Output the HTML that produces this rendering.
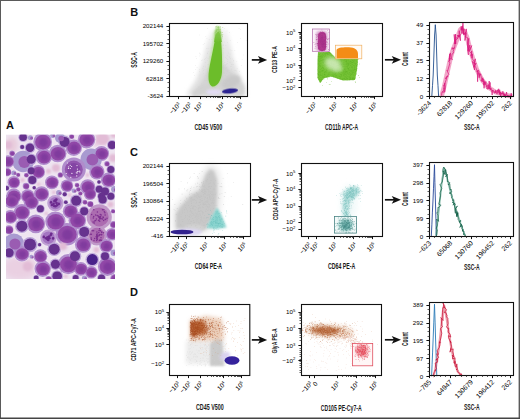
<!DOCTYPE html>
<html><head><meta charset="utf-8"><style>
html,body{margin:0;padding:0;background:#fff;}
svg{display:block;}
text{font-family:"Liberation Sans", sans-serif;}
</style></head><body>
<svg width="520" height="419" viewBox="0 0 520 419">
<rect x="0" y="0" width="520" height="419" fill="#fff"/>
<rect x="0" y="0" width="520" height="1" fill="#5a5a5a"/>
<rect x="0" y="0" width="1" height="419" fill="#5a5a5a"/>
<rect x="518.6" y="0" width="1.4" height="419" fill="#5a5a5a"/>
<rect x="0" y="417.5" width="520" height="1.5" fill="#444"/>
<defs>
<filter id="b03" x="0" y="0" width="100%" height="100%"><feGaussianBlur stdDeviation="0.35"/></filter>
<filter id="b05" x="-50%" y="-50%" width="200%" height="200%"><feGaussianBlur stdDeviation="0.5"/></filter>
<filter id="b1" x="-50%" y="-50%" width="200%" height="200%"><feGaussianBlur stdDeviation="1"/></filter>
<filter id="b15" x="-50%" y="-50%" width="200%" height="200%"><feGaussianBlur stdDeviation="1.5"/></filter>
<filter id="b2" x="-50%" y="-50%" width="200%" height="200%"><feGaussianBlur stdDeviation="2"/></filter>
<filter id="b3" x="-50%" y="-50%" width="200%" height="200%"><feGaussianBlur stdDeviation="3"/></filter>
<filter id="b4" x="-50%" y="-50%" width="200%" height="200%"><feGaussianBlur stdDeviation="4"/></filter>
<linearGradient id="gw" x1="0" y1="0" x2="0" y2="1"><stop offset="0" stop-color="#f4f4f4"/><stop offset="0.35" stop-color="#e4e4e4"/><stop offset="1" stop-color="#dedede"/></linearGradient>
<linearGradient id="gg" x1="0" y1="0" x2="0" y2="1"><stop offset="0" stop-color="#6cbd2a" stop-opacity="0.1"/><stop offset="0.45" stop-color="#8cc858" stop-opacity="0.6"/><stop offset="1" stop-color="#6cbd2a"/></linearGradient>
<clipPath id="cm"><rect x="6" y="134.5" width="109" height="144.5"/></clipPath>
</defs>
<g clip-path="url(#cm)"><g filter="url(#b03)">
<rect x="6" y="134.5" width="109" height="144.5" fill="#eee4f0"/>
<ellipse cx="20" cy="268" rx="18" ry="12" fill="#ead0e2" opacity="1" filter="url(#b3)"/>
<ellipse cx="100" cy="140" rx="10" ry="6" fill="#e4c4dc" opacity="1" filter="url(#b2)"/>
<ellipse cx="60" cy="244" rx="8" ry="6" fill="#e4d4ec" opacity="1" filter="url(#b2)"/>
<ellipse cx="45" cy="187" rx="6" ry="5" fill="#ead8ec" opacity="1" filter="url(#b2)"/>
<ellipse cx="26" cy="138" rx="6" ry="4" fill="#e8d4e4" opacity="1" filter="url(#b2)"/>
<ellipse cx="12" cy="145" rx="6" ry="8" fill="#e8ccdc" opacity="1" filter="url(#b2)"/>
<circle cx="23.1" cy="137.3" r="5.4" fill="#f0e8f4" opacity="0.85" filter="url(#b05)"/>
<circle cx="42.7" cy="141.9" r="10.6" fill="#f0e8f4" opacity="0.85" filter="url(#b05)"/>
<circle cx="64.6" cy="141.9" r="7.1" fill="#f0e8f4" opacity="0.85" filter="url(#b05)"/>
<circle cx="86.5" cy="139.6" r="9.9" fill="#f0e8f4" opacity="0.85" filter="url(#b05)"/>
<circle cx="30" cy="147.7" r="6.0" fill="#f0e8f4" opacity="0.85" filter="url(#b05)"/>
<circle cx="57.7" cy="153.5" r="9.9" fill="#f0e8f4" opacity="0.85" filter="url(#b05)"/>
<circle cx="73.8" cy="147.7" r="9.2" fill="#f0e8f4" opacity="0.85" filter="url(#b05)"/>
<circle cx="101.5" cy="153.5" r="8.5" fill="#f0e8f4" opacity="0.85" filter="url(#b05)"/>
<circle cx="23.1" cy="161.5" r="12.1" fill="#f0e8f4" opacity="0.85" filter="url(#b05)"/>
<circle cx="43.8" cy="156.9" r="9.2" fill="#f0e8f4" opacity="0.85" filter="url(#b05)"/>
<circle cx="31.2" cy="159.2" r="6.4" fill="#f0e8f4" opacity="0.85" filter="url(#b05)"/>
<circle cx="91.2" cy="159.2" r="12.1" fill="#f0e8f4" opacity="0.85" filter="url(#b05)"/>
<circle cx="8" cy="161.5" r="7.1" fill="#f0e8f4" opacity="0.85" filter="url(#b05)"/>
<circle cx="73.8" cy="169.6" r="13.5" fill="#f0e8f4" opacity="0.85" filter="url(#b05)"/>
<circle cx="38.1" cy="171.9" r="7.8" fill="#f0e8f4" opacity="0.85" filter="url(#b05)"/>
<circle cx="31.2" cy="170.8" r="5.0" fill="#f0e8f4" opacity="0.85" filter="url(#b05)"/>
<circle cx="96.9" cy="171.9" r="8.5" fill="#f0e8f4" opacity="0.85" filter="url(#b05)"/>
<circle cx="110.8" cy="169.6" r="5.0" fill="#f0e8f4" opacity="0.85" filter="url(#b05)"/>
<circle cx="108.5" cy="180" r="8.5" fill="#f0e8f4" opacity="0.85" filter="url(#b05)"/>
<circle cx="51.9" cy="182.3" r="7.8" fill="#f0e8f4" opacity="0.85" filter="url(#b05)"/>
<circle cx="32.3" cy="180" r="5.7" fill="#f0e8f4" opacity="0.85" filter="url(#b05)"/>
<circle cx="13.8" cy="182.3" r="7.1" fill="#f0e8f4" opacity="0.85" filter="url(#b05)"/>
<circle cx="66.9" cy="185.8" r="7.1" fill="#f0e8f4" opacity="0.85" filter="url(#b05)"/>
<circle cx="87.7" cy="186.9" r="8.5" fill="#f0e8f4" opacity="0.85" filter="url(#b05)"/>
<circle cx="27.7" cy="196.2" r="7.8" fill="#f0e8f4" opacity="0.85" filter="url(#b05)"/>
<circle cx="13.8" cy="196.2" r="8.5" fill="#f0e8f4" opacity="0.85" filter="url(#b05)"/>
<circle cx="41.5" cy="193.8" r="8.5" fill="#f0e8f4" opacity="0.85" filter="url(#b05)"/>
<circle cx="99.2" cy="189.2" r="5.0" fill="#f0e8f4" opacity="0.85" filter="url(#b05)"/>
<circle cx="105" cy="191.5" r="5.7" fill="#f0e8f4" opacity="0.85" filter="url(#b05)"/>
<circle cx="110.8" cy="196.2" r="5.0" fill="#f0e8f4" opacity="0.85" filter="url(#b05)"/>
<circle cx="101.5" cy="196.2" r="5.0" fill="#f0e8f4" opacity="0.85" filter="url(#b05)"/>
<circle cx="90" cy="193.8" r="7.1" fill="#f0e8f4" opacity="0.85" filter="url(#b05)"/>
<circle cx="112" cy="145" r="5.7" fill="#f0e8f4" opacity="0.85" filter="url(#b05)"/>
<circle cx="60" cy="138" r="5.7" fill="#f0e8f4" opacity="0.85" filter="url(#b05)"/>
<circle cx="11.5" cy="200.8" r="8.5" fill="#f0e8f4" opacity="0.85" filter="url(#b05)"/>
<circle cx="31.2" cy="201.9" r="8.5" fill="#f0e8f4" opacity="0.85" filter="url(#b05)"/>
<circle cx="55.4" cy="203.1" r="9.2" fill="#f0e8f4" opacity="0.85" filter="url(#b05)"/>
<circle cx="76.2" cy="200.8" r="7.1" fill="#f0e8f4" opacity="0.85" filter="url(#b05)"/>
<circle cx="102.7" cy="199.6" r="5.7" fill="#f0e8f4" opacity="0.85" filter="url(#b05)"/>
<circle cx="21.9" cy="212.3" r="9.2" fill="#f0e8f4" opacity="0.85" filter="url(#b05)"/>
<circle cx="40.4" cy="208.8" r="5.0" fill="#f0e8f4" opacity="0.85" filter="url(#b05)"/>
<circle cx="70.4" cy="211.2" r="8.5" fill="#f0e8f4" opacity="0.85" filter="url(#b05)"/>
<circle cx="84.2" cy="211.2" r="5.7" fill="#f0e8f4" opacity="0.85" filter="url(#b05)"/>
<circle cx="99.2" cy="216.9" r="14.2" fill="#f0e8f4" opacity="0.85" filter="url(#b05)"/>
<circle cx="10.4" cy="216.9" r="7.8" fill="#f0e8f4" opacity="0.85" filter="url(#b05)"/>
<circle cx="35.8" cy="223.8" r="10.6" fill="#f0e8f4" opacity="0.85" filter="url(#b05)"/>
<circle cx="55.4" cy="221.5" r="11.4" fill="#f0e8f4" opacity="0.85" filter="url(#b05)"/>
<circle cx="21.9" cy="226.2" r="7.8" fill="#f0e8f4" opacity="0.85" filter="url(#b05)"/>
<circle cx="77.3" cy="220.4" r="9.9" fill="#f0e8f4" opacity="0.85" filter="url(#b05)"/>
<circle cx="48.5" cy="237.7" r="9.2" fill="#f0e8f4" opacity="0.85" filter="url(#b05)"/>
<circle cx="66.9" cy="234.2" r="12.8" fill="#f0e8f4" opacity="0.85" filter="url(#b05)"/>
<circle cx="84.2" cy="231.9" r="7.1" fill="#f0e8f4" opacity="0.85" filter="url(#b05)"/>
<circle cx="96.9" cy="235.4" r="11.4" fill="#f0e8f4" opacity="0.85" filter="url(#b05)"/>
<circle cx="111.9" cy="234.2" r="7.1" fill="#f0e8f4" opacity="0.85" filter="url(#b05)"/>
<circle cx="13.8" cy="243.5" r="11.4" fill="#f0e8f4" opacity="0.85" filter="url(#b05)"/>
<circle cx="30" cy="244.6" r="8.5" fill="#f0e8f4" opacity="0.85" filter="url(#b05)"/>
<circle cx="54.2" cy="249.2" r="7.8" fill="#f0e8f4" opacity="0.85" filter="url(#b05)"/>
<circle cx="83.1" cy="244.6" r="9.2" fill="#f0e8f4" opacity="0.85" filter="url(#b05)"/>
<circle cx="106.2" cy="245.8" r="7.8" fill="#f0e8f4" opacity="0.85" filter="url(#b05)"/>
<circle cx="9.2" cy="252.7" r="6.4" fill="#f0e8f4" opacity="0.85" filter="url(#b05)"/>
<circle cx="21.9" cy="253.8" r="8.5" fill="#f0e8f4" opacity="0.85" filter="url(#b05)"/>
<circle cx="40.4" cy="256.2" r="7.8" fill="#f0e8f4" opacity="0.85" filter="url(#b05)"/>
<circle cx="55.4" cy="264.2" r="6.4" fill="#f0e8f4" opacity="0.85" filter="url(#b05)"/>
<circle cx="68.1" cy="264.2" r="11.4" fill="#f0e8f4" opacity="0.85" filter="url(#b05)"/>
<circle cx="75" cy="256.2" r="7.1" fill="#f0e8f4" opacity="0.85" filter="url(#b05)"/>
<circle cx="92.3" cy="259.6" r="7.8" fill="#f0e8f4" opacity="0.85" filter="url(#b05)"/>
<circle cx="105" cy="256.2" r="5.7" fill="#f0e8f4" opacity="0.85" filter="url(#b05)"/>
<circle cx="42.7" cy="268.8" r="9.2" fill="#f0e8f4" opacity="0.85" filter="url(#b05)"/>
<circle cx="80.8" cy="268.8" r="7.8" fill="#f0e8f4" opacity="0.85" filter="url(#b05)"/>
<circle cx="91.2" cy="272.3" r="7.1" fill="#f0e8f4" opacity="0.85" filter="url(#b05)"/>
<circle cx="107.3" cy="266.5" r="10.6" fill="#f0e8f4" opacity="0.85" filter="url(#b05)"/>
<circle cx="101.5" cy="278" r="5.0" fill="#f0e8f4" opacity="0.85" filter="url(#b05)"/>
<circle cx="114.7" cy="278.4" r="5.1" fill="#f0e8f4" opacity="0.85" filter="url(#b05)"/>
<circle cx="57.2" cy="276.2" r="6.8" fill="#f0e8f4" opacity="0.85" filter="url(#b05)"/>
<circle cx="78.2" cy="189.3" r="2.6" fill="#f0e8f4" opacity="0.85" filter="url(#b05)"/>
<circle cx="75.7" cy="278.0" r="4.1" fill="#f0e8f4" opacity="0.85" filter="url(#b05)"/>
<circle cx="64.7" cy="194.3" r="2.8" fill="#f0e8f4" opacity="0.85" filter="url(#b05)"/>
<circle cx="71.5" cy="136.4" r="2.8" fill="#f0e8f4" opacity="0.85" filter="url(#b05)"/>
<circle cx="48.5" cy="279.0" r="3.5" fill="#f0e8f4" opacity="0.85" filter="url(#b05)"/>
<circle cx="84.8" cy="202.2" r="2.7" fill="#f0e8f4" opacity="0.85" filter="url(#b05)"/>
<circle cx="7.0" cy="172.0" r="4.8" fill="#f0e8f4" opacity="0.85" filter="url(#b05)"/>
<circle cx="26.2" cy="175.1" r="2.6" fill="#f0e8f4" opacity="0.85" filter="url(#b05)"/>
<circle cx="58.8" cy="192.7" r="3.1" fill="#f0e8f4" opacity="0.85" filter="url(#b05)"/>
<circle cx="8.9" cy="229.8" r="5.1" fill="#f0e8f4" opacity="0.85" filter="url(#b05)"/>
<circle cx="60.2" cy="174.9" r="3.0" fill="#f0e8f4" opacity="0.85" filter="url(#b05)"/>
<circle cx="106.9" cy="163.7" r="3.0" fill="#f0e8f4" opacity="0.85" filter="url(#b05)"/>
<circle cx="113.8" cy="252.7" r="3.7" fill="#f0e8f4" opacity="0.85" filter="url(#b05)"/>
<circle cx="90.2" cy="204.0" r="3.5" fill="#f0e8f4" opacity="0.85" filter="url(#b05)"/>
<circle cx="36.2" cy="277.9" r="3.4" fill="#f0e8f4" opacity="0.85" filter="url(#b05)"/>
<circle cx="26.0" cy="186.1" r="3.7" fill="#f0e8f4" opacity="0.85" filter="url(#b05)"/>
<circle cx="114.4" cy="189.2" r="3.7" fill="#f0e8f4" opacity="0.85" filter="url(#b05)"/>
<circle cx="13.8" cy="172.9" r="2.8" fill="#f0e8f4" opacity="0.85" filter="url(#b05)"/>
<circle cx="34.2" cy="187.7" r="2.3" fill="#f0e8f4" opacity="0.85" filter="url(#b05)"/>
<circle cx="113.4" cy="224.5" r="4.0" fill="#f0e8f4" opacity="0.85" filter="url(#b05)"/>
<circle cx="80.2" cy="193.4" r="2.4" fill="#f0e8f4" opacity="0.85" filter="url(#b05)"/>
<circle cx="30.4" cy="137.7" r="2.8" fill="#f0e8f4" opacity="0.85" filter="url(#b05)"/>
<circle cx="112.9" cy="211.2" r="2.4" fill="#f0e8f4" opacity="0.85" filter="url(#b05)"/>
<circle cx="12.0" cy="153.3" r="3.1" fill="#f0e8f4" opacity="0.85" filter="url(#b05)"/>
<circle cx="39.6" cy="244.7" r="2.3" fill="#f0e8f4" opacity="0.85" filter="url(#b05)"/>
<circle cx="6.8" cy="188.1" r="3.1" fill="#f0e8f4" opacity="0.85" filter="url(#b05)"/>
<circle cx="65.8" cy="202.2" r="2.6" fill="#f0e8f4" opacity="0.85" filter="url(#b05)"/>
<circle cx="22.2" cy="147.0" r="2.8" fill="#f0e8f4" opacity="0.85" filter="url(#b05)"/>
<circle cx="52.7" cy="135.4" r="2.8" fill="#f0e8f4" opacity="0.85" filter="url(#b05)"/>
<circle cx="18.0" cy="174.7" r="2.3" fill="#f0e8f4" opacity="0.85" filter="url(#b05)"/>
<circle cx="73.9" cy="190.8" r="2.6" fill="#f0e8f4" opacity="0.85" filter="url(#b05)"/>
<circle cx="99.0" cy="182.0" r="2.4" fill="#f0e8f4" opacity="0.85" filter="url(#b05)"/>
<circle cx="31.4" cy="256.8" r="2.3" fill="#f0e8f4" opacity="0.85" filter="url(#b05)"/>
<circle cx="76.9" cy="185.0" r="2.6" fill="#f0e8f4" opacity="0.85" filter="url(#b05)"/>
<circle cx="84.4" cy="278.1" r="2.8" fill="#f0e8f4" opacity="0.85" filter="url(#b05)"/>
<circle cx="23.1" cy="137.3" r="4.8" fill="#bca6d8" filter="url(#b05)"/>
<circle cx="42.7" cy="141.9" r="9.4" fill="#b08ccc" filter="url(#b05)"/>
<circle cx="64.6" cy="141.9" r="6.3" fill="#bca6d8" filter="url(#b05)"/>
<circle cx="86.5" cy="139.6" r="8.8" fill="#b08ccc" filter="url(#b05)"/>
<circle cx="102.7" cy="138.5" r="6" fill="#e2bcd6" filter="url(#b1)"/>
<circle cx="30" cy="147.7" r="5.3" fill="#bca6d8" filter="url(#b05)"/>
<circle cx="57.7" cy="153.5" r="8.8" fill="#b08ccc" filter="url(#b05)"/>
<circle cx="73.8" cy="147.7" r="8.2" fill="#b08ccc" filter="url(#b05)"/>
<circle cx="101.5" cy="153.5" r="7.6" fill="#b08ccc" filter="url(#b05)"/>
<circle cx="23.1" cy="161.5" r="10.7" fill="#a89ad0" filter="url(#b05)"/>
<circle cx="43.8" cy="156.9" r="8.2" fill="#b08ccc" filter="url(#b05)"/>
<circle cx="31.2" cy="159.2" r="5.7" fill="#bca6d8" filter="url(#b05)"/>
<circle cx="91.2" cy="159.2" r="10.7" fill="#a89ad0" filter="url(#b05)"/>
<circle cx="8" cy="161.5" r="6.3" fill="#b08ccc" filter="url(#b05)"/>
<circle cx="73.8" cy="169.6" r="12.0" fill="#b08ccc" filter="url(#b05)"/>
<circle cx="38.1" cy="171.9" r="6.9" fill="#b08ccc" filter="url(#b05)"/>
<circle cx="31.2" cy="170.8" r="4.4" fill="#bca6d8" filter="url(#b05)"/>
<circle cx="96.9" cy="171.9" r="7.6" fill="#b08ccc" filter="url(#b05)"/>
<circle cx="110.8" cy="169.6" r="4.4" fill="#bca6d8" filter="url(#b05)"/>
<circle cx="108.5" cy="180" r="7.6" fill="#b08ccc" filter="url(#b05)"/>
<circle cx="51.9" cy="182.3" r="6.9" fill="#b08ccc" filter="url(#b05)"/>
<circle cx="32.3" cy="180" r="5.0" fill="#bca6d8" filter="url(#b05)"/>
<circle cx="13.8" cy="182.3" r="6.3" fill="#b08ccc" filter="url(#b05)"/>
<circle cx="66.9" cy="185.8" r="6.3" fill="#b08ccc" filter="url(#b05)"/>
<circle cx="87.7" cy="186.9" r="7.6" fill="#b08ccc" filter="url(#b05)"/>
<circle cx="27.7" cy="196.2" r="6.9" fill="#b08ccc" filter="url(#b05)"/>
<circle cx="13.8" cy="196.2" r="7.6" fill="#b08ccc" filter="url(#b05)"/>
<circle cx="41.5" cy="193.8" r="7.6" fill="#b08ccc" filter="url(#b05)"/>
<circle cx="99.2" cy="189.2" r="4.4" fill="#bca6d8" filter="url(#b05)"/>
<circle cx="105" cy="191.5" r="5.0" fill="#bca6d8" filter="url(#b05)"/>
<circle cx="110.8" cy="196.2" r="4.4" fill="#bca6d8" filter="url(#b05)"/>
<circle cx="101.5" cy="196.2" r="4.4" fill="#bca6d8" filter="url(#b05)"/>
<circle cx="90" cy="193.8" r="6.3" fill="#b08ccc" filter="url(#b05)"/>
<circle cx="112" cy="145" r="5.0" fill="#bca6d8" filter="url(#b05)"/>
<circle cx="8" cy="145" r="4" fill="#e2bcd6" filter="url(#b1)"/>
<circle cx="56" cy="168" r="4" fill="#e2bcd6" filter="url(#b1)"/>
<circle cx="113" cy="158" r="4" fill="#e2bcd6" filter="url(#b1)"/>
<circle cx="60" cy="138" r="5.0" fill="#a89ad0" filter="url(#b05)"/>
<circle cx="11.5" cy="200.8" r="7.6" fill="#b08ccc" filter="url(#b05)"/>
<circle cx="31.2" cy="201.9" r="7.6" fill="#b08ccc" filter="url(#b05)"/>
<circle cx="55.4" cy="203.1" r="8.2" fill="#c0a0d4" filter="url(#b05)"/>
<circle cx="76.2" cy="200.8" r="6.3" fill="#bca6d8" filter="url(#b05)"/>
<circle cx="102.7" cy="199.6" r="5.0" fill="#bca6d8" filter="url(#b05)"/>
<circle cx="21.9" cy="212.3" r="8.2" fill="#b08ccc" filter="url(#b05)"/>
<circle cx="40.4" cy="208.8" r="4.4" fill="#bca6d8" filter="url(#b05)"/>
<circle cx="70.4" cy="211.2" r="7.6" fill="#b08ccc" filter="url(#b05)"/>
<circle cx="84.2" cy="211.2" r="5.0" fill="#bca6d8" filter="url(#b05)"/>
<circle cx="99.2" cy="216.9" r="12.6" fill="#c098c8" filter="url(#b05)"/>
<circle cx="10.4" cy="216.9" r="6.9" fill="#b08ccc" filter="url(#b05)"/>
<circle cx="35.8" cy="223.8" r="9.4" fill="#b08ccc" filter="url(#b05)"/>
<circle cx="55.4" cy="221.5" r="10.1" fill="#b08ccc" filter="url(#b05)"/>
<circle cx="21.9" cy="226.2" r="6.9" fill="#bca6d8" filter="url(#b05)"/>
<circle cx="77.3" cy="220.4" r="8.8" fill="#b08ccc" filter="url(#b05)"/>
<circle cx="48.5" cy="237.7" r="8.2" fill="#c0a0d4" filter="url(#b05)"/>
<circle cx="66.9" cy="234.2" r="11.3" fill="#b08ccc" filter="url(#b05)"/>
<circle cx="84.2" cy="231.9" r="6.3" fill="#bca6d8" filter="url(#b05)"/>
<circle cx="96.9" cy="235.4" r="10.1" fill="#c098c8" filter="url(#b05)"/>
<circle cx="111.9" cy="234.2" r="6.3" fill="#b08ccc" filter="url(#b05)"/>
<circle cx="13.8" cy="243.5" r="10.1" fill="#a89ad0" filter="url(#b05)"/>
<circle cx="30" cy="244.6" r="7.6" fill="#bca6d8" filter="url(#b05)"/>
<circle cx="54.2" cy="249.2" r="6.9" fill="#bca6d8" filter="url(#b05)"/>
<circle cx="83.1" cy="244.6" r="8.2" fill="#b08ccc" filter="url(#b05)"/>
<circle cx="106.2" cy="245.8" r="6.9" fill="#b08ccc" filter="url(#b05)"/>
<circle cx="9.2" cy="252.7" r="5.7" fill="#bca6d8" filter="url(#b05)"/>
<circle cx="21.9" cy="253.8" r="7.6" fill="#b08ccc" filter="url(#b05)"/>
<circle cx="40.4" cy="256.2" r="6.9" fill="#b08ccc" filter="url(#b05)"/>
<circle cx="55.4" cy="264.2" r="5.7" fill="#bca6d8" filter="url(#b05)"/>
<circle cx="68.1" cy="264.2" r="10.1" fill="#b08ccc" filter="url(#b05)"/>
<circle cx="75" cy="256.2" r="6.3" fill="#bca6d8" filter="url(#b05)"/>
<circle cx="92.3" cy="259.6" r="6.9" fill="#c4b0dc" filter="url(#b05)"/>
<circle cx="105" cy="256.2" r="5.0" fill="#bca6d8" filter="url(#b05)"/>
<circle cx="42.7" cy="268.8" r="8.2" fill="#b08ccc" filter="url(#b05)"/>
<circle cx="80.8" cy="268.8" r="6.9" fill="#b08ccc" filter="url(#b05)"/>
<circle cx="91.2" cy="272.3" r="6.3" fill="#b08ccc" filter="url(#b05)"/>
<circle cx="107.3" cy="266.5" r="9.4" fill="#b08ccc" filter="url(#b05)"/>
<circle cx="101.5" cy="278" r="4.4" fill="#bca6d8" filter="url(#b05)"/>
<circle cx="27.7" cy="266.5" r="5" fill="#e2bcd6" filter="url(#b1)"/>
<circle cx="63" cy="246" r="4" fill="#e2bcd6" filter="url(#b1)"/>
<circle cx="114.7" cy="278.4" r="4.5" fill="#b08ccc" filter="url(#b05)"/>
<circle cx="57.2" cy="276.2" r="6.0" fill="#bca6d8" filter="url(#b05)"/>
<circle cx="113.9" cy="134.6" r="3.4" fill="#e2bcd6" filter="url(#b1)"/>
<circle cx="110.5" cy="204.4" r="3.0" fill="#e2bcd6" filter="url(#b1)"/>
<circle cx="78.2" cy="189.3" r="2.3" fill="#b08ccc" filter="url(#b05)"/>
<circle cx="75.7" cy="278.0" r="3.7" fill="#bca6d8" filter="url(#b05)"/>
<circle cx="64.7" cy="194.3" r="2.5" fill="#bca6d8" filter="url(#b05)"/>
<circle cx="71.5" cy="136.4" r="2.5" fill="#b08ccc" filter="url(#b05)"/>
<circle cx="48.5" cy="279.0" r="3.1" fill="#b08ccc" filter="url(#b05)"/>
<circle cx="84.8" cy="202.2" r="2.4" fill="#b08ccc" filter="url(#b05)"/>
<circle cx="69.5" cy="195.1" r="1.8" fill="#e2bcd6" filter="url(#b1)"/>
<circle cx="7.0" cy="172.0" r="4.3" fill="#b08ccc" filter="url(#b05)"/>
<circle cx="26.2" cy="175.1" r="2.3" fill="#b08ccc" filter="url(#b05)"/>
<circle cx="58.8" cy="192.7" r="2.8" fill="#a89ad0" filter="url(#b05)"/>
<circle cx="8.9" cy="229.8" r="4.5" fill="#b08ccc" filter="url(#b05)"/>
<circle cx="46.2" cy="213.4" r="1.7" fill="#e2bcd6" filter="url(#b1)"/>
<circle cx="60.2" cy="174.9" r="2.6" fill="#b08ccc" filter="url(#b05)"/>
<circle cx="106.9" cy="163.7" r="2.6" fill="#b08ccc" filter="url(#b05)"/>
<circle cx="113.8" cy="252.7" r="3.3" fill="#a89ad0" filter="url(#b05)"/>
<circle cx="90.2" cy="204.0" r="3.1" fill="#b08ccc" filter="url(#b05)"/>
<circle cx="36.2" cy="277.9" r="3.0" fill="#bca6d8" filter="url(#b05)"/>
<circle cx="26.0" cy="186.1" r="3.3" fill="#b08ccc" filter="url(#b05)"/>
<circle cx="96.4" cy="249.8" r="2.9" fill="#e2bcd6" filter="url(#b1)"/>
<circle cx="114.4" cy="189.2" r="3.3" fill="#a89ad0" filter="url(#b05)"/>
<circle cx="13.8" cy="172.9" r="2.5" fill="#a89ad0" filter="url(#b05)"/>
<circle cx="34.2" cy="187.7" r="2.0" fill="#bca6d8" filter="url(#b05)"/>
<circle cx="22.5" cy="180.2" r="2.1" fill="#e2bcd6" filter="url(#b1)"/>
<circle cx="48.5" cy="171.2" r="2.5" fill="#e2bcd6" filter="url(#b1)"/>
<circle cx="113.4" cy="224.5" r="3.5" fill="#b08ccc" filter="url(#b05)"/>
<circle cx="80.2" cy="193.4" r="2.1" fill="#b08ccc" filter="url(#b05)"/>
<circle cx="30.4" cy="137.7" r="2.5" fill="#a89ad0" filter="url(#b05)"/>
<circle cx="112.9" cy="211.2" r="2.1" fill="#b08ccc" filter="url(#b05)"/>
<circle cx="38.5" cy="184.1" r="1.9" fill="#e2bcd6" filter="url(#b1)"/>
<circle cx="12.0" cy="153.3" r="2.8" fill="#b08ccc" filter="url(#b05)"/>
<circle cx="87.4" cy="175.0" r="1.9" fill="#e2bcd6" filter="url(#b1)"/>
<circle cx="39.6" cy="244.7" r="2.0" fill="#bca6d8" filter="url(#b05)"/>
<circle cx="53.8" cy="192.4" r="1.8" fill="#e2bcd6" filter="url(#b1)"/>
<circle cx="6.8" cy="188.1" r="2.8" fill="#bca6d8" filter="url(#b05)"/>
<circle cx="65.8" cy="202.2" r="2.3" fill="#bca6d8" filter="url(#b05)"/>
<circle cx="22.2" cy="147.0" r="2.5" fill="#bca6d8" filter="url(#b05)"/>
<circle cx="52.7" cy="135.4" r="2.5" fill="#a89ad0" filter="url(#b05)"/>
<circle cx="18.0" cy="174.7" r="2.0" fill="#b08ccc" filter="url(#b05)"/>
<circle cx="73.9" cy="190.8" r="2.3" fill="#a89ad0" filter="url(#b05)"/>
<circle cx="99.0" cy="182.0" r="2.1" fill="#bca6d8" filter="url(#b05)"/>
<circle cx="31.4" cy="256.8" r="2.0" fill="#a89ad0" filter="url(#b05)"/>
<circle cx="65.8" cy="276.3" r="1.8" fill="#e2bcd6" filter="url(#b1)"/>
<circle cx="76.9" cy="185.0" r="2.3" fill="#b08ccc" filter="url(#b05)"/>
<circle cx="84.4" cy="278.1" r="2.5" fill="#a89ad0" filter="url(#b05)"/>
<circle cx="23.1" cy="137.3" r="3.8" fill="#66308e" filter="url(#b05)"/>
<ellipse cx="43.0" cy="142.1" rx="7.9" ry="7.3" fill="#924aa8" filter="url(#b05)"/>
<circle cx="43.300000000000004" cy="142.4" r="4.5" fill="#803a9e" filter="url(#b1)"/>
<circle cx="64.6" cy="141.9" r="5" fill="#66308e" filter="url(#b05)"/>
<ellipse cx="86.8" cy="139.79999999999998" rx="7.4" ry="6.8" fill="#924aa8" filter="url(#b05)"/>
<circle cx="87.1" cy="140.1" r="4.2" fill="#803a9e" filter="url(#b1)"/>
<circle cx="30" cy="147.7" r="4.2" fill="#66308e" filter="url(#b05)"/>
<ellipse cx="58.0" cy="153.7" rx="7.4" ry="6.8" fill="#924aa8" filter="url(#b05)"/>
<circle cx="58.300000000000004" cy="154.0" r="4.2" fill="#803a9e" filter="url(#b1)"/>
<ellipse cx="74.1" cy="147.89999999999998" rx="6.8" ry="6.3" fill="#924aa8" filter="url(#b05)"/>
<circle cx="74.39999999999999" cy="148.2" r="3.9" fill="#803a9e" filter="url(#b1)"/>
<ellipse cx="101.8" cy="153.7" rx="6.3" ry="5.8" fill="#924aa8" filter="url(#b05)"/>
<circle cx="102.1" cy="154.0" r="3.6" fill="#803a9e" filter="url(#b1)"/>
<circle cx="24.3" cy="162.0" r="5.9" fill="#9a5cb2" filter="url(#b05)"/>
<ellipse cx="44.099999999999994" cy="157.1" rx="6.8" ry="6.3" fill="#924aa8" filter="url(#b05)"/>
<circle cx="44.4" cy="157.4" r="3.9" fill="#803a9e" filter="url(#b1)"/>
<circle cx="31.2" cy="159.2" r="4.5" fill="#66308e" filter="url(#b05)"/>
<circle cx="92.4" cy="159.7" r="5.9" fill="#9a5cb2" filter="url(#b05)"/>
<ellipse cx="8.3" cy="161.7" rx="5.2" ry="4.8" fill="#924aa8" filter="url(#b05)"/>
<circle cx="8.6" cy="162.0" r="3.0" fill="#803a9e" filter="url(#b1)"/>
<circle cx="73.8" cy="169.6" r="9.0" fill="#9254ae" filter="url(#b05)"/>
<circle cx="73.8" cy="169.6" r="6.6" fill="#8444a4" filter="url(#b05)"/>
<circle cx="71.9" cy="173.4" r="0.6" fill="#f6eef8"/>
<circle cx="71.6" cy="166.5" r="0.6" fill="#f6eef8"/>
<circle cx="68.4" cy="168.4" r="0.6" fill="#f6eef8"/>
<circle cx="79.8" cy="171.9" r="0.6" fill="#f6eef8"/>
<circle cx="79.6" cy="171.0" r="0.6" fill="#f6eef8"/>
<circle cx="77.3" cy="171.3" r="0.6" fill="#f6eef8"/>
<circle cx="66.3" cy="173.5" r="0.6" fill="#f6eef8"/>
<circle cx="77.2" cy="172.9" r="0.6" fill="#f6eef8"/>
<circle cx="67.4" cy="163.0" r="0.6" fill="#f6eef8"/>
<circle cx="68.7" cy="166.9" r="0.6" fill="#f6eef8"/>
<circle cx="77.4" cy="169.1" r="0.6" fill="#f6eef8"/>
<circle cx="77.0" cy="165.6" r="0.6" fill="#f6eef8"/>
<circle cx="76.3" cy="172.8" r="0.6" fill="#f6eef8"/>
<circle cx="70.8" cy="177.4" r="0.6" fill="#f6eef8"/>
<circle cx="76.7" cy="175.9" r="0.6" fill="#f6eef8"/>
<circle cx="70.2" cy="165.3" r="0.6" fill="#f6eef8"/>
<circle cx="70.3" cy="168.5" r="0.6" fill="#f6eef8"/>
<circle cx="78.1" cy="171.3" r="0.6" fill="#f6eef8"/>
<ellipse cx="38.4" cy="172.1" rx="5.8" ry="5.3" fill="#924aa8" filter="url(#b05)"/>
<circle cx="38.7" cy="172.4" r="3.3" fill="#803a9e" filter="url(#b1)"/>
<circle cx="31.2" cy="170.8" r="3.5" fill="#66308e" filter="url(#b05)"/>
<ellipse cx="97.2" cy="172.1" rx="6.3" ry="5.8" fill="#924aa8" filter="url(#b05)"/>
<circle cx="97.5" cy="172.4" r="3.6" fill="#803a9e" filter="url(#b1)"/>
<circle cx="110.8" cy="169.6" r="3.5" fill="#66308e" filter="url(#b05)"/>
<ellipse cx="108.8" cy="180.2" rx="6.3" ry="5.8" fill="#924aa8" filter="url(#b05)"/>
<circle cx="109.1" cy="180.5" r="3.6" fill="#803a9e" filter="url(#b1)"/>
<ellipse cx="52.199999999999996" cy="182.5" rx="5.8" ry="5.3" fill="#924aa8" filter="url(#b05)"/>
<circle cx="52.5" cy="182.8" r="3.3" fill="#803a9e" filter="url(#b1)"/>
<circle cx="32.3" cy="180" r="4" fill="#66308e" filter="url(#b05)"/>
<ellipse cx="14.100000000000001" cy="182.5" rx="5.2" ry="4.8" fill="#924aa8" filter="url(#b05)"/>
<circle cx="14.4" cy="182.8" r="3.0" fill="#803a9e" filter="url(#b1)"/>
<ellipse cx="67.2" cy="186.0" rx="5.2" ry="4.8" fill="#924aa8" filter="url(#b05)"/>
<circle cx="67.5" cy="186.3" r="3.0" fill="#803a9e" filter="url(#b1)"/>
<ellipse cx="88.0" cy="187.1" rx="6.3" ry="5.8" fill="#924aa8" filter="url(#b05)"/>
<circle cx="88.3" cy="187.4" r="3.6" fill="#803a9e" filter="url(#b1)"/>
<ellipse cx="28.0" cy="196.39999999999998" rx="5.8" ry="5.3" fill="#924aa8" filter="url(#b05)"/>
<circle cx="28.3" cy="196.7" r="3.3" fill="#803a9e" filter="url(#b1)"/>
<ellipse cx="14.100000000000001" cy="196.39999999999998" rx="6.3" ry="5.8" fill="#924aa8" filter="url(#b05)"/>
<circle cx="14.4" cy="196.7" r="3.6" fill="#803a9e" filter="url(#b1)"/>
<ellipse cx="41.8" cy="194.0" rx="6.3" ry="5.8" fill="#924aa8" filter="url(#b05)"/>
<circle cx="42.1" cy="194.3" r="3.6" fill="#803a9e" filter="url(#b1)"/>
<circle cx="99.2" cy="189.2" r="3.5" fill="#66308e" filter="url(#b05)"/>
<circle cx="105" cy="191.5" r="4" fill="#66308e" filter="url(#b05)"/>
<circle cx="110.8" cy="196.2" r="3.5" fill="#66308e" filter="url(#b05)"/>
<circle cx="101.5" cy="196.2" r="3.5" fill="#66308e" filter="url(#b05)"/>
<ellipse cx="90.3" cy="194.0" rx="5.2" ry="4.8" fill="#924aa8" filter="url(#b05)"/>
<circle cx="90.6" cy="194.3" r="3.0" fill="#803a9e" filter="url(#b1)"/>
<circle cx="112" cy="145" r="4" fill="#66308e" filter="url(#b05)"/>
<circle cx="61.2" cy="138.5" r="2.8" fill="#9a5cb2" filter="url(#b05)"/>
<ellipse cx="11.8" cy="201.0" rx="6.3" ry="5.8" fill="#924aa8" filter="url(#b05)"/>
<circle cx="12.1" cy="201.3" r="3.6" fill="#803a9e" filter="url(#b1)"/>
<ellipse cx="31.5" cy="202.1" rx="6.3" ry="5.8" fill="#924aa8" filter="url(#b05)"/>
<circle cx="31.8" cy="202.4" r="3.6" fill="#803a9e" filter="url(#b1)"/>
<circle cx="55.4" cy="203.1" r="6.2" fill="#a474c2" filter="url(#b05)"/>
<circle cx="54.4" cy="200.9" r="1.3" fill="#6c2a8e"/>
<circle cx="54.2" cy="206.0" r="1.3" fill="#6c2a8e"/>
<circle cx="53.6" cy="203.7" r="1.3" fill="#6c2a8e"/>
<circle cx="56.4" cy="199.6" r="1.3" fill="#6c2a8e"/>
<circle cx="55.5" cy="206.2" r="1.3" fill="#6c2a8e"/>
<circle cx="51.1" cy="202.4" r="1.3" fill="#6c2a8e"/>
<circle cx="55.2" cy="201.2" r="1.3" fill="#6c2a8e"/>
<circle cx="56.5" cy="203.0" r="1.3" fill="#6c2a8e"/>
<circle cx="52.0" cy="205.0" r="1.3" fill="#6c2a8e"/>
<circle cx="57.0" cy="205.3" r="1.3" fill="#6c2a8e"/>
<circle cx="58.8" cy="203.9" r="1.3" fill="#6c2a8e"/>
<circle cx="55.7" cy="200.0" r="1.3" fill="#6c2a8e"/>
<circle cx="76.2" cy="200.8" r="5" fill="#66308e" filter="url(#b05)"/>
<circle cx="102.7" cy="199.6" r="4" fill="#66308e" filter="url(#b05)"/>
<ellipse cx="22.2" cy="212.5" rx="6.8" ry="6.3" fill="#924aa8" filter="url(#b05)"/>
<circle cx="22.5" cy="212.8" r="3.9" fill="#803a9e" filter="url(#b1)"/>
<circle cx="40.4" cy="208.8" r="3.5" fill="#66308e" filter="url(#b05)"/>
<ellipse cx="70.7" cy="211.39999999999998" rx="6.3" ry="5.8" fill="#924aa8" filter="url(#b05)"/>
<circle cx="71.0" cy="211.7" r="3.6" fill="#803a9e" filter="url(#b1)"/>
<circle cx="84.2" cy="211.2" r="4" fill="#66308e" filter="url(#b05)"/>
<circle cx="99.2" cy="216.9" r="9.5" fill="#ac6cb0" filter="url(#b05)"/>
<circle cx="101.2" cy="214.9" r="0.75" fill="#7e3090"/>
<circle cx="97.4" cy="211.9" r="0.75" fill="#7e3090"/>
<circle cx="95.6" cy="214.9" r="0.75" fill="#7e3090"/>
<circle cx="103.8" cy="209.7" r="0.75" fill="#7e3090"/>
<circle cx="93.3" cy="217.9" r="0.75" fill="#7e3090"/>
<circle cx="105.1" cy="219.2" r="0.75" fill="#7e3090"/>
<circle cx="93.8" cy="209.8" r="0.75" fill="#7e3090"/>
<circle cx="100.3" cy="214.6" r="0.75" fill="#7e3090"/>
<circle cx="94.7" cy="220.9" r="0.75" fill="#7e3090"/>
<circle cx="103.3" cy="217.5" r="0.75" fill="#7e3090"/>
<circle cx="99.7" cy="217.8" r="0.75" fill="#7e3090"/>
<circle cx="105.6" cy="219.4" r="0.75" fill="#7e3090"/>
<circle cx="100.7" cy="218.5" r="0.75" fill="#7e3090"/>
<circle cx="93.1" cy="221.9" r="0.75" fill="#7e3090"/>
<circle cx="102.7" cy="218.9" r="0.75" fill="#7e3090"/>
<circle cx="91.6" cy="214.5" r="0.75" fill="#7e3090"/>
<circle cx="102.5" cy="209.8" r="0.75" fill="#7e3090"/>
<circle cx="98.5" cy="220.6" r="0.75" fill="#7e3090"/>
<circle cx="94.2" cy="223.1" r="0.75" fill="#7e3090"/>
<circle cx="100.5" cy="216.5" r="0.75" fill="#7e3090"/>
<circle cx="100.1" cy="218.8" r="0.75" fill="#7e3090"/>
<circle cx="99.7" cy="221.2" r="0.75" fill="#7e3090"/>
<circle cx="97.2" cy="215.6" r="0.75" fill="#7e3090"/>
<circle cx="103.0" cy="217.0" r="0.75" fill="#7e3090"/>
<circle cx="95.7" cy="220.6" r="0.75" fill="#7e3090"/>
<circle cx="105.1" cy="215.1" r="0.75" fill="#7e3090"/>
<circle cx="93.7" cy="216.4" r="0.75" fill="#7e3090"/>
<circle cx="99.0" cy="216.5" r="0.75" fill="#7e3090"/>
<circle cx="104.9" cy="212.8" r="0.75" fill="#7e3090"/>
<circle cx="104.3" cy="211.8" r="0.75" fill="#7e3090"/>
<circle cx="96.4" cy="219.1" r="0.75" fill="#7e3090"/>
<circle cx="103.7" cy="220.4" r="0.75" fill="#7e3090"/>
<circle cx="99.8" cy="217.1" r="0.75" fill="#7e3090"/>
<circle cx="99.6" cy="218.3" r="0.75" fill="#7e3090"/>
<circle cx="98.9" cy="217.3" r="0.75" fill="#7e3090"/>
<circle cx="100.6" cy="216.9" r="0.75" fill="#7e3090"/>
<circle cx="101.8" cy="218.8" r="0.75" fill="#7e3090"/>
<circle cx="107.0" cy="218.2" r="0.75" fill="#7e3090"/>
<circle cx="98.2" cy="216.0" r="0.75" fill="#7e3090"/>
<circle cx="99.2" cy="220.0" r="0.75" fill="#7e3090"/>
<ellipse cx="10.700000000000001" cy="217.1" rx="5.8" ry="5.3" fill="#924aa8" filter="url(#b05)"/>
<circle cx="11.0" cy="217.4" r="3.3" fill="#803a9e" filter="url(#b1)"/>
<ellipse cx="36.099999999999994" cy="224.0" rx="7.9" ry="7.3" fill="#924aa8" filter="url(#b05)"/>
<circle cx="36.4" cy="224.3" r="4.5" fill="#803a9e" filter="url(#b1)"/>
<ellipse cx="55.699999999999996" cy="221.7" rx="8.4" ry="7.8" fill="#924aa8" filter="url(#b05)"/>
<circle cx="56.0" cy="222.0" r="4.8" fill="#803a9e" filter="url(#b1)"/>
<circle cx="21.9" cy="226.2" r="5.5" fill="#66308e" filter="url(#b05)"/>
<ellipse cx="77.6" cy="220.6" rx="7.4" ry="6.8" fill="#924aa8" filter="url(#b05)"/>
<circle cx="77.89999999999999" cy="220.9" r="4.2" fill="#803a9e" filter="url(#b1)"/>
<circle cx="48.5" cy="237.7" r="6.2" fill="#a474c2" filter="url(#b05)"/>
<circle cx="47.7" cy="238.6" r="1.3" fill="#6c2a8e"/>
<circle cx="51.3" cy="233.8" r="1.3" fill="#6c2a8e"/>
<circle cx="45.9" cy="238.3" r="1.3" fill="#6c2a8e"/>
<circle cx="49.4" cy="238.3" r="1.3" fill="#6c2a8e"/>
<circle cx="47.5" cy="239.2" r="1.3" fill="#6c2a8e"/>
<circle cx="49.1" cy="236.5" r="1.3" fill="#6c2a8e"/>
<circle cx="53.1" cy="238.4" r="1.3" fill="#6c2a8e"/>
<circle cx="47.3" cy="237.5" r="1.3" fill="#6c2a8e"/>
<circle cx="47.8" cy="237.5" r="1.3" fill="#6c2a8e"/>
<circle cx="43.8" cy="236.9" r="1.3" fill="#6c2a8e"/>
<circle cx="50.8" cy="235.0" r="1.3" fill="#6c2a8e"/>
<circle cx="48.3" cy="239.9" r="1.3" fill="#6c2a8e"/>
<ellipse cx="67.2" cy="234.39999999999998" rx="9.5" ry="8.7" fill="#924aa8" filter="url(#b05)"/>
<circle cx="67.5" cy="234.7" r="5.4" fill="#803a9e" filter="url(#b1)"/>
<circle cx="84.2" cy="231.9" r="5" fill="#66308e" filter="url(#b05)"/>
<circle cx="96.9" cy="235.4" r="7.6" fill="#ac6cb0" filter="url(#b05)"/>
<circle cx="99.7" cy="240.2" r="0.75" fill="#7e3090"/>
<circle cx="91.4" cy="234.3" r="0.75" fill="#7e3090"/>
<circle cx="96.1" cy="236.8" r="0.75" fill="#7e3090"/>
<circle cx="99.6" cy="228.8" r="0.75" fill="#7e3090"/>
<circle cx="100.4" cy="230.8" r="0.75" fill="#7e3090"/>
<circle cx="99.1" cy="230.6" r="0.75" fill="#7e3090"/>
<circle cx="97.4" cy="239.1" r="0.75" fill="#7e3090"/>
<circle cx="96.8" cy="235.6" r="0.75" fill="#7e3090"/>
<circle cx="98.9" cy="235.8" r="0.75" fill="#7e3090"/>
<circle cx="96.6" cy="240.4" r="0.75" fill="#7e3090"/>
<circle cx="100.0" cy="234.5" r="0.75" fill="#7e3090"/>
<circle cx="103.5" cy="232.7" r="0.75" fill="#7e3090"/>
<circle cx="99.4" cy="234.7" r="0.75" fill="#7e3090"/>
<circle cx="97.2" cy="237.0" r="0.75" fill="#7e3090"/>
<circle cx="97.4" cy="236.8" r="0.75" fill="#7e3090"/>
<circle cx="92.3" cy="230.8" r="0.75" fill="#7e3090"/>
<circle cx="98.8" cy="232.5" r="0.75" fill="#7e3090"/>
<circle cx="93.6" cy="230.7" r="0.75" fill="#7e3090"/>
<circle cx="101.0" cy="237.8" r="0.75" fill="#7e3090"/>
<circle cx="101.7" cy="232.4" r="0.75" fill="#7e3090"/>
<circle cx="96.9" cy="232.0" r="0.75" fill="#7e3090"/>
<circle cx="99.4" cy="240.5" r="0.75" fill="#7e3090"/>
<circle cx="94.0" cy="240.4" r="0.75" fill="#7e3090"/>
<circle cx="99.7" cy="234.9" r="0.75" fill="#7e3090"/>
<circle cx="91.4" cy="239.4" r="0.75" fill="#7e3090"/>
<circle cx="96.7" cy="234.2" r="0.75" fill="#7e3090"/>
<circle cx="97.7" cy="236.2" r="0.75" fill="#7e3090"/>
<circle cx="101.7" cy="232.1" r="0.75" fill="#7e3090"/>
<circle cx="100.5" cy="240.1" r="0.75" fill="#7e3090"/>
<circle cx="101.6" cy="234.8" r="0.75" fill="#7e3090"/>
<circle cx="94.6" cy="238.6" r="0.75" fill="#7e3090"/>
<circle cx="97.0" cy="235.5" r="0.75" fill="#7e3090"/>
<circle cx="101.5" cy="234.5" r="0.75" fill="#7e3090"/>
<circle cx="90.3" cy="234.3" r="0.75" fill="#7e3090"/>
<circle cx="91.2" cy="237.9" r="0.75" fill="#7e3090"/>
<circle cx="97.6" cy="234.1" r="0.75" fill="#7e3090"/>
<circle cx="96.9" cy="237.5" r="0.75" fill="#7e3090"/>
<circle cx="97.2" cy="239.6" r="0.75" fill="#7e3090"/>
<circle cx="96.7" cy="238.4" r="0.75" fill="#7e3090"/>
<circle cx="101.4" cy="240.2" r="0.75" fill="#7e3090"/>
<ellipse cx="112.2" cy="234.39999999999998" rx="5.2" ry="4.8" fill="#924aa8" filter="url(#b05)"/>
<circle cx="112.5" cy="234.7" r="3.0" fill="#803a9e" filter="url(#b1)"/>
<circle cx="15.0" cy="244.0" r="5.6" fill="#9a5cb2" filter="url(#b05)"/>
<circle cx="30" cy="244.6" r="6" fill="#66308e" filter="url(#b05)"/>
<circle cx="54.2" cy="249.2" r="5.5" fill="#66308e" filter="url(#b05)"/>
<ellipse cx="83.39999999999999" cy="244.79999999999998" rx="6.8" ry="6.3" fill="#924aa8" filter="url(#b05)"/>
<circle cx="83.69999999999999" cy="245.1" r="3.9" fill="#803a9e" filter="url(#b1)"/>
<ellipse cx="106.5" cy="246.0" rx="5.8" ry="5.3" fill="#924aa8" filter="url(#b05)"/>
<circle cx="106.8" cy="246.3" r="3.3" fill="#803a9e" filter="url(#b1)"/>
<circle cx="9.2" cy="252.7" r="4.5" fill="#66308e" filter="url(#b05)"/>
<ellipse cx="22.2" cy="254.0" rx="6.3" ry="5.8" fill="#924aa8" filter="url(#b05)"/>
<circle cx="22.5" cy="254.3" r="3.6" fill="#803a9e" filter="url(#b1)"/>
<ellipse cx="40.699999999999996" cy="256.4" rx="5.8" ry="5.3" fill="#924aa8" filter="url(#b05)"/>
<circle cx="41.0" cy="256.7" r="3.3" fill="#803a9e" filter="url(#b1)"/>
<circle cx="55.4" cy="264.2" r="4.5" fill="#66308e" filter="url(#b05)"/>
<ellipse cx="68.39999999999999" cy="264.4" rx="8.4" ry="7.8" fill="#924aa8" filter="url(#b05)"/>
<circle cx="68.69999999999999" cy="264.7" r="4.8" fill="#803a9e" filter="url(#b1)"/>
<circle cx="75" cy="256.2" r="5" fill="#66308e" filter="url(#b05)"/>
<circle cx="92.3" cy="259.6" r="5.5" fill="#48208a" filter="url(#b05)"/>
<circle cx="105" cy="256.2" r="4" fill="#66308e" filter="url(#b05)"/>
<ellipse cx="43.0" cy="269.0" rx="6.8" ry="6.3" fill="#924aa8" filter="url(#b05)"/>
<circle cx="43.300000000000004" cy="269.3" r="3.9" fill="#803a9e" filter="url(#b1)"/>
<ellipse cx="81.1" cy="269.0" rx="5.8" ry="5.3" fill="#924aa8" filter="url(#b05)"/>
<circle cx="81.39999999999999" cy="269.3" r="3.3" fill="#803a9e" filter="url(#b1)"/>
<ellipse cx="91.5" cy="272.5" rx="5.2" ry="4.8" fill="#924aa8" filter="url(#b05)"/>
<circle cx="91.8" cy="272.8" r="3.0" fill="#803a9e" filter="url(#b1)"/>
<ellipse cx="107.6" cy="266.7" rx="7.9" ry="7.3" fill="#924aa8" filter="url(#b05)"/>
<circle cx="107.89999999999999" cy="267.0" r="4.5" fill="#803a9e" filter="url(#b1)"/>
<circle cx="101.5" cy="278" r="3.5" fill="#66308e" filter="url(#b05)"/>
<ellipse cx="115.0" cy="278.59999999999997" rx="3.8" ry="3.5" fill="#924aa8" filter="url(#b05)"/>
<circle cx="115.3" cy="278.9" r="2.2" fill="#803a9e" filter="url(#b1)"/>
<circle cx="57.2" cy="276.2" r="4.8" fill="#66308e" filter="url(#b05)"/>
<ellipse cx="78.5" cy="189.5" rx="1.9" ry="1.7" fill="#924aa8" filter="url(#b05)"/>
<circle cx="78.8" cy="189.8" r="1.1" fill="#803a9e" filter="url(#b1)"/>
<circle cx="75.7" cy="278.0" r="2.9" fill="#66308e" filter="url(#b05)"/>
<circle cx="64.7" cy="194.3" r="2.0" fill="#66308e" filter="url(#b05)"/>
<ellipse cx="71.8" cy="136.6" rx="2.1" ry="1.9" fill="#924aa8" filter="url(#b05)"/>
<circle cx="72.1" cy="136.9" r="1.2" fill="#803a9e" filter="url(#b1)"/>
<ellipse cx="48.8" cy="279.2" rx="2.6" ry="2.4" fill="#924aa8" filter="url(#b05)"/>
<circle cx="49.1" cy="279.5" r="1.5" fill="#803a9e" filter="url(#b1)"/>
<ellipse cx="85.1" cy="202.39999999999998" rx="2.0" ry="1.8" fill="#924aa8" filter="url(#b05)"/>
<circle cx="85.39999999999999" cy="202.7" r="1.1" fill="#803a9e" filter="url(#b1)"/>
<ellipse cx="7.3" cy="172.2" rx="3.6" ry="3.3" fill="#924aa8" filter="url(#b05)"/>
<circle cx="7.6" cy="172.5" r="2.0" fill="#803a9e" filter="url(#b1)"/>
<ellipse cx="26.5" cy="175.29999999999998" rx="1.9" ry="1.7" fill="#924aa8" filter="url(#b05)"/>
<circle cx="26.8" cy="175.6" r="1.1" fill="#803a9e" filter="url(#b1)"/>
<circle cx="60.0" cy="193.2" r="1.5" fill="#9a5cb2" filter="url(#b05)"/>
<ellipse cx="9.200000000000001" cy="230.0" rx="3.8" ry="3.5" fill="#924aa8" filter="url(#b05)"/>
<circle cx="9.5" cy="230.3" r="2.2" fill="#803a9e" filter="url(#b1)"/>
<ellipse cx="60.5" cy="175.1" rx="2.2" ry="2.0" fill="#924aa8" filter="url(#b05)"/>
<circle cx="60.800000000000004" cy="175.4" r="1.3" fill="#803a9e" filter="url(#b1)"/>
<ellipse cx="107.2" cy="163.89999999999998" rx="2.2" ry="2.0" fill="#924aa8" filter="url(#b05)"/>
<circle cx="107.5" cy="164.2" r="1.3" fill="#803a9e" filter="url(#b1)"/>
<circle cx="115.0" cy="253.2" r="1.8" fill="#9a5cb2" filter="url(#b05)"/>
<ellipse cx="90.5" cy="204.2" rx="2.6" ry="2.4" fill="#924aa8" filter="url(#b05)"/>
<circle cx="90.8" cy="204.5" r="1.5" fill="#803a9e" filter="url(#b1)"/>
<circle cx="36.2" cy="277.9" r="2.4" fill="#66308e" filter="url(#b05)"/>
<ellipse cx="26.3" cy="186.29999999999998" rx="2.7" ry="2.5" fill="#924aa8" filter="url(#b05)"/>
<circle cx="26.6" cy="186.6" r="1.6" fill="#803a9e" filter="url(#b1)"/>
<circle cx="115.60000000000001" cy="189.7" r="1.8" fill="#9a5cb2" filter="url(#b05)"/>
<circle cx="15.0" cy="173.4" r="1.4" fill="#9a5cb2" filter="url(#b05)"/>
<circle cx="34.2" cy="187.7" r="1.6" fill="#66308e" filter="url(#b05)"/>
<ellipse cx="113.7" cy="224.7" rx="2.9" ry="2.7" fill="#924aa8" filter="url(#b05)"/>
<circle cx="114.0" cy="225.0" r="1.7" fill="#803a9e" filter="url(#b1)"/>
<ellipse cx="80.5" cy="193.6" rx="1.8" ry="1.6" fill="#924aa8" filter="url(#b05)"/>
<circle cx="80.8" cy="193.9" r="1.0" fill="#803a9e" filter="url(#b1)"/>
<circle cx="31.599999999999998" cy="138.2" r="1.4" fill="#9a5cb2" filter="url(#b05)"/>
<ellipse cx="113.2" cy="211.39999999999998" rx="1.8" ry="1.6" fill="#924aa8" filter="url(#b05)"/>
<circle cx="113.5" cy="211.7" r="1.0" fill="#803a9e" filter="url(#b1)"/>
<ellipse cx="12.3" cy="153.5" rx="2.3" ry="2.1" fill="#924aa8" filter="url(#b05)"/>
<circle cx="12.6" cy="153.8" r="1.3" fill="#803a9e" filter="url(#b1)"/>
<circle cx="39.6" cy="244.7" r="1.6" fill="#66308e" filter="url(#b05)"/>
<circle cx="6.8" cy="188.1" r="2.2" fill="#66308e" filter="url(#b05)"/>
<circle cx="65.8" cy="202.2" r="1.8" fill="#66308e" filter="url(#b05)"/>
<circle cx="22.2" cy="147.0" r="2.0" fill="#66308e" filter="url(#b05)"/>
<circle cx="53.900000000000006" cy="135.9" r="1.4" fill="#9a5cb2" filter="url(#b05)"/>
<ellipse cx="18.3" cy="174.89999999999998" rx="1.7" ry="1.6" fill="#924aa8" filter="url(#b05)"/>
<circle cx="18.6" cy="175.2" r="1.0" fill="#803a9e" filter="url(#b1)"/>
<circle cx="75.10000000000001" cy="191.3" r="1.3" fill="#9a5cb2" filter="url(#b05)"/>
<circle cx="99.0" cy="182.0" r="1.7" fill="#66308e" filter="url(#b05)"/>
<circle cx="32.6" cy="257.3" r="1.1" fill="#9a5cb2" filter="url(#b05)"/>
<ellipse cx="77.2" cy="185.2" rx="1.9" ry="1.7" fill="#924aa8" filter="url(#b05)"/>
<circle cx="77.5" cy="185.5" r="1.1" fill="#803a9e" filter="url(#b1)"/>
<circle cx="85.60000000000001" cy="278.6" r="1.4" fill="#9a5cb2" filter="url(#b05)"/>
</g></g>
<text x="6.00" y="128.80" font-size="11" text-anchor="start" fill="#111" font-weight="bold" >A</text>
<text x="130.20" y="16.20" font-size="11" text-anchor="start" fill="#111" font-weight="bold" >B</text>
<text x="130.00" y="156.20" font-size="11" text-anchor="start" fill="#111" font-weight="bold" >C</text>
<text x="130.00" y="296.20" font-size="11" text-anchor="start" fill="#111" font-weight="bold" >D</text>
<path d="M186 95.5 L196 80 L203 60 L207 42 L211 32 L218 28 L227 30 L230 42 L233 58 L239 74 L245 86 L246 95.5 Z" fill="url(#gw)" filter="url(#b2)"/>
<path d="M192.0 95.5 L202.0 82.0 L208.0 68.0 L214.0 62.0 L226.0 66.0 L236.0 76.0 L244.0 86.0 L244.0 95.5Z" fill="#d4d4d4" opacity="1" filter="url(#b15)"/>
<ellipse cx="231" cy="82" rx="10" ry="6" fill="#c9c9c9" opacity="1" transform="rotate(-25 231 82)" filter="url(#b15)"/>
<ellipse cx="201" cy="90" rx="10" ry="3" fill="#d2d2d2" opacity="1" transform="rotate(-30 201 90)" filter="url(#b1)"/>
<ellipse cx="214" cy="92" rx="8" ry="2.5" fill="#e2dcf4" opacity="1" filter="url(#b1)"/>
<path d="M211.3 84.1h0.5v0.5h-0.5zM199.2 52.7h0.5v0.5h-0.5zM198.4 87.1h0.5v0.5h-0.5zM205.7 69.8h0.5v0.5h-0.5zM216.1 69.5h0.5v0.5h-0.5zM212.1 73.7h0.5v0.5h-0.5zM235.9 70.7h0.5v0.5h-0.5zM223.3 86.0h0.5v0.5h-0.5zM216.0 49.8h0.5v0.5h-0.5zM212.4 87.2h0.5v0.5h-0.5zM201.5 60.4h0.5v0.5h-0.5zM228.1 82.7h0.5v0.5h-0.5zM218.1 82.9h0.5v0.5h-0.5zM219.7 51.1h0.5v0.5h-0.5zM202.4 59.8h0.5v0.5h-0.5zM227.2 61.0h0.5v0.5h-0.5zM209.0 57.7h0.5v0.5h-0.5zM202.7 68.1h0.5v0.5h-0.5zM206.2 75.8h0.5v0.5h-0.5zM194.4 75.2h0.5v0.5h-0.5zM211.6 38.9h0.5v0.5h-0.5zM225.2 65.6h0.5v0.5h-0.5zM195.7 56.0h0.5v0.5h-0.5zM220.9 62.7h0.5v0.5h-0.5zM225.8 82.0h0.5v0.5h-0.5zM224.7 75.2h0.5v0.5h-0.5zM231.3 80.6h0.5v0.5h-0.5zM222.5 36.7h0.5v0.5h-0.5zM227.0 91.0h0.5v0.5h-0.5zM215.0 62.5h0.5v0.5h-0.5zM237.4 41.9h0.5v0.5h-0.5zM208.7 81.0h0.5v0.5h-0.5zM236.9 68.1h0.5v0.5h-0.5zM223.6 84.4h0.5v0.5h-0.5zM208.9 68.6h0.5v0.5h-0.5zM220.9 83.2h0.5v0.5h-0.5zM217.7 66.9h0.5v0.5h-0.5zM207.8 64.3h0.5v0.5h-0.5zM226.9 71.6h0.5v0.5h-0.5zM209.5 56.5h0.5v0.5h-0.5zM244.7 88.2h0.5v0.5h-0.5zM224.4 28.5h0.5v0.5h-0.5zM224.2 77.7h0.5v0.5h-0.5zM234.8 76.8h0.5v0.5h-0.5zM217.3 78.4h0.5v0.5h-0.5zM198.6 86.5h0.5v0.5h-0.5zM221.2 58.8h0.5v0.5h-0.5zM204.0 59.3h0.5v0.5h-0.5zM220.9 72.9h0.5v0.5h-0.5zM214.0 54.4h0.5v0.5h-0.5zM239.2 86.6h0.5v0.5h-0.5zM206.1 48.5h0.5v0.5h-0.5zM235.0 85.8h0.5v0.5h-0.5zM236.2 83.0h0.5v0.5h-0.5zM209.3 74.2h0.5v0.5h-0.5zM196.4 58.0h0.5v0.5h-0.5zM217.4 78.4h0.5v0.5h-0.5zM210.7 68.0h0.5v0.5h-0.5zM222.6 76.0h0.5v0.5h-0.5zM224.4 73.3h0.5v0.5h-0.5zM214.8 82.6h0.5v0.5h-0.5zM218.5 56.8h0.5v0.5h-0.5zM211.7 70.0h0.5v0.5h-0.5zM216.9 72.5h0.5v0.5h-0.5zM218.0 72.8h0.5v0.5h-0.5zM216.7 49.9h0.5v0.5h-0.5zM222.2 86.9h0.5v0.5h-0.5zM222.3 67.0h0.5v0.5h-0.5zM222.5 54.5h0.5v0.5h-0.5zM199.0 71.0h0.5v0.5h-0.5zM208.7 81.8h0.5v0.5h-0.5zM207.2 27.9h0.5v0.5h-0.5zM214.2 48.1h0.5v0.5h-0.5zM210.4 78.3h0.5v0.5h-0.5zM223.0 72.8h0.5v0.5h-0.5zM232.8 81.3h0.5v0.5h-0.5zM217.8 79.5h0.5v0.5h-0.5zM234.5 85.5h0.5v0.5h-0.5zM228.2 52.7h0.5v0.5h-0.5zM216.5 81.7h0.5v0.5h-0.5zM215.0 87.1h0.5v0.5h-0.5zM224.0 84.5h0.5v0.5h-0.5zM230.4 66.6h0.5v0.5h-0.5zM214.6 84.0h0.5v0.5h-0.5zM227.8 70.1h0.5v0.5h-0.5zM206.3 73.0h0.5v0.5h-0.5zM221.6 88.1h0.5v0.5h-0.5zM225.8 70.4h0.5v0.5h-0.5zM226.5 78.6h0.5v0.5h-0.5zM220.1 70.9h0.5v0.5h-0.5zM215.6 81.0h0.5v0.5h-0.5zM207.5 59.9h0.5v0.5h-0.5zM218.0 46.6h0.5v0.5h-0.5zM213.6 37.9h0.5v0.5h-0.5zM211.2 79.1h0.5v0.5h-0.5zM223.7 69.1h0.5v0.5h-0.5zM215.7 47.3h0.5v0.5h-0.5zM236.3 78.3h0.5v0.5h-0.5zM228.9 55.9h0.5v0.5h-0.5zM216.1 40.9h0.5v0.5h-0.5zM225.8 85.0h0.5v0.5h-0.5zM199.0 69.2h0.5v0.5h-0.5zM224.3 41.8h0.5v0.5h-0.5zM199.7 53.0h0.5v0.5h-0.5zM211.7 47.6h0.5v0.5h-0.5zM218.3 74.0h0.5v0.5h-0.5zM224.3 81.2h0.5v0.5h-0.5zM233.0 88.6h0.5v0.5h-0.5zM204.9 61.9h0.5v0.5h-0.5zM207.4 52.8h0.5v0.5h-0.5zM217.2 70.1h0.5v0.5h-0.5zM222.9 44.6h0.5v0.5h-0.5zM205.6 69.6h0.5v0.5h-0.5zM216.0 65.0h0.5v0.5h-0.5zM217.4 57.8h0.5v0.5h-0.5zM225.0 75.7h0.5v0.5h-0.5zM217.1 59.2h0.5v0.5h-0.5zM216.3 26.5h0.5v0.5h-0.5zM208.2 70.6h0.5v0.5h-0.5zM203.0 73.2h0.5v0.5h-0.5zM219.5 48.0h0.5v0.5h-0.5zM215.5 65.0h0.5v0.5h-0.5zM222.6 79.8h0.5v0.5h-0.5zM217.6 56.4h0.5v0.5h-0.5zM216.6 69.0h0.5v0.5h-0.5zM225.3 74.7h0.5v0.5h-0.5zM210.8 48.3h0.5v0.5h-0.5zM214.3 58.2h0.5v0.5h-0.5zM206.9 68.1h0.5v0.5h-0.5zM213.1 71.7h0.5v0.5h-0.5zM223.2 63.4h0.5v0.5h-0.5zM241.2 64.9h0.5v0.5h-0.5zM229.0 71.9h0.5v0.5h-0.5zM229.2 32.0h0.5v0.5h-0.5zM210.5 74.0h0.5v0.5h-0.5zM221.2 90.5h0.5v0.5h-0.5zM225.7 85.2h0.5v0.5h-0.5zM223.1 67.5h0.5v0.5h-0.5zM223.1 52.7h0.5v0.5h-0.5zM229.8 53.7h0.5v0.5h-0.5zM215.8 70.3h0.5v0.5h-0.5zM229.6 70.4h0.5v0.5h-0.5zM209.9 74.1h0.5v0.5h-0.5zM223.8 81.4h0.5v0.5h-0.5zM234.7 70.3h0.5v0.5h-0.5zM220.7 63.1h0.5v0.5h-0.5zM232.1 58.7h0.5v0.5h-0.5zM224.7 62.3h0.5v0.5h-0.5zM211.1 81.5h0.5v0.5h-0.5zM231.3 69.8h0.5v0.5h-0.5zM211.2 83.0h0.5v0.5h-0.5zM217.5 75.0h0.5v0.5h-0.5zM233.2 88.1h0.5v0.5h-0.5zM218.0 82.6h0.5v0.5h-0.5zM211.5 69.3h0.5v0.5h-0.5zM231.7 50.6h0.5v0.5h-0.5zM202.9 44.1h0.5v0.5h-0.5zM229.8 62.6h0.5v0.5h-0.5zM217.4 65.0h0.5v0.5h-0.5zM216.8 52.6h0.5v0.5h-0.5zM218.2 47.0h0.5v0.5h-0.5zM217.3 74.9h0.5v0.5h-0.5zM222.7 66.3h0.5v0.5h-0.5zM209.0 72.6h0.5v0.5h-0.5zM225.7 68.2h0.5v0.5h-0.5zM213.3 58.8h0.5v0.5h-0.5zM208.6 64.4h0.5v0.5h-0.5zM220.9 78.2h0.5v0.5h-0.5zM211.0 70.2h0.5v0.5h-0.5zM245.9 40.1h0.5v0.5h-0.5zM212.8 72.7h0.5v0.5h-0.5zM219.5 76.5h0.5v0.5h-0.5zM215.6 75.9h0.5v0.5h-0.5zM218.5 82.3h0.5v0.5h-0.5zM199.1 55.8h0.5v0.5h-0.5zM218.0 53.5h0.5v0.5h-0.5zM207.6 80.0h0.5v0.5h-0.5zM211.5 80.2h0.5v0.5h-0.5zM225.5 74.9h0.5v0.5h-0.5zM223.1 68.3h0.5v0.5h-0.5zM203.9 69.5h0.5v0.5h-0.5zM222.5 61.5h0.5v0.5h-0.5zM217.0 82.0h0.5v0.5h-0.5zM209.2 80.2h0.5v0.5h-0.5zM236.6 61.1h0.5v0.5h-0.5zM219.5 67.6h0.5v0.5h-0.5zM233.4 75.1h0.5v0.5h-0.5zM227.0 59.0h0.5v0.5h-0.5zM217.8 69.8h0.5v0.5h-0.5zM200.2 93.1h0.5v0.5h-0.5zM227.0 42.0h0.5v0.5h-0.5zM225.4 67.9h0.5v0.5h-0.5zM222.5 75.9h0.5v0.5h-0.5zM203.0 66.6h0.5v0.5h-0.5zM232.9 60.8h0.5v0.5h-0.5zM207.8 48.2h0.5v0.5h-0.5zM205.8 75.4h0.5v0.5h-0.5zM234.9 76.9h0.5v0.5h-0.5zM212.8 59.2h0.5v0.5h-0.5zM223.3 78.8h0.5v0.5h-0.5zM207.9 51.3h0.5v0.5h-0.5zM220.9 74.0h0.5v0.5h-0.5zM204.9 66.8h0.5v0.5h-0.5zM212.6 77.4h0.5v0.5h-0.5zM216.8 68.6h0.5v0.5h-0.5zM214.5 86.9h0.5v0.5h-0.5zM231.9 64.1h0.5v0.5h-0.5zM226.5 57.9h0.5v0.5h-0.5zM218.7 82.0h0.5v0.5h-0.5zM233.1 63.9h0.5v0.5h-0.5zM217.3 73.1h0.5v0.5h-0.5zM203.0 70.3h0.5v0.5h-0.5zM211.2 75.9h0.5v0.5h-0.5zM206.7 38.4h0.5v0.5h-0.5zM218.4 74.2h0.5v0.5h-0.5zM212.5 84.2h0.5v0.5h-0.5zM215.3 60.3h0.5v0.5h-0.5zM222.8 44.9h0.5v0.5h-0.5zM211.2 69.7h0.5v0.5h-0.5zM226.5 67.4h0.5v0.5h-0.5zM221.1 59.5h0.5v0.5h-0.5zM211.6 70.3h0.5v0.5h-0.5zM219.7 86.4h0.5v0.5h-0.5zM205.6 36.4h0.5v0.5h-0.5zM224.1 82.7h0.5v0.5h-0.5zM220.0 74.1h0.5v0.5h-0.5zM227.3 75.9h0.5v0.5h-0.5zM234.6 50.2h0.5v0.5h-0.5zM226.1 64.0h0.5v0.5h-0.5zM217.9 65.9h0.5v0.5h-0.5zM213.0 56.6h0.5v0.5h-0.5zM211.7 80.2h0.5v0.5h-0.5zM218.4 71.1h0.5v0.5h-0.5zM216.3 84.6h0.5v0.5h-0.5zM222.9 67.7h0.5v0.5h-0.5zM224.6 67.6h0.5v0.5h-0.5zM206.5 93.3h0.5v0.5h-0.5zM222.7 54.7h0.5v0.5h-0.5zM228.8 75.5h0.5v0.5h-0.5zM221.3 84.3h0.5v0.5h-0.5zM220.0 67.6h0.5v0.5h-0.5zM202.5 85.5h0.5v0.5h-0.5zM218.3 65.4h0.5v0.5h-0.5zM221.5 71.2h0.5v0.5h-0.5zM224.8 64.1h0.5v0.5h-0.5zM217.6 35.8h0.5v0.5h-0.5zM213.8 80.8h0.5v0.5h-0.5zM231.4 64.2h0.5v0.5h-0.5zM214.7 81.7h0.5v0.5h-0.5zM234.8 70.6h0.5v0.5h-0.5zM230.3 58.6h0.5v0.5h-0.5zM220.1 68.8h0.5v0.5h-0.5zM219.1 88.1h0.5v0.5h-0.5zM241.9 59.4h0.5v0.5h-0.5zM212.2 78.0h0.5v0.5h-0.5zM207.4 78.0h0.5v0.5h-0.5zM223.7 65.6h0.5v0.5h-0.5zM223.3 45.2h0.5v0.5h-0.5zM225.6 45.3h0.5v0.5h-0.5zM211.0 61.1h0.5v0.5h-0.5zM214.0 83.7h0.5v0.5h-0.5zM218.8 63.6h0.5v0.5h-0.5zM218.1 75.9h0.5v0.5h-0.5zM230.4 74.3h0.5v0.5h-0.5zM240.1 38.2h0.5v0.5h-0.5zM217.6 76.7h0.5v0.5h-0.5zM227.7 80.7h0.5v0.5h-0.5zM215.3 53.1h0.5v0.5h-0.5zM219.0 86.5h0.5v0.5h-0.5zM207.1 53.6h0.5v0.5h-0.5zM217.8 39.0h0.5v0.5h-0.5zM215.4 63.0h0.5v0.5h-0.5zM222.5 58.8h0.5v0.5h-0.5zM209.2 63.7h0.5v0.5h-0.5zM217.5 59.4h0.5v0.5h-0.5zM218.1 82.0h0.5v0.5h-0.5zM210.2 63.3h0.5v0.5h-0.5zM210.8 69.5h0.5v0.5h-0.5zM223.2 48.3h0.5v0.5h-0.5zM222.6 69.6h0.5v0.5h-0.5zM199.7 74.7h0.5v0.5h-0.5zM229.9 40.1h0.5v0.5h-0.5zM226.1 73.3h0.5v0.5h-0.5zM222.7 77.1h0.5v0.5h-0.5zM231.0 66.4h0.5v0.5h-0.5zM226.7 63.4h0.5v0.5h-0.5zM225.3 57.0h0.5v0.5h-0.5zM222.5 67.5h0.5v0.5h-0.5zM206.6 57.4h0.5v0.5h-0.5zM219.9 85.0h0.5v0.5h-0.5zM222.3 78.4h0.5v0.5h-0.5zM217.6 91.6h0.5v0.5h-0.5zM214.1 61.2h0.5v0.5h-0.5zM226.9 71.0h0.5v0.5h-0.5zM215.2 60.8h0.5v0.5h-0.5zM215.4 80.0h0.5v0.5h-0.5zM221.5 50.6h0.5v0.5h-0.5zM222.3 72.9h0.5v0.5h-0.5zM208.0 82.4h0.5v0.5h-0.5zM215.2 64.6h0.5v0.5h-0.5zM226.0 91.1h0.5v0.5h-0.5zM211.1 77.0h0.5v0.5h-0.5zM213.1 89.1h0.5v0.5h-0.5zM211.5 83.0h0.5v0.5h-0.5zM240.2 29.3h0.5v0.5h-0.5zM213.7 78.0h0.5v0.5h-0.5zM217.1 59.3h0.5v0.5h-0.5zM239.5 71.3h0.5v0.5h-0.5zM201.6 83.7h0.5v0.5h-0.5zM200.8 88.4h0.5v0.5h-0.5zM212.2 72.3h0.5v0.5h-0.5zM230.6 71.9h0.5v0.5h-0.5zM204.1 42.9h0.5v0.5h-0.5zM229.8 81.8h0.5v0.5h-0.5zM209.8 83.8h0.5v0.5h-0.5zM223.0 80.4h0.5v0.5h-0.5zM195.4 65.2h0.5v0.5h-0.5zM227.0 81.7h0.5v0.5h-0.5zM226.8 30.7h0.5v0.5h-0.5zM219.7 77.9h0.5v0.5h-0.5zM243.5 54.7h0.5v0.5h-0.5zM214.7 70.6h0.5v0.5h-0.5zM226.9 62.9h0.5v0.5h-0.5zM229.5 57.4h0.5v0.5h-0.5zM220.7 61.6h0.5v0.5h-0.5zM219.6 58.9h0.5v0.5h-0.5zM202.0 87.5h0.5v0.5h-0.5zM221.0 61.1h0.5v0.5h-0.5zM220.0 85.8h0.5v0.5h-0.5zM208.2 68.2h0.5v0.5h-0.5zM223.4 78.4h0.5v0.5h-0.5zM214.6 36.3h0.5v0.5h-0.5zM230.4 75.3h0.5v0.5h-0.5zM218.1 65.5h0.5v0.5h-0.5zM220.6 63.2h0.5v0.5h-0.5zM207.8 58.2h0.5v0.5h-0.5zM212.0 60.2h0.5v0.5h-0.5zM206.4 80.2h0.5v0.5h-0.5zM204.9 80.6h0.5v0.5h-0.5zM207.9 75.6h0.5v0.5h-0.5zM231.7 73.3h0.5v0.5h-0.5zM210.7 70.8h0.5v0.5h-0.5zM219.5 42.3h0.5v0.5h-0.5zM211.9 72.6h0.5v0.5h-0.5zM213.3 71.3h0.5v0.5h-0.5zM225.3 82.3h0.5v0.5h-0.5zM227.1 79.4h0.5v0.5h-0.5zM215.1 69.7h0.5v0.5h-0.5zM215.3 65.0h0.5v0.5h-0.5zM216.2 42.4h0.5v0.5h-0.5zM214.7 69.6h0.5v0.5h-0.5zM208.3 69.6h0.5v0.5h-0.5zM223.2 67.4h0.5v0.5h-0.5zM238.8 28.3h0.5v0.5h-0.5zM215.9 40.8h0.5v0.5h-0.5zM193.0 72.0h0.5v0.5h-0.5zM223.2 65.2h0.5v0.5h-0.5zM223.5 34.1h0.5v0.5h-0.5zM226.5 76.0h0.5v0.5h-0.5zM218.2 60.6h0.5v0.5h-0.5zM224.4 62.2h0.5v0.5h-0.5zM220.2 61.8h0.5v0.5h-0.5zM195.5 69.5h0.5v0.5h-0.5zM220.0 82.1h0.5v0.5h-0.5zM209.2 69.5h0.5v0.5h-0.5zM224.2 72.3h0.5v0.5h-0.5zM208.9 39.3h0.5v0.5h-0.5zM226.6 94.5h0.5v0.5h-0.5zM227.2 83.0h0.5v0.5h-0.5zM211.8 58.6h0.5v0.5h-0.5zM226.9 55.4h0.5v0.5h-0.5zM199.9 54.0h0.5v0.5h-0.5zM211.1 58.3h0.5v0.5h-0.5zM220.3 58.0h0.5v0.5h-0.5zM231.1 68.7h0.5v0.5h-0.5zM207.1 90.9h0.5v0.5h-0.5zM212.2 73.5h0.5v0.5h-0.5zM217.9 65.0h0.5v0.5h-0.5zM221.2 58.9h0.5v0.5h-0.5zM199.6 34.7h0.5v0.5h-0.5zM205.3 57.9h0.5v0.5h-0.5zM217.8 70.9h0.5v0.5h-0.5zM223.6 71.9h0.5v0.5h-0.5zM210.1 58.7h0.5v0.5h-0.5zM196.8 67.3h0.5v0.5h-0.5zM222.8 78.5h0.5v0.5h-0.5zM216.8 67.2h0.5v0.5h-0.5zM227.4 70.2h0.5v0.5h-0.5zM225.4 79.3h0.5v0.5h-0.5zM220.1 90.9h0.5v0.5h-0.5zM212.3 64.3h0.5v0.5h-0.5zM209.9 57.2h0.5v0.5h-0.5zM218.2 79.1h0.5v0.5h-0.5zM229.8 82.9h0.5v0.5h-0.5zM230.1 49.8h0.5v0.5h-0.5zM211.6 77.2h0.5v0.5h-0.5zM232.4 71.7h0.5v0.5h-0.5zM209.4 64.3h0.5v0.5h-0.5zM211.4 56.3h0.5v0.5h-0.5zM233.0 60.0h0.5v0.5h-0.5z" fill="#cfcfcf" opacity="0.9"/>
<path d="M218 27 C214 28 213 34 213 40 C211 52 208 68 208 77 C208 84 211 87 213 87 C218 87 222 80 222.5 72 C223 58 222 40 221 32 C220.5 28 219.5 27 218 27 Z" fill="#a8dc7c" opacity="0.6" filter="url(#b1)"/>
<path d="M218 32 C215.5 33 215 37 214.5 42 C212.5 54 208.5 68 208.5 77 C208.5 84 211 86.5 213 86.5 C217.5 86.5 221.5 80 222 72 C222.5 58 221.5 42 220.5 36 C220 33 219.3 32 218 32 Z" fill="#6cbd2a"/>
<path d="M215.6 26 L220.6 26 L221.8 42 L214.2 42 Z" fill="url(#gg)" filter="url(#b05)"/>
<path d="M218.0 40.6h0.6v0.6h-0.6zM220.6 33.3h0.6v0.6h-0.6zM216.7 33.6h0.6v0.6h-0.6zM221.6 34.5h0.6v0.6h-0.6zM220.8 32.4h0.6v0.6h-0.6zM219.1 31.2h0.6v0.6h-0.6zM218.9 37.2h0.6v0.6h-0.6zM214.9 31.7h0.6v0.6h-0.6zM218.5 29.7h0.6v0.6h-0.6zM217.3 35.1h0.6v0.6h-0.6zM222.4 34.5h0.6v0.6h-0.6zM218.7 25.8h0.6v0.6h-0.6zM222.2 32.3h0.6v0.6h-0.6zM217.9 27.5h0.6v0.6h-0.6zM217.9 27.6h0.6v0.6h-0.6zM218.2 33.9h0.6v0.6h-0.6zM218.1 33.1h0.6v0.6h-0.6zM216.1 37.7h0.6v0.6h-0.6zM217.6 28.9h0.6v0.6h-0.6zM215.8 30.6h0.6v0.6h-0.6zM218.6 27.3h0.6v0.6h-0.6zM217.7 37.7h0.6v0.6h-0.6zM219.5 31.4h0.6v0.6h-0.6zM218.3 31.5h0.6v0.6h-0.6zM217.9 34.9h0.6v0.6h-0.6zM218.0 28.4h0.6v0.6h-0.6zM219.4 29.6h0.6v0.6h-0.6zM218.3 40.7h0.6v0.6h-0.6zM215.7 27.5h0.6v0.6h-0.6zM213.9 33.5h0.6v0.6h-0.6zM214.7 34.5h0.6v0.6h-0.6zM216.3 30.5h0.6v0.6h-0.6zM218.7 37.4h0.6v0.6h-0.6zM222.3 36.1h0.6v0.6h-0.6zM218.3 32.7h0.6v0.6h-0.6zM222.0 37.7h0.6v0.6h-0.6zM217.3 33.8h0.6v0.6h-0.6zM218.6 32.2h0.6v0.6h-0.6zM216.9 26.7h0.6v0.6h-0.6zM216.8 25.8h0.6v0.6h-0.6zM220.7 34.1h0.6v0.6h-0.6zM215.3 37.6h0.6v0.6h-0.6zM222.1 35.2h0.6v0.6h-0.6zM222.5 27.1h0.6v0.6h-0.6zM219.2 33.7h0.6v0.6h-0.6zM218.4 32.7h0.6v0.6h-0.6zM220.3 26.0h0.6v0.6h-0.6zM215.3 26.4h0.6v0.6h-0.6zM216.8 29.6h0.6v0.6h-0.6zM218.8 33.1h0.6v0.6h-0.6zM218.1 29.3h0.6v0.6h-0.6zM217.0 35.8h0.6v0.6h-0.6zM219.7 32.4h0.6v0.6h-0.6zM217.3 38.2h0.6v0.6h-0.6zM216.7 34.6h0.6v0.6h-0.6zM220.5 30.9h0.6v0.6h-0.6zM219.8 27.5h0.6v0.6h-0.6zM220.2 32.8h0.6v0.6h-0.6zM214.5 34.7h0.6v0.6h-0.6zM216.0 37.1h0.6v0.6h-0.6zM216.5 31.3h0.6v0.6h-0.6zM218.6 30.7h0.6v0.6h-0.6zM218.6 29.8h0.6v0.6h-0.6zM219.5 32.0h0.6v0.6h-0.6zM220.6 32.1h0.6v0.6h-0.6zM214.1 32.4h0.6v0.6h-0.6zM219.0 36.3h0.6v0.6h-0.6zM215.6 38.2h0.6v0.6h-0.6zM217.6 41.6h0.6v0.6h-0.6zM217.7 34.7h0.6v0.6h-0.6zM217.2 27.5h0.6v0.6h-0.6zM220.4 35.6h0.6v0.6h-0.6zM221.4 35.4h0.6v0.6h-0.6zM216.7 25.4h0.6v0.6h-0.6zM216.6 29.3h0.6v0.6h-0.6zM216.2 34.3h0.6v0.6h-0.6zM218.7 30.9h0.6v0.6h-0.6zM218.4 31.4h0.6v0.6h-0.6zM218.5 35.0h0.6v0.6h-0.6zM220.1 29.3h0.6v0.6h-0.6zM214.7 37.7h0.6v0.6h-0.6zM218.3 36.4h0.6v0.6h-0.6zM214.4 30.7h0.6v0.6h-0.6zM218.1 26.2h0.6v0.6h-0.6zM216.9 34.9h0.6v0.6h-0.6zM220.4 38.4h0.6v0.6h-0.6zM216.1 26.4h0.6v0.6h-0.6zM219.1 35.8h0.6v0.6h-0.6zM218.4 26.8h0.6v0.6h-0.6zM219.7 35.2h0.6v0.6h-0.6z" fill="#7cc440" opacity="0.7"/>
<ellipse cx="230" cy="91" rx="8" ry="2.4" fill="#2c2290" opacity="1" transform="rotate(-6 230 91)" filter="url(#b05)"/>
<path d="M318.0 52.0 L330.0 52.0 L336.0 58.3 L358.0 58.3 L357.0 70.0 L355.0 80.0 L343.0 80.5 L331.0 76.5 L324.0 78.3 L320.0 83.0 L317.5 78.0 L317.5 60.0Z" fill="#74c236" opacity="1" filter="url(#b05)"/>
<path d="M354.9 58.3h0.6v0.6h-0.6zM324.4 60.6h0.6v0.6h-0.6zM346.9 79.5h0.6v0.6h-0.6zM322.8 55.5h0.6v0.6h-0.6zM326.9 61.4h0.6v0.6h-0.6zM348.3 65.2h0.6v0.6h-0.6zM324.6 72.3h0.6v0.6h-0.6zM320.7 57.2h0.6v0.6h-0.6zM350.8 74.3h0.6v0.6h-0.6zM338.0 72.1h0.6v0.6h-0.6zM333.8 75.9h0.6v0.6h-0.6zM356.0 65.1h0.6v0.6h-0.6zM341.3 76.2h0.6v0.6h-0.6zM334.5 58.0h0.6v0.6h-0.6zM346.8 79.8h0.6v0.6h-0.6zM345.9 72.5h0.6v0.6h-0.6zM336.0 61.0h0.6v0.6h-0.6zM350.4 75.0h0.6v0.6h-0.6zM343.7 58.8h0.6v0.6h-0.6zM334.6 65.9h0.6v0.6h-0.6zM343.3 64.3h0.6v0.6h-0.6zM344.8 77.2h0.6v0.6h-0.6zM333.1 67.1h0.6v0.6h-0.6zM323.1 77.4h0.6v0.6h-0.6zM341.3 68.9h0.6v0.6h-0.6zM347.6 67.9h0.6v0.6h-0.6zM344.1 79.0h0.6v0.6h-0.6zM339.0 64.4h0.6v0.6h-0.6zM333.3 76.7h0.6v0.6h-0.6zM318.5 59.6h0.6v0.6h-0.6zM334.5 74.4h0.6v0.6h-0.6zM331.5 59.3h0.6v0.6h-0.6zM325.9 76.0h0.6v0.6h-0.6zM351.3 63.7h0.6v0.6h-0.6zM325.3 54.5h0.6v0.6h-0.6zM350.2 78.3h0.6v0.6h-0.6zM343.9 66.4h0.6v0.6h-0.6zM331.5 72.4h0.6v0.6h-0.6zM352.0 78.6h0.6v0.6h-0.6zM336.6 60.3h0.6v0.6h-0.6zM332.6 58.9h0.6v0.6h-0.6zM334.7 56.5h0.6v0.6h-0.6zM347.8 59.8h0.6v0.6h-0.6zM326.8 60.6h0.6v0.6h-0.6zM337.1 65.0h0.6v0.6h-0.6zM344.0 73.1h0.6v0.6h-0.6zM318.5 79.0h0.6v0.6h-0.6zM352.6 72.2h0.6v0.6h-0.6zM344.9 58.8h0.6v0.6h-0.6zM320.5 55.0h0.6v0.6h-0.6zM326.3 77.2h0.6v0.6h-0.6zM331.2 55.3h0.6v0.6h-0.6zM355.2 71.3h0.6v0.6h-0.6zM350.4 73.4h0.6v0.6h-0.6zM355.3 77.6h0.6v0.6h-0.6zM339.4 76.0h0.6v0.6h-0.6zM327.6 58.2h0.6v0.6h-0.6zM322.1 67.3h0.6v0.6h-0.6zM318.6 66.3h0.6v0.6h-0.6zM322.4 67.2h0.6v0.6h-0.6zM337.9 68.9h0.6v0.6h-0.6zM336.6 69.7h0.6v0.6h-0.6zM345.3 79.4h0.6v0.6h-0.6zM332.5 64.7h0.6v0.6h-0.6zM343.5 61.9h0.6v0.6h-0.6zM353.9 62.8h0.6v0.6h-0.6zM336.9 68.4h0.6v0.6h-0.6zM334.6 69.4h0.6v0.6h-0.6zM352.4 60.3h0.6v0.6h-0.6zM352.4 64.1h0.6v0.6h-0.6zM338.2 59.5h0.6v0.6h-0.6zM350.8 61.6h0.6v0.6h-0.6zM330.0 60.5h0.6v0.6h-0.6zM341.8 72.2h0.6v0.6h-0.6zM355.0 69.1h0.6v0.6h-0.6zM318.2 60.5h0.6v0.6h-0.6zM342.8 73.0h0.6v0.6h-0.6zM343.1 71.9h0.6v0.6h-0.6zM346.6 70.9h0.6v0.6h-0.6zM336.1 76.7h0.6v0.6h-0.6zM320.5 56.3h0.6v0.6h-0.6zM317.6 77.1h0.6v0.6h-0.6zM356.2 73.0h0.6v0.6h-0.6zM340.7 59.0h0.6v0.6h-0.6zM329.3 64.8h0.6v0.6h-0.6zM330.0 65.1h0.6v0.6h-0.6zM351.7 70.1h0.6v0.6h-0.6zM356.4 65.6h0.6v0.6h-0.6zM325.3 55.3h0.6v0.6h-0.6zM354.3 54.5h0.6v0.6h-0.6zM347.7 58.5h0.6v0.6h-0.6zM350.1 75.0h0.6v0.6h-0.6zM353.6 75.5h0.6v0.6h-0.6zM319.7 72.0h0.6v0.6h-0.6zM347.2 66.1h0.6v0.6h-0.6zM357.0 58.9h0.6v0.6h-0.6zM358.4 75.1h0.6v0.6h-0.6zM319.5 60.9h0.6v0.6h-0.6zM341.3 65.4h0.6v0.6h-0.6zM332.0 72.6h0.6v0.6h-0.6zM343.7 64.6h0.6v0.6h-0.6zM350.5 69.8h0.6v0.6h-0.6zM328.9 52.1h0.6v0.6h-0.6zM330.6 71.2h0.6v0.6h-0.6zM329.6 65.0h0.6v0.6h-0.6zM355.1 63.2h0.6v0.6h-0.6zM346.1 71.1h0.6v0.6h-0.6zM341.8 78.6h0.6v0.6h-0.6zM319.7 69.4h0.6v0.6h-0.6zM345.8 66.3h0.6v0.6h-0.6zM325.1 58.9h0.6v0.6h-0.6zM349.0 77.7h0.6v0.6h-0.6zM337.0 70.6h0.6v0.6h-0.6zM324.3 56.7h0.6v0.6h-0.6zM324.0 74.5h0.6v0.6h-0.6zM332.0 69.8h0.6v0.6h-0.6zM333.7 68.1h0.6v0.6h-0.6zM331.2 68.2h0.6v0.6h-0.6zM354.1 67.0h0.6v0.6h-0.6zM341.0 59.2h0.6v0.6h-0.6zM350.3 64.9h0.6v0.6h-0.6zM358.4 58.9h0.6v0.6h-0.6zM324.8 56.3h0.6v0.6h-0.6zM354.3 66.0h0.6v0.6h-0.6zM342.3 63.9h0.6v0.6h-0.6zM340.8 72.4h0.6v0.6h-0.6zM359.6 57.8h0.6v0.6h-0.6zM327.3 62.3h0.6v0.6h-0.6zM318.1 77.5h0.6v0.6h-0.6zM347.2 72.6h0.6v0.6h-0.6zM329.1 70.7h0.6v0.6h-0.6zM327.3 54.3h0.6v0.6h-0.6zM322.3 73.7h0.6v0.6h-0.6zM322.1 65.7h0.6v0.6h-0.6zM320.3 82.5h0.6v0.6h-0.6zM353.1 72.0h0.6v0.6h-0.6zM335.9 61.9h0.6v0.6h-0.6zM352.2 66.7h0.6v0.6h-0.6zM318.5 75.0h0.6v0.6h-0.6zM327.7 64.4h0.6v0.6h-0.6zM322.9 59.5h0.6v0.6h-0.6zM352.9 61.7h0.6v0.6h-0.6zM323.4 67.2h0.6v0.6h-0.6zM328.6 59.0h0.6v0.6h-0.6zM324.9 62.7h0.6v0.6h-0.6zM320.3 60.1h0.6v0.6h-0.6zM328.9 84.3h0.6v0.6h-0.6zM351.5 61.9h0.6v0.6h-0.6zM322.1 56.3h0.6v0.6h-0.6zM349.9 74.9h0.6v0.6h-0.6zM324.7 52.8h0.6v0.6h-0.6zM319.8 71.3h0.6v0.6h-0.6zM337.8 59.6h0.6v0.6h-0.6zM325.1 71.4h0.6v0.6h-0.6zM347.1 78.4h0.6v0.6h-0.6zM348.2 64.3h0.6v0.6h-0.6zM323.2 63.0h0.6v0.6h-0.6zM335.6 68.0h0.6v0.6h-0.6zM321.3 75.0h0.6v0.6h-0.6zM347.3 63.3h0.6v0.6h-0.6zM339.3 68.8h0.6v0.6h-0.6zM324.0 53.6h0.6v0.6h-0.6zM327.0 78.6h0.6v0.6h-0.6zM320.2 74.5h0.6v0.6h-0.6zM341.4 68.3h0.6v0.6h-0.6zM337.7 67.5h0.6v0.6h-0.6zM328.3 54.3h0.6v0.6h-0.6zM357.3 63.6h0.6v0.6h-0.6zM330.9 58.4h0.6v0.6h-0.6zM330.7 65.2h0.6v0.6h-0.6zM351.9 79.7h0.6v0.6h-0.6zM318.4 68.1h0.6v0.6h-0.6zM334.6 72.1h0.6v0.6h-0.6zM332.0 68.6h0.6v0.6h-0.6zM319.0 65.2h0.6v0.6h-0.6zM343.9 78.3h0.6v0.6h-0.6zM354.9 81.0h0.6v0.6h-0.6zM344.2 59.3h0.6v0.6h-0.6zM345.9 59.6h0.6v0.6h-0.6zM327.0 68.2h0.6v0.6h-0.6zM329.4 72.7h0.6v0.6h-0.6zM321.3 70.8h0.6v0.6h-0.6zM336.5 68.7h0.6v0.6h-0.6zM322.5 54.3h0.6v0.6h-0.6zM321.8 60.3h0.6v0.6h-0.6zM333.9 60.1h0.6v0.6h-0.6zM326.7 53.1h0.6v0.6h-0.6zM340.0 79.4h0.6v0.6h-0.6zM342.8 70.0h0.6v0.6h-0.6zM336.3 69.2h0.6v0.6h-0.6zM343.0 66.4h0.6v0.6h-0.6zM329.7 58.5h0.6v0.6h-0.6zM325.7 67.9h0.6v0.6h-0.6zM332.9 70.5h0.6v0.6h-0.6zM326.5 69.5h0.6v0.6h-0.6zM337.6 60.0h0.6v0.6h-0.6zM323.0 52.3h0.6v0.6h-0.6zM354.3 65.4h0.6v0.6h-0.6zM318.7 63.6h0.6v0.6h-0.6zM335.4 75.7h0.6v0.6h-0.6zM320.8 57.9h0.6v0.6h-0.6zM330.8 62.3h0.6v0.6h-0.6zM345.7 71.6h0.6v0.6h-0.6zM353.4 78.7h0.6v0.6h-0.6zM338.8 75.9h0.6v0.6h-0.6zM348.7 76.6h0.6v0.6h-0.6zM336.9 77.5h0.6v0.6h-0.6zM341.8 67.4h0.6v0.6h-0.6zM332.7 65.8h0.6v0.6h-0.6zM336.1 75.3h0.6v0.6h-0.6zM328.9 63.7h0.6v0.6h-0.6zM340.4 63.5h0.6v0.6h-0.6zM338.0 65.5h0.6v0.6h-0.6zM324.1 60.6h0.6v0.6h-0.6zM322.4 70.1h0.6v0.6h-0.6zM340.9 67.4h0.6v0.6h-0.6zM346.2 63.6h0.6v0.6h-0.6zM331.7 70.8h0.6v0.6h-0.6zM333.6 69.6h0.6v0.6h-0.6zM337.4 65.4h0.6v0.6h-0.6zM339.3 78.6h0.6v0.6h-0.6zM323.5 61.1h0.6v0.6h-0.6zM320.9 81.3h0.6v0.6h-0.6zM346.4 78.7h0.6v0.6h-0.6zM322.9 60.1h0.6v0.6h-0.6zM338.5 67.7h0.6v0.6h-0.6zM324.3 56.4h0.6v0.6h-0.6zM343.7 71.1h0.6v0.6h-0.6zM317.9 64.4h0.6v0.6h-0.6zM350.7 60.7h0.6v0.6h-0.6zM353.1 70.5h0.6v0.6h-0.6zM340.3 59.3h0.6v0.6h-0.6zM344.5 68.6h0.6v0.6h-0.6zM321.3 55.5h0.6v0.6h-0.6zM323.5 68.3h0.6v0.6h-0.6zM352.2 71.5h0.6v0.6h-0.6zM351.5 52.2h0.6v0.6h-0.6zM349.9 61.3h0.6v0.6h-0.6zM347.5 62.4h0.6v0.6h-0.6zM323.5 59.3h0.6v0.6h-0.6zM320.4 81.6h0.6v0.6h-0.6zM341.6 62.2h0.6v0.6h-0.6zM335.8 63.5h0.6v0.6h-0.6zM353.6 61.0h0.6v0.6h-0.6zM357.8 58.5h0.6v0.6h-0.6zM333.2 75.1h0.6v0.6h-0.6zM325.7 60.8h0.6v0.6h-0.6zM354.5 67.0h0.6v0.6h-0.6zM350.9 58.5h0.6v0.6h-0.6zM323.6 62.5h0.6v0.6h-0.6zM333.0 64.1h0.6v0.6h-0.6zM318.9 54.3h0.6v0.6h-0.6zM352.3 62.3h0.6v0.6h-0.6zM326.8 56.7h0.6v0.6h-0.6zM328.5 58.3h0.6v0.6h-0.6zM317.5 73.2h0.6v0.6h-0.6zM331.0 55.5h0.6v0.6h-0.6zM352.8 78.2h0.6v0.6h-0.6zM323.0 62.4h0.6v0.6h-0.6zM347.8 63.2h0.6v0.6h-0.6zM321.8 74.7h0.6v0.6h-0.6zM332.2 58.6h0.6v0.6h-0.6zM321.4 68.0h0.6v0.6h-0.6zM339.9 59.5h0.6v0.6h-0.6zM350.0 63.5h0.6v0.6h-0.6zM344.9 69.9h0.6v0.6h-0.6zM329.7 63.6h0.6v0.6h-0.6zM319.8 56.2h0.6v0.6h-0.6zM353.4 61.2h0.6v0.6h-0.6zM331.9 67.5h0.6v0.6h-0.6zM329.1 52.3h0.6v0.6h-0.6zM329.7 57.9h0.6v0.6h-0.6zM321.5 75.1h0.6v0.6h-0.6zM328.4 64.1h0.6v0.6h-0.6zM331.5 64.4h0.6v0.6h-0.6zM345.0 74.5h0.6v0.6h-0.6zM324.7 60.6h0.6v0.6h-0.6zM341.1 75.1h0.6v0.6h-0.6zM327.2 65.2h0.6v0.6h-0.6zM346.1 62.2h0.6v0.6h-0.6zM320.9 77.7h0.6v0.6h-0.6zM319.8 74.3h0.6v0.6h-0.6zM333.3 76.2h0.6v0.6h-0.6zM352.5 59.8h0.6v0.6h-0.6zM352.5 72.0h0.6v0.6h-0.6zM334.8 67.9h0.6v0.6h-0.6zM317.9 74.6h0.6v0.6h-0.6zM351.5 59.1h0.6v0.6h-0.6zM339.9 58.7h0.6v0.6h-0.6zM318.6 62.5h0.6v0.6h-0.6zM334.1 57.0h0.6v0.6h-0.6zM329.7 54.8h0.6v0.6h-0.6zM347.1 73.5h0.6v0.6h-0.6zM326.5 58.5h0.6v0.6h-0.6zM338.7 65.6h0.6v0.6h-0.6zM357.2 62.3h0.6v0.6h-0.6zM340.8 61.7h0.6v0.6h-0.6zM351.9 69.2h0.6v0.6h-0.6zM342.3 66.1h0.6v0.6h-0.6zM349.7 79.1h0.6v0.6h-0.6zM321.0 60.1h0.6v0.6h-0.6zM331.9 57.2h0.6v0.6h-0.6zM318.7 59.8h0.6v0.6h-0.6zM324.7 74.6h0.6v0.6h-0.6zM336.6 62.7h0.6v0.6h-0.6zM323.4 52.5h0.6v0.6h-0.6zM319.7 75.1h0.6v0.6h-0.6zM337.5 65.2h0.6v0.6h-0.6zM324.4 69.0h0.6v0.6h-0.6zM327.1 58.6h0.6v0.6h-0.6zM352.9 60.4h0.6v0.6h-0.6zM324.2 72.3h0.6v0.6h-0.6zM350.5 79.1h0.6v0.6h-0.6zM348.7 61.4h0.6v0.6h-0.6zM332.2 69.3h0.6v0.6h-0.6zM317.8 69.8h0.6v0.6h-0.6zM343.6 78.7h0.6v0.6h-0.6zM337.8 67.5h0.6v0.6h-0.6zM322.9 60.5h0.6v0.6h-0.6zM323.2 65.5h0.6v0.6h-0.6zM358.7 53.1h0.6v0.6h-0.6zM350.6 64.9h0.6v0.6h-0.6zM328.5 73.2h0.6v0.6h-0.6zM338.6 64.7h0.6v0.6h-0.6zM330.9 65.4h0.6v0.6h-0.6zM345.3 78.9h0.6v0.6h-0.6zM335.5 69.7h0.6v0.6h-0.6zM331.3 56.8h0.6v0.6h-0.6zM319.7 61.3h0.6v0.6h-0.6zM343.3 78.4h0.6v0.6h-0.6zM318.6 73.7h0.6v0.6h-0.6zM342.8 60.4h0.6v0.6h-0.6zM344.5 60.5h0.6v0.6h-0.6zM331.1 81.0h0.6v0.6h-0.6zM324.3 73.8h0.6v0.6h-0.6zM332.4 70.3h0.6v0.6h-0.6zM334.3 68.5h0.6v0.6h-0.6zM340.9 63.9h0.6v0.6h-0.6zM321.0 56.3h0.6v0.6h-0.6zM355.2 69.2h0.6v0.6h-0.6zM320.9 80.2h0.6v0.6h-0.6zM327.2 53.3h0.6v0.6h-0.6zM339.4 58.8h0.6v0.6h-0.6zM337.5 69.4h0.6v0.6h-0.6zM326.0 70.0h0.6v0.6h-0.6zM321.0 68.0h0.6v0.6h-0.6zM319.2 65.4h0.6v0.6h-0.6zM354.0 69.3h0.6v0.6h-0.6zM347.4 76.5h0.6v0.6h-0.6zM320.5 79.1h0.6v0.6h-0.6zM333.2 56.0h0.6v0.6h-0.6zM322.0 77.2h0.6v0.6h-0.6zM318.5 58.3h0.6v0.6h-0.6zM325.4 60.5h0.6v0.6h-0.6zM347.1 64.9h0.6v0.6h-0.6zM355.1 71.7h0.6v0.6h-0.6zM354.4 69.7h0.6v0.6h-0.6zM348.8 61.9h0.6v0.6h-0.6zM349.6 73.8h0.6v0.6h-0.6zM317.9 71.1h0.6v0.6h-0.6zM320.4 69.2h0.6v0.6h-0.6zM345.7 58.9h0.6v0.6h-0.6zM324.5 65.6h0.6v0.6h-0.6zM352.9 70.3h0.6v0.6h-0.6zM328.8 74.1h0.6v0.6h-0.6zM332.8 55.0h0.6v0.6h-0.6zM354.5 68.8h0.6v0.6h-0.6zM346.3 78.3h0.6v0.6h-0.6zM322.6 67.6h0.6v0.6h-0.6zM354.4 78.0h0.6v0.6h-0.6zM345.9 63.7h0.6v0.6h-0.6zM319.3 61.5h0.6v0.6h-0.6zM317.9 55.9h0.6v0.6h-0.6zM331.9 66.4h0.6v0.6h-0.6zM341.4 63.6h0.6v0.6h-0.6zM345.5 59.5h0.6v0.6h-0.6zM328.0 67.5h0.6v0.6h-0.6zM327.5 69.9h0.6v0.6h-0.6zM317.5 69.6h0.6v0.6h-0.6zM343.9 72.2h0.6v0.6h-0.6zM332.0 59.9h0.6v0.6h-0.6zM346.0 60.6h0.6v0.6h-0.6zM349.6 75.9h0.6v0.6h-0.6zM338.4 72.2h0.6v0.6h-0.6zM331.4 69.3h0.6v0.6h-0.6zM332.2 58.5h0.6v0.6h-0.6zM326.3 62.2h0.6v0.6h-0.6zM335.9 65.6h0.6v0.6h-0.6zM341.0 60.6h0.6v0.6h-0.6zM323.4 52.3h0.6v0.6h-0.6zM329.3 60.8h0.6v0.6h-0.6zM348.0 69.3h0.6v0.6h-0.6zM357.2 61.9h0.6v0.6h-0.6zM356.5 70.4h0.6v0.6h-0.6zM319.5 56.3h0.6v0.6h-0.6zM350.1 65.0h0.6v0.6h-0.6zM355.6 59.7h0.6v0.6h-0.6zM327.8 74.7h0.6v0.6h-0.6zM325.6 64.0h0.6v0.6h-0.6zM324.8 71.1h0.6v0.6h-0.6zM354.0 72.7h0.6v0.6h-0.6zM324.7 75.7h0.6v0.6h-0.6zM322.0 56.6h0.6v0.6h-0.6zM349.0 72.7h0.6v0.6h-0.6zM333.8 73.8h0.6v0.6h-0.6zM318.0 71.9h0.6v0.6h-0.6zM330.7 67.3h0.6v0.6h-0.6zM342.3 59.0h0.6v0.6h-0.6zM343.0 75.3h0.6v0.6h-0.6zM330.5 53.3h0.6v0.6h-0.6zM322.9 55.0h0.6v0.6h-0.6zM334.6 68.9h0.6v0.6h-0.6zM341.9 69.4h0.6v0.6h-0.6zM344.9 71.1h0.6v0.6h-0.6zM330.6 75.9h0.6v0.6h-0.6zM327.3 74.9h0.6v0.6h-0.6zM349.6 77.2h0.6v0.6h-0.6zM335.9 59.7h0.6v0.6h-0.6zM350.1 62.7h0.6v0.6h-0.6zM318.6 67.6h0.6v0.6h-0.6zM332.1 55.2h0.6v0.6h-0.6zM323.8 75.8h0.6v0.6h-0.6zM356.5 55.7h0.6v0.6h-0.6zM350.2 58.5h0.6v0.6h-0.6zM340.8 64.3h0.6v0.6h-0.6zM325.9 58.8h0.6v0.6h-0.6zM327.5 65.2h0.6v0.6h-0.6zM326.2 57.1h0.6v0.6h-0.6zM349.4 72.5h0.6v0.6h-0.6zM354.2 59.4h0.6v0.6h-0.6zM349.1 78.8h0.6v0.6h-0.6zM328.4 61.6h0.6v0.6h-0.6zM346.0 70.9h0.6v0.6h-0.6zM335.9 70.3h0.6v0.6h-0.6zM322.6 75.8h0.6v0.6h-0.6zM320.3 55.9h0.6v0.6h-0.6zM350.9 74.1h0.6v0.6h-0.6zM317.7 67.7h0.6v0.6h-0.6zM326.2 65.1h0.6v0.6h-0.6zM323.9 74.0h0.6v0.6h-0.6zM322.5 75.8h0.6v0.6h-0.6zM348.2 59.6h0.6v0.6h-0.6zM323.8 59.3h0.6v0.6h-0.6zM334.0 69.5h0.6v0.6h-0.6zM344.7 69.0h0.6v0.6h-0.6zM340.1 74.2h0.6v0.6h-0.6zM333.6 61.1h0.6v0.6h-0.6zM333.0 64.3h0.6v0.6h-0.6zM322.3 84.9h0.6v0.6h-0.6zM342.9 63.2h0.6v0.6h-0.6zM326.6 56.9h0.6v0.6h-0.6zM321.1 79.5h0.6v0.6h-0.6zM346.5 61.4h0.6v0.6h-0.6zM344.4 69.2h0.6v0.6h-0.6zM329.9 84.0h0.6v0.6h-0.6zM348.8 79.9h0.6v0.6h-0.6zM338.4 70.7h0.6v0.6h-0.6zM348.7 63.3h0.6v0.6h-0.6zM347.3 63.8h0.6v0.6h-0.6zM339.2 71.4h0.6v0.6h-0.6zM345.8 61.3h0.6v0.6h-0.6zM343.7 69.0h0.6v0.6h-0.6zM325.8 71.4h0.6v0.6h-0.6zM347.7 68.3h0.6v0.6h-0.6zM356.8 68.5h0.6v0.6h-0.6zM339.1 68.5h0.6v0.6h-0.6zM351.8 58.4h0.6v0.6h-0.6zM323.6 78.8h0.6v0.6h-0.6zM336.3 72.4h0.6v0.6h-0.6zM317.9 63.3h0.6v0.6h-0.6zM352.6 78.6h0.6v0.6h-0.6zM321.4 55.4h0.6v0.6h-0.6zM327.1 53.6h0.6v0.6h-0.6zM337.0 77.9h0.6v0.6h-0.6zM332.1 68.2h0.6v0.6h-0.6zM326.5 63.0h0.6v0.6h-0.6zM331.0 63.3h0.6v0.6h-0.6zM318.5 56.2h0.6v0.6h-0.6zM347.6 59.6h0.6v0.6h-0.6zM330.3 58.5h0.6v0.6h-0.6zM350.9 71.6h0.6v0.6h-0.6zM332.2 74.9h0.6v0.6h-0.6zM329.0 64.3h0.6v0.6h-0.6zM344.5 78.4h0.6v0.6h-0.6zM331.5 63.5h0.6v0.6h-0.6zM345.3 61.5h0.6v0.6h-0.6zM319.1 76.5h0.6v0.6h-0.6zM332.7 68.4h0.6v0.6h-0.6zM337.6 67.9h0.6v0.6h-0.6zM352.3 73.5h0.6v0.6h-0.6zM348.6 64.1h0.6v0.6h-0.6zM317.8 73.8h0.6v0.6h-0.6zM340.4 76.9h0.6v0.6h-0.6zM319.4 78.6h0.6v0.6h-0.6zM320.5 53.1h0.6v0.6h-0.6zM349.1 69.8h0.6v0.6h-0.6zM318.4 73.8h0.6v0.6h-0.6zM347.3 66.9h0.6v0.6h-0.6zM318.4 74.2h0.6v0.6h-0.6zM334.4 70.4h0.6v0.6h-0.6zM322.4 61.7h0.6v0.6h-0.6zM328.1 59.2h0.6v0.6h-0.6zM329.8 58.9h0.6v0.6h-0.6zM353.8 69.4h0.6v0.6h-0.6zM338.5 64.7h0.6v0.6h-0.6zM318.3 60.7h0.6v0.6h-0.6zM354.1 78.1h0.6v0.6h-0.6zM353.7 59.0h0.6v0.6h-0.6zM332.4 66.2h0.6v0.6h-0.6zM337.5 70.4h0.6v0.6h-0.6zM356.5 69.5h0.6v0.6h-0.6zM318.3 61.0h0.6v0.6h-0.6zM339.5 64.3h0.6v0.6h-0.6zM340.9 61.3h0.6v0.6h-0.6zM347.3 78.1h0.6v0.6h-0.6zM342.1 65.9h0.6v0.6h-0.6zM357.1 65.6h0.6v0.6h-0.6zM319.2 70.9h0.6v0.6h-0.6zM351.2 67.4h0.6v0.6h-0.6zM345.6 73.6h0.6v0.6h-0.6zM329.0 57.4h0.6v0.6h-0.6zM325.1 53.5h0.6v0.6h-0.6zM320.2 77.4h0.6v0.6h-0.6zM326.2 70.4h0.6v0.6h-0.6zM330.0 69.6h0.6v0.6h-0.6zM359.1 63.7h0.6v0.6h-0.6zM332.7 72.4h0.6v0.6h-0.6zM325.8 69.1h0.6v0.6h-0.6zM320.1 66.3h0.6v0.6h-0.6zM348.0 65.0h0.6v0.6h-0.6zM331.3 76.3h0.6v0.6h-0.6zM326.0 82.4h0.6v0.6h-0.6zM330.7 65.7h0.6v0.6h-0.6zM326.9 76.0h0.6v0.6h-0.6zM323.9 77.6h0.6v0.6h-0.6zM329.1 52.4h0.6v0.6h-0.6zM350.7 70.8h0.6v0.6h-0.6zM320.3 72.6h0.6v0.6h-0.6zM321.8 70.2h0.6v0.6h-0.6zM331.5 63.1h0.6v0.6h-0.6zM357.4 61.6h0.6v0.6h-0.6zM322.6 53.3h0.6v0.6h-0.6zM323.2 68.7h0.6v0.6h-0.6zM338.3 62.8h0.6v0.6h-0.6zM324.7 64.1h0.6v0.6h-0.6zM325.0 54.4h0.6v0.6h-0.6zM337.5 77.7h0.6v0.6h-0.6zM341.1 74.1h0.6v0.6h-0.6zM326.1 76.3h0.6v0.6h-0.6zM322.8 59.2h0.6v0.6h-0.6zM350.5 74.9h0.6v0.6h-0.6zM318.7 58.6h0.6v0.6h-0.6zM343.2 74.2h0.6v0.6h-0.6zM351.8 62.0h0.6v0.6h-0.6zM351.7 66.2h0.6v0.6h-0.6zM334.1 64.2h0.6v0.6h-0.6zM319.9 58.6h0.6v0.6h-0.6zM348.3 73.8h0.6v0.6h-0.6zM322.7 62.1h0.6v0.6h-0.6zM322.2 56.9h0.6v0.6h-0.6zM325.7 61.6h0.6v0.6h-0.6zM337.1 67.4h0.6v0.6h-0.6zM353.2 77.5h0.6v0.6h-0.6zM320.1 75.1h0.6v0.6h-0.6zM331.4 55.7h0.6v0.6h-0.6zM321.9 79.0h0.6v0.6h-0.6zM352.6 78.1h0.6v0.6h-0.6zM342.0 65.2h0.6v0.6h-0.6zM352.3 77.5h0.6v0.6h-0.6zM354.3 60.5h0.6v0.6h-0.6zM324.7 66.0h0.6v0.6h-0.6zM326.4 67.2h0.6v0.6h-0.6zM356.0 74.0h0.6v0.6h-0.6zM347.3 63.7h0.6v0.6h-0.6zM350.5 77.8h0.6v0.6h-0.6zM352.8 61.9h0.6v0.6h-0.6zM342.2 79.3h0.6v0.6h-0.6zM334.4 71.2h0.6v0.6h-0.6zM336.1 61.7h0.6v0.6h-0.6zM325.4 62.4h0.6v0.6h-0.6zM353.2 71.7h0.6v0.6h-0.6zM328.9 53.1h0.6v0.6h-0.6zM327.9 74.5h0.6v0.6h-0.6zM335.4 73.1h0.6v0.6h-0.6zM355.3 63.8h0.6v0.6h-0.6zM323.1 68.5h0.6v0.6h-0.6zM353.9 68.0h0.6v0.6h-0.6zM345.1 72.1h0.6v0.6h-0.6zM332.5 68.3h0.6v0.6h-0.6zM352.7 73.9h0.6v0.6h-0.6zM340.5 65.7h0.6v0.6h-0.6zM322.4 70.6h0.6v0.6h-0.6zM348.9 72.5h0.6v0.6h-0.6zM328.4 76.7h0.6v0.6h-0.6zM328.8 69.1h0.6v0.6h-0.6zM351.4 73.7h0.6v0.6h-0.6zM346.4 59.7h0.6v0.6h-0.6zM323.1 70.1h0.6v0.6h-0.6zM352.3 77.8h0.6v0.6h-0.6zM331.3 54.9h0.6v0.6h-0.6zM318.4 60.4h0.6v0.6h-0.6zM324.2 60.8h0.6v0.6h-0.6zM333.3 63.5h0.6v0.6h-0.6zM356.0 65.8h0.6v0.6h-0.6zM352.8 72.3h0.6v0.6h-0.6zM350.3 61.0h0.6v0.6h-0.6zM322.7 76.5h0.6v0.6h-0.6zM336.7 69.6h0.6v0.6h-0.6zM345.5 76.3h0.6v0.6h-0.6zM328.1 62.7h0.6v0.6h-0.6zM356.4 68.5h0.6v0.6h-0.6zM328.7 72.1h0.6v0.6h-0.6zM327.4 77.0h0.6v0.6h-0.6zM326.7 52.4h0.6v0.6h-0.6zM340.1 76.4h0.6v0.6h-0.6zM345.8 64.4h0.6v0.6h-0.6zM346.4 77.1h0.6v0.6h-0.6zM331.0 63.7h0.6v0.6h-0.6zM351.5 62.2h0.6v0.6h-0.6zM338.9 73.4h0.6v0.6h-0.6zM318.9 64.5h0.6v0.6h-0.6zM341.4 64.1h0.6v0.6h-0.6zM341.2 59.6h0.6v0.6h-0.6zM353.2 77.6h0.6v0.6h-0.6zM349.2 67.5h0.6v0.6h-0.6zM352.1 72.7h0.6v0.6h-0.6zM347.0 71.4h0.6v0.6h-0.6zM328.1 52.4h0.6v0.6h-0.6zM342.5 78.8h0.6v0.6h-0.6zM328.0 57.5h0.6v0.6h-0.6zM325.9 53.3h0.6v0.6h-0.6zM331.8 74.5h0.6v0.6h-0.6zM319.2 79.4h0.6v0.6h-0.6zM322.1 59.6h0.6v0.6h-0.6zM318.6 65.6h0.6v0.6h-0.6zM340.4 78.3h0.6v0.6h-0.6zM325.9 72.0h0.6v0.6h-0.6zM331.0 61.6h0.6v0.6h-0.6zM318.8 72.1h0.6v0.6h-0.6zM347.9 70.5h0.6v0.6h-0.6zM333.6 67.9h0.6v0.6h-0.6zM346.0 74.8h0.6v0.6h-0.6zM336.0 62.0h0.6v0.6h-0.6zM324.4 64.1h0.6v0.6h-0.6zM328.4 56.8h0.6v0.6h-0.6zM348.4 68.1h0.6v0.6h-0.6zM324.7 59.3h0.6v0.6h-0.6zM340.7 74.5h0.6v0.6h-0.6zM318.8 57.2h0.6v0.6h-0.6zM343.7 59.2h0.6v0.6h-0.6zM331.6 55.7h0.6v0.6h-0.6zM317.9 56.1h0.6v0.6h-0.6zM322.8 77.2h0.6v0.6h-0.6zM351.0 66.7h0.6v0.6h-0.6zM340.8 67.8h0.6v0.6h-0.6zM325.2 58.8h0.6v0.6h-0.6zM348.2 63.4h0.6v0.6h-0.6zM351.7 79.4h0.6v0.6h-0.6zM341.8 63.3h0.6v0.6h-0.6zM355.9 63.4h0.6v0.6h-0.6zM320.6 70.7h0.6v0.6h-0.6zM321.6 57.0h0.6v0.6h-0.6zM336.1 70.5h0.6v0.6h-0.6zM344.0 74.7h0.6v0.6h-0.6zM318.4 66.5h0.6v0.6h-0.6zM333.6 73.6h0.6v0.6h-0.6zM347.4 58.4h0.6v0.6h-0.6zM344.6 74.2h0.6v0.6h-0.6zM350.7 78.8h0.6v0.6h-0.6zM343.9 76.0h0.6v0.6h-0.6zM356.4 59.2h0.6v0.6h-0.6zM355.1 82.1h0.6v0.6h-0.6zM353.5 69.5h0.6v0.6h-0.6zM352.1 67.6h0.6v0.6h-0.6zM343.3 70.8h0.6v0.6h-0.6zM340.0 60.2h0.6v0.6h-0.6zM325.1 65.0h0.6v0.6h-0.6zM353.4 79.7h0.6v0.6h-0.6zM320.5 62.9h0.6v0.6h-0.6zM329.3 76.7h0.6v0.6h-0.6zM322.5 71.2h0.6v0.6h-0.6zM359.1 76.9h0.6v0.6h-0.6zM319.3 54.0h0.6v0.6h-0.6zM346.5 71.0h0.6v0.6h-0.6zM338.9 65.9h0.6v0.6h-0.6zM333.9 71.4h0.6v0.6h-0.6zM353.4 65.1h0.6v0.6h-0.6zM335.4 74.7h0.6v0.6h-0.6zM327.1 60.5h0.6v0.6h-0.6zM331.3 61.4h0.6v0.6h-0.6zM320.2 65.5h0.6v0.6h-0.6zM349.5 79.3h0.6v0.6h-0.6zM327.0 64.4h0.6v0.6h-0.6zM356.5 61.5h0.6v0.6h-0.6zM349.9 77.1h0.6v0.6h-0.6zM355.2 77.8h0.6v0.6h-0.6zM329.8 71.9h0.6v0.6h-0.6zM332.2 68.8h0.6v0.6h-0.6zM344.6 68.8h0.6v0.6h-0.6zM357.3 64.3h0.6v0.6h-0.6z" fill="#5cae22" opacity="0.75"/>
<ellipse cx="333" cy="64" rx="9" ry="6.5" fill="#dcf0cc" opacity="0.8" transform="rotate(25 333 64)" filter="url(#b2)"/>
<ellipse cx="338" cy="69" rx="5" ry="3" fill="#c8e8b0" opacity="0.5" filter="url(#b1)"/>
<rect x="312.5" y="29" width="17" height="22.3" fill="#fbf4fa" stroke="#b068a8" stroke-width="0.7"/>
<rect x="316" y="31" width="11.5" height="20.5" rx="4" fill="#d8a0cc" filter="url(#b1)"/>
<rect x="318" y="32" width="8" height="19" rx="3.5" fill="#b0388e" filter="url(#b05)"/>
<path d="M326.2 36.8h0.6v0.6h-0.6zM323.4 41.0h0.6v0.6h-0.6zM322.6 46.3h0.6v0.6h-0.6zM322.4 40.9h0.6v0.6h-0.6zM321.7 51.0h0.6v0.6h-0.6zM324.0 41.3h0.6v0.6h-0.6zM317.5 45.0h0.6v0.6h-0.6zM320.1 32.2h0.6v0.6h-0.6zM322.0 37.0h0.6v0.6h-0.6zM322.0 42.9h0.6v0.6h-0.6zM321.2 37.7h0.6v0.6h-0.6zM319.3 35.2h0.6v0.6h-0.6zM319.6 34.8h0.6v0.6h-0.6zM321.1 36.7h0.6v0.6h-0.6zM323.1 42.4h0.6v0.6h-0.6zM325.0 42.0h0.6v0.6h-0.6zM323.0 43.8h0.6v0.6h-0.6zM313.6 42.1h0.6v0.6h-0.6zM321.0 37.1h0.6v0.6h-0.6zM322.2 37.8h0.6v0.6h-0.6zM324.2 44.5h0.6v0.6h-0.6zM317.9 46.5h0.6v0.6h-0.6zM317.1 44.8h0.6v0.6h-0.6zM328.1 49.3h0.6v0.6h-0.6zM318.7 51.0h0.6v0.6h-0.6zM327.9 43.7h0.6v0.6h-0.6zM323.6 33.0h0.6v0.6h-0.6zM321.9 42.3h0.6v0.6h-0.6zM324.6 48.9h0.6v0.6h-0.6zM318.0 36.9h0.6v0.6h-0.6zM322.8 44.5h0.6v0.6h-0.6zM318.5 47.3h0.6v0.6h-0.6zM319.9 39.7h0.6v0.6h-0.6zM322.5 41.9h0.6v0.6h-0.6zM323.0 39.0h0.6v0.6h-0.6zM325.0 40.2h0.6v0.6h-0.6zM321.7 38.3h0.6v0.6h-0.6zM322.6 37.1h0.6v0.6h-0.6zM319.4 46.9h0.6v0.6h-0.6zM323.8 44.4h0.6v0.6h-0.6zM322.7 36.8h0.6v0.6h-0.6zM318.0 48.5h0.6v0.6h-0.6zM322.3 45.4h0.6v0.6h-0.6zM322.6 47.3h0.6v0.6h-0.6zM319.0 47.9h0.6v0.6h-0.6zM315.6 43.6h0.6v0.6h-0.6zM326.5 44.3h0.6v0.6h-0.6zM323.2 37.7h0.6v0.6h-0.6zM325.4 42.7h0.6v0.6h-0.6zM324.7 45.9h0.6v0.6h-0.6zM321.7 38.9h0.6v0.6h-0.6zM324.7 46.1h0.6v0.6h-0.6zM323.1 45.4h0.6v0.6h-0.6zM320.5 42.6h0.6v0.6h-0.6zM324.8 43.9h0.6v0.6h-0.6zM314.6 44.2h0.6v0.6h-0.6zM320.8 40.7h0.6v0.6h-0.6zM316.0 36.8h0.6v0.6h-0.6zM328.1 38.7h0.6v0.6h-0.6zM327.9 50.7h0.6v0.6h-0.6zM319.7 40.8h0.6v0.6h-0.6zM322.3 43.9h0.6v0.6h-0.6zM317.0 43.9h0.6v0.6h-0.6zM325.1 44.5h0.6v0.6h-0.6zM321.1 45.2h0.6v0.6h-0.6zM320.4 36.6h0.6v0.6h-0.6zM320.0 41.9h0.6v0.6h-0.6zM326.6 42.1h0.6v0.6h-0.6zM321.3 41.4h0.6v0.6h-0.6zM316.8 43.3h0.6v0.6h-0.6zM319.7 40.5h0.6v0.6h-0.6zM317.6 41.6h0.6v0.6h-0.6zM321.0 38.8h0.6v0.6h-0.6zM321.6 29.7h0.6v0.6h-0.6zM323.0 45.4h0.6v0.6h-0.6zM316.4 34.0h0.6v0.6h-0.6zM323.9 43.6h0.6v0.6h-0.6zM325.4 42.9h0.6v0.6h-0.6zM323.3 44.5h0.6v0.6h-0.6zM322.0 33.6h0.6v0.6h-0.6zM325.0 39.2h0.6v0.6h-0.6zM321.8 40.6h0.6v0.6h-0.6zM324.2 40.1h0.6v0.6h-0.6zM318.2 42.5h0.6v0.6h-0.6zM325.5 39.3h0.6v0.6h-0.6zM326.5 41.1h0.6v0.6h-0.6zM319.8 42.7h0.6v0.6h-0.6zM324.7 40.2h0.6v0.6h-0.6zM319.6 44.5h0.6v0.6h-0.6zM321.7 40.4h0.6v0.6h-0.6zM320.7 44.0h0.6v0.6h-0.6zM322.0 41.4h0.6v0.6h-0.6zM320.1 38.6h0.6v0.6h-0.6zM318.1 43.7h0.6v0.6h-0.6zM321.6 38.3h0.6v0.6h-0.6zM322.1 44.5h0.6v0.6h-0.6zM323.8 40.7h0.6v0.6h-0.6zM324.5 47.0h0.6v0.6h-0.6zM316.2 35.4h0.6v0.6h-0.6zM324.2 43.0h0.6v0.6h-0.6zM324.1 48.4h0.6v0.6h-0.6zM318.9 43.3h0.6v0.6h-0.6zM325.6 35.8h0.6v0.6h-0.6zM327.1 29.9h0.6v0.6h-0.6zM321.1 42.6h0.6v0.6h-0.6zM323.3 40.1h0.6v0.6h-0.6zM324.6 42.0h0.6v0.6h-0.6zM324.3 36.9h0.6v0.6h-0.6zM315.9 39.4h0.6v0.6h-0.6zM323.6 33.3h0.6v0.6h-0.6zM320.4 41.3h0.6v0.6h-0.6zM322.2 50.3h0.6v0.6h-0.6zM317.1 35.9h0.6v0.6h-0.6zM328.6 32.4h0.6v0.6h-0.6zM322.4 43.7h0.6v0.6h-0.6zM325.3 36.8h0.6v0.6h-0.6zM324.0 49.9h0.6v0.6h-0.6zM321.9 45.9h0.6v0.6h-0.6zM319.4 46.9h0.6v0.6h-0.6zM321.4 39.4h0.6v0.6h-0.6zM321.8 33.1h0.6v0.6h-0.6zM317.3 43.1h0.6v0.6h-0.6zM322.1 40.7h0.6v0.6h-0.6zM317.2 42.9h0.6v0.6h-0.6zM320.8 33.1h0.6v0.6h-0.6zM322.5 37.2h0.6v0.6h-0.6zM314.7 47.9h0.6v0.6h-0.6zM322.9 47.4h0.6v0.6h-0.6zM328.7 38.4h0.6v0.6h-0.6zM319.0 48.3h0.6v0.6h-0.6zM322.2 38.4h0.6v0.6h-0.6zM322.4 45.6h0.6v0.6h-0.6zM321.9 43.1h0.6v0.6h-0.6zM324.1 46.1h0.6v0.6h-0.6zM320.9 42.7h0.6v0.6h-0.6zM315.4 34.4h0.6v0.6h-0.6zM319.3 38.9h0.6v0.6h-0.6zM321.0 35.3h0.6v0.6h-0.6zM323.7 47.6h0.6v0.6h-0.6zM326.8 42.5h0.6v0.6h-0.6zM323.6 46.4h0.6v0.6h-0.6zM327.3 39.1h0.6v0.6h-0.6zM324.3 34.1h0.6v0.6h-0.6zM318.7 34.5h0.6v0.6h-0.6zM324.1 40.7h0.6v0.6h-0.6zM322.3 36.5h0.6v0.6h-0.6zM317.0 34.6h0.6v0.6h-0.6zM325.0 35.8h0.6v0.6h-0.6zM322.2 42.5h0.6v0.6h-0.6zM317.0 39.4h0.6v0.6h-0.6zM321.8 43.8h0.6v0.6h-0.6zM324.0 41.6h0.6v0.6h-0.6zM321.9 41.0h0.6v0.6h-0.6zM322.3 46.2h0.6v0.6h-0.6zM323.6 41.9h0.6v0.6h-0.6zM323.7 45.9h0.6v0.6h-0.6zM319.2 40.8h0.6v0.6h-0.6zM318.8 44.9h0.6v0.6h-0.6zM321.9 43.5h0.6v0.6h-0.6zM323.6 43.3h0.6v0.6h-0.6zM325.8 46.1h0.6v0.6h-0.6zM321.2 37.1h0.6v0.6h-0.6zM323.3 32.1h0.6v0.6h-0.6zM320.0 47.4h0.6v0.6h-0.6zM321.0 40.8h0.6v0.6h-0.6zM324.8 49.1h0.6v0.6h-0.6zM318.2 47.8h0.6v0.6h-0.6zM322.5 39.0h0.6v0.6h-0.6zM320.2 39.5h0.6v0.6h-0.6zM320.5 31.0h0.6v0.6h-0.6zM322.6 37.3h0.6v0.6h-0.6zM325.9 46.4h0.6v0.6h-0.6zM320.4 40.2h0.6v0.6h-0.6zM323.5 48.9h0.6v0.6h-0.6zM325.5 46.8h0.6v0.6h-0.6zM322.1 46.1h0.6v0.6h-0.6zM318.5 44.9h0.6v0.6h-0.6zM321.9 40.0h0.6v0.6h-0.6zM321.6 37.3h0.6v0.6h-0.6zM320.8 49.8h0.6v0.6h-0.6zM320.4 33.8h0.6v0.6h-0.6zM323.8 39.2h0.6v0.6h-0.6zM320.2 49.7h0.6v0.6h-0.6zM321.9 45.0h0.6v0.6h-0.6zM324.4 33.1h0.6v0.6h-0.6zM327.5 38.8h0.6v0.6h-0.6zM321.0 46.4h0.6v0.6h-0.6zM321.8 39.5h0.6v0.6h-0.6zM320.9 39.9h0.6v0.6h-0.6zM325.7 43.7h0.6v0.6h-0.6zM324.6 36.8h0.6v0.6h-0.6zM322.5 44.4h0.6v0.6h-0.6zM318.1 41.2h0.6v0.6h-0.6zM318.7 48.7h0.6v0.6h-0.6zM316.6 39.6h0.6v0.6h-0.6zM323.0 42.9h0.6v0.6h-0.6zM319.2 46.0h0.6v0.6h-0.6zM321.9 50.4h0.6v0.6h-0.6zM322.5 46.7h0.6v0.6h-0.6zM317.0 42.9h0.6v0.6h-0.6zM322.4 35.8h0.6v0.6h-0.6zM315.1 46.0h0.6v0.6h-0.6zM326.1 38.1h0.6v0.6h-0.6zM324.8 45.6h0.6v0.6h-0.6zM320.3 37.8h0.6v0.6h-0.6zM323.4 39.8h0.6v0.6h-0.6zM317.7 43.3h0.6v0.6h-0.6zM321.6 43.7h0.6v0.6h-0.6zM322.0 31.2h0.6v0.6h-0.6zM320.7 42.5h0.6v0.6h-0.6zM320.9 43.1h0.6v0.6h-0.6zM323.0 41.1h0.6v0.6h-0.6zM323.0 43.6h0.6v0.6h-0.6zM323.7 43.0h0.6v0.6h-0.6zM316.1 39.2h0.6v0.6h-0.6zM323.0 44.7h0.6v0.6h-0.6zM322.3 35.2h0.6v0.6h-0.6zM321.1 44.1h0.6v0.6h-0.6zM323.8 44.6h0.6v0.6h-0.6zM325.0 37.7h0.6v0.6h-0.6z" fill="#a02c84" opacity="0.8"/>
<rect x="335.5" y="45.2" width="26.3" height="13.6" fill="#fffaf4" stroke="#f0b060" stroke-width="0.7"/>
<path d="M336.5 58.3 L336.5 50 C337 47.5 345 47 351 47.5 C356 48 358 51 358 54 L358 58.3 Z" fill="#f48c14" filter="url(#b05)"/>
<path d="M431.8 96.3 L432.5 85.7 L433.2 75.0 L433.9 55.0 L434.6 35.0 L435.0 29.9 L435.3 24.7 L435.7 29.9 L436.1 35.0 L436.7 55.0 L437.3 75.0 L438.0 85.7 L438.6 96.3" fill="none" stroke="#24508e" stroke-width="0.9" stroke-linejoin="round" opacity="1.0"/>
<path d="M441.5 96.3 L441.5 96.3 L442.0 94.9 L442.5 92.7 L443.1 90.4 L443.9 87.6 L443.9 87.5 L444.1 86.8 L444.7 84.4 L445.5 81.0 L444.8 84.2 L444.2 86.4 L446.8 74.7 L445.3 82.0 L445.8 79.8 L447.8 70.3 L447.9 69.4 L446.2 77.7 L448.8 65.6 L447.0 73.9 L447.6 71.3 L450.0 60.4 L448.6 66.4 L450.0 60.5 L449.8 61.3 L449.2 63.5 L450.5 58.7 L450.2 59.6 L449.5 62.4 L452.5 51.2 L451.4 55.4 L452.1 52.7 L453.5 48.4 L453.2 49.1 L454.3 46.5 L451.8 53.8 L452.3 51.9 L452.8 50.4 L454.6 45.8 L455.0 44.7 L454.2 46.6 L454.7 45.5 L455.1 44.4 L455.5 43.6 L455.5 43.7 L455.7 43.1 L455.8 42.9 L458.1 36.2 L456.4 41.3 L458.9 33.5 L457.0 40.1 L459.4 32.0 L458.1 36.3 L460.0 30.3 L460.5 29.3 L459.2 32.4 L458.9 33.4 L461.5 29.1 L461.2 28.8 L461.3 28.9 L461.2 28.8 L461.4 29.0 L462.3 29.7 L462.5 29.9 L463.0 30.2 L462.9 30.1 L463.3 30.5 L463.6 30.7 L464.0 31.0 L463.8 30.8 L464.0 31.1 L465.6 34.3 L464.9 32.8 L465.5 34.1 L465.0 33.0 L466.3 35.6 L466.7 36.4 L465.7 34.5 L466.8 36.5 L467.5 38.8 L468.2 41.8 L468.8 44.1 L467.3 38.2 L468.4 42.7 L467.9 40.5 L469.9 48.4 L468.9 44.5 L471.7 54.6 L469.5 47.0 L471.7 54.4 L470.9 51.9 L471.7 54.6 L471.9 55.2 L472.4 56.8 L472.2 56.4 L474.0 61.8 L474.5 63.2 L472.3 56.7 L474.5 63.2 L475.5 65.8 L474.8 63.9 L474.0 61.9 L476.0 67.1 L475.3 65.3 L474.8 63.9 L476.0 67.3 L477.1 70.2 L477.0 69.9 L478.0 72.0 L477.6 71.2 L477.3 70.6 L478.4 72.7 L478.9 73.8 L479.3 74.5 L479.4 74.6 L478.6 73.2 L479.2 74.4 L480.7 77.3 L480.5 76.8 L481.5 78.8 L481.2 78.1 L481.3 78.4 L481.8 79.3 L482.6 80.7 L483.0 81.2 L482.6 80.7 L483.6 81.9 L483.9 82.3 L484.1 82.5 L484.1 82.5 L484.0 82.4 L484.4 82.9 L485.2 83.8 L485.8 84.6 L485.8 84.5 L486.2 85.0 L486.4 85.2 L487.0 85.9 L486.8 85.7 L487.5 86.6 L487.8 86.9 L488.2 87.2 L488.6 87.4 L489.0 87.7 L489.2 87.9 L489.4 88.0 L489.9 88.3 L490.1 88.5 L490.3 88.6 L490.6 88.8 L491.2 89.2 L491.4 89.3 L491.7 89.6 L492.2 89.9 L492.3 89.9 L492.8 90.3 L492.9 90.4 L493.5 90.8 L493.6 90.8 L494.0 91.1 L494.4 91.3 L494.9 91.7 L495.1 91.8 L495.4 92.0 L495.7 92.1 L496.0 92.2 L496.3 92.3 L496.8 92.4 L497.0 92.5 L497.3 92.6 L497.7 92.7 L498.0 92.8 L498.3 92.9 L498.7 93.0 L499.1 93.2 L499.4 93.2 L499.7 93.4 L500.0 93.4 L500.3 93.5 L500.7 93.7 L501.0 93.8 L501.3 93.9 L501.6 94.0 L501.9 94.1 L502.3 94.2 L502.6 94.3 L502.9 94.4 L503.3 94.5 L503.6 94.6 L504.0 94.7 L504.3 94.8 L504.6 94.9 L505.0 95.0 L505.3 95.0 L505.6 95.1 L505.9 95.1 L506.3 95.2 L506.6 95.3 L506.9 95.3 L507.3 95.4 L507.6 95.5 L507.9 95.5 L508.3 95.6 L508.6 95.6 L508.9 95.7 L509.3 95.8 L509.6 95.8 L509.9 95.9 L510.3 96.0 L510.6 96.0 L510.9 96.1 L511.2 96.1 L511.6 96.2 L511.9 96.3" fill="none" stroke="#ea6aa4" stroke-width="4.6" stroke-linejoin="round" opacity="0.6"/>
<path d="M441.5 95.6 L441.5 95.4 L442.0 92.1 L442.5 91.4 L443.1 92.7 L443.9 88.3 L443.9 88.8 L444.1 84.9 L444.7 92.3 L445.5 87.4 L444.8 82.9 L444.2 85.6 L446.8 77.8 L445.3 78.7 L445.8 77.7 L447.8 76.8 L447.9 76.1 L446.2 77.3 L448.8 74.5 L447.0 70.4 L447.6 71.1 L450.0 62.8 L448.6 61.5 L450.0 60.4 L449.8 53.9 L449.2 61.4 L450.5 52.9 L450.2 54.5 L449.5 58.4 L452.5 59.4 L451.4 58.5 L452.1 53.9 L453.5 53.1 L453.2 51.4 L454.3 47.8 L451.8 49.3 L452.3 47.6 L452.8 48.6 L454.6 47.9 L455.0 44.7 L454.2 34.4 L454.7 44.1 L455.1 42.5 L455.5 43.7 L455.5 34.1 L455.7 44.0 L455.8 40.0 L458.1 38.1 L456.4 38.0 L458.9 35.9 L457.0 35.8 L459.4 35.4 L458.1 37.0 L460.0 35.6 L460.5 40.7 L459.2 30.6 L458.9 37.4 L461.5 33.3 L461.2 28.1 L461.3 26.3 L461.2 30.4 L461.4 27.8 L462.3 30.3 L462.5 25.7 L463.0 33.7 L462.9 22.9 L463.3 31.9 L463.6 34.6 L464.0 28.9 L463.8 34.2 L464.0 32.7 L465.6 35.6 L464.9 40.5 L465.5 32.3 L465.0 34.8 L466.3 28.9 L466.7 32.3 L465.7 37.0 L466.8 37.4 L467.5 37.6 L468.2 51.1 L468.8 38.3 L467.3 44.0 L468.4 54.9 L467.9 50.2 L469.9 45.0 L468.9 51.3 L471.7 45.6 L469.5 51.4 L471.7 53.7 L470.9 56.2 L471.7 50.9 L471.9 58.2 L472.4 54.2 L472.2 58.3 L474.0 61.6 L474.5 70.0 L472.3 61.4 L474.5 63.9 L475.5 59.0 L474.8 59.5 L474.0 67.2 L476.0 63.0 L475.3 65.2 L474.8 65.7 L476.0 67.9 L477.1 71.0 L477.0 72.0 L478.0 70.3 L477.6 81.7 L477.3 71.2 L478.4 70.3 L478.9 71.4 L479.3 77.7 L479.4 73.6 L478.6 72.9 L479.2 75.4 L480.7 75.0 L480.5 73.7 L481.5 78.4 L481.2 81.0 L481.3 80.7 L481.8 81.5 L482.6 77.8 L483.0 82.1 L482.6 79.0 L483.6 79.0 L483.9 84.9 L484.1 80.8 L484.1 88.3 L484.0 84.7 L484.4 82.2 L485.2 84.8 L485.8 81.6 L485.8 81.7 L486.2 85.1 L486.4 86.6 L487.0 85.4 L486.8 88.9 L487.5 89.2 L487.8 87.0 L488.2 84.6 L488.6 88.8 L489.0 85.6 L489.2 81.0 L489.4 88.9 L489.9 86.5 L490.1 82.4 L490.3 90.0 L490.6 88.3 L491.2 89.2 L491.4 88.6 L491.7 89.8 L492.2 95.0 L492.3 90.3 L492.8 91.2 L492.9 90.0 L493.5 91.2 L493.6 91.1 L494.0 92.8 L494.4 92.9 L494.9 92.9 L495.1 91.0 L495.4 92.8 L495.7 90.1 L496.0 90.6 L496.3 91.0 L496.8 93.5 L497.0 94.2 L497.3 91.7 L497.7 89.7 L498.0 92.8 L498.3 92.3 L498.7 88.8 L499.1 92.5 L499.4 94.6 L499.7 89.8 L500.0 94.2 L500.3 92.0 L500.7 96.3 L501.0 92.6 L501.3 93.4 L501.6 94.3 L501.9 93.1 L502.3 94.1 L502.6 93.2 L502.9 91.2 L503.3 95.6 L503.6 93.1 L504.0 93.3 L504.3 96.0 L504.6 93.9 L505.0 96.2 L505.3 94.4 L505.6 96.0 L505.9 96.3 L506.3 94.0 L506.6 92.0 L506.9 95.3 L507.3 95.4 L507.6 96.2 L507.9 95.1 L508.3 96.3 L508.6 96.3 L508.9 95.7 L509.3 96.3 L509.6 96.3 L509.9 95.5 L510.3 95.8 L510.6 95.6 L510.9 96.3 L511.2 93.2 L511.6 96.1 L511.9 95.2" fill="none" stroke="#d8167a" stroke-width="0.7" stroke-linejoin="miter" stroke-miterlimit="2" opacity="1.0"/>
<path d="M173.0 230.0 L173.0 210.0 L180.0 200.0 L190.0 191.0 L198.0 185.0 L202.0 175.0 L207.0 166.0 L213.0 165.0 L219.0 172.0 L221.0 190.0 L220.0 210.0 L214.0 224.0 L206.0 233.0 L180.0 233.0Z" fill="#e6e6e6" opacity="1" filter="url(#b3)"/>
<path d="M176.0 228.0 L176.0 214.0 L180.0 207.0 L190.0 196.0 L200.0 190.0 L203.0 182.0 L206.0 174.0 L210.0 169.0 L214.0 171.0 L217.0 180.0 L217.0 196.0 L216.0 210.0 L210.0 222.0 L205.0 230.0 L185.0 231.0Z" fill="#c8c8c8" opacity="1" filter="url(#b15)"/>
<ellipse cx="194" cy="228" rx="10" ry="3.5" fill="#d2d2d2" opacity="1" filter="url(#b1)"/>
<path d="M212.9 203.3h0.6v0.6h-0.6zM191.4 215.8h0.6v0.6h-0.6zM206.6 181.5h0.6v0.6h-0.6zM200.8 210.8h0.6v0.6h-0.6zM204.5 203.2h0.6v0.6h-0.6zM207.8 193.7h0.6v0.6h-0.6zM195.5 212.8h0.6v0.6h-0.6zM172.1 199.0h0.6v0.6h-0.6zM200.2 227.5h0.6v0.6h-0.6zM194.5 209.0h0.6v0.6h-0.6zM205.2 191.3h0.6v0.6h-0.6zM197.6 216.7h0.6v0.6h-0.6zM217.7 183.5h0.6v0.6h-0.6zM199.3 201.7h0.6v0.6h-0.6zM209.0 186.2h0.6v0.6h-0.6zM224.8 192.1h0.6v0.6h-0.6zM182.5 221.4h0.6v0.6h-0.6zM206.9 195.2h0.6v0.6h-0.6zM190.5 209.7h0.6v0.6h-0.6zM190.6 210.6h0.6v0.6h-0.6zM201.8 210.9h0.6v0.6h-0.6zM210.3 199.3h0.6v0.6h-0.6zM198.1 177.8h0.6v0.6h-0.6zM204.6 193.6h0.6v0.6h-0.6zM218.1 197.9h0.6v0.6h-0.6zM213.7 207.9h0.6v0.6h-0.6zM211.3 180.0h0.6v0.6h-0.6zM191.1 221.4h0.6v0.6h-0.6zM180.9 214.2h0.6v0.6h-0.6zM201.3 217.9h0.6v0.6h-0.6zM182.8 219.5h0.6v0.6h-0.6zM181.7 219.1h0.6v0.6h-0.6zM219.6 186.2h0.6v0.6h-0.6zM201.6 231.7h0.6v0.6h-0.6zM208.4 183.7h0.6v0.6h-0.6zM200.0 199.1h0.6v0.6h-0.6zM212.5 194.6h0.6v0.6h-0.6zM191.4 202.8h0.6v0.6h-0.6zM213.0 182.7h0.6v0.6h-0.6zM206.9 198.4h0.6v0.6h-0.6zM192.9 209.5h0.6v0.6h-0.6zM202.8 212.4h0.6v0.6h-0.6zM212.6 213.4h0.6v0.6h-0.6zM198.2 208.0h0.6v0.6h-0.6zM208.2 217.3h0.6v0.6h-0.6zM196.6 217.7h0.6v0.6h-0.6zM181.9 210.6h0.6v0.6h-0.6zM208.2 203.0h0.6v0.6h-0.6zM197.6 177.7h0.6v0.6h-0.6zM180.5 200.0h0.6v0.6h-0.6zM204.4 191.8h0.6v0.6h-0.6zM213.0 194.7h0.6v0.6h-0.6zM203.7 217.4h0.6v0.6h-0.6zM211.0 191.7h0.6v0.6h-0.6zM191.0 200.4h0.6v0.6h-0.6zM214.8 194.3h0.6v0.6h-0.6zM196.6 215.6h0.6v0.6h-0.6zM175.2 221.0h0.6v0.6h-0.6zM201.5 196.2h0.6v0.6h-0.6zM202.7 202.1h0.6v0.6h-0.6zM196.1 192.3h0.6v0.6h-0.6zM204.4 189.0h0.6v0.6h-0.6zM204.4 215.3h0.6v0.6h-0.6zM215.6 185.6h0.6v0.6h-0.6zM193.1 208.4h0.6v0.6h-0.6zM210.2 180.0h0.6v0.6h-0.6zM191.2 230.3h0.6v0.6h-0.6zM209.0 206.4h0.6v0.6h-0.6zM184.3 212.2h0.6v0.6h-0.6zM206.6 201.7h0.6v0.6h-0.6zM192.7 212.7h0.6v0.6h-0.6zM203.2 194.6h0.6v0.6h-0.6zM192.8 194.4h0.6v0.6h-0.6zM200.6 195.8h0.6v0.6h-0.6zM242.5 204.1h0.6v0.6h-0.6zM190.5 188.3h0.6v0.6h-0.6zM195.4 231.8h0.6v0.6h-0.6zM190.1 190.1h0.6v0.6h-0.6zM209.4 196.6h0.6v0.6h-0.6zM206.8 201.3h0.6v0.6h-0.6zM208.5 209.6h0.6v0.6h-0.6zM221.6 193.4h0.6v0.6h-0.6zM211.3 203.1h0.6v0.6h-0.6zM212.6 200.8h0.6v0.6h-0.6zM200.6 220.4h0.6v0.6h-0.6zM208.7 191.7h0.6v0.6h-0.6zM197.7 194.8h0.6v0.6h-0.6zM192.5 215.4h0.6v0.6h-0.6zM191.4 197.6h0.6v0.6h-0.6zM200.4 204.1h0.6v0.6h-0.6zM185.1 216.8h0.6v0.6h-0.6zM204.3 193.6h0.6v0.6h-0.6zM192.5 218.1h0.6v0.6h-0.6zM197.8 220.7h0.6v0.6h-0.6zM206.8 200.3h0.6v0.6h-0.6zM193.6 187.4h0.6v0.6h-0.6zM209.3 182.9h0.6v0.6h-0.6zM203.0 192.4h0.6v0.6h-0.6zM221.2 183.0h0.6v0.6h-0.6zM213.9 221.5h0.6v0.6h-0.6zM195.9 203.4h0.6v0.6h-0.6zM208.7 218.7h0.6v0.6h-0.6zM201.0 195.8h0.6v0.6h-0.6zM186.6 202.2h0.6v0.6h-0.6zM207.5 206.3h0.6v0.6h-0.6zM205.0 193.8h0.6v0.6h-0.6zM198.2 210.9h0.6v0.6h-0.6zM186.0 208.0h0.6v0.6h-0.6zM195.1 209.4h0.6v0.6h-0.6zM198.2 208.6h0.6v0.6h-0.6zM197.7 214.5h0.6v0.6h-0.6zM194.9 200.3h0.6v0.6h-0.6zM190.5 200.7h0.6v0.6h-0.6zM210.4 204.9h0.6v0.6h-0.6zM210.9 202.2h0.6v0.6h-0.6zM196.0 220.7h0.6v0.6h-0.6zM200.2 210.5h0.6v0.6h-0.6zM207.3 217.1h0.6v0.6h-0.6zM209.4 204.1h0.6v0.6h-0.6zM189.8 211.2h0.6v0.6h-0.6zM185.3 215.1h0.6v0.6h-0.6zM194.2 205.9h0.6v0.6h-0.6zM212.8 193.8h0.6v0.6h-0.6zM215.4 211.4h0.6v0.6h-0.6zM204.5 190.8h0.6v0.6h-0.6zM197.1 176.3h0.6v0.6h-0.6zM189.3 207.5h0.6v0.6h-0.6zM189.7 217.0h0.6v0.6h-0.6zM201.3 182.1h0.6v0.6h-0.6zM205.4 202.8h0.6v0.6h-0.6zM180.8 216.6h0.6v0.6h-0.6zM210.4 187.9h0.6v0.6h-0.6zM201.6 191.1h0.6v0.6h-0.6zM212.2 202.1h0.6v0.6h-0.6zM193.6 205.7h0.6v0.6h-0.6zM204.7 227.0h0.6v0.6h-0.6zM201.9 200.5h0.6v0.6h-0.6zM189.8 214.1h0.6v0.6h-0.6zM192.1 199.7h0.6v0.6h-0.6zM209.3 198.6h0.6v0.6h-0.6zM184.3 188.6h0.6v0.6h-0.6zM199.2 189.1h0.6v0.6h-0.6zM190.9 212.0h0.6v0.6h-0.6zM195.5 183.7h0.6v0.6h-0.6zM193.8 214.9h0.6v0.6h-0.6zM190.5 208.1h0.6v0.6h-0.6zM212.5 198.8h0.6v0.6h-0.6zM193.6 213.7h0.6v0.6h-0.6zM205.2 197.2h0.6v0.6h-0.6zM200.5 200.2h0.6v0.6h-0.6zM199.1 207.6h0.6v0.6h-0.6zM204.7 197.0h0.6v0.6h-0.6zM198.4 207.5h0.6v0.6h-0.6zM189.3 223.0h0.6v0.6h-0.6zM209.4 174.1h0.6v0.6h-0.6zM212.2 202.3h0.6v0.6h-0.6zM204.3 201.9h0.6v0.6h-0.6zM210.6 200.5h0.6v0.6h-0.6zM195.6 224.9h0.6v0.6h-0.6zM209.6 195.6h0.6v0.6h-0.6zM207.2 223.7h0.6v0.6h-0.6zM208.2 186.0h0.6v0.6h-0.6zM202.5 203.5h0.6v0.6h-0.6zM202.9 207.1h0.6v0.6h-0.6zM211.4 211.6h0.6v0.6h-0.6zM199.4 197.2h0.6v0.6h-0.6zM199.5 211.1h0.6v0.6h-0.6zM196.2 186.6h0.6v0.6h-0.6zM208.6 204.3h0.6v0.6h-0.6zM209.5 205.2h0.6v0.6h-0.6zM192.3 206.9h0.6v0.6h-0.6zM213.1 208.3h0.6v0.6h-0.6zM199.0 211.2h0.6v0.6h-0.6zM199.9 214.7h0.6v0.6h-0.6zM201.8 198.5h0.6v0.6h-0.6zM189.6 193.7h0.6v0.6h-0.6zM207.3 209.9h0.6v0.6h-0.6zM210.2 188.2h0.6v0.6h-0.6zM180.3 203.4h0.6v0.6h-0.6zM197.2 193.4h0.6v0.6h-0.6zM175.9 214.3h0.6v0.6h-0.6zM221.6 186.6h0.6v0.6h-0.6zM197.0 198.4h0.6v0.6h-0.6zM198.5 215.8h0.6v0.6h-0.6zM200.2 201.7h0.6v0.6h-0.6zM214.4 184.0h0.6v0.6h-0.6zM199.2 202.5h0.6v0.6h-0.6zM208.4 191.6h0.6v0.6h-0.6zM201.6 186.2h0.6v0.6h-0.6zM204.9 189.6h0.6v0.6h-0.6zM223.4 204.3h0.6v0.6h-0.6zM213.7 200.2h0.6v0.6h-0.6zM191.5 212.8h0.6v0.6h-0.6zM185.2 229.3h0.6v0.6h-0.6zM213.8 183.2h0.6v0.6h-0.6zM227.1 173.0h0.6v0.6h-0.6zM202.1 191.5h0.6v0.6h-0.6zM204.9 193.3h0.6v0.6h-0.6zM198.6 196.5h0.6v0.6h-0.6zM211.3 194.3h0.6v0.6h-0.6zM183.9 230.0h0.6v0.6h-0.6zM209.5 225.2h0.6v0.6h-0.6zM203.6 195.9h0.6v0.6h-0.6zM208.4 186.8h0.6v0.6h-0.6zM213.4 197.9h0.6v0.6h-0.6zM176.9 208.1h0.6v0.6h-0.6zM206.7 220.1h0.6v0.6h-0.6zM202.4 211.6h0.6v0.6h-0.6zM204.6 225.6h0.6v0.6h-0.6zM184.3 204.6h0.6v0.6h-0.6zM189.9 223.3h0.6v0.6h-0.6zM200.0 197.4h0.6v0.6h-0.6zM186.6 197.7h0.6v0.6h-0.6zM194.2 222.3h0.6v0.6h-0.6zM193.0 214.4h0.6v0.6h-0.6zM223.9 196.3h0.6v0.6h-0.6zM208.7 206.8h0.6v0.6h-0.6zM191.3 186.7h0.6v0.6h-0.6zM207.0 189.2h0.6v0.6h-0.6zM209.9 195.8h0.6v0.6h-0.6zM210.8 202.7h0.6v0.6h-0.6zM203.3 222.0h0.6v0.6h-0.6zM200.5 221.6h0.6v0.6h-0.6zM217.1 226.2h0.6v0.6h-0.6zM189.5 191.7h0.6v0.6h-0.6zM201.7 219.9h0.6v0.6h-0.6zM192.5 207.7h0.6v0.6h-0.6zM202.3 200.4h0.6v0.6h-0.6zM196.2 202.1h0.6v0.6h-0.6zM220.3 186.2h0.6v0.6h-0.6zM207.5 210.2h0.6v0.6h-0.6zM185.4 201.0h0.6v0.6h-0.6zM204.4 191.0h0.6v0.6h-0.6zM206.3 201.9h0.6v0.6h-0.6zM201.6 225.2h0.6v0.6h-0.6zM201.2 210.4h0.6v0.6h-0.6zM192.6 199.5h0.6v0.6h-0.6zM198.0 232.6h0.6v0.6h-0.6zM184.2 200.0h0.6v0.6h-0.6zM186.9 231.0h0.6v0.6h-0.6zM190.5 231.7h0.6v0.6h-0.6zM193.8 173.3h0.6v0.6h-0.6zM209.8 186.0h0.6v0.6h-0.6zM186.7 190.6h0.6v0.6h-0.6zM195.6 203.4h0.6v0.6h-0.6zM218.2 197.1h0.6v0.6h-0.6zM203.3 181.3h0.6v0.6h-0.6zM194.5 217.5h0.6v0.6h-0.6zM222.8 178.2h0.6v0.6h-0.6zM205.9 201.5h0.6v0.6h-0.6zM202.7 186.3h0.6v0.6h-0.6zM193.9 205.4h0.6v0.6h-0.6zM200.9 216.6h0.6v0.6h-0.6zM193.4 200.4h0.6v0.6h-0.6zM187.5 211.7h0.6v0.6h-0.6zM208.7 186.5h0.6v0.6h-0.6zM198.4 229.7h0.6v0.6h-0.6zM175.0 220.3h0.6v0.6h-0.6zM204.8 204.3h0.6v0.6h-0.6zM189.1 178.0h0.6v0.6h-0.6zM187.4 210.0h0.6v0.6h-0.6zM197.9 205.5h0.6v0.6h-0.6zM198.3 209.8h0.6v0.6h-0.6zM189.4 219.3h0.6v0.6h-0.6zM187.2 182.6h0.6v0.6h-0.6zM202.1 190.5h0.6v0.6h-0.6zM213.6 202.5h0.6v0.6h-0.6zM187.5 188.9h0.6v0.6h-0.6zM201.2 190.8h0.6v0.6h-0.6zM197.6 193.9h0.6v0.6h-0.6zM206.8 204.0h0.6v0.6h-0.6zM203.3 203.6h0.6v0.6h-0.6zM209.9 208.8h0.6v0.6h-0.6zM195.9 218.8h0.6v0.6h-0.6zM203.8 224.7h0.6v0.6h-0.6zM201.8 183.4h0.6v0.6h-0.6zM230.9 196.0h0.6v0.6h-0.6zM202.8 182.3h0.6v0.6h-0.6zM202.6 204.3h0.6v0.6h-0.6zM173.8 208.9h0.6v0.6h-0.6zM188.8 216.3h0.6v0.6h-0.6zM208.1 207.7h0.6v0.6h-0.6zM213.4 197.4h0.6v0.6h-0.6zM201.5 201.4h0.6v0.6h-0.6zM197.9 211.3h0.6v0.6h-0.6zM204.2 198.8h0.6v0.6h-0.6zM207.8 201.6h0.6v0.6h-0.6zM212.0 195.9h0.6v0.6h-0.6zM176.7 228.2h0.6v0.6h-0.6zM184.4 209.2h0.6v0.6h-0.6zM209.4 219.3h0.6v0.6h-0.6zM204.3 204.1h0.6v0.6h-0.6zM204.5 192.9h0.6v0.6h-0.6zM200.1 214.8h0.6v0.6h-0.6zM201.8 171.3h0.6v0.6h-0.6zM226.6 213.5h0.6v0.6h-0.6zM197.5 186.1h0.6v0.6h-0.6zM198.9 223.6h0.6v0.6h-0.6zM194.5 195.8h0.6v0.6h-0.6zM207.7 199.6h0.6v0.6h-0.6zM200.3 210.2h0.6v0.6h-0.6zM200.1 219.6h0.6v0.6h-0.6zM204.8 196.6h0.6v0.6h-0.6zM189.5 197.7h0.6v0.6h-0.6zM194.4 194.5h0.6v0.6h-0.6zM198.9 201.8h0.6v0.6h-0.6zM205.8 211.5h0.6v0.6h-0.6zM191.2 224.8h0.6v0.6h-0.6zM189.8 227.0h0.6v0.6h-0.6zM197.6 208.7h0.6v0.6h-0.6zM191.2 201.0h0.6v0.6h-0.6zM184.2 218.2h0.6v0.6h-0.6zM193.4 222.6h0.6v0.6h-0.6zM210.1 193.1h0.6v0.6h-0.6zM181.8 193.8h0.6v0.6h-0.6zM198.2 196.2h0.6v0.6h-0.6zM202.0 206.6h0.6v0.6h-0.6zM196.0 207.0h0.6v0.6h-0.6zM199.9 189.9h0.6v0.6h-0.6zM189.9 215.5h0.6v0.6h-0.6zM207.3 201.9h0.6v0.6h-0.6zM199.8 213.8h0.6v0.6h-0.6zM180.4 224.1h0.6v0.6h-0.6zM203.7 189.0h0.6v0.6h-0.6zM199.7 206.9h0.6v0.6h-0.6zM203.4 225.4h0.6v0.6h-0.6zM199.9 195.7h0.6v0.6h-0.6zM199.5 199.0h0.6v0.6h-0.6zM192.9 199.1h0.6v0.6h-0.6zM204.9 220.6h0.6v0.6h-0.6zM204.9 187.2h0.6v0.6h-0.6zM198.3 222.2h0.6v0.6h-0.6zM185.5 205.5h0.6v0.6h-0.6zM207.8 224.8h0.6v0.6h-0.6zM205.7 205.9h0.6v0.6h-0.6zM193.3 206.0h0.6v0.6h-0.6zM205.9 218.1h0.6v0.6h-0.6zM207.6 206.0h0.6v0.6h-0.6zM190.0 221.2h0.6v0.6h-0.6zM195.5 216.3h0.6v0.6h-0.6zM202.5 189.0h0.6v0.6h-0.6zM199.9 207.8h0.6v0.6h-0.6zM180.8 181.4h0.6v0.6h-0.6zM204.6 201.7h0.6v0.6h-0.6zM190.7 198.4h0.6v0.6h-0.6zM195.9 222.7h0.6v0.6h-0.6zM184.9 196.7h0.6v0.6h-0.6zM181.7 229.2h0.6v0.6h-0.6zM209.8 191.5h0.6v0.6h-0.6zM200.6 217.1h0.6v0.6h-0.6zM202.2 220.9h0.6v0.6h-0.6zM203.9 185.6h0.6v0.6h-0.6zM202.7 203.6h0.6v0.6h-0.6zM207.2 179.3h0.6v0.6h-0.6zM202.1 212.8h0.6v0.6h-0.6zM207.6 213.3h0.6v0.6h-0.6zM204.1 190.8h0.6v0.6h-0.6zM202.7 190.4h0.6v0.6h-0.6zM203.1 192.3h0.6v0.6h-0.6zM209.5 205.2h0.6v0.6h-0.6zM203.5 204.8h0.6v0.6h-0.6zM209.3 176.8h0.6v0.6h-0.6zM199.5 196.0h0.6v0.6h-0.6zM215.8 192.7h0.6v0.6h-0.6zM202.1 214.0h0.6v0.6h-0.6zM200.1 201.9h0.6v0.6h-0.6zM205.9 209.5h0.6v0.6h-0.6zM233.3 181.9h0.6v0.6h-0.6zM180.8 224.8h0.6v0.6h-0.6zM215.2 180.0h0.6v0.6h-0.6zM189.9 176.8h0.6v0.6h-0.6zM199.1 173.0h0.6v0.6h-0.6zM196.6 197.3h0.6v0.6h-0.6zM191.5 196.9h0.6v0.6h-0.6zM191.0 211.5h0.6v0.6h-0.6zM189.7 196.8h0.6v0.6h-0.6zM196.4 213.6h0.6v0.6h-0.6zM190.5 198.2h0.6v0.6h-0.6zM185.2 207.3h0.6v0.6h-0.6zM197.3 219.2h0.6v0.6h-0.6zM187.7 223.4h0.6v0.6h-0.6zM205.8 179.9h0.6v0.6h-0.6zM194.4 199.1h0.6v0.6h-0.6zM211.9 200.2h0.6v0.6h-0.6zM191.8 208.2h0.6v0.6h-0.6zM184.2 209.6h0.6v0.6h-0.6zM210.1 191.6h0.6v0.6h-0.6zM203.4 194.0h0.6v0.6h-0.6zM191.0 203.1h0.6v0.6h-0.6zM192.1 213.0h0.6v0.6h-0.6zM210.0 182.6h0.6v0.6h-0.6zM197.4 212.7h0.6v0.6h-0.6zM211.0 186.1h0.6v0.6h-0.6zM202.3 184.5h0.6v0.6h-0.6zM202.2 192.4h0.6v0.6h-0.6zM205.1 210.8h0.6v0.6h-0.6zM217.4 219.1h0.6v0.6h-0.6zM189.4 194.5h0.6v0.6h-0.6zM216.6 204.9h0.6v0.6h-0.6zM195.6 214.9h0.6v0.6h-0.6zM204.6 222.5h0.6v0.6h-0.6zM206.1 188.0h0.6v0.6h-0.6zM192.2 208.3h0.6v0.6h-0.6zM186.4 198.6h0.6v0.6h-0.6zM219.6 193.8h0.6v0.6h-0.6zM210.6 195.7h0.6v0.6h-0.6zM191.3 205.3h0.6v0.6h-0.6zM205.7 204.1h0.6v0.6h-0.6zM199.6 213.3h0.6v0.6h-0.6zM219.5 197.9h0.6v0.6h-0.6zM182.1 221.0h0.6v0.6h-0.6zM210.6 197.6h0.6v0.6h-0.6zM195.5 225.7h0.6v0.6h-0.6zM195.0 206.2h0.6v0.6h-0.6zM210.8 198.5h0.6v0.6h-0.6zM186.4 209.2h0.6v0.6h-0.6zM198.7 205.5h0.6v0.6h-0.6zM190.2 208.0h0.6v0.6h-0.6zM207.4 207.5h0.6v0.6h-0.6zM205.8 191.9h0.6v0.6h-0.6zM202.6 184.7h0.6v0.6h-0.6zM199.5 205.7h0.6v0.6h-0.6zM202.1 185.1h0.6v0.6h-0.6zM194.7 210.5h0.6v0.6h-0.6zM221.2 186.2h0.6v0.6h-0.6zM193.3 220.3h0.6v0.6h-0.6zM195.9 195.0h0.6v0.6h-0.6zM205.9 208.8h0.6v0.6h-0.6zM199.5 186.3h0.6v0.6h-0.6zM196.0 200.7h0.6v0.6h-0.6zM196.7 214.4h0.6v0.6h-0.6zM190.5 205.9h0.6v0.6h-0.6zM205.0 200.9h0.6v0.6h-0.6zM206.4 205.0h0.6v0.6h-0.6zM207.2 197.3h0.6v0.6h-0.6zM196.2 193.4h0.6v0.6h-0.6zM211.6 214.9h0.6v0.6h-0.6zM206.7 194.8h0.6v0.6h-0.6zM208.2 189.4h0.6v0.6h-0.6zM202.9 203.9h0.6v0.6h-0.6zM192.8 207.2h0.6v0.6h-0.6zM197.2 182.8h0.6v0.6h-0.6zM211.9 192.2h0.6v0.6h-0.6zM182.0 212.6h0.6v0.6h-0.6zM202.2 211.4h0.6v0.6h-0.6zM206.5 189.4h0.6v0.6h-0.6zM203.7 204.4h0.6v0.6h-0.6zM193.6 202.5h0.6v0.6h-0.6zM203.6 204.8h0.6v0.6h-0.6zM203.5 212.7h0.6v0.6h-0.6zM188.3 205.1h0.6v0.6h-0.6zM188.0 220.7h0.6v0.6h-0.6zM178.7 188.7h0.6v0.6h-0.6zM198.6 218.5h0.6v0.6h-0.6zM191.9 199.8h0.6v0.6h-0.6zM206.7 198.0h0.6v0.6h-0.6zM209.4 197.3h0.6v0.6h-0.6zM187.2 215.4h0.6v0.6h-0.6zM195.7 196.1h0.6v0.6h-0.6zM210.1 227.2h0.6v0.6h-0.6zM195.1 206.3h0.6v0.6h-0.6zM200.5 187.4h0.6v0.6h-0.6zM191.9 211.4h0.6v0.6h-0.6zM208.6 195.4h0.6v0.6h-0.6zM174.9 210.5h0.6v0.6h-0.6zM190.1 210.4h0.6v0.6h-0.6zM198.9 221.9h0.6v0.6h-0.6zM201.0 189.0h0.6v0.6h-0.6zM192.7 205.8h0.6v0.6h-0.6zM208.6 190.5h0.6v0.6h-0.6zM208.9 194.1h0.6v0.6h-0.6zM201.2 199.9h0.6v0.6h-0.6zM203.0 183.3h0.6v0.6h-0.6zM190.7 199.0h0.6v0.6h-0.6zM198.2 211.2h0.6v0.6h-0.6zM199.5 184.0h0.6v0.6h-0.6zM190.9 220.9h0.6v0.6h-0.6zM201.2 219.6h0.6v0.6h-0.6zM198.4 218.5h0.6v0.6h-0.6zM189.1 215.9h0.6v0.6h-0.6zM201.2 216.8h0.6v0.6h-0.6zM198.9 196.9h0.6v0.6h-0.6zM187.3 218.8h0.6v0.6h-0.6zM191.5 192.9h0.6v0.6h-0.6zM209.6 187.7h0.6v0.6h-0.6zM195.2 217.2h0.6v0.6h-0.6zM211.8 191.0h0.6v0.6h-0.6zM205.8 191.0h0.6v0.6h-0.6zM174.6 204.1h0.6v0.6h-0.6zM212.9 188.8h0.6v0.6h-0.6zM203.8 217.9h0.6v0.6h-0.6zM215.7 217.8h0.6v0.6h-0.6zM214.6 205.5h0.6v0.6h-0.6zM186.9 226.6h0.6v0.6h-0.6zM196.8 227.5h0.6v0.6h-0.6zM198.7 202.0h0.6v0.6h-0.6zM210.8 197.5h0.6v0.6h-0.6zM213.9 188.8h0.6v0.6h-0.6zM186.5 190.4h0.6v0.6h-0.6zM193.0 231.3h0.6v0.6h-0.6z" fill="#bdbdbd" opacity="0.8"/>
<path d="M217.0 207.5 L221.0 214.0 L226.5 227.5 L216.0 229.0 L206.5 228.0 L212.0 216.0Z" fill="#8ad4cf" opacity="1" filter="url(#b1)"/>
<path d="M215.4 222.0h0.6v0.6h-0.6zM215.0 222.6h0.6v0.6h-0.6zM222.3 224.1h0.6v0.6h-0.6zM218.1 223.0h0.6v0.6h-0.6zM214.9 224.9h0.6v0.6h-0.6zM225.5 215.8h0.6v0.6h-0.6zM226.4 210.0h0.6v0.6h-0.6zM207.7 224.3h0.6v0.6h-0.6zM213.8 232.2h0.6v0.6h-0.6zM219.0 213.5h0.6v0.6h-0.6zM216.3 223.2h0.6v0.6h-0.6zM221.6 218.1h0.6v0.6h-0.6zM208.4 214.5h0.6v0.6h-0.6zM220.8 227.1h0.6v0.6h-0.6zM207.4 223.0h0.6v0.6h-0.6zM212.8 221.9h0.6v0.6h-0.6zM219.9 219.9h0.6v0.6h-0.6zM215.7 211.6h0.6v0.6h-0.6zM216.1 228.7h0.6v0.6h-0.6zM213.2 223.2h0.6v0.6h-0.6zM218.5 233.1h0.6v0.6h-0.6zM212.0 225.4h0.6v0.6h-0.6zM214.8 221.0h0.6v0.6h-0.6zM216.2 212.7h0.6v0.6h-0.6zM219.3 217.7h0.6v0.6h-0.6zM217.2 225.5h0.6v0.6h-0.6zM215.2 213.7h0.6v0.6h-0.6zM210.9 224.4h0.6v0.6h-0.6zM222.3 230.2h0.6v0.6h-0.6zM210.1 222.0h0.6v0.6h-0.6zM216.8 217.8h0.6v0.6h-0.6zM215.2 216.4h0.6v0.6h-0.6zM216.9 218.9h0.6v0.6h-0.6zM214.8 228.0h0.6v0.6h-0.6zM211.2 221.5h0.6v0.6h-0.6zM212.9 219.3h0.6v0.6h-0.6zM215.7 221.1h0.6v0.6h-0.6zM217.2 217.4h0.6v0.6h-0.6zM219.1 215.5h0.6v0.6h-0.6zM210.4 216.8h0.6v0.6h-0.6zM222.1 227.1h0.6v0.6h-0.6zM213.4 230.6h0.6v0.6h-0.6zM217.7 213.7h0.6v0.6h-0.6zM218.1 216.1h0.6v0.6h-0.6zM210.3 210.0h0.6v0.6h-0.6zM216.9 223.1h0.6v0.6h-0.6zM210.9 224.1h0.6v0.6h-0.6zM218.1 223.8h0.6v0.6h-0.6zM219.3 217.3h0.6v0.6h-0.6zM217.9 223.6h0.6v0.6h-0.6zM213.1 219.5h0.6v0.6h-0.6zM209.9 222.0h0.6v0.6h-0.6zM210.5 223.2h0.6v0.6h-0.6zM216.5 220.2h0.6v0.6h-0.6zM219.0 219.6h0.6v0.6h-0.6zM224.3 223.0h0.6v0.6h-0.6zM210.4 218.4h0.6v0.6h-0.6zM217.8 229.5h0.6v0.6h-0.6zM213.2 228.6h0.6v0.6h-0.6zM216.9 227.5h0.6v0.6h-0.6zM213.1 217.1h0.6v0.6h-0.6zM214.2 221.2h0.6v0.6h-0.6zM211.2 215.0h0.6v0.6h-0.6zM219.6 226.2h0.6v0.6h-0.6zM215.8 218.7h0.6v0.6h-0.6zM221.4 212.4h0.6v0.6h-0.6zM219.6 222.2h0.6v0.6h-0.6zM219.3 222.9h0.6v0.6h-0.6zM221.0 224.0h0.6v0.6h-0.6zM216.0 225.2h0.6v0.6h-0.6zM211.3 222.2h0.6v0.6h-0.6zM217.9 213.2h0.6v0.6h-0.6zM218.7 223.3h0.6v0.6h-0.6zM220.5 221.2h0.6v0.6h-0.6zM222.0 225.9h0.6v0.6h-0.6zM216.3 222.3h0.6v0.6h-0.6zM216.2 215.9h0.6v0.6h-0.6zM220.5 218.9h0.6v0.6h-0.6zM215.3 222.8h0.6v0.6h-0.6zM221.7 219.1h0.6v0.6h-0.6zM211.0 223.0h0.6v0.6h-0.6zM217.1 211.6h0.6v0.6h-0.6zM212.9 221.5h0.6v0.6h-0.6zM207.2 226.8h0.6v0.6h-0.6zM209.8 225.0h0.6v0.6h-0.6zM210.8 219.0h0.6v0.6h-0.6zM212.7 219.3h0.6v0.6h-0.6zM206.6 217.5h0.6v0.6h-0.6zM220.2 223.3h0.6v0.6h-0.6zM226.1 211.6h0.6v0.6h-0.6zM223.0 221.6h0.6v0.6h-0.6zM209.5 213.9h0.6v0.6h-0.6zM213.4 221.5h0.6v0.6h-0.6zM213.5 228.5h0.6v0.6h-0.6zM215.5 217.6h0.6v0.6h-0.6zM211.4 215.3h0.6v0.6h-0.6zM215.4 220.1h0.6v0.6h-0.6zM211.9 222.6h0.6v0.6h-0.6zM212.3 218.4h0.6v0.6h-0.6zM221.2 226.4h0.6v0.6h-0.6zM214.0 229.6h0.6v0.6h-0.6zM213.8 226.9h0.6v0.6h-0.6zM216.9 218.7h0.6v0.6h-0.6zM215.8 219.1h0.6v0.6h-0.6zM217.0 220.6h0.6v0.6h-0.6zM215.2 216.3h0.6v0.6h-0.6zM218.1 225.5h0.6v0.6h-0.6zM210.8 221.0h0.6v0.6h-0.6zM220.4 225.2h0.6v0.6h-0.6zM212.0 233.4h0.6v0.6h-0.6zM212.0 224.6h0.6v0.6h-0.6zM217.8 234.0h0.6v0.6h-0.6zM212.9 227.5h0.6v0.6h-0.6zM218.5 216.7h0.6v0.6h-0.6zM216.1 217.0h0.6v0.6h-0.6zM217.1 221.9h0.6v0.6h-0.6zM206.3 224.2h0.6v0.6h-0.6zM217.6 226.2h0.6v0.6h-0.6zM216.3 217.0h0.6v0.6h-0.6zM219.5 226.0h0.6v0.6h-0.6z" fill="#5ab8b4" opacity="0.7"/>
<ellipse cx="188" cy="232" rx="14" ry="3.5" fill="#dcd6f2" opacity="1" filter="url(#b1)"/>
<ellipse cx="182" cy="232" rx="11.5" ry="2.3" fill="#33228e" opacity="1" filter="url(#b05)"/>
<ellipse cx="349" cy="203" rx="8" ry="18" fill="#eef8f8" opacity="0.9" filter="url(#b3)"/>
<path d="M343 218 C342 208 342.5 201 344 197 L346 192 L352 187 L358 187 L360 191 L356 197 L351 200 L349 207 L349 218 Z" fill="#bfe4e2" filter="url(#b15)"/>
<ellipse cx="351" cy="193" rx="8" ry="5" fill="#b0dedb" opacity="1" transform="rotate(-25 351 193)" filter="url(#b15)"/>
<path d="M343.0 200.8h0.6v0.6h-0.6zM353.0 190.3h0.6v0.6h-0.6zM346.1 193.8h0.6v0.6h-0.6zM356.1 191.5h0.6v0.6h-0.6zM353.7 190.1h0.6v0.6h-0.6zM343.7 193.3h0.6v0.6h-0.6zM361.8 191.4h0.6v0.6h-0.6zM354.8 193.3h0.6v0.6h-0.6zM350.5 192.5h0.6v0.6h-0.6zM349.9 194.9h0.6v0.6h-0.6zM350.2 193.5h0.6v0.6h-0.6zM353.7 194.0h0.6v0.6h-0.6zM353.0 192.9h0.6v0.6h-0.6zM354.5 195.7h0.6v0.6h-0.6zM358.6 194.9h0.6v0.6h-0.6zM348.6 195.6h0.6v0.6h-0.6zM354.3 198.8h0.6v0.6h-0.6zM358.8 191.2h0.6v0.6h-0.6zM362.0 193.2h0.6v0.6h-0.6zM347.0 197.7h0.6v0.6h-0.6zM351.8 191.3h0.6v0.6h-0.6zM358.3 191.9h0.6v0.6h-0.6zM343.6 193.2h0.6v0.6h-0.6zM351.8 197.1h0.6v0.6h-0.6zM354.3 195.3h0.6v0.6h-0.6zM351.7 197.7h0.6v0.6h-0.6zM351.0 195.9h0.6v0.6h-0.6zM349.3 192.5h0.6v0.6h-0.6zM351.0 188.7h0.6v0.6h-0.6zM352.0 194.4h0.6v0.6h-0.6zM345.5 195.3h0.6v0.6h-0.6zM348.8 190.4h0.6v0.6h-0.6zM344.5 200.3h0.6v0.6h-0.6zM353.2 202.7h0.6v0.6h-0.6zM353.9 190.6h0.6v0.6h-0.6zM351.6 187.8h0.6v0.6h-0.6zM360.4 201.4h0.6v0.6h-0.6zM343.9 190.7h0.6v0.6h-0.6zM349.1 193.3h0.6v0.6h-0.6zM352.1 190.7h0.6v0.6h-0.6zM352.7 197.6h0.6v0.6h-0.6zM354.3 195.5h0.6v0.6h-0.6zM349.9 191.8h0.6v0.6h-0.6zM349.3 192.3h0.6v0.6h-0.6zM344.8 196.7h0.6v0.6h-0.6zM350.1 192.4h0.6v0.6h-0.6zM358.7 198.6h0.6v0.6h-0.6zM348.3 196.8h0.6v0.6h-0.6zM347.7 198.8h0.6v0.6h-0.6zM348.5 188.6h0.6v0.6h-0.6zM347.3 197.6h0.6v0.6h-0.6zM348.0 194.2h0.6v0.6h-0.6zM360.9 185.2h0.6v0.6h-0.6zM343.1 198.2h0.6v0.6h-0.6zM353.9 198.0h0.6v0.6h-0.6zM345.3 186.8h0.6v0.6h-0.6zM353.0 185.2h0.6v0.6h-0.6zM352.7 199.0h0.6v0.6h-0.6zM347.3 195.2h0.6v0.6h-0.6zM347.5 199.7h0.6v0.6h-0.6zM353.4 185.6h0.6v0.6h-0.6zM348.9 191.9h0.6v0.6h-0.6zM355.9 194.9h0.6v0.6h-0.6zM353.3 195.3h0.6v0.6h-0.6zM353.6 193.1h0.6v0.6h-0.6zM349.3 191.1h0.6v0.6h-0.6zM352.3 189.6h0.6v0.6h-0.6zM352.2 189.8h0.6v0.6h-0.6zM352.0 196.4h0.6v0.6h-0.6zM356.0 191.0h0.6v0.6h-0.6zM350.6 193.6h0.6v0.6h-0.6zM352.7 189.3h0.6v0.6h-0.6zM352.6 195.2h0.6v0.6h-0.6zM353.2 192.3h0.6v0.6h-0.6zM347.6 189.6h0.6v0.6h-0.6zM347.6 194.5h0.6v0.6h-0.6zM352.1 202.5h0.6v0.6h-0.6zM344.7 204.3h0.6v0.6h-0.6zM352.3 191.1h0.6v0.6h-0.6zM351.3 192.2h0.6v0.6h-0.6zM346.4 188.3h0.6v0.6h-0.6zM347.3 190.1h0.6v0.6h-0.6zM351.2 190.8h0.6v0.6h-0.6zM347.3 194.0h0.6v0.6h-0.6zM349.2 195.3h0.6v0.6h-0.6zM347.6 189.7h0.6v0.6h-0.6zM350.1 188.1h0.6v0.6h-0.6zM340.7 192.7h0.6v0.6h-0.6zM351.5 188.2h0.6v0.6h-0.6zM349.2 201.7h0.6v0.6h-0.6zM350.0 194.7h0.6v0.6h-0.6zM349.5 199.0h0.6v0.6h-0.6zM356.0 188.3h0.6v0.6h-0.6zM342.5 189.2h0.6v0.6h-0.6zM350.3 189.2h0.6v0.6h-0.6zM344.2 197.7h0.6v0.6h-0.6zM350.7 194.8h0.6v0.6h-0.6zM343.1 191.9h0.6v0.6h-0.6zM353.3 197.8h0.6v0.6h-0.6zM352.4 191.1h0.6v0.6h-0.6zM355.8 194.2h0.6v0.6h-0.6zM348.5 202.3h0.6v0.6h-0.6zM355.9 190.6h0.6v0.6h-0.6zM350.7 187.9h0.6v0.6h-0.6zM360.1 197.9h0.6v0.6h-0.6zM352.3 193.7h0.6v0.6h-0.6zM350.3 193.6h0.6v0.6h-0.6zM346.5 195.6h0.6v0.6h-0.6zM355.1 190.0h0.6v0.6h-0.6zM353.5 186.4h0.6v0.6h-0.6zM347.6 193.1h0.6v0.6h-0.6zM350.8 197.3h0.6v0.6h-0.6zM347.1 198.2h0.6v0.6h-0.6zM347.0 194.8h0.6v0.6h-0.6zM353.5 195.2h0.6v0.6h-0.6zM353.1 192.2h0.6v0.6h-0.6zM356.0 192.1h0.6v0.6h-0.6zM352.7 187.1h0.6v0.6h-0.6zM358.8 187.8h0.6v0.6h-0.6zM344.9 193.2h0.6v0.6h-0.6zM355.6 191.2h0.6v0.6h-0.6zM352.6 197.6h0.6v0.6h-0.6zM356.9 192.2h0.6v0.6h-0.6zM348.5 197.3h0.6v0.6h-0.6zM349.7 194.6h0.6v0.6h-0.6zM347.4 187.8h0.6v0.6h-0.6zM348.7 192.9h0.6v0.6h-0.6zM341.8 192.7h0.6v0.6h-0.6zM358.4 189.0h0.6v0.6h-0.6zM360.8 190.7h0.6v0.6h-0.6zM348.1 191.7h0.6v0.6h-0.6zM357.1 186.7h0.6v0.6h-0.6zM353.0 190.3h0.6v0.6h-0.6zM346.4 193.4h0.6v0.6h-0.6zM351.2 199.2h0.6v0.6h-0.6zM347.1 192.5h0.6v0.6h-0.6zM340.1 195.7h0.6v0.6h-0.6zM340.5 194.4h0.6v0.6h-0.6zM336.2 195.0h0.6v0.6h-0.6zM356.2 191.3h0.6v0.6h-0.6zM343.3 194.6h0.6v0.6h-0.6zM356.8 189.2h0.6v0.6h-0.6zM344.9 196.6h0.6v0.6h-0.6zM343.6 195.2h0.6v0.6h-0.6zM351.6 192.5h0.6v0.6h-0.6zM349.8 200.7h0.6v0.6h-0.6zM359.4 191.6h0.6v0.6h-0.6zM357.8 190.9h0.6v0.6h-0.6zM351.0 190.3h0.6v0.6h-0.6zM349.3 195.7h0.6v0.6h-0.6zM347.7 190.0h0.6v0.6h-0.6zM347.0 192.7h0.6v0.6h-0.6zM339.5 193.4h0.6v0.6h-0.6zM349.5 184.4h0.6v0.6h-0.6zM352.9 196.8h0.6v0.6h-0.6zM348.8 196.4h0.6v0.6h-0.6zM351.1 190.7h0.6v0.6h-0.6zM342.8 194.4h0.6v0.6h-0.6zM351.7 192.4h0.6v0.6h-0.6zM352.0 197.0h0.6v0.6h-0.6zM353.1 191.1h0.6v0.6h-0.6zM352.2 189.2h0.6v0.6h-0.6zM340.1 195.5h0.6v0.6h-0.6zM355.2 192.4h0.6v0.6h-0.6zM353.0 193.8h0.6v0.6h-0.6zM350.8 198.7h0.6v0.6h-0.6zM348.6 193.2h0.6v0.6h-0.6zM351.0 188.6h0.6v0.6h-0.6zM358.4 195.2h0.6v0.6h-0.6zM351.4 190.4h0.6v0.6h-0.6zM357.7 187.3h0.6v0.6h-0.6zM351.1 193.1h0.6v0.6h-0.6zM354.6 186.0h0.6v0.6h-0.6zM358.8 193.2h0.6v0.6h-0.6zM349.9 188.1h0.6v0.6h-0.6zM349.4 200.2h0.6v0.6h-0.6zM353.8 190.1h0.6v0.6h-0.6zM346.2 189.9h0.6v0.6h-0.6zM352.9 188.1h0.6v0.6h-0.6zM351.6 195.6h0.6v0.6h-0.6zM348.4 193.6h0.6v0.6h-0.6zM354.6 185.0h0.6v0.6h-0.6zM353.6 197.7h0.6v0.6h-0.6zM349.3 192.1h0.6v0.6h-0.6zM349.9 187.0h0.6v0.6h-0.6zM350.9 194.7h0.6v0.6h-0.6zM351.9 199.1h0.6v0.6h-0.6zM343.4 198.0h0.6v0.6h-0.6zM352.7 193.7h0.6v0.6h-0.6zM348.0 200.8h0.6v0.6h-0.6zM352.4 193.6h0.6v0.6h-0.6zM350.4 191.6h0.6v0.6h-0.6zM349.5 192.3h0.6v0.6h-0.6zM353.3 197.6h0.6v0.6h-0.6zM353.2 189.2h0.6v0.6h-0.6zM350.0 193.8h0.6v0.6h-0.6zM350.1 195.8h0.6v0.6h-0.6zM350.5 187.3h0.6v0.6h-0.6zM350.4 188.6h0.6v0.6h-0.6zM349.5 191.8h0.6v0.6h-0.6zM349.0 196.1h0.6v0.6h-0.6zM351.9 198.8h0.6v0.6h-0.6zM353.2 195.3h0.6v0.6h-0.6zM352.1 200.1h0.6v0.6h-0.6zM346.4 191.8h0.6v0.6h-0.6zM345.8 201.4h0.6v0.6h-0.6zM355.0 189.6h0.6v0.6h-0.6zM341.6 194.3h0.6v0.6h-0.6zM352.0 195.5h0.6v0.6h-0.6zM356.3 193.3h0.6v0.6h-0.6zM350.4 191.0h0.6v0.6h-0.6zM340.2 202.9h0.6v0.6h-0.6zM346.8 195.4h0.6v0.6h-0.6zM353.5 185.0h0.6v0.6h-0.6zM349.9 194.9h0.6v0.6h-0.6zM344.3 191.3h0.6v0.6h-0.6zM355.9 188.1h0.6v0.6h-0.6zM350.7 197.5h0.6v0.6h-0.6zM351.4 196.9h0.6v0.6h-0.6zM341.9 199.0h0.6v0.6h-0.6zM357.7 185.0h0.6v0.6h-0.6zM339.9 199.5h0.6v0.6h-0.6zM360.1 195.4h0.6v0.6h-0.6zM342.8 190.8h0.6v0.6h-0.6zM341.5 203.6h0.6v0.6h-0.6zM360.1 189.9h0.6v0.6h-0.6zM351.6 189.4h0.6v0.6h-0.6zM351.6 190.4h0.6v0.6h-0.6zM349.4 189.4h0.6v0.6h-0.6zM349.0 195.3h0.6v0.6h-0.6zM351.0 187.1h0.6v0.6h-0.6zM353.2 195.7h0.6v0.6h-0.6zM346.9 197.5h0.6v0.6h-0.6zM357.2 184.2h0.6v0.6h-0.6zM347.1 192.1h0.6v0.6h-0.6zM352.7 193.1h0.6v0.6h-0.6zM344.8 195.3h0.6v0.6h-0.6zM340.2 201.6h0.6v0.6h-0.6zM348.1 196.2h0.6v0.6h-0.6zM349.0 195.1h0.6v0.6h-0.6zM355.9 188.8h0.6v0.6h-0.6zM346.0 194.3h0.6v0.6h-0.6zM352.3 195.8h0.6v0.6h-0.6zM346.1 195.4h0.6v0.6h-0.6zM356.5 189.8h0.6v0.6h-0.6zM351.9 193.8h0.6v0.6h-0.6zM354.4 194.4h0.6v0.6h-0.6zM349.9 185.6h0.6v0.6h-0.6zM354.2 198.2h0.6v0.6h-0.6zM346.4 196.9h0.6v0.6h-0.6zM349.6 193.4h0.6v0.6h-0.6zM358.0 192.0h0.6v0.6h-0.6zM348.0 190.9h0.6v0.6h-0.6zM357.0 186.7h0.6v0.6h-0.6zM351.0 194.4h0.6v0.6h-0.6zM344.1 194.4h0.6v0.6h-0.6zM351.7 193.8h0.6v0.6h-0.6zM349.8 193.6h0.6v0.6h-0.6zM348.4 188.8h0.6v0.6h-0.6zM351.7 196.8h0.6v0.6h-0.6zM346.2 200.0h0.6v0.6h-0.6zM347.4 213.9h0.6v0.6h-0.6zM342.7 203.6h0.6v0.6h-0.6zM347.0 213.8h0.6v0.6h-0.6zM343.4 204.6h0.6v0.6h-0.6zM344.2 208.4h0.6v0.6h-0.6zM348.2 210.8h0.6v0.6h-0.6zM351.5 207.7h0.6v0.6h-0.6zM345.3 203.4h0.6v0.6h-0.6zM345.2 201.1h0.6v0.6h-0.6zM346.2 205.8h0.6v0.6h-0.6zM345.7 215.1h0.6v0.6h-0.6zM346.7 202.6h0.6v0.6h-0.6zM342.6 201.1h0.6v0.6h-0.6zM345.5 211.9h0.6v0.6h-0.6zM344.2 203.7h0.6v0.6h-0.6zM346.2 213.9h0.6v0.6h-0.6zM343.1 217.7h0.6v0.6h-0.6zM341.3 196.2h0.6v0.6h-0.6zM350.5 215.3h0.6v0.6h-0.6zM348.7 204.5h0.6v0.6h-0.6zM346.5 212.9h0.6v0.6h-0.6zM345.4 213.2h0.6v0.6h-0.6zM347.4 208.1h0.6v0.6h-0.6zM346.1 196.8h0.6v0.6h-0.6zM343.5 213.0h0.6v0.6h-0.6zM346.5 196.0h0.6v0.6h-0.6zM348.4 201.7h0.6v0.6h-0.6zM344.1 210.0h0.6v0.6h-0.6zM342.8 205.8h0.6v0.6h-0.6zM345.6 200.5h0.6v0.6h-0.6zM342.7 207.8h0.6v0.6h-0.6zM343.1 200.4h0.6v0.6h-0.6zM343.9 202.8h0.6v0.6h-0.6zM345.5 203.7h0.6v0.6h-0.6zM346.8 212.1h0.6v0.6h-0.6zM344.8 212.1h0.6v0.6h-0.6zM345.4 198.6h0.6v0.6h-0.6zM346.0 198.1h0.6v0.6h-0.6zM344.8 201.5h0.6v0.6h-0.6zM344.3 215.4h0.6v0.6h-0.6zM345.8 216.6h0.6v0.6h-0.6zM345.2 211.3h0.6v0.6h-0.6zM349.6 208.3h0.6v0.6h-0.6zM345.8 217.0h0.6v0.6h-0.6zM351.4 196.3h0.6v0.6h-0.6zM345.1 200.4h0.6v0.6h-0.6zM347.7 205.5h0.6v0.6h-0.6zM346.4 214.4h0.6v0.6h-0.6zM345.7 202.8h0.6v0.6h-0.6zM350.7 202.0h0.6v0.6h-0.6zM346.4 200.7h0.6v0.6h-0.6zM347.6 198.6h0.6v0.6h-0.6zM347.4 200.0h0.6v0.6h-0.6zM346.0 205.8h0.6v0.6h-0.6zM348.9 202.7h0.6v0.6h-0.6zM342.3 211.9h0.6v0.6h-0.6zM345.4 203.6h0.6v0.6h-0.6zM349.4 208.4h0.6v0.6h-0.6zM344.1 206.5h0.6v0.6h-0.6zM345.4 215.5h0.6v0.6h-0.6zM347.0 209.4h0.6v0.6h-0.6zM350.1 215.5h0.6v0.6h-0.6zM348.9 196.7h0.6v0.6h-0.6zM345.5 207.8h0.6v0.6h-0.6zM344.5 214.4h0.6v0.6h-0.6zM344.5 210.6h0.6v0.6h-0.6zM348.1 200.2h0.6v0.6h-0.6zM344.4 217.6h0.6v0.6h-0.6zM344.3 200.1h0.6v0.6h-0.6zM345.8 202.0h0.6v0.6h-0.6zM345.4 198.6h0.6v0.6h-0.6zM347.6 199.8h0.6v0.6h-0.6zM348.2 213.5h0.6v0.6h-0.6zM348.5 214.9h0.6v0.6h-0.6zM347.7 198.8h0.6v0.6h-0.6zM346.8 206.3h0.6v0.6h-0.6zM349.7 216.5h0.6v0.6h-0.6zM344.8 217.1h0.6v0.6h-0.6zM347.9 203.6h0.6v0.6h-0.6zM350.5 200.4h0.6v0.6h-0.6zM345.0 208.0h0.6v0.6h-0.6zM347.0 214.7h0.6v0.6h-0.6zM345.6 213.0h0.6v0.6h-0.6zM346.0 198.2h0.6v0.6h-0.6zM343.0 217.1h0.6v0.6h-0.6zM349.1 211.9h0.6v0.6h-0.6zM348.3 203.0h0.6v0.6h-0.6zM345.1 212.5h0.6v0.6h-0.6zM343.9 197.0h0.6v0.6h-0.6zM348.0 213.7h0.6v0.6h-0.6zM345.1 206.4h0.6v0.6h-0.6zM346.7 208.0h0.6v0.6h-0.6zM344.3 196.6h0.6v0.6h-0.6zM345.1 214.9h0.6v0.6h-0.6zM346.1 210.9h0.6v0.6h-0.6zM340.7 216.8h0.6v0.6h-0.6zM348.7 217.0h0.6v0.6h-0.6zM349.0 212.0h0.6v0.6h-0.6zM347.7 209.3h0.6v0.6h-0.6zM351.0 205.6h0.6v0.6h-0.6zM346.5 209.1h0.6v0.6h-0.6zM346.7 196.6h0.6v0.6h-0.6zM344.4 216.3h0.6v0.6h-0.6zM345.9 199.0h0.6v0.6h-0.6zM346.6 217.9h0.6v0.6h-0.6zM345.9 199.2h0.6v0.6h-0.6zM344.5 215.7h0.6v0.6h-0.6zM344.5 198.9h0.6v0.6h-0.6zM343.5 205.1h0.6v0.6h-0.6zM346.2 205.2h0.6v0.6h-0.6zM345.9 197.3h0.6v0.6h-0.6zM347.0 217.0h0.6v0.6h-0.6zM346.0 214.5h0.6v0.6h-0.6zM345.9 211.3h0.6v0.6h-0.6zM345.4 206.8h0.6v0.6h-0.6zM344.8 207.3h0.6v0.6h-0.6zM346.1 213.6h0.6v0.6h-0.6zM349.0 205.2h0.6v0.6h-0.6zM349.3 201.9h0.6v0.6h-0.6zM346.2 210.2h0.6v0.6h-0.6zM348.4 208.5h0.6v0.6h-0.6zM348.0 207.3h0.6v0.6h-0.6zM344.3 217.8h0.6v0.6h-0.6zM346.1 203.2h0.6v0.6h-0.6zM346.4 202.9h0.6v0.6h-0.6zM347.6 196.8h0.6v0.6h-0.6zM347.6 216.3h0.6v0.6h-0.6zM341.5 211.3h0.6v0.6h-0.6zM346.4 212.1h0.6v0.6h-0.6zM346.1 212.0h0.6v0.6h-0.6zM344.1 200.5h0.6v0.6h-0.6zM343.2 213.1h0.6v0.6h-0.6zM345.0 199.7h0.6v0.6h-0.6zM343.7 213.7h0.6v0.6h-0.6zM349.4 217.5h0.6v0.6h-0.6zM347.1 198.3h0.6v0.6h-0.6zM347.0 211.9h0.6v0.6h-0.6zM345.9 213.1h0.6v0.6h-0.6zM342.8 207.4h0.6v0.6h-0.6zM341.4 210.3h0.6v0.6h-0.6zM344.1 210.4h0.6v0.6h-0.6zM343.8 212.7h0.6v0.6h-0.6zM344.6 208.6h0.6v0.6h-0.6zM347.6 205.3h0.6v0.6h-0.6zM347.7 205.5h0.6v0.6h-0.6zM344.1 204.6h0.6v0.6h-0.6zM345.2 205.4h0.6v0.6h-0.6zM341.9 198.0h0.6v0.6h-0.6zM350.2 196.4h0.6v0.6h-0.6zM345.6 205.9h0.6v0.6h-0.6zM343.8 209.0h0.6v0.6h-0.6zM344.9 196.3h0.6v0.6h-0.6zM347.2 215.2h0.6v0.6h-0.6zM347.7 206.2h0.6v0.6h-0.6zM345.3 203.1h0.6v0.6h-0.6zM350.3 214.4h0.6v0.6h-0.6zM347.7 201.3h0.6v0.6h-0.6zM345.9 213.5h0.6v0.6h-0.6zM349.4 206.3h0.6v0.6h-0.6z" fill="#6ab8b4" opacity="0.75"/>
<rect x="334.5" y="216.5" width="22" height="16.6" fill="#f4fafa" stroke="#4a8484" stroke-width="0.8"/>
<ellipse cx="345.5" cy="225" rx="7.5" ry="6.5" fill="#a8d8d4" opacity="1" filter="url(#b15)"/>
<ellipse cx="346.5" cy="225.5" rx="4.5" ry="4.5" fill="#7ab8b4" opacity="1" filter="url(#b1)"/>
<path d="M342.8 226.5h0.6v0.6h-0.6zM347.0 222.9h0.6v0.6h-0.6zM344.3 220.0h0.6v0.6h-0.6zM346.5 225.7h0.6v0.6h-0.6zM345.3 222.9h0.6v0.6h-0.6zM348.1 218.7h0.6v0.6h-0.6zM335.5 226.0h0.6v0.6h-0.6zM351.6 222.1h0.6v0.6h-0.6zM350.7 227.8h0.6v0.6h-0.6zM342.3 226.0h0.6v0.6h-0.6zM352.5 221.6h0.6v0.6h-0.6zM348.0 226.6h0.6v0.6h-0.6zM342.1 229.1h0.6v0.6h-0.6zM343.2 228.5h0.6v0.6h-0.6zM346.7 222.0h0.6v0.6h-0.6zM344.7 220.8h0.6v0.6h-0.6zM342.4 229.6h0.6v0.6h-0.6zM349.3 227.3h0.6v0.6h-0.6zM340.6 220.3h0.6v0.6h-0.6zM344.8 225.4h0.6v0.6h-0.6zM349.9 228.3h0.6v0.6h-0.6zM347.5 227.7h0.6v0.6h-0.6zM337.9 218.4h0.6v0.6h-0.6zM341.8 224.2h0.6v0.6h-0.6zM342.2 222.8h0.6v0.6h-0.6zM346.1 222.1h0.6v0.6h-0.6zM345.1 229.0h0.6v0.6h-0.6zM347.9 223.1h0.6v0.6h-0.6zM346.4 226.6h0.6v0.6h-0.6zM346.5 228.2h0.6v0.6h-0.6zM339.1 228.8h0.6v0.6h-0.6zM341.0 227.2h0.6v0.6h-0.6zM338.9 228.9h0.6v0.6h-0.6zM349.6 222.0h0.6v0.6h-0.6zM348.7 223.0h0.6v0.6h-0.6zM351.3 223.8h0.6v0.6h-0.6zM343.5 220.8h0.6v0.6h-0.6zM345.2 226.7h0.6v0.6h-0.6zM348.9 221.9h0.6v0.6h-0.6zM343.8 220.1h0.6v0.6h-0.6zM342.3 224.0h0.6v0.6h-0.6zM347.4 227.9h0.6v0.6h-0.6zM343.0 219.7h0.6v0.6h-0.6zM353.1 224.6h0.6v0.6h-0.6zM343.8 225.1h0.6v0.6h-0.6zM345.3 227.4h0.6v0.6h-0.6zM348.2 219.7h0.6v0.6h-0.6zM343.8 227.3h0.6v0.6h-0.6zM344.5 227.8h0.6v0.6h-0.6zM340.7 230.6h0.6v0.6h-0.6zM347.3 218.2h0.6v0.6h-0.6zM350.7 220.5h0.6v0.6h-0.6zM346.6 225.3h0.6v0.6h-0.6zM347.4 227.3h0.6v0.6h-0.6zM336.7 223.1h0.6v0.6h-0.6zM341.1 222.2h0.6v0.6h-0.6zM345.6 220.7h0.6v0.6h-0.6zM345.1 232.6h0.6v0.6h-0.6zM350.7 228.6h0.6v0.6h-0.6zM339.3 231.4h0.6v0.6h-0.6zM344.9 226.4h0.6v0.6h-0.6zM348.2 231.7h0.6v0.6h-0.6zM352.3 223.7h0.6v0.6h-0.6zM343.9 221.4h0.6v0.6h-0.6zM345.2 226.3h0.6v0.6h-0.6zM346.9 224.4h0.6v0.6h-0.6zM342.1 222.0h0.6v0.6h-0.6zM347.5 228.6h0.6v0.6h-0.6zM348.8 223.2h0.6v0.6h-0.6zM349.0 229.6h0.6v0.6h-0.6zM342.3 220.3h0.6v0.6h-0.6zM349.7 232.2h0.6v0.6h-0.6zM347.8 226.2h0.6v0.6h-0.6zM345.8 229.5h0.6v0.6h-0.6zM339.5 225.3h0.6v0.6h-0.6zM344.1 224.7h0.6v0.6h-0.6zM346.0 223.8h0.6v0.6h-0.6zM344.4 226.6h0.6v0.6h-0.6zM338.8 220.1h0.6v0.6h-0.6zM348.3 227.0h0.6v0.6h-0.6zM349.9 219.3h0.6v0.6h-0.6zM351.2 228.5h0.6v0.6h-0.6zM346.8 220.4h0.6v0.6h-0.6zM349.4 229.6h0.6v0.6h-0.6zM344.4 226.5h0.6v0.6h-0.6zM348.0 228.2h0.6v0.6h-0.6zM348.8 227.5h0.6v0.6h-0.6zM339.7 222.8h0.6v0.6h-0.6zM338.4 228.8h0.6v0.6h-0.6zM349.2 226.5h0.6v0.6h-0.6zM354.3 221.1h0.6v0.6h-0.6zM352.7 221.1h0.6v0.6h-0.6zM337.3 222.9h0.6v0.6h-0.6zM343.3 223.6h0.6v0.6h-0.6zM345.4 226.4h0.6v0.6h-0.6zM348.5 221.9h0.6v0.6h-0.6zM340.5 227.4h0.6v0.6h-0.6zM351.5 228.4h0.6v0.6h-0.6zM347.9 217.3h0.6v0.6h-0.6zM348.6 222.0h0.6v0.6h-0.6zM350.5 230.1h0.6v0.6h-0.6zM343.9 220.7h0.6v0.6h-0.6zM344.0 226.5h0.6v0.6h-0.6zM348.1 220.4h0.6v0.6h-0.6zM347.2 221.0h0.6v0.6h-0.6zM343.0 229.0h0.6v0.6h-0.6zM341.0 229.6h0.6v0.6h-0.6zM337.7 229.3h0.6v0.6h-0.6zM345.9 219.2h0.6v0.6h-0.6zM343.0 227.1h0.6v0.6h-0.6zM352.0 219.5h0.6v0.6h-0.6zM344.8 226.2h0.6v0.6h-0.6zM354.0 226.4h0.6v0.6h-0.6zM339.5 223.5h0.6v0.6h-0.6zM340.7 223.4h0.6v0.6h-0.6zM343.5 223.9h0.6v0.6h-0.6zM347.5 223.6h0.6v0.6h-0.6zM350.1 229.3h0.6v0.6h-0.6zM340.0 218.6h0.6v0.6h-0.6zM346.2 224.7h0.6v0.6h-0.6zM346.2 231.8h0.6v0.6h-0.6zM348.9 228.7h0.6v0.6h-0.6zM345.9 222.1h0.6v0.6h-0.6zM335.3 222.9h0.6v0.6h-0.6zM345.4 220.3h0.6v0.6h-0.6zM341.7 224.9h0.6v0.6h-0.6zM353.6 222.7h0.6v0.6h-0.6zM343.8 221.3h0.6v0.6h-0.6zM344.9 219.7h0.6v0.6h-0.6zM346.9 220.7h0.6v0.6h-0.6zM350.9 220.2h0.6v0.6h-0.6zM339.6 226.1h0.6v0.6h-0.6zM347.5 219.6h0.6v0.6h-0.6zM346.1 224.4h0.6v0.6h-0.6zM351.6 220.5h0.6v0.6h-0.6zM336.2 225.0h0.6v0.6h-0.6zM348.1 227.6h0.6v0.6h-0.6zM344.6 223.5h0.6v0.6h-0.6zM346.9 225.7h0.6v0.6h-0.6zM341.7 222.9h0.6v0.6h-0.6zM345.1 229.1h0.6v0.6h-0.6zM354.8 228.8h0.6v0.6h-0.6zM348.7 219.9h0.6v0.6h-0.6zM341.6 225.7h0.6v0.6h-0.6zM342.0 222.2h0.6v0.6h-0.6zM347.7 225.5h0.6v0.6h-0.6zM344.1 226.3h0.6v0.6h-0.6zM346.1 227.4h0.6v0.6h-0.6zM349.3 225.0h0.6v0.6h-0.6zM351.0 226.3h0.6v0.6h-0.6zM343.3 230.5h0.6v0.6h-0.6zM339.5 222.4h0.6v0.6h-0.6zM343.1 231.0h0.6v0.6h-0.6zM342.7 218.3h0.6v0.6h-0.6zM340.2 225.3h0.6v0.6h-0.6zM345.2 225.7h0.6v0.6h-0.6zM339.0 225.7h0.6v0.6h-0.6zM349.2 232.2h0.6v0.6h-0.6zM352.3 218.8h0.6v0.6h-0.6zM347.7 220.1h0.6v0.6h-0.6zM347.2 227.5h0.6v0.6h-0.6zM345.9 224.8h0.6v0.6h-0.6zM342.8 227.6h0.6v0.6h-0.6zM343.6 223.3h0.6v0.6h-0.6zM347.9 221.3h0.6v0.6h-0.6zM349.1 222.5h0.6v0.6h-0.6zM344.5 227.0h0.6v0.6h-0.6zM351.8 223.3h0.6v0.6h-0.6zM346.3 223.2h0.6v0.6h-0.6zM338.0 222.7h0.6v0.6h-0.6zM349.2 227.0h0.6v0.6h-0.6zM351.4 224.5h0.6v0.6h-0.6zM349.0 223.6h0.6v0.6h-0.6zM345.0 229.9h0.6v0.6h-0.6zM341.5 228.7h0.6v0.6h-0.6zM348.1 222.2h0.6v0.6h-0.6zM345.9 223.8h0.6v0.6h-0.6zM335.5 229.6h0.6v0.6h-0.6zM345.4 228.5h0.6v0.6h-0.6zM342.4 223.0h0.6v0.6h-0.6zM343.7 218.6h0.6v0.6h-0.6zM354.4 229.8h0.6v0.6h-0.6zM352.2 227.3h0.6v0.6h-0.6zM344.0 226.4h0.6v0.6h-0.6zM347.1 220.1h0.6v0.6h-0.6zM350.8 222.2h0.6v0.6h-0.6zM344.6 229.5h0.6v0.6h-0.6zM353.2 223.7h0.6v0.6h-0.6zM341.0 217.4h0.6v0.6h-0.6zM340.3 227.4h0.6v0.6h-0.6zM347.4 222.2h0.6v0.6h-0.6zM346.2 223.8h0.6v0.6h-0.6zM339.4 223.2h0.6v0.6h-0.6zM352.1 232.0h0.6v0.6h-0.6zM342.6 225.5h0.6v0.6h-0.6zM340.0 227.5h0.6v0.6h-0.6zM345.2 224.6h0.6v0.6h-0.6zM351.8 228.1h0.6v0.6h-0.6zM348.0 226.9h0.6v0.6h-0.6zM347.7 222.7h0.6v0.6h-0.6zM353.5 224.7h0.6v0.6h-0.6zM341.8 222.2h0.6v0.6h-0.6zM350.6 225.0h0.6v0.6h-0.6zM346.0 230.1h0.6v0.6h-0.6zM348.8 224.2h0.6v0.6h-0.6zM352.1 227.4h0.6v0.6h-0.6zM348.2 226.4h0.6v0.6h-0.6zM343.6 227.8h0.6v0.6h-0.6zM342.7 224.9h0.6v0.6h-0.6zM339.4 228.3h0.6v0.6h-0.6zM341.7 231.2h0.6v0.6h-0.6zM346.4 226.3h0.6v0.6h-0.6zM341.8 221.2h0.6v0.6h-0.6zM347.5 223.5h0.6v0.6h-0.6zM345.3 218.2h0.6v0.6h-0.6zM343.8 226.1h0.6v0.6h-0.6zM339.3 219.9h0.6v0.6h-0.6zM340.2 225.3h0.6v0.6h-0.6zM342.9 219.2h0.6v0.6h-0.6zM342.8 225.7h0.6v0.6h-0.6zM339.6 225.7h0.6v0.6h-0.6zM341.5 223.2h0.6v0.6h-0.6zM346.7 230.3h0.6v0.6h-0.6zM345.2 221.3h0.6v0.6h-0.6zM336.7 230.8h0.6v0.6h-0.6zM339.1 226.9h0.6v0.6h-0.6zM347.7 222.4h0.6v0.6h-0.6zM349.3 225.9h0.6v0.6h-0.6zM337.7 225.5h0.6v0.6h-0.6zM338.0 217.4h0.6v0.6h-0.6zM345.4 224.3h0.6v0.6h-0.6zM346.7 225.0h0.6v0.6h-0.6zM344.5 224.9h0.6v0.6h-0.6zM338.8 223.5h0.6v0.6h-0.6zM348.3 232.4h0.6v0.6h-0.6zM335.1 230.0h0.6v0.6h-0.6zM341.3 229.1h0.6v0.6h-0.6zM341.9 223.6h0.6v0.6h-0.6zM345.6 224.1h0.6v0.6h-0.6zM345.5 228.2h0.6v0.6h-0.6zM349.7 221.2h0.6v0.6h-0.6zM349.4 225.3h0.6v0.6h-0.6zM338.8 219.6h0.6v0.6h-0.6zM352.0 229.1h0.6v0.6h-0.6zM341.0 227.7h0.6v0.6h-0.6zM341.0 226.6h0.6v0.6h-0.6zM352.3 221.1h0.6v0.6h-0.6zM344.7 222.3h0.6v0.6h-0.6zM354.3 226.2h0.6v0.6h-0.6zM342.4 219.3h0.6v0.6h-0.6zM344.0 227.6h0.6v0.6h-0.6zM350.7 222.0h0.6v0.6h-0.6zM349.8 225.0h0.6v0.6h-0.6zM344.5 225.8h0.6v0.6h-0.6zM355.8 223.3h0.6v0.6h-0.6zM345.7 224.1h0.6v0.6h-0.6zM343.5 225.5h0.6v0.6h-0.6zM347.6 217.3h0.6v0.6h-0.6zM346.1 225.0h0.6v0.6h-0.6zM353.2 228.9h0.6v0.6h-0.6zM348.3 220.1h0.6v0.6h-0.6zM346.4 232.7h0.6v0.6h-0.6zM348.6 227.1h0.6v0.6h-0.6zM338.4 228.2h0.6v0.6h-0.6zM347.5 219.2h0.6v0.6h-0.6zM353.8 223.9h0.6v0.6h-0.6zM352.5 228.0h0.6v0.6h-0.6zM346.1 228.2h0.6v0.6h-0.6zM350.3 226.2h0.6v0.6h-0.6zM338.0 224.7h0.6v0.6h-0.6zM337.4 223.6h0.6v0.6h-0.6zM342.9 228.2h0.6v0.6h-0.6zM345.2 218.0h0.6v0.6h-0.6zM348.6 222.2h0.6v0.6h-0.6zM350.0 218.9h0.6v0.6h-0.6zM341.1 222.6h0.6v0.6h-0.6zM343.7 223.8h0.6v0.6h-0.6zM348.9 226.6h0.6v0.6h-0.6zM346.6 225.4h0.6v0.6h-0.6zM343.9 217.8h0.6v0.6h-0.6zM343.1 222.6h0.6v0.6h-0.6zM343.0 222.4h0.6v0.6h-0.6zM341.1 222.8h0.6v0.6h-0.6zM345.2 226.9h0.6v0.6h-0.6zM350.0 220.0h0.6v0.6h-0.6zM348.2 223.4h0.6v0.6h-0.6zM345.0 229.5h0.6v0.6h-0.6zM349.3 225.8h0.6v0.6h-0.6zM340.2 223.3h0.6v0.6h-0.6zM350.8 221.5h0.6v0.6h-0.6zM341.4 220.3h0.6v0.6h-0.6zM346.5 220.6h0.6v0.6h-0.6zM346.2 222.4h0.6v0.6h-0.6zM348.1 226.4h0.6v0.6h-0.6zM344.1 222.6h0.6v0.6h-0.6zM351.1 225.1h0.6v0.6h-0.6zM349.2 224.6h0.6v0.6h-0.6zM343.1 226.4h0.6v0.6h-0.6zM349.2 224.6h0.6v0.6h-0.6zM345.7 228.2h0.6v0.6h-0.6zM341.6 226.5h0.6v0.6h-0.6zM345.1 225.2h0.6v0.6h-0.6zM349.6 218.6h0.6v0.6h-0.6zM345.1 224.5h0.6v0.6h-0.6zM342.4 225.3h0.6v0.6h-0.6zM349.6 227.9h0.6v0.6h-0.6zM343.3 223.7h0.6v0.6h-0.6zM342.7 229.8h0.6v0.6h-0.6zM342.4 219.3h0.6v0.6h-0.6zM342.1 221.7h0.6v0.6h-0.6zM346.3 224.8h0.6v0.6h-0.6zM350.5 217.3h0.6v0.6h-0.6zM347.1 223.6h0.6v0.6h-0.6zM345.9 221.9h0.6v0.6h-0.6zM343.7 226.8h0.6v0.6h-0.6zM351.2 218.5h0.6v0.6h-0.6zM347.8 220.9h0.6v0.6h-0.6zM348.9 223.2h0.6v0.6h-0.6zM339.1 221.7h0.6v0.6h-0.6zM346.0 228.6h0.6v0.6h-0.6z" fill="#2e7874" opacity="0.7"/>
<path d="M431.3 236.3 L431.9 224.2 L432.4 212.1 L433.0 200.0 L433.5 188.2 L434.0 176.5 L434.5 164.7 L434.9 182.3 L435.4 200.0 L435.9 218.2 L436.3 236.3" fill="none" stroke="#28489a" stroke-width="0.9" stroke-linejoin="round" opacity="1.0"/>
<path d="M436.3 233.7 L436.9 228.5 L437.3 224.1 L436.1 235.2 L437.3 224.4 L436.6 230.5 L438.6 212.4 L437.9 218.7 L436.8 228.8 L437.6 221.4 L438.0 217.7 L438.3 215.4 L441.1 189.4 L438.8 211.0 L440.5 194.7 L440.0 199.8 L440.7 192.7 L441.8 183.1 L439.9 200.8 L440.2 198.1 L442.3 178.4 L443.8 169.7 L443.6 170.4 L444.2 167.7 L443.5 171.1 L442.8 174.3 L442.9 174.2 L443.3 172.0 L443.5 171.2 L445.7 172.8 L444.4 168.2 L444.0 168.7 L444.1 168.0 L445.1 170.8 L445.7 172.8 L446.7 176.8 L446.5 176.1 L445.7 172.9 L447.3 179.0 L447.6 180.5 L446.9 177.5 L449.8 188.8 L448.1 182.3 L449.8 189.0 L450.1 190.2 L450.0 189.8 L450.5 191.5 L451.0 193.4 L451.8 196.5 L449.1 186.4 L451.5 195.7 L451.8 196.3 L452.1 197.2 L451.4 195.2 L452.8 199.5 L452.6 198.8 L453.9 202.9 L453.7 202.4 L452.3 198.1 L454.2 204.0 L454.9 206.0 L452.8 199.5 L455.1 206.6 L455.3 207.4 L454.3 204.3 L455.4 207.7 L455.3 207.4 L457.4 213.7 L455.7 208.5 L456.9 212.1 L457.0 212.6 L456.8 212.0 L457.8 215.0 L456.8 211.9 L457.2 213.2 L457.9 215.4 L458.2 216.3 L458.9 218.2 L459.3 219.6 L460.7 224.0 L460.7 223.8 L459.0 218.6 L461.7 226.9 L459.8 220.9 L461.2 225.2 L461.4 226.1 L462.5 229.3 L462.1 228.0 L463.0 230.5 L462.0 227.8 L463.3 231.1 L462.7 229.7 L464.0 232.7 L463.5 231.5 L464.1 233.1 L464.7 234.4 L465.1 235.4 L465.3 235.7 L465.4 236.0" fill="none" stroke="#3a9074" stroke-width="1.6" stroke-linejoin="round" opacity="0.6"/>
<path d="M436.3 236.3 L436.9 234.4 L437.3 229.7 L436.1 228.5 L437.3 225.2 L436.6 219.0 L438.6 221.4 L437.9 215.2 L436.8 212.7 L437.6 212.8 L438.0 207.3 L438.3 207.7 L441.1 205.3 L438.8 204.2 L440.5 195.8 L440.0 192.8 L440.7 191.3 L441.8 188.5 L439.9 184.5 L440.2 184.7 L442.3 182.0 L443.8 173.2 L443.6 173.8 L444.2 173.8 L443.5 171.4 L442.8 172.2 L442.9 169.2 L443.3 168.1 L443.5 167.2 L445.7 170.1 L444.4 170.9 L444.0 171.4 L444.1 173.0 L445.1 174.7 L445.7 169.7 L446.7 174.7 L446.5 175.6 L445.7 176.9 L447.3 174.2 L447.6 180.7 L446.9 181.1 L449.8 182.6 L448.1 184.9 L449.8 183.7 L450.1 188.2 L450.0 189.0 L450.5 190.1 L451.0 189.1 L451.8 192.1 L449.1 193.1 L451.5 193.8 L451.8 194.6 L452.1 197.1 L451.4 197.8 L452.8 199.2 L452.6 200.7 L453.9 199.7 L453.7 202.4 L452.3 202.4 L454.2 203.6 L454.9 202.9 L452.8 204.8 L455.1 203.6 L455.3 204.8 L454.3 205.0 L455.4 213.3 L455.3 209.0 L457.4 205.9 L455.7 208.5 L456.9 217.0 L457.0 211.6 L456.8 215.4 L457.8 212.7 L456.8 215.4 L457.2 215.7 L457.9 212.9 L458.2 219.8 L458.9 220.6 L459.3 221.8 L460.7 221.6 L460.7 220.3 L459.0 221.8 L461.7 225.1 L459.8 227.4 L461.2 224.2 L461.4 226.4 L462.5 225.8 L462.1 228.7 L463.0 230.3 L462.0 230.7 L463.3 229.5 L462.7 231.4 L464.0 231.5 L463.5 234.7 L464.1 233.6 L464.7 234.5 L465.1 235.4 L465.3 235.9 L465.4 236.3" fill="none" stroke="#126048" stroke-width="0.7" stroke-linejoin="miter" stroke-miterlimit="2" opacity="1.0"/>
<path d="M186.0 341.0 L224.0 340.0 L226.0 364.0 L186.0 364.0Z" fill="#ececec" opacity="1" filter="url(#b2)"/>
<path d="M210.0 344.0 L216.0 338.0 L222.0 340.0 L224.0 366.0 L210.0 366.0Z" fill="#cacaca" opacity="1" filter="url(#b1)"/>
<path d="M190.0 360.3h0.5v0.5h-0.5zM193.4 341.8h0.5v0.5h-0.5zM197.1 355.9h0.5v0.5h-0.5zM211.5 352.7h0.5v0.5h-0.5zM220.1 359.1h0.5v0.5h-0.5zM194.4 353.0h0.5v0.5h-0.5zM192.8 344.8h0.5v0.5h-0.5zM191.9 340.2h0.5v0.5h-0.5zM200.0 362.8h0.5v0.5h-0.5zM212.2 340.5h0.5v0.5h-0.5zM194.8 354.6h0.5v0.5h-0.5zM207.2 338.7h0.5v0.5h-0.5zM189.8 353.8h0.5v0.5h-0.5zM210.0 340.3h0.5v0.5h-0.5zM216.9 344.7h0.5v0.5h-0.5zM209.6 352.8h0.5v0.5h-0.5zM199.6 364.5h0.5v0.5h-0.5zM201.8 349.8h0.5v0.5h-0.5zM207.6 361.5h0.5v0.5h-0.5zM225.5 359.5h0.5v0.5h-0.5zM207.5 358.1h0.5v0.5h-0.5zM211.5 364.9h0.5v0.5h-0.5zM224.8 359.3h0.5v0.5h-0.5zM194.7 353.9h0.5v0.5h-0.5zM203.6 344.5h0.5v0.5h-0.5zM217.3 344.2h0.5v0.5h-0.5zM214.4 351.7h0.5v0.5h-0.5zM203.1 357.8h0.5v0.5h-0.5zM215.0 365.7h0.5v0.5h-0.5zM226.0 360.4h0.5v0.5h-0.5zM196.6 356.7h0.5v0.5h-0.5zM205.8 364.3h0.5v0.5h-0.5zM203.9 348.0h0.5v0.5h-0.5zM187.0 351.2h0.5v0.5h-0.5zM207.3 346.6h0.5v0.5h-0.5zM190.2 351.6h0.5v0.5h-0.5zM188.8 342.8h0.5v0.5h-0.5zM203.8 347.7h0.5v0.5h-0.5zM206.0 352.8h0.5v0.5h-0.5zM201.5 341.7h0.5v0.5h-0.5zM186.7 353.7h0.5v0.5h-0.5zM224.8 345.9h0.5v0.5h-0.5zM200.1 346.9h0.5v0.5h-0.5zM215.7 351.8h0.5v0.5h-0.5zM217.8 338.1h0.5v0.5h-0.5zM191.3 343.8h0.5v0.5h-0.5zM200.8 349.2h0.5v0.5h-0.5zM201.4 365.0h0.5v0.5h-0.5zM203.6 354.1h0.5v0.5h-0.5zM224.5 356.0h0.5v0.5h-0.5zM209.8 361.2h0.5v0.5h-0.5zM199.4 339.0h0.5v0.5h-0.5zM224.3 353.0h0.5v0.5h-0.5zM209.3 339.9h0.5v0.5h-0.5zM215.8 348.5h0.5v0.5h-0.5zM211.7 345.9h0.5v0.5h-0.5zM222.7 348.3h0.5v0.5h-0.5zM197.0 363.0h0.5v0.5h-0.5zM194.9 345.6h0.5v0.5h-0.5zM205.5 365.5h0.5v0.5h-0.5zM190.6 343.9h0.5v0.5h-0.5zM217.8 340.1h0.5v0.5h-0.5zM202.6 359.9h0.5v0.5h-0.5zM214.5 360.2h0.5v0.5h-0.5zM190.7 362.9h0.5v0.5h-0.5zM200.3 360.8h0.5v0.5h-0.5zM204.9 363.0h0.5v0.5h-0.5zM205.1 345.2h0.5v0.5h-0.5zM192.0 351.9h0.5v0.5h-0.5zM188.0 342.6h0.5v0.5h-0.5zM221.0 354.1h0.5v0.5h-0.5zM220.5 342.2h0.5v0.5h-0.5zM205.2 351.1h0.5v0.5h-0.5zM190.3 345.4h0.5v0.5h-0.5zM222.9 358.3h0.5v0.5h-0.5zM206.4 355.1h0.5v0.5h-0.5zM220.4 364.7h0.5v0.5h-0.5zM209.8 339.4h0.5v0.5h-0.5zM220.9 342.6h0.5v0.5h-0.5zM195.6 341.8h0.5v0.5h-0.5zM206.5 354.3h0.5v0.5h-0.5zM204.4 351.2h0.5v0.5h-0.5zM191.6 358.1h0.5v0.5h-0.5zM207.5 346.7h0.5v0.5h-0.5zM219.3 364.3h0.5v0.5h-0.5zM222.9 365.6h0.5v0.5h-0.5zM188.8 348.9h0.5v0.5h-0.5zM204.0 345.2h0.5v0.5h-0.5zM215.8 363.3h0.5v0.5h-0.5zM191.5 352.2h0.5v0.5h-0.5zM224.7 362.9h0.5v0.5h-0.5zM204.0 340.9h0.5v0.5h-0.5zM204.3 352.5h0.5v0.5h-0.5zM217.4 343.2h0.5v0.5h-0.5zM197.2 365.6h0.5v0.5h-0.5zM186.5 355.1h0.5v0.5h-0.5zM189.8 359.0h0.5v0.5h-0.5zM202.9 363.9h0.5v0.5h-0.5zM194.9 362.6h0.5v0.5h-0.5zM195.1 339.3h0.5v0.5h-0.5zM189.5 340.1h0.5v0.5h-0.5zM201.5 365.2h0.5v0.5h-0.5zM200.2 358.1h0.5v0.5h-0.5zM187.4 352.4h0.5v0.5h-0.5zM207.6 340.7h0.5v0.5h-0.5zM209.2 350.5h0.5v0.5h-0.5zM199.1 361.3h0.5v0.5h-0.5zM213.7 341.4h0.5v0.5h-0.5zM190.2 339.5h0.5v0.5h-0.5zM196.5 355.8h0.5v0.5h-0.5zM224.7 365.1h0.5v0.5h-0.5zM220.6 341.5h0.5v0.5h-0.5zM217.7 359.3h0.5v0.5h-0.5zM204.9 365.9h0.5v0.5h-0.5zM210.0 341.3h0.5v0.5h-0.5zM194.6 341.6h0.5v0.5h-0.5zM210.4 355.5h0.5v0.5h-0.5zM220.3 338.3h0.5v0.5h-0.5zM186.4 365.2h0.5v0.5h-0.5zM196.5 345.4h0.5v0.5h-0.5zM220.7 341.1h0.5v0.5h-0.5zM217.7 363.1h0.5v0.5h-0.5zM208.5 355.0h0.5v0.5h-0.5zM186.2 355.0h0.5v0.5h-0.5zM210.6 359.6h0.5v0.5h-0.5zM206.7 341.2h0.5v0.5h-0.5zM194.9 356.3h0.5v0.5h-0.5zM189.2 341.0h0.5v0.5h-0.5zM196.0 360.3h0.5v0.5h-0.5zM207.9 348.0h0.5v0.5h-0.5zM224.6 354.3h0.5v0.5h-0.5zM195.5 353.8h0.5v0.5h-0.5zM220.2 348.3h0.5v0.5h-0.5zM203.4 354.2h0.5v0.5h-0.5zM225.5 355.9h0.5v0.5h-0.5zM193.2 354.3h0.5v0.5h-0.5zM198.9 351.3h0.5v0.5h-0.5zM214.5 338.6h0.5v0.5h-0.5zM206.3 346.8h0.5v0.5h-0.5zM210.0 361.0h0.5v0.5h-0.5zM204.7 355.6h0.5v0.5h-0.5zM197.5 345.2h0.5v0.5h-0.5zM206.4 352.9h0.5v0.5h-0.5zM194.9 359.4h0.5v0.5h-0.5zM206.0 348.0h0.5v0.5h-0.5zM196.1 361.4h0.5v0.5h-0.5zM222.1 364.3h0.5v0.5h-0.5zM195.9 340.0h0.5v0.5h-0.5zM211.3 338.7h0.5v0.5h-0.5zM220.3 357.0h0.5v0.5h-0.5zM199.5 350.4h0.5v0.5h-0.5zM213.3 342.5h0.5v0.5h-0.5zM200.6 360.0h0.5v0.5h-0.5zM213.2 354.4h0.5v0.5h-0.5zM190.1 344.1h0.5v0.5h-0.5zM196.3 338.9h0.5v0.5h-0.5zM211.6 354.0h0.5v0.5h-0.5zM223.0 353.5h0.5v0.5h-0.5zM222.7 351.1h0.5v0.5h-0.5zM206.7 345.9h0.5v0.5h-0.5zM204.6 364.2h0.5v0.5h-0.5zM205.5 338.1h0.5v0.5h-0.5zM200.1 343.5h0.5v0.5h-0.5zM210.9 352.3h0.5v0.5h-0.5zM205.0 364.0h0.5v0.5h-0.5zM216.5 340.4h0.5v0.5h-0.5zM187.2 357.6h0.5v0.5h-0.5zM209.9 356.3h0.5v0.5h-0.5zM206.0 339.0h0.5v0.5h-0.5zM204.1 361.4h0.5v0.5h-0.5zM210.1 339.2h0.5v0.5h-0.5zM191.0 363.3h0.5v0.5h-0.5zM207.8 342.6h0.5v0.5h-0.5zM214.3 363.9h0.5v0.5h-0.5zM220.6 356.1h0.5v0.5h-0.5zM218.3 340.5h0.5v0.5h-0.5zM204.5 360.7h0.5v0.5h-0.5zM199.7 342.0h0.5v0.5h-0.5zM220.6 357.7h0.5v0.5h-0.5zM186.3 339.8h0.5v0.5h-0.5zM208.3 364.7h0.5v0.5h-0.5zM210.7 362.5h0.5v0.5h-0.5zM190.2 354.1h0.5v0.5h-0.5zM193.3 347.3h0.5v0.5h-0.5zM192.0 351.0h0.5v0.5h-0.5zM187.8 356.4h0.5v0.5h-0.5zM211.9 363.3h0.5v0.5h-0.5zM216.7 340.1h0.5v0.5h-0.5zM220.8 353.2h0.5v0.5h-0.5zM223.4 351.8h0.5v0.5h-0.5zM189.3 357.7h0.5v0.5h-0.5zM192.9 365.6h0.5v0.5h-0.5zM207.6 363.3h0.5v0.5h-0.5zM205.7 347.1h0.5v0.5h-0.5zM212.5 357.9h0.5v0.5h-0.5zM204.4 345.7h0.5v0.5h-0.5zM202.8 358.0h0.5v0.5h-0.5zM195.1 342.4h0.5v0.5h-0.5zM205.4 356.4h0.5v0.5h-0.5zM188.7 345.6h0.5v0.5h-0.5zM224.9 345.5h0.5v0.5h-0.5zM216.9 346.6h0.5v0.5h-0.5zM189.4 351.6h0.5v0.5h-0.5zM220.8 359.8h0.5v0.5h-0.5zM187.9 357.7h0.5v0.5h-0.5zM210.8 351.5h0.5v0.5h-0.5zM212.6 352.6h0.5v0.5h-0.5zM193.3 357.5h0.5v0.5h-0.5zM191.2 346.7h0.5v0.5h-0.5zM220.1 353.9h0.5v0.5h-0.5zM206.4 357.9h0.5v0.5h-0.5zM205.7 348.8h0.5v0.5h-0.5zM208.1 338.6h0.5v0.5h-0.5zM200.1 339.1h0.5v0.5h-0.5zM225.8 363.4h0.5v0.5h-0.5zM212.2 342.4h0.5v0.5h-0.5zM220.2 345.9h0.5v0.5h-0.5zM218.2 356.2h0.5v0.5h-0.5zM210.2 358.8h0.5v0.5h-0.5zM196.7 361.4h0.5v0.5h-0.5zM207.7 359.2h0.5v0.5h-0.5zM219.6 345.1h0.5v0.5h-0.5zM202.4 348.1h0.5v0.5h-0.5zM189.1 362.5h0.5v0.5h-0.5zM213.4 351.7h0.5v0.5h-0.5zM207.8 362.6h0.5v0.5h-0.5zM188.8 348.0h0.5v0.5h-0.5zM213.5 353.0h0.5v0.5h-0.5zM205.9 345.2h0.5v0.5h-0.5zM194.9 356.8h0.5v0.5h-0.5zM199.6 364.2h0.5v0.5h-0.5zM222.1 365.2h0.5v0.5h-0.5zM197.1 352.4h0.5v0.5h-0.5zM190.2 348.1h0.5v0.5h-0.5zM189.0 352.0h0.5v0.5h-0.5zM224.3 359.3h0.5v0.5h-0.5zM200.6 345.7h0.5v0.5h-0.5zM223.3 339.5h0.5v0.5h-0.5zM219.8 362.0h0.5v0.5h-0.5zM188.8 364.6h0.5v0.5h-0.5zM211.8 348.9h0.5v0.5h-0.5zM203.0 355.0h0.5v0.5h-0.5zM207.1 362.3h0.5v0.5h-0.5zM221.8 347.1h0.5v0.5h-0.5zM186.3 359.8h0.5v0.5h-0.5zM211.9 356.3h0.5v0.5h-0.5zM189.0 340.1h0.5v0.5h-0.5zM221.9 348.2h0.5v0.5h-0.5zM204.9 365.3h0.5v0.5h-0.5zM193.8 355.8h0.5v0.5h-0.5zM188.5 353.7h0.5v0.5h-0.5zM215.6 342.4h0.5v0.5h-0.5zM216.4 365.1h0.5v0.5h-0.5zM219.0 360.1h0.5v0.5h-0.5zM223.9 358.1h0.5v0.5h-0.5zM207.9 361.1h0.5v0.5h-0.5zM218.3 355.6h0.5v0.5h-0.5zM212.8 343.0h0.5v0.5h-0.5zM199.5 347.1h0.5v0.5h-0.5zM220.4 359.9h0.5v0.5h-0.5zM197.6 365.8h0.5v0.5h-0.5zM188.4 339.7h0.5v0.5h-0.5zM199.1 340.2h0.5v0.5h-0.5zM224.0 348.0h0.5v0.5h-0.5zM201.5 361.9h0.5v0.5h-0.5zM207.3 355.7h0.5v0.5h-0.5zM203.6 350.9h0.5v0.5h-0.5zM224.3 345.8h0.5v0.5h-0.5zM207.0 351.4h0.5v0.5h-0.5zM191.6 342.1h0.5v0.5h-0.5zM206.3 360.4h0.5v0.5h-0.5zM203.3 339.7h0.5v0.5h-0.5zM223.4 341.9h0.5v0.5h-0.5zM221.4 339.3h0.5v0.5h-0.5zM212.0 342.1h0.5v0.5h-0.5zM196.4 349.8h0.5v0.5h-0.5zM216.2 350.2h0.5v0.5h-0.5zM202.7 349.3h0.5v0.5h-0.5zM206.8 345.9h0.5v0.5h-0.5zM224.1 343.3h0.5v0.5h-0.5zM191.3 353.4h0.5v0.5h-0.5zM200.1 358.2h0.5v0.5h-0.5zM187.6 356.9h0.5v0.5h-0.5zM200.6 364.0h0.5v0.5h-0.5zM198.0 350.1h0.5v0.5h-0.5zM198.7 352.9h0.5v0.5h-0.5zM197.2 356.7h0.5v0.5h-0.5zM202.5 357.8h0.5v0.5h-0.5zM197.7 350.8h0.5v0.5h-0.5zM208.3 358.1h0.5v0.5h-0.5zM212.1 350.0h0.5v0.5h-0.5zM189.4 341.1h0.5v0.5h-0.5zM191.9 343.1h0.5v0.5h-0.5zM193.3 356.5h0.5v0.5h-0.5zM199.6 363.4h0.5v0.5h-0.5zM195.4 344.9h0.5v0.5h-0.5zM193.3 342.0h0.5v0.5h-0.5zM213.3 354.2h0.5v0.5h-0.5zM196.1 360.7h0.5v0.5h-0.5zM213.0 350.0h0.5v0.5h-0.5z" fill="#d6d6d6" opacity="0.9"/>
<path d="M190.0 320.0 L206.0 316.0 L222.0 319.0 L224.0 340.0 L190.0 341.0Z" fill="#e4bca0" opacity="0.75" filter="url(#b2)"/>
<path d="M191.0 322.0 L204.0 320.0 L207.0 334.0 L191.5 336.0Z" fill="#b8602e" opacity="0.85" filter="url(#b15)"/>
<path d="M196.1 323.7h0.6v0.6h-0.6zM216.7 331.2h0.6v0.6h-0.6zM191.5 333.8h0.6v0.6h-0.6zM194.1 318.2h0.6v0.6h-0.6zM193.1 333.0h0.6v0.6h-0.6zM200.1 331.1h0.6v0.6h-0.6zM222.0 327.7h0.6v0.6h-0.6zM207.9 319.6h0.6v0.6h-0.6zM223.7 328.9h0.6v0.6h-0.6zM199.4 323.4h0.6v0.6h-0.6zM192.1 330.6h0.6v0.6h-0.6zM191.6 327.3h0.6v0.6h-0.6zM209.4 323.6h0.6v0.6h-0.6zM192.8 335.1h0.6v0.6h-0.6zM199.3 325.4h0.6v0.6h-0.6zM191.3 326.9h0.6v0.6h-0.6zM206.3 329.0h0.6v0.6h-0.6zM193.0 331.7h0.6v0.6h-0.6zM198.8 324.9h0.6v0.6h-0.6zM201.1 328.9h0.6v0.6h-0.6zM195.9 328.5h0.6v0.6h-0.6zM197.9 326.6h0.6v0.6h-0.6zM191.1 331.5h0.6v0.6h-0.6zM194.5 323.9h0.6v0.6h-0.6zM214.1 331.8h0.6v0.6h-0.6zM198.5 324.2h0.6v0.6h-0.6zM190.6 327.4h0.6v0.6h-0.6zM197.1 325.4h0.6v0.6h-0.6zM191.4 328.6h0.6v0.6h-0.6zM190.4 323.2h0.6v0.6h-0.6zM208.4 326.9h0.6v0.6h-0.6zM197.5 331.1h0.6v0.6h-0.6zM190.5 333.7h0.6v0.6h-0.6zM201.1 326.7h0.6v0.6h-0.6zM199.0 335.6h0.6v0.6h-0.6zM193.4 316.1h0.6v0.6h-0.6zM210.2 323.7h0.6v0.6h-0.6zM198.7 320.6h0.6v0.6h-0.6zM220.9 339.8h0.6v0.6h-0.6zM206.1 327.0h0.6v0.6h-0.6zM205.1 319.5h0.6v0.6h-0.6zM204.9 330.0h0.6v0.6h-0.6zM209.0 323.2h0.6v0.6h-0.6zM195.3 328.7h0.6v0.6h-0.6zM192.2 334.2h0.6v0.6h-0.6zM191.4 326.0h0.6v0.6h-0.6zM194.3 320.7h0.6v0.6h-0.6zM217.5 324.7h0.6v0.6h-0.6zM196.6 328.2h0.6v0.6h-0.6zM192.1 332.7h0.6v0.6h-0.6zM203.4 317.3h0.6v0.6h-0.6zM191.5 327.2h0.6v0.6h-0.6zM209.8 332.0h0.6v0.6h-0.6zM202.5 326.0h0.6v0.6h-0.6zM207.6 322.9h0.6v0.6h-0.6zM196.4 332.8h0.6v0.6h-0.6zM192.9 322.9h0.6v0.6h-0.6zM195.2 324.7h0.6v0.6h-0.6zM200.8 334.4h0.6v0.6h-0.6zM196.8 334.3h0.6v0.6h-0.6zM195.6 329.5h0.6v0.6h-0.6zM194.5 324.8h0.6v0.6h-0.6zM191.7 329.9h0.6v0.6h-0.6zM190.7 323.5h0.6v0.6h-0.6zM191.4 334.7h0.6v0.6h-0.6zM195.7 339.1h0.6v0.6h-0.6zM190.7 335.5h0.6v0.6h-0.6zM192.1 327.6h0.6v0.6h-0.6zM202.8 327.2h0.6v0.6h-0.6zM199.9 320.9h0.6v0.6h-0.6zM200.8 331.5h0.6v0.6h-0.6zM194.5 326.8h0.6v0.6h-0.6zM208.3 334.2h0.6v0.6h-0.6zM204.4 325.4h0.6v0.6h-0.6zM194.0 335.6h0.6v0.6h-0.6zM200.9 329.5h0.6v0.6h-0.6zM192.2 337.2h0.6v0.6h-0.6zM191.8 338.0h0.6v0.6h-0.6zM190.6 327.5h0.6v0.6h-0.6zM202.1 325.4h0.6v0.6h-0.6zM194.1 328.6h0.6v0.6h-0.6zM194.5 331.5h0.6v0.6h-0.6zM219.8 322.5h0.6v0.6h-0.6zM212.3 325.8h0.6v0.6h-0.6zM197.5 324.4h0.6v0.6h-0.6zM192.2 332.5h0.6v0.6h-0.6zM193.6 335.3h0.6v0.6h-0.6zM205.5 321.8h0.6v0.6h-0.6zM197.9 333.8h0.6v0.6h-0.6zM200.8 325.7h0.6v0.6h-0.6zM199.0 333.1h0.6v0.6h-0.6zM202.7 331.9h0.6v0.6h-0.6zM198.3 329.2h0.6v0.6h-0.6zM195.6 324.0h0.6v0.6h-0.6zM192.2 329.8h0.6v0.6h-0.6zM198.4 328.2h0.6v0.6h-0.6zM191.9 332.0h0.6v0.6h-0.6zM209.5 325.5h0.6v0.6h-0.6zM196.9 324.4h0.6v0.6h-0.6zM201.3 329.2h0.6v0.6h-0.6zM196.8 332.6h0.6v0.6h-0.6zM211.6 324.7h0.6v0.6h-0.6zM205.2 327.1h0.6v0.6h-0.6zM201.4 325.6h0.6v0.6h-0.6zM191.7 320.2h0.6v0.6h-0.6zM204.5 325.1h0.6v0.6h-0.6zM210.9 323.1h0.6v0.6h-0.6zM201.2 324.7h0.6v0.6h-0.6zM197.0 332.1h0.6v0.6h-0.6zM206.5 332.5h0.6v0.6h-0.6zM201.1 321.9h0.6v0.6h-0.6zM200.9 328.1h0.6v0.6h-0.6zM222.3 328.8h0.6v0.6h-0.6zM190.6 334.1h0.6v0.6h-0.6zM189.9 338.2h0.6v0.6h-0.6zM208.4 319.6h0.6v0.6h-0.6zM193.8 340.5h0.6v0.6h-0.6zM199.4 332.4h0.6v0.6h-0.6zM189.8 326.2h0.6v0.6h-0.6zM205.2 330.9h0.6v0.6h-0.6zM193.6 336.1h0.6v0.6h-0.6zM206.1 328.2h0.6v0.6h-0.6zM200.4 321.8h0.6v0.6h-0.6zM193.4 330.8h0.6v0.6h-0.6zM190.9 321.8h0.6v0.6h-0.6zM189.7 334.4h0.6v0.6h-0.6zM192.1 330.1h0.6v0.6h-0.6zM202.4 326.7h0.6v0.6h-0.6zM196.8 324.1h0.6v0.6h-0.6zM195.6 328.1h0.6v0.6h-0.6zM218.4 327.9h0.6v0.6h-0.6zM193.4 333.6h0.6v0.6h-0.6zM201.5 319.7h0.6v0.6h-0.6zM192.9 328.1h0.6v0.6h-0.6zM204.7 323.2h0.6v0.6h-0.6zM195.6 326.8h0.6v0.6h-0.6zM194.2 335.6h0.6v0.6h-0.6zM198.9 330.3h0.6v0.6h-0.6zM193.1 325.8h0.6v0.6h-0.6zM206.8 330.8h0.6v0.6h-0.6zM194.1 327.2h0.6v0.6h-0.6zM226.0 322.6h0.6v0.6h-0.6zM191.1 328.3h0.6v0.6h-0.6zM189.6 334.6h0.6v0.6h-0.6zM199.8 334.4h0.6v0.6h-0.6zM193.5 330.7h0.6v0.6h-0.6zM191.0 329.9h0.6v0.6h-0.6zM190.7 318.3h0.6v0.6h-0.6zM199.7 319.1h0.6v0.6h-0.6zM190.9 337.7h0.6v0.6h-0.6zM194.6 332.2h0.6v0.6h-0.6zM191.7 324.1h0.6v0.6h-0.6zM192.4 332.7h0.6v0.6h-0.6zM192.8 321.8h0.6v0.6h-0.6zM208.8 329.0h0.6v0.6h-0.6zM199.5 322.7h0.6v0.6h-0.6zM205.4 332.5h0.6v0.6h-0.6zM197.2 327.8h0.6v0.6h-0.6zM192.5 322.1h0.6v0.6h-0.6zM190.4 328.1h0.6v0.6h-0.6zM203.3 327.1h0.6v0.6h-0.6zM197.7 334.5h0.6v0.6h-0.6zM197.1 325.7h0.6v0.6h-0.6zM197.0 318.6h0.6v0.6h-0.6zM191.0 320.8h0.6v0.6h-0.6zM193.5 333.0h0.6v0.6h-0.6zM200.5 323.5h0.6v0.6h-0.6zM199.1 327.1h0.6v0.6h-0.6zM209.5 327.2h0.6v0.6h-0.6zM191.3 324.2h0.6v0.6h-0.6zM193.8 323.4h0.6v0.6h-0.6zM211.6 330.4h0.6v0.6h-0.6zM193.0 324.1h0.6v0.6h-0.6zM191.6 328.9h0.6v0.6h-0.6zM195.7 331.2h0.6v0.6h-0.6zM195.4 334.1h0.6v0.6h-0.6zM193.1 336.4h0.6v0.6h-0.6zM204.4 330.0h0.6v0.6h-0.6zM193.0 325.5h0.6v0.6h-0.6zM220.3 325.7h0.6v0.6h-0.6zM190.8 323.1h0.6v0.6h-0.6zM225.3 333.8h0.6v0.6h-0.6zM191.2 334.0h0.6v0.6h-0.6zM206.5 327.0h0.6v0.6h-0.6zM192.0 325.2h0.6v0.6h-0.6zM191.7 330.1h0.6v0.6h-0.6zM212.5 331.5h0.6v0.6h-0.6zM221.6 324.4h0.6v0.6h-0.6zM194.2 330.9h0.6v0.6h-0.6zM203.7 326.3h0.6v0.6h-0.6zM195.3 326.0h0.6v0.6h-0.6zM201.6 329.1h0.6v0.6h-0.6zM193.5 328.1h0.6v0.6h-0.6zM206.8 332.0h0.6v0.6h-0.6zM201.3 325.6h0.6v0.6h-0.6zM193.5 329.9h0.6v0.6h-0.6zM200.0 320.3h0.6v0.6h-0.6zM198.8 330.0h0.6v0.6h-0.6zM206.0 327.8h0.6v0.6h-0.6zM197.0 325.5h0.6v0.6h-0.6zM200.5 318.9h0.6v0.6h-0.6zM197.6 327.6h0.6v0.6h-0.6zM195.8 329.8h0.6v0.6h-0.6zM192.4 333.0h0.6v0.6h-0.6zM209.8 336.5h0.6v0.6h-0.6zM192.9 331.2h0.6v0.6h-0.6zM205.1 327.7h0.6v0.6h-0.6zM219.2 330.6h0.6v0.6h-0.6zM194.7 323.7h0.6v0.6h-0.6zM195.4 332.9h0.6v0.6h-0.6zM203.5 323.6h0.6v0.6h-0.6zM192.6 324.8h0.6v0.6h-0.6zM199.3 328.3h0.6v0.6h-0.6zM200.7 330.6h0.6v0.6h-0.6zM192.4 320.9h0.6v0.6h-0.6zM200.8 329.2h0.6v0.6h-0.6zM203.4 327.3h0.6v0.6h-0.6zM198.1 329.1h0.6v0.6h-0.6zM200.5 330.9h0.6v0.6h-0.6zM196.2 327.0h0.6v0.6h-0.6zM209.7 326.0h0.6v0.6h-0.6zM192.6 326.7h0.6v0.6h-0.6zM194.9 331.4h0.6v0.6h-0.6zM197.6 316.7h0.6v0.6h-0.6zM200.4 326.9h0.6v0.6h-0.6zM191.0 328.5h0.6v0.6h-0.6zM192.1 335.5h0.6v0.6h-0.6zM196.7 334.5h0.6v0.6h-0.6zM200.2 329.0h0.6v0.6h-0.6zM195.8 329.8h0.6v0.6h-0.6zM196.9 330.4h0.6v0.6h-0.6zM192.6 326.3h0.6v0.6h-0.6zM224.7 327.3h0.6v0.6h-0.6zM192.6 321.7h0.6v0.6h-0.6zM195.1 331.0h0.6v0.6h-0.6zM194.9 327.6h0.6v0.6h-0.6zM197.1 328.1h0.6v0.6h-0.6zM201.5 319.0h0.6v0.6h-0.6zM192.9 334.1h0.6v0.6h-0.6zM191.6 327.9h0.6v0.6h-0.6zM202.1 332.8h0.6v0.6h-0.6zM192.8 329.9h0.6v0.6h-0.6zM200.9 324.6h0.6v0.6h-0.6zM196.4 318.1h0.6v0.6h-0.6zM203.4 327.4h0.6v0.6h-0.6zM192.2 321.3h0.6v0.6h-0.6zM199.2 331.7h0.6v0.6h-0.6zM197.3 325.5h0.6v0.6h-0.6zM205.8 327.7h0.6v0.6h-0.6zM196.5 326.6h0.6v0.6h-0.6zM191.9 331.4h0.6v0.6h-0.6zM192.1 330.4h0.6v0.6h-0.6zM209.2 325.6h0.6v0.6h-0.6zM212.3 324.2h0.6v0.6h-0.6zM192.3 323.0h0.6v0.6h-0.6zM206.3 326.7h0.6v0.6h-0.6zM194.9 330.5h0.6v0.6h-0.6zM227.2 331.6h0.6v0.6h-0.6zM219.0 328.3h0.6v0.6h-0.6zM198.4 326.8h0.6v0.6h-0.6zM196.2 337.2h0.6v0.6h-0.6zM198.5 316.8h0.6v0.6h-0.6zM191.3 322.3h0.6v0.6h-0.6zM191.7 329.0h0.6v0.6h-0.6zM192.0 327.9h0.6v0.6h-0.6zM198.3 329.2h0.6v0.6h-0.6zM198.7 332.1h0.6v0.6h-0.6zM201.0 328.1h0.6v0.6h-0.6zM195.6 325.5h0.6v0.6h-0.6zM197.3 328.8h0.6v0.6h-0.6zM205.0 320.7h0.6v0.6h-0.6zM207.6 328.8h0.6v0.6h-0.6zM190.3 331.0h0.6v0.6h-0.6zM218.9 328.8h0.6v0.6h-0.6zM196.8 326.3h0.6v0.6h-0.6zM197.7 333.8h0.6v0.6h-0.6zM191.1 337.8h0.6v0.6h-0.6zM204.2 331.6h0.6v0.6h-0.6zM191.1 338.8h0.6v0.6h-0.6zM206.5 333.0h0.6v0.6h-0.6zM210.5 333.2h0.6v0.6h-0.6zM192.1 327.0h0.6v0.6h-0.6zM191.5 328.9h0.6v0.6h-0.6zM197.3 337.0h0.6v0.6h-0.6zM190.8 331.6h0.6v0.6h-0.6zM197.1 324.6h0.6v0.6h-0.6zM194.8 325.0h0.6v0.6h-0.6zM198.4 331.9h0.6v0.6h-0.6zM204.1 325.0h0.6v0.6h-0.6zM200.5 327.7h0.6v0.6h-0.6zM195.9 328.0h0.6v0.6h-0.6zM195.9 335.1h0.6v0.6h-0.6zM219.2 321.9h0.6v0.6h-0.6zM223.9 325.1h0.6v0.6h-0.6zM190.8 324.0h0.6v0.6h-0.6zM213.0 327.6h0.6v0.6h-0.6zM217.9 325.4h0.6v0.6h-0.6zM199.2 323.1h0.6v0.6h-0.6zM201.8 330.6h0.6v0.6h-0.6zM197.5 329.3h0.6v0.6h-0.6zM208.4 332.5h0.6v0.6h-0.6zM206.2 322.7h0.6v0.6h-0.6zM195.8 330.7h0.6v0.6h-0.6zM210.2 335.5h0.6v0.6h-0.6zM192.2 336.3h0.6v0.6h-0.6zM204.8 328.9h0.6v0.6h-0.6zM207.1 336.4h0.6v0.6h-0.6zM196.3 337.3h0.6v0.6h-0.6zM196.4 333.5h0.6v0.6h-0.6zM191.0 327.8h0.6v0.6h-0.6zM201.5 322.4h0.6v0.6h-0.6zM191.5 334.7h0.6v0.6h-0.6zM196.9 329.2h0.6v0.6h-0.6zM197.1 328.0h0.6v0.6h-0.6zM219.4 328.5h0.6v0.6h-0.6zM199.4 327.2h0.6v0.6h-0.6zM207.5 328.2h0.6v0.6h-0.6zM201.6 318.9h0.6v0.6h-0.6zM205.6 327.2h0.6v0.6h-0.6zM204.8 339.1h0.6v0.6h-0.6zM195.9 326.7h0.6v0.6h-0.6zM192.1 327.1h0.6v0.6h-0.6zM202.4 326.9h0.6v0.6h-0.6zM202.4 334.4h0.6v0.6h-0.6zM211.9 333.8h0.6v0.6h-0.6zM196.5 333.2h0.6v0.6h-0.6zM193.0 325.0h0.6v0.6h-0.6zM192.4 333.2h0.6v0.6h-0.6zM202.7 327.7h0.6v0.6h-0.6zM194.1 329.1h0.6v0.6h-0.6zM225.2 327.5h0.6v0.6h-0.6zM190.9 325.5h0.6v0.6h-0.6zM199.0 333.2h0.6v0.6h-0.6zM193.0 333.8h0.6v0.6h-0.6zM197.7 325.4h0.6v0.6h-0.6zM190.3 321.2h0.6v0.6h-0.6zM203.1 323.5h0.6v0.6h-0.6zM207.6 326.6h0.6v0.6h-0.6zM189.8 336.0h0.6v0.6h-0.6zM195.5 323.5h0.6v0.6h-0.6zM193.0 328.6h0.6v0.6h-0.6zM190.6 321.7h0.6v0.6h-0.6zM192.8 340.4h0.6v0.6h-0.6zM194.1 335.1h0.6v0.6h-0.6zM194.0 323.7h0.6v0.6h-0.6zM194.9 331.6h0.6v0.6h-0.6zM209.4 336.1h0.6v0.6h-0.6zM190.8 329.0h0.6v0.6h-0.6zM194.8 331.1h0.6v0.6h-0.6zM221.5 334.8h0.6v0.6h-0.6zM200.0 327.7h0.6v0.6h-0.6zM210.0 333.8h0.6v0.6h-0.6zM191.6 326.6h0.6v0.6h-0.6zM203.9 323.8h0.6v0.6h-0.6zM191.2 331.5h0.6v0.6h-0.6zM193.2 319.3h0.6v0.6h-0.6zM193.9 325.1h0.6v0.6h-0.6zM194.8 315.8h0.6v0.6h-0.6zM202.1 330.1h0.6v0.6h-0.6zM208.2 327.9h0.6v0.6h-0.6zM205.1 331.7h0.6v0.6h-0.6zM202.5 326.9h0.6v0.6h-0.6zM218.3 318.2h0.6v0.6h-0.6zM190.7 327.5h0.6v0.6h-0.6zM190.6 327.7h0.6v0.6h-0.6zM214.7 328.3h0.6v0.6h-0.6zM204.4 329.0h0.6v0.6h-0.6zM196.4 321.6h0.6v0.6h-0.6zM204.3 333.8h0.6v0.6h-0.6zM205.7 329.4h0.6v0.6h-0.6zM196.8 328.7h0.6v0.6h-0.6zM193.3 320.1h0.6v0.6h-0.6zM199.8 323.5h0.6v0.6h-0.6zM216.7 336.3h0.6v0.6h-0.6zM193.6 323.5h0.6v0.6h-0.6zM191.3 331.4h0.6v0.6h-0.6zM192.7 325.1h0.6v0.6h-0.6zM202.4 320.3h0.6v0.6h-0.6zM207.4 329.7h0.6v0.6h-0.6zM193.1 322.7h0.6v0.6h-0.6zM195.0 328.5h0.6v0.6h-0.6zM226.3 328.9h0.6v0.6h-0.6zM213.3 318.3h0.6v0.6h-0.6zM194.7 336.5h0.6v0.6h-0.6zM202.9 324.7h0.6v0.6h-0.6zM194.2 335.9h0.6v0.6h-0.6zM199.1 322.6h0.6v0.6h-0.6zM190.5 328.4h0.6v0.6h-0.6zM200.0 324.6h0.6v0.6h-0.6zM195.1 318.9h0.6v0.6h-0.6zM202.4 328.1h0.6v0.6h-0.6zM195.0 324.2h0.6v0.6h-0.6zM195.0 332.0h0.6v0.6h-0.6zM199.1 322.1h0.6v0.6h-0.6zM208.8 336.9h0.6v0.6h-0.6zM192.8 332.6h0.6v0.6h-0.6zM198.8 338.7h0.6v0.6h-0.6zM193.0 330.9h0.6v0.6h-0.6zM198.3 328.6h0.6v0.6h-0.6zM193.6 334.5h0.6v0.6h-0.6zM193.7 337.0h0.6v0.6h-0.6zM193.8 319.9h0.6v0.6h-0.6zM199.0 330.5h0.6v0.6h-0.6zM198.3 324.7h0.6v0.6h-0.6zM220.8 328.1h0.6v0.6h-0.6zM211.8 324.9h0.6v0.6h-0.6zM190.9 324.2h0.6v0.6h-0.6zM198.1 324.7h0.6v0.6h-0.6zM206.6 326.1h0.6v0.6h-0.6zM190.2 332.2h0.6v0.6h-0.6zM197.0 331.0h0.6v0.6h-0.6zM193.3 327.3h0.6v0.6h-0.6zM194.6 333.8h0.6v0.6h-0.6zM190.2 325.9h0.6v0.6h-0.6zM192.5 324.5h0.6v0.6h-0.6zM191.8 330.8h0.6v0.6h-0.6zM192.7 324.9h0.6v0.6h-0.6zM190.7 329.4h0.6v0.6h-0.6zM212.6 337.0h0.6v0.6h-0.6zM197.4 321.1h0.6v0.6h-0.6zM197.4 328.0h0.6v0.6h-0.6zM194.6 334.4h0.6v0.6h-0.6zM220.9 332.9h0.6v0.6h-0.6zM194.8 333.1h0.6v0.6h-0.6zM203.8 333.2h0.6v0.6h-0.6zM193.0 334.0h0.6v0.6h-0.6zM192.4 324.3h0.6v0.6h-0.6zM199.6 328.8h0.6v0.6h-0.6zM192.2 325.2h0.6v0.6h-0.6zM209.9 332.9h0.6v0.6h-0.6zM195.5 321.9h0.6v0.6h-0.6zM195.8 329.4h0.6v0.6h-0.6zM194.5 327.8h0.6v0.6h-0.6zM193.5 338.0h0.6v0.6h-0.6zM200.4 328.6h0.6v0.6h-0.6zM203.2 327.7h0.6v0.6h-0.6zM192.1 324.4h0.6v0.6h-0.6zM214.7 327.5h0.6v0.6h-0.6zM193.8 322.5h0.6v0.6h-0.6zM204.2 331.6h0.6v0.6h-0.6zM200.3 330.1h0.6v0.6h-0.6zM196.4 330.2h0.6v0.6h-0.6zM195.4 327.3h0.6v0.6h-0.6zM196.4 326.9h0.6v0.6h-0.6zM205.6 321.1h0.6v0.6h-0.6zM196.6 334.7h0.6v0.6h-0.6zM204.7 328.0h0.6v0.6h-0.6zM207.5 329.5h0.6v0.6h-0.6zM203.5 325.5h0.6v0.6h-0.6zM191.9 320.5h0.6v0.6h-0.6zM199.0 331.2h0.6v0.6h-0.6zM190.9 329.7h0.6v0.6h-0.6zM195.7 334.3h0.6v0.6h-0.6zM196.4 328.7h0.6v0.6h-0.6zM190.0 330.8h0.6v0.6h-0.6zM191.8 332.8h0.6v0.6h-0.6zM202.2 329.2h0.6v0.6h-0.6zM190.9 325.3h0.6v0.6h-0.6zM199.4 328.0h0.6v0.6h-0.6zM209.5 322.5h0.6v0.6h-0.6zM212.0 335.1h0.6v0.6h-0.6zM196.5 322.4h0.6v0.6h-0.6zM196.1 327.8h0.6v0.6h-0.6zM191.6 329.8h0.6v0.6h-0.6zM194.6 337.8h0.6v0.6h-0.6zM202.0 339.8h0.6v0.6h-0.6zM194.1 329.5h0.6v0.6h-0.6zM195.2 340.7h0.6v0.6h-0.6zM190.9 327.8h0.6v0.6h-0.6zM203.8 327.3h0.6v0.6h-0.6zM206.5 326.1h0.6v0.6h-0.6zM200.0 334.9h0.6v0.6h-0.6zM196.3 324.3h0.6v0.6h-0.6zM199.8 320.7h0.6v0.6h-0.6zM204.2 329.7h0.6v0.6h-0.6zM190.3 330.7h0.6v0.6h-0.6zM207.0 327.8h0.6v0.6h-0.6zM204.8 337.2h0.6v0.6h-0.6zM195.2 329.9h0.6v0.6h-0.6zM211.4 322.1h0.6v0.6h-0.6zM199.5 329.5h0.6v0.6h-0.6zM204.8 321.6h0.6v0.6h-0.6zM205.6 321.8h0.6v0.6h-0.6zM201.4 337.4h0.6v0.6h-0.6zM199.3 330.3h0.6v0.6h-0.6zM193.4 340.0h0.6v0.6h-0.6zM216.2 329.0h0.6v0.6h-0.6zM201.9 338.9h0.6v0.6h-0.6zM211.5 323.2h0.6v0.6h-0.6zM189.9 322.0h0.6v0.6h-0.6zM190.9 335.9h0.6v0.6h-0.6zM194.6 324.7h0.6v0.6h-0.6zM202.9 319.6h0.6v0.6h-0.6zM191.7 325.3h0.6v0.6h-0.6zM190.9 327.6h0.6v0.6h-0.6zM202.5 325.6h0.6v0.6h-0.6zM211.3 325.6h0.6v0.6h-0.6zM227.5 328.4h0.6v0.6h-0.6zM205.6 322.9h0.6v0.6h-0.6zM192.0 325.5h0.6v0.6h-0.6zM194.9 334.3h0.6v0.6h-0.6zM191.5 333.5h0.6v0.6h-0.6zM201.7 328.9h0.6v0.6h-0.6zM191.2 340.4h0.6v0.6h-0.6zM192.7 323.0h0.6v0.6h-0.6zM199.2 323.8h0.6v0.6h-0.6zM206.3 333.9h0.6v0.6h-0.6zM193.8 325.9h0.6v0.6h-0.6zM195.6 327.3h0.6v0.6h-0.6zM190.8 328.0h0.6v0.6h-0.6zM196.8 334.7h0.6v0.6h-0.6zM190.3 334.0h0.6v0.6h-0.6zM204.3 333.3h0.6v0.6h-0.6zM190.6 332.8h0.6v0.6h-0.6zM202.7 334.2h0.6v0.6h-0.6zM191.1 327.9h0.6v0.6h-0.6zM210.5 326.1h0.6v0.6h-0.6zM198.9 332.2h0.6v0.6h-0.6zM194.4 331.7h0.6v0.6h-0.6zM200.3 319.4h0.6v0.6h-0.6zM212.3 333.7h0.6v0.6h-0.6zM198.6 332.8h0.6v0.6h-0.6zM200.3 328.5h0.6v0.6h-0.6zM207.4 330.0h0.6v0.6h-0.6zM194.3 332.5h0.6v0.6h-0.6zM194.4 320.3h0.6v0.6h-0.6zM201.5 335.7h0.6v0.6h-0.6zM218.1 325.2h0.6v0.6h-0.6zM204.4 336.4h0.6v0.6h-0.6zM193.1 339.7h0.6v0.6h-0.6zM223.5 326.6h0.6v0.6h-0.6zM195.2 322.5h0.6v0.6h-0.6zM205.8 330.3h0.6v0.6h-0.6zM193.9 334.1h0.6v0.6h-0.6zM191.9 328.1h0.6v0.6h-0.6zM197.2 330.1h0.6v0.6h-0.6zM204.8 324.9h0.6v0.6h-0.6zM192.0 326.3h0.6v0.6h-0.6zM191.2 329.4h0.6v0.6h-0.6zM198.0 326.2h0.6v0.6h-0.6zM209.3 333.9h0.6v0.6h-0.6zM221.4 316.7h0.6v0.6h-0.6zM205.3 337.7h0.6v0.6h-0.6zM196.4 333.1h0.6v0.6h-0.6zM209.8 326.5h0.6v0.6h-0.6zM195.0 322.4h0.6v0.6h-0.6zM201.7 332.1h0.6v0.6h-0.6zM210.1 331.4h0.6v0.6h-0.6zM215.2 329.0h0.6v0.6h-0.6zM194.9 337.4h0.6v0.6h-0.6zM194.6 329.3h0.6v0.6h-0.6zM189.9 327.5h0.6v0.6h-0.6zM202.6 338.9h0.6v0.6h-0.6zM194.4 333.8h0.6v0.6h-0.6zM193.7 324.4h0.6v0.6h-0.6zM195.4 328.4h0.6v0.6h-0.6zM190.0 322.3h0.6v0.6h-0.6zM192.8 334.0h0.6v0.6h-0.6zM194.7 332.8h0.6v0.6h-0.6zM191.1 338.2h0.6v0.6h-0.6zM197.2 327.2h0.6v0.6h-0.6zM199.5 327.0h0.6v0.6h-0.6zM190.8 325.5h0.6v0.6h-0.6zM198.5 338.6h0.6v0.6h-0.6zM193.1 323.3h0.6v0.6h-0.6zM212.1 322.2h0.6v0.6h-0.6zM200.7 332.5h0.6v0.6h-0.6zM204.6 325.3h0.6v0.6h-0.6zM194.4 333.2h0.6v0.6h-0.6zM191.7 324.4h0.6v0.6h-0.6zM200.9 336.8h0.6v0.6h-0.6zM191.2 325.7h0.6v0.6h-0.6zM201.2 324.8h0.6v0.6h-0.6zM191.1 328.9h0.6v0.6h-0.6zM195.3 337.0h0.6v0.6h-0.6zM198.0 322.1h0.6v0.6h-0.6zM194.2 328.5h0.6v0.6h-0.6zM208.3 328.1h0.6v0.6h-0.6zM193.3 334.0h0.6v0.6h-0.6zM193.6 332.4h0.6v0.6h-0.6zM199.2 335.3h0.6v0.6h-0.6zM193.3 335.3h0.6v0.6h-0.6zM193.7 332.7h0.6v0.6h-0.6zM193.0 329.2h0.6v0.6h-0.6zM193.7 325.2h0.6v0.6h-0.6zM209.9 333.0h0.6v0.6h-0.6zM190.4 322.6h0.6v0.6h-0.6zM196.0 336.0h0.6v0.6h-0.6zM191.2 333.2h0.6v0.6h-0.6zM191.7 322.2h0.6v0.6h-0.6zM194.3 333.6h0.6v0.6h-0.6zM197.8 327.6h0.6v0.6h-0.6zM213.6 331.5h0.6v0.6h-0.6zM208.8 329.5h0.6v0.6h-0.6zM192.5 334.3h0.6v0.6h-0.6zM212.5 327.4h0.6v0.6h-0.6zM199.0 338.1h0.6v0.6h-0.6zM214.4 334.0h0.6v0.6h-0.6zM197.8 319.4h0.6v0.6h-0.6zM206.0 326.6h0.6v0.6h-0.6zM193.9 322.7h0.6v0.6h-0.6zM193.1 322.2h0.6v0.6h-0.6zM201.8 328.0h0.6v0.6h-0.6zM194.9 321.7h0.6v0.6h-0.6zM202.0 325.4h0.6v0.6h-0.6zM191.2 330.9h0.6v0.6h-0.6zM199.4 322.2h0.6v0.6h-0.6zM191.8 330.5h0.6v0.6h-0.6zM198.7 330.8h0.6v0.6h-0.6zM211.0 334.1h0.6v0.6h-0.6zM190.1 329.9h0.6v0.6h-0.6zM195.4 323.5h0.6v0.6h-0.6zM190.1 329.0h0.6v0.6h-0.6zM193.3 327.5h0.6v0.6h-0.6zM193.3 329.6h0.6v0.6h-0.6zM191.3 330.9h0.6v0.6h-0.6zM190.0 332.0h0.6v0.6h-0.6zM202.1 324.6h0.6v0.6h-0.6zM190.6 320.0h0.6v0.6h-0.6zM200.5 323.2h0.6v0.6h-0.6zM206.1 325.2h0.6v0.6h-0.6zM196.8 327.5h0.6v0.6h-0.6zM200.3 329.1h0.6v0.6h-0.6zM190.5 322.0h0.6v0.6h-0.6zM192.5 333.5h0.6v0.6h-0.6zM198.2 328.2h0.6v0.6h-0.6zM200.6 329.3h0.6v0.6h-0.6zM197.0 334.6h0.6v0.6h-0.6zM222.4 326.0h0.6v0.6h-0.6zM191.4 317.9h0.6v0.6h-0.6zM200.6 323.5h0.6v0.6h-0.6zM216.4 323.4h0.6v0.6h-0.6zM202.0 330.7h0.6v0.6h-0.6zM194.6 337.5h0.6v0.6h-0.6zM191.2 326.6h0.6v0.6h-0.6zM195.5 326.4h0.6v0.6h-0.6zM202.1 336.4h0.6v0.6h-0.6zM190.2 325.9h0.6v0.6h-0.6zM201.3 327.4h0.6v0.6h-0.6zM207.5 325.0h0.6v0.6h-0.6zM197.1 320.4h0.6v0.6h-0.6zM200.6 330.3h0.6v0.6h-0.6zM196.8 322.1h0.6v0.6h-0.6zM196.3 331.7h0.6v0.6h-0.6zM204.3 338.3h0.6v0.6h-0.6zM197.4 319.3h0.6v0.6h-0.6zM196.3 333.5h0.6v0.6h-0.6zM193.7 334.4h0.6v0.6h-0.6zM193.3 327.8h0.6v0.6h-0.6zM201.5 325.2h0.6v0.6h-0.6zM195.4 333.8h0.6v0.6h-0.6zM215.0 338.2h0.6v0.6h-0.6zM190.4 327.1h0.6v0.6h-0.6zM198.5 331.6h0.6v0.6h-0.6zM203.3 324.7h0.6v0.6h-0.6zM190.2 333.8h0.6v0.6h-0.6zM194.5 333.9h0.6v0.6h-0.6zM210.5 334.4h0.6v0.6h-0.6zM194.9 326.5h0.6v0.6h-0.6zM194.7 337.9h0.6v0.6h-0.6zM195.0 332.2h0.6v0.6h-0.6zM196.0 333.1h0.6v0.6h-0.6zM194.9 326.6h0.6v0.6h-0.6zM206.4 324.6h0.6v0.6h-0.6zM199.0 325.6h0.6v0.6h-0.6zM191.3 323.6h0.6v0.6h-0.6zM190.3 332.0h0.6v0.6h-0.6zM195.6 322.2h0.6v0.6h-0.6zM190.8 326.6h0.6v0.6h-0.6zM207.9 327.0h0.6v0.6h-0.6zM210.3 327.8h0.6v0.6h-0.6zM195.5 331.1h0.6v0.6h-0.6zM201.1 322.8h0.6v0.6h-0.6zM198.0 328.0h0.6v0.6h-0.6zM197.4 322.4h0.6v0.6h-0.6zM191.9 325.7h0.6v0.6h-0.6zM194.5 323.7h0.6v0.6h-0.6zM200.9 324.6h0.6v0.6h-0.6zM203.3 335.4h0.6v0.6h-0.6zM198.4 330.5h0.6v0.6h-0.6zM196.8 333.0h0.6v0.6h-0.6zM190.2 325.2h0.6v0.6h-0.6zM194.3 335.8h0.6v0.6h-0.6zM193.8 320.1h0.6v0.6h-0.6zM198.5 326.9h0.6v0.6h-0.6zM199.9 325.4h0.6v0.6h-0.6zM198.7 339.1h0.6v0.6h-0.6zM193.2 324.9h0.6v0.6h-0.6zM194.0 321.4h0.6v0.6h-0.6zM200.5 320.3h0.6v0.6h-0.6zM192.5 331.3h0.6v0.6h-0.6zM192.6 328.7h0.6v0.6h-0.6zM198.0 327.5h0.6v0.6h-0.6zM193.8 333.0h0.6v0.6h-0.6zM190.5 329.0h0.6v0.6h-0.6zM193.4 324.8h0.6v0.6h-0.6zM197.6 326.5h0.6v0.6h-0.6zM209.0 332.6h0.6v0.6h-0.6zM212.7 319.9h0.6v0.6h-0.6zM190.8 330.2h0.6v0.6h-0.6zM194.5 323.2h0.6v0.6h-0.6zM198.1 324.9h0.6v0.6h-0.6zM203.5 329.9h0.6v0.6h-0.6zM203.3 337.0h0.6v0.6h-0.6zM192.8 330.7h0.6v0.6h-0.6zM194.9 334.7h0.6v0.6h-0.6zM193.3 326.6h0.6v0.6h-0.6zM195.7 336.0h0.6v0.6h-0.6zM192.4 337.2h0.6v0.6h-0.6zM197.0 331.5h0.6v0.6h-0.6zM212.8 327.2h0.6v0.6h-0.6zM195.1 319.1h0.6v0.6h-0.6zM192.7 329.4h0.6v0.6h-0.6zM211.0 325.4h0.6v0.6h-0.6zM192.2 318.4h0.6v0.6h-0.6zM194.9 333.1h0.6v0.6h-0.6zM196.4 329.6h0.6v0.6h-0.6zM193.0 327.4h0.6v0.6h-0.6zM203.9 326.1h0.6v0.6h-0.6zM191.6 324.6h0.6v0.6h-0.6zM191.4 326.6h0.6v0.6h-0.6zM192.7 322.1h0.6v0.6h-0.6zM211.9 336.8h0.6v0.6h-0.6zM192.7 334.0h0.6v0.6h-0.6zM194.3 330.0h0.6v0.6h-0.6zM191.1 324.5h0.6v0.6h-0.6zM191.9 332.1h0.6v0.6h-0.6zM199.9 326.5h0.6v0.6h-0.6zM204.0 323.8h0.6v0.6h-0.6zM215.2 335.5h0.6v0.6h-0.6zM198.6 323.2h0.6v0.6h-0.6zM196.0 329.7h0.6v0.6h-0.6zM210.2 319.5h0.6v0.6h-0.6zM196.6 327.1h0.6v0.6h-0.6zM197.8 329.1h0.6v0.6h-0.6zM189.9 324.7h0.6v0.6h-0.6zM206.8 325.2h0.6v0.6h-0.6zM196.7 327.4h0.6v0.6h-0.6zM217.7 324.8h0.6v0.6h-0.6zM198.3 329.5h0.6v0.6h-0.6zM213.3 322.2h0.6v0.6h-0.6zM196.5 330.0h0.6v0.6h-0.6zM194.7 332.7h0.6v0.6h-0.6zM200.8 325.6h0.6v0.6h-0.6zM212.3 326.8h0.6v0.6h-0.6zM191.5 332.9h0.6v0.6h-0.6zM194.1 320.9h0.6v0.6h-0.6zM194.4 333.2h0.6v0.6h-0.6zM191.2 326.1h0.6v0.6h-0.6zM209.8 331.2h0.6v0.6h-0.6zM195.2 330.4h0.6v0.6h-0.6zM218.2 324.6h0.6v0.6h-0.6zM192.2 334.6h0.6v0.6h-0.6zM203.6 320.2h0.6v0.6h-0.6zM218.4 326.0h0.6v0.6h-0.6zM203.6 326.1h0.6v0.6h-0.6zM194.7 326.7h0.6v0.6h-0.6zM212.2 321.8h0.6v0.6h-0.6zM192.3 330.8h0.6v0.6h-0.6zM192.6 339.0h0.6v0.6h-0.6zM198.8 322.8h0.6v0.6h-0.6zM190.6 328.8h0.6v0.6h-0.6zM220.5 316.9h0.6v0.6h-0.6zM195.3 340.5h0.6v0.6h-0.6zM206.7 336.9h0.6v0.6h-0.6zM190.9 324.7h0.6v0.6h-0.6zM191.8 332.2h0.6v0.6h-0.6zM192.6 326.6h0.6v0.6h-0.6zM190.4 325.0h0.6v0.6h-0.6zM191.3 328.9h0.6v0.6h-0.6zM195.5 328.1h0.6v0.6h-0.6zM192.8 324.1h0.6v0.6h-0.6zM206.3 316.7h0.6v0.6h-0.6zM196.5 322.7h0.6v0.6h-0.6zM204.6 327.0h0.6v0.6h-0.6zM195.3 331.7h0.6v0.6h-0.6zM196.7 324.1h0.6v0.6h-0.6zM209.5 328.6h0.6v0.6h-0.6zM198.9 332.1h0.6v0.6h-0.6zM198.5 324.6h0.6v0.6h-0.6zM200.1 324.4h0.6v0.6h-0.6zM202.2 334.9h0.6v0.6h-0.6zM194.6 321.4h0.6v0.6h-0.6zM192.1 323.8h0.6v0.6h-0.6zM192.4 332.4h0.6v0.6h-0.6zM193.9 332.8h0.6v0.6h-0.6zM199.0 335.6h0.6v0.6h-0.6zM197.8 326.9h0.6v0.6h-0.6zM196.5 322.7h0.6v0.6h-0.6zM192.1 331.2h0.6v0.6h-0.6zM190.7 330.8h0.6v0.6h-0.6zM191.9 331.9h0.6v0.6h-0.6zM198.3 322.8h0.6v0.6h-0.6zM201.7 332.4h0.6v0.6h-0.6zM193.4 333.0h0.6v0.6h-0.6zM191.8 323.5h0.6v0.6h-0.6zM194.1 331.7h0.6v0.6h-0.6zM190.0 340.5h0.6v0.6h-0.6zM200.8 331.5h0.6v0.6h-0.6zM190.3 330.3h0.6v0.6h-0.6zM209.9 335.7h0.6v0.6h-0.6zM210.1 330.9h0.6v0.6h-0.6zM191.2 325.8h0.6v0.6h-0.6zM198.9 329.8h0.6v0.6h-0.6zM206.1 330.7h0.6v0.6h-0.6zM195.3 328.6h0.6v0.6h-0.6zM201.2 323.1h0.6v0.6h-0.6zM199.4 330.4h0.6v0.6h-0.6zM199.0 331.5h0.6v0.6h-0.6zM197.0 324.6h0.6v0.6h-0.6zM199.5 328.9h0.6v0.6h-0.6zM196.7 328.5h0.6v0.6h-0.6zM198.9 327.0h0.6v0.6h-0.6zM194.6 331.6h0.6v0.6h-0.6zM193.3 331.0h0.6v0.6h-0.6zM192.0 329.3h0.6v0.6h-0.6zM192.5 321.6h0.6v0.6h-0.6zM195.2 330.0h0.6v0.6h-0.6zM198.1 323.7h0.6v0.6h-0.6zM190.3 327.5h0.6v0.6h-0.6zM203.2 328.0h0.6v0.6h-0.6zM191.6 329.8h0.6v0.6h-0.6zM195.2 321.5h0.6v0.6h-0.6zM201.4 330.6h0.6v0.6h-0.6zM209.3 323.3h0.6v0.6h-0.6zM191.8 329.2h0.6v0.6h-0.6zM191.8 323.3h0.6v0.6h-0.6zM195.7 333.6h0.6v0.6h-0.6zM199.0 330.4h0.6v0.6h-0.6zM197.1 329.8h0.6v0.6h-0.6zM208.9 325.1h0.6v0.6h-0.6zM191.3 323.0h0.6v0.6h-0.6zM194.9 334.9h0.6v0.6h-0.6zM207.7 330.4h0.6v0.6h-0.6zM195.7 324.7h0.6v0.6h-0.6zM198.9 326.4h0.6v0.6h-0.6zM204.3 339.7h0.6v0.6h-0.6zM197.0 326.9h0.6v0.6h-0.6zM217.6 332.9h0.6v0.6h-0.6zM214.8 325.3h0.6v0.6h-0.6zM212.7 329.0h0.6v0.6h-0.6zM206.3 333.4h0.6v0.6h-0.6zM200.3 333.3h0.6v0.6h-0.6zM191.9 331.9h0.6v0.6h-0.6zM202.4 322.9h0.6v0.6h-0.6zM196.6 323.3h0.6v0.6h-0.6zM193.9 331.3h0.6v0.6h-0.6zM193.1 334.5h0.6v0.6h-0.6zM203.4 339.1h0.6v0.6h-0.6zM193.4 324.8h0.6v0.6h-0.6zM206.5 329.2h0.6v0.6h-0.6zM197.7 334.4h0.6v0.6h-0.6zM202.6 328.8h0.6v0.6h-0.6zM197.8 323.6h0.6v0.6h-0.6zM191.4 327.7h0.6v0.6h-0.6zM194.7 319.6h0.6v0.6h-0.6zM200.4 318.8h0.6v0.6h-0.6zM191.0 315.8h0.6v0.6h-0.6zM204.3 326.5h0.6v0.6h-0.6zM197.5 326.1h0.6v0.6h-0.6zM194.9 333.0h0.6v0.6h-0.6zM205.1 331.4h0.6v0.6h-0.6zM202.3 325.1h0.6v0.6h-0.6zM198.7 337.1h0.6v0.6h-0.6zM227.8 321.3h0.6v0.6h-0.6zM198.0 323.0h0.6v0.6h-0.6zM193.7 326.8h0.6v0.6h-0.6zM220.4 319.4h0.6v0.6h-0.6zM194.6 322.8h0.6v0.6h-0.6zM215.8 321.3h0.6v0.6h-0.6zM192.5 323.4h0.6v0.6h-0.6zM196.5 331.0h0.6v0.6h-0.6zM196.0 329.6h0.6v0.6h-0.6zM202.5 326.0h0.6v0.6h-0.6zM197.8 320.9h0.6v0.6h-0.6zM197.4 336.3h0.6v0.6h-0.6zM194.9 327.2h0.6v0.6h-0.6zM194.7 324.5h0.6v0.6h-0.6zM191.8 326.1h0.6v0.6h-0.6zM205.1 324.6h0.6v0.6h-0.6zM192.2 334.2h0.6v0.6h-0.6zM194.5 321.9h0.6v0.6h-0.6zM192.2 330.9h0.6v0.6h-0.6zM190.9 324.3h0.6v0.6h-0.6zM222.6 332.0h0.6v0.6h-0.6zM194.3 322.8h0.6v0.6h-0.6zM195.4 331.5h0.6v0.6h-0.6zM195.7 326.6h0.6v0.6h-0.6zM194.1 334.8h0.6v0.6h-0.6zM195.2 320.7h0.6v0.6h-0.6zM192.0 329.9h0.6v0.6h-0.6zM192.4 322.0h0.6v0.6h-0.6zM196.2 326.8h0.6v0.6h-0.6zM194.8 326.6h0.6v0.6h-0.6zM196.7 334.7h0.6v0.6h-0.6zM192.0 331.1h0.6v0.6h-0.6zM192.1 329.3h0.6v0.6h-0.6zM198.1 327.3h0.6v0.6h-0.6zM196.2 328.6h0.6v0.6h-0.6zM190.4 328.1h0.6v0.6h-0.6z" fill="#a4461a" opacity="0.85"/>
<path d="M225.6 344.4h0.5v0.5h-0.5zM217.2 333.2h0.5v0.5h-0.5zM215.4 327.2h0.5v0.5h-0.5zM235.6 350.8h0.5v0.5h-0.5zM212.6 339.5h0.5v0.5h-0.5zM220.7 323.0h0.5v0.5h-0.5zM233.0 338.2h0.5v0.5h-0.5zM244.6 352.6h0.5v0.5h-0.5zM240.7 327.9h0.5v0.5h-0.5zM204.9 348.8h0.5v0.5h-0.5zM204.9 344.1h0.5v0.5h-0.5zM207.9 344.8h0.5v0.5h-0.5zM202.4 321.3h0.5v0.5h-0.5zM239.1 337.6h0.5v0.5h-0.5zM220.3 354.9h0.5v0.5h-0.5zM235.3 326.6h0.5v0.5h-0.5zM231.8 332.6h0.5v0.5h-0.5zM220.9 329.9h0.5v0.5h-0.5zM210.2 329.5h0.5v0.5h-0.5zM212.3 325.2h0.5v0.5h-0.5zM239.3 332.4h0.5v0.5h-0.5zM225.2 348.8h0.5v0.5h-0.5zM230.5 323.9h0.5v0.5h-0.5zM242.9 353.4h0.5v0.5h-0.5zM237.8 330.5h0.5v0.5h-0.5zM237.4 342.4h0.5v0.5h-0.5zM201.4 332.3h0.5v0.5h-0.5zM231.4 338.7h0.5v0.5h-0.5zM242.7 348.0h0.5v0.5h-0.5zM237.6 355.3h0.5v0.5h-0.5zM215.4 352.5h0.5v0.5h-0.5zM200.1 348.3h0.5v0.5h-0.5zM204.0 337.0h0.5v0.5h-0.5zM219.8 320.7h0.5v0.5h-0.5zM228.6 347.9h0.5v0.5h-0.5zM210.1 327.3h0.5v0.5h-0.5zM234.7 338.1h0.5v0.5h-0.5zM200.8 329.7h0.5v0.5h-0.5zM242.5 328.5h0.5v0.5h-0.5zM213.0 335.1h0.5v0.5h-0.5zM239.9 348.8h0.5v0.5h-0.5zM217.3 343.3h0.5v0.5h-0.5zM201.2 320.5h0.5v0.5h-0.5zM216.7 342.1h0.5v0.5h-0.5zM206.3 319.6h0.5v0.5h-0.5zM238.4 325.1h0.5v0.5h-0.5zM202.5 321.3h0.5v0.5h-0.5zM203.6 328.9h0.5v0.5h-0.5zM226.0 342.9h0.5v0.5h-0.5zM212.9 337.6h0.5v0.5h-0.5zM215.0 340.0h0.5v0.5h-0.5zM204.9 341.7h0.5v0.5h-0.5zM200.0 353.1h0.5v0.5h-0.5zM209.4 339.1h0.5v0.5h-0.5zM208.5 334.9h0.5v0.5h-0.5zM211.9 342.4h0.5v0.5h-0.5zM235.1 350.1h0.5v0.5h-0.5zM243.8 335.3h0.5v0.5h-0.5zM224.7 331.4h0.5v0.5h-0.5zM213.0 337.3h0.5v0.5h-0.5zM243.8 320.1h0.5v0.5h-0.5zM233.6 330.3h0.5v0.5h-0.5zM226.9 328.1h0.5v0.5h-0.5zM232.3 336.9h0.5v0.5h-0.5zM214.0 335.0h0.5v0.5h-0.5zM200.2 321.7h0.5v0.5h-0.5zM240.8 321.1h0.5v0.5h-0.5zM217.9 343.4h0.5v0.5h-0.5zM201.6 353.4h0.5v0.5h-0.5zM209.3 354.6h0.5v0.5h-0.5zM219.5 340.3h0.5v0.5h-0.5zM227.2 321.4h0.5v0.5h-0.5zM222.8 346.5h0.5v0.5h-0.5zM235.5 345.9h0.5v0.5h-0.5zM230.6 322.9h0.5v0.5h-0.5zM218.4 337.3h0.5v0.5h-0.5zM201.8 347.1h0.5v0.5h-0.5zM204.6 339.4h0.5v0.5h-0.5zM212.0 324.2h0.5v0.5h-0.5zM242.9 341.6h0.5v0.5h-0.5zM233.0 341.0h0.5v0.5h-0.5zM225.4 351.2h0.5v0.5h-0.5zM202.8 332.4h0.5v0.5h-0.5zM209.9 340.7h0.5v0.5h-0.5zM217.7 353.0h0.5v0.5h-0.5zM210.5 328.2h0.5v0.5h-0.5zM241.3 345.4h0.5v0.5h-0.5zM219.3 332.2h0.5v0.5h-0.5zM233.0 323.6h0.5v0.5h-0.5zM232.5 326.6h0.5v0.5h-0.5zM236.3 320.8h0.5v0.5h-0.5zM241.1 350.7h0.5v0.5h-0.5zM201.1 324.1h0.5v0.5h-0.5zM241.1 349.1h0.5v0.5h-0.5zM213.1 348.4h0.5v0.5h-0.5zM226.1 327.4h0.5v0.5h-0.5zM231.0 333.8h0.5v0.5h-0.5zM206.4 350.3h0.5v0.5h-0.5zM232.3 327.3h0.5v0.5h-0.5zM219.2 343.9h0.5v0.5h-0.5zM216.7 327.8h0.5v0.5h-0.5zM223.7 354.1h0.5v0.5h-0.5zM204.3 327.6h0.5v0.5h-0.5zM221.7 355.4h0.5v0.5h-0.5zM244.7 318.3h0.5v0.5h-0.5zM228.9 323.3h0.5v0.5h-0.5zM209.3 323.2h0.5v0.5h-0.5zM222.5 355.8h0.5v0.5h-0.5zM243.5 332.0h0.5v0.5h-0.5zM240.4 344.2h0.5v0.5h-0.5zM203.3 352.2h0.5v0.5h-0.5zM212.3 355.2h0.5v0.5h-0.5zM205.9 352.2h0.5v0.5h-0.5zM223.1 337.6h0.5v0.5h-0.5zM208.2 336.6h0.5v0.5h-0.5zM234.2 339.1h0.5v0.5h-0.5zM244.1 338.3h0.5v0.5h-0.5zM240.7 323.1h0.5v0.5h-0.5zM233.2 340.8h0.5v0.5h-0.5zM239.7 330.8h0.5v0.5h-0.5z" fill="#d4885a" opacity="0.7"/>
<ellipse cx="225" cy="356" rx="5.5" ry="3.5" fill="#d8d0f0" opacity="1" transform="rotate(-30 225 356)" filter="url(#b15)"/>
<ellipse cx="232" cy="360.5" rx="7.5" ry="4.2" fill="#34229c" opacity="1" filter="url(#b05)"/>
<ellipse cx="330" cy="331" rx="24" ry="6.5" fill="#f0dccc" opacity="1" transform="rotate(4 330 331)" filter="url(#b2)"/>
<ellipse cx="325" cy="330.5" rx="14" ry="4" fill="#c07850" opacity="0.8" transform="rotate(2 325 330.5)" filter="url(#b15)"/>
<path d="M306.4 330.9h0.6v0.6h-0.6zM325.4 333.8h0.6v0.6h-0.6zM335.3 326.9h0.6v0.6h-0.6zM324.1 330.4h0.6v0.6h-0.6zM327.2 327.0h0.6v0.6h-0.6zM326.7 333.9h0.6v0.6h-0.6zM339.4 336.2h0.6v0.6h-0.6zM334.8 322.5h0.6v0.6h-0.6zM323.1 328.6h0.6v0.6h-0.6zM336.1 331.0h0.6v0.6h-0.6zM329.9 332.4h0.6v0.6h-0.6zM323.4 335.0h0.6v0.6h-0.6zM346.0 334.4h0.6v0.6h-0.6zM319.8 331.1h0.6v0.6h-0.6zM336.7 333.5h0.6v0.6h-0.6zM318.3 333.4h0.6v0.6h-0.6zM333.9 332.9h0.6v0.6h-0.6zM321.4 330.2h0.6v0.6h-0.6zM305.0 329.3h0.6v0.6h-0.6zM321.2 329.3h0.6v0.6h-0.6zM323.0 329.3h0.6v0.6h-0.6zM326.9 330.9h0.6v0.6h-0.6zM319.3 329.7h0.6v0.6h-0.6zM324.9 332.1h0.6v0.6h-0.6zM330.9 329.6h0.6v0.6h-0.6zM317.2 324.6h0.6v0.6h-0.6zM312.1 331.2h0.6v0.6h-0.6zM315.6 335.4h0.6v0.6h-0.6zM324.3 329.2h0.6v0.6h-0.6zM324.4 328.6h0.6v0.6h-0.6zM319.0 330.4h0.6v0.6h-0.6zM310.0 330.1h0.6v0.6h-0.6zM325.1 327.5h0.6v0.6h-0.6zM337.2 332.3h0.6v0.6h-0.6zM338.1 328.9h0.6v0.6h-0.6zM312.5 325.8h0.6v0.6h-0.6zM309.0 323.3h0.6v0.6h-0.6zM343.4 329.8h0.6v0.6h-0.6zM328.2 328.9h0.6v0.6h-0.6zM324.1 335.7h0.6v0.6h-0.6zM307.0 326.2h0.6v0.6h-0.6zM327.6 327.6h0.6v0.6h-0.6zM333.4 335.3h0.6v0.6h-0.6zM335.7 333.6h0.6v0.6h-0.6zM324.0 333.8h0.6v0.6h-0.6zM317.4 326.1h0.6v0.6h-0.6zM323.2 329.5h0.6v0.6h-0.6zM339.7 327.9h0.6v0.6h-0.6zM338.8 328.6h0.6v0.6h-0.6zM312.4 324.1h0.6v0.6h-0.6zM325.9 325.7h0.6v0.6h-0.6zM328.3 330.8h0.6v0.6h-0.6zM321.9 323.8h0.6v0.6h-0.6zM320.2 331.7h0.6v0.6h-0.6zM306.2 331.8h0.6v0.6h-0.6zM326.3 328.7h0.6v0.6h-0.6zM328.1 332.8h0.6v0.6h-0.6zM325.9 327.9h0.6v0.6h-0.6zM334.8 328.7h0.6v0.6h-0.6zM329.8 334.0h0.6v0.6h-0.6zM340.1 336.6h0.6v0.6h-0.6zM337.3 331.6h0.6v0.6h-0.6zM323.7 331.0h0.6v0.6h-0.6zM331.3 340.9h0.6v0.6h-0.6zM333.4 328.1h0.6v0.6h-0.6zM343.1 326.1h0.6v0.6h-0.6zM337.3 326.8h0.6v0.6h-0.6zM314.1 328.2h0.6v0.6h-0.6zM323.1 325.8h0.6v0.6h-0.6zM332.8 330.5h0.6v0.6h-0.6zM341.0 327.9h0.6v0.6h-0.6zM305.9 331.8h0.6v0.6h-0.6zM323.4 333.7h0.6v0.6h-0.6zM326.7 337.1h0.6v0.6h-0.6zM312.8 323.4h0.6v0.6h-0.6zM320.7 335.0h0.6v0.6h-0.6zM343.7 326.9h0.6v0.6h-0.6zM319.6 324.0h0.6v0.6h-0.6zM316.9 326.8h0.6v0.6h-0.6zM330.5 334.6h0.6v0.6h-0.6zM352.3 330.7h0.6v0.6h-0.6zM335.0 331.7h0.6v0.6h-0.6zM327.1 337.1h0.6v0.6h-0.6zM333.5 336.2h0.6v0.6h-0.6zM329.2 333.6h0.6v0.6h-0.6zM331.6 330.5h0.6v0.6h-0.6zM318.4 328.8h0.6v0.6h-0.6zM326.2 329.2h0.6v0.6h-0.6zM322.4 328.0h0.6v0.6h-0.6zM335.5 330.2h0.6v0.6h-0.6zM324.7 329.7h0.6v0.6h-0.6zM340.5 329.5h0.6v0.6h-0.6zM341.7 328.4h0.6v0.6h-0.6zM342.7 333.5h0.6v0.6h-0.6zM320.5 331.8h0.6v0.6h-0.6zM338.7 328.0h0.6v0.6h-0.6zM323.5 331.4h0.6v0.6h-0.6zM323.8 329.4h0.6v0.6h-0.6zM326.2 331.6h0.6v0.6h-0.6zM334.3 335.9h0.6v0.6h-0.6zM322.0 340.2h0.6v0.6h-0.6zM322.1 336.3h0.6v0.6h-0.6zM324.9 325.6h0.6v0.6h-0.6zM321.3 329.1h0.6v0.6h-0.6zM338.1 324.4h0.6v0.6h-0.6zM319.1 329.7h0.6v0.6h-0.6zM333.2 332.2h0.6v0.6h-0.6zM335.5 330.5h0.6v0.6h-0.6zM323.2 334.4h0.6v0.6h-0.6zM344.9 332.8h0.6v0.6h-0.6zM327.9 327.7h0.6v0.6h-0.6zM349.1 333.1h0.6v0.6h-0.6zM333.1 325.5h0.6v0.6h-0.6zM332.3 339.0h0.6v0.6h-0.6zM324.3 329.7h0.6v0.6h-0.6zM342.9 330.8h0.6v0.6h-0.6zM335.0 337.5h0.6v0.6h-0.6zM313.3 327.1h0.6v0.6h-0.6zM333.5 331.3h0.6v0.6h-0.6zM326.5 330.0h0.6v0.6h-0.6zM327.4 331.8h0.6v0.6h-0.6zM320.9 329.3h0.6v0.6h-0.6zM328.8 327.0h0.6v0.6h-0.6zM331.3 323.4h0.6v0.6h-0.6zM333.1 330.5h0.6v0.6h-0.6zM312.9 334.4h0.6v0.6h-0.6zM312.8 336.8h0.6v0.6h-0.6zM317.8 334.2h0.6v0.6h-0.6zM325.0 335.9h0.6v0.6h-0.6zM323.4 333.9h0.6v0.6h-0.6zM322.9 324.0h0.6v0.6h-0.6zM330.2 332.3h0.6v0.6h-0.6zM330.1 336.4h0.6v0.6h-0.6zM318.2 325.3h0.6v0.6h-0.6zM329.0 328.3h0.6v0.6h-0.6zM324.9 330.5h0.6v0.6h-0.6zM316.9 333.7h0.6v0.6h-0.6zM324.4 336.5h0.6v0.6h-0.6zM328.6 334.2h0.6v0.6h-0.6zM323.0 328.1h0.6v0.6h-0.6zM320.4 327.3h0.6v0.6h-0.6zM330.9 331.2h0.6v0.6h-0.6zM314.5 324.7h0.6v0.6h-0.6zM317.0 323.9h0.6v0.6h-0.6zM316.6 324.9h0.6v0.6h-0.6zM334.0 327.0h0.6v0.6h-0.6zM319.6 329.8h0.6v0.6h-0.6zM326.3 332.0h0.6v0.6h-0.6zM334.3 333.1h0.6v0.6h-0.6zM322.1 334.5h0.6v0.6h-0.6zM330.2 328.3h0.6v0.6h-0.6zM342.6 327.4h0.6v0.6h-0.6zM331.0 335.0h0.6v0.6h-0.6zM327.2 331.7h0.6v0.6h-0.6zM327.3 332.8h0.6v0.6h-0.6zM328.5 330.7h0.6v0.6h-0.6zM334.1 324.5h0.6v0.6h-0.6zM328.9 329.6h0.6v0.6h-0.6zM347.4 332.6h0.6v0.6h-0.6zM318.8 332.3h0.6v0.6h-0.6zM322.1 326.3h0.6v0.6h-0.6zM322.9 332.0h0.6v0.6h-0.6zM338.8 334.7h0.6v0.6h-0.6zM328.6 330.1h0.6v0.6h-0.6zM328.0 334.7h0.6v0.6h-0.6zM324.5 334.3h0.6v0.6h-0.6zM317.4 330.0h0.6v0.6h-0.6zM334.4 333.3h0.6v0.6h-0.6zM328.3 328.9h0.6v0.6h-0.6zM306.6 328.0h0.6v0.6h-0.6zM316.9 328.7h0.6v0.6h-0.6zM343.4 328.8h0.6v0.6h-0.6zM335.3 330.9h0.6v0.6h-0.6zM314.0 330.3h0.6v0.6h-0.6zM334.4 327.0h0.6v0.6h-0.6zM313.5 328.6h0.6v0.6h-0.6zM334.0 328.9h0.6v0.6h-0.6zM330.6 332.3h0.6v0.6h-0.6zM326.1 332.0h0.6v0.6h-0.6zM339.9 330.6h0.6v0.6h-0.6zM329.8 327.1h0.6v0.6h-0.6zM318.2 329.8h0.6v0.6h-0.6zM335.0 328.7h0.6v0.6h-0.6zM310.8 332.8h0.6v0.6h-0.6zM352.2 323.2h0.6v0.6h-0.6zM314.5 330.3h0.6v0.6h-0.6zM331.5 327.6h0.6v0.6h-0.6zM329.5 334.4h0.6v0.6h-0.6zM323.0 332.8h0.6v0.6h-0.6zM327.6 327.5h0.6v0.6h-0.6zM319.5 328.1h0.6v0.6h-0.6zM340.2 335.1h0.6v0.6h-0.6zM328.9 325.4h0.6v0.6h-0.6zM320.8 328.9h0.6v0.6h-0.6zM305.2 329.4h0.6v0.6h-0.6zM329.4 326.2h0.6v0.6h-0.6zM321.5 328.7h0.6v0.6h-0.6zM345.9 333.8h0.6v0.6h-0.6zM334.3 331.2h0.6v0.6h-0.6zM312.1 332.9h0.6v0.6h-0.6zM319.1 323.7h0.6v0.6h-0.6zM334.0 329.8h0.6v0.6h-0.6zM325.9 332.2h0.6v0.6h-0.6zM323.5 331.8h0.6v0.6h-0.6zM340.0 330.2h0.6v0.6h-0.6zM322.2 330.4h0.6v0.6h-0.6zM333.1 329.5h0.6v0.6h-0.6zM327.0 328.3h0.6v0.6h-0.6zM325.1 332.3h0.6v0.6h-0.6zM317.3 329.4h0.6v0.6h-0.6zM310.4 327.3h0.6v0.6h-0.6zM326.8 332.3h0.6v0.6h-0.6zM315.0 329.6h0.6v0.6h-0.6zM316.0 331.0h0.6v0.6h-0.6zM328.8 332.1h0.6v0.6h-0.6zM324.0 325.6h0.6v0.6h-0.6zM320.3 325.7h0.6v0.6h-0.6zM318.8 329.9h0.6v0.6h-0.6zM337.7 329.0h0.6v0.6h-0.6zM317.7 330.8h0.6v0.6h-0.6zM303.5 336.0h0.6v0.6h-0.6zM309.3 333.0h0.6v0.6h-0.6zM336.4 334.3h0.6v0.6h-0.6zM324.8 332.9h0.6v0.6h-0.6zM322.2 333.5h0.6v0.6h-0.6zM319.2 327.4h0.6v0.6h-0.6zM330.2 329.2h0.6v0.6h-0.6zM333.4 328.0h0.6v0.6h-0.6zM329.1 327.4h0.6v0.6h-0.6zM324.6 337.6h0.6v0.6h-0.6zM314.7 325.8h0.6v0.6h-0.6zM308.9 328.8h0.6v0.6h-0.6zM343.5 329.9h0.6v0.6h-0.6zM336.0 330.4h0.6v0.6h-0.6zM318.9 336.9h0.6v0.6h-0.6zM337.9 325.0h0.6v0.6h-0.6zM315.5 331.3h0.6v0.6h-0.6zM333.0 330.1h0.6v0.6h-0.6zM329.3 332.5h0.6v0.6h-0.6zM322.1 333.6h0.6v0.6h-0.6zM316.8 332.6h0.6v0.6h-0.6zM335.8 331.7h0.6v0.6h-0.6zM322.3 330.3h0.6v0.6h-0.6zM302.3 330.1h0.6v0.6h-0.6zM311.2 323.0h0.6v0.6h-0.6zM334.3 327.9h0.6v0.6h-0.6zM329.8 330.9h0.6v0.6h-0.6zM307.4 326.5h0.6v0.6h-0.6zM323.1 331.9h0.6v0.6h-0.6zM327.0 326.3h0.6v0.6h-0.6zM320.4 330.6h0.6v0.6h-0.6zM312.5 328.3h0.6v0.6h-0.6zM320.6 323.1h0.6v0.6h-0.6zM344.3 334.4h0.6v0.6h-0.6zM320.9 333.4h0.6v0.6h-0.6zM314.6 335.0h0.6v0.6h-0.6zM322.0 330.8h0.6v0.6h-0.6zM319.8 330.5h0.6v0.6h-0.6zM329.5 330.8h0.6v0.6h-0.6zM317.1 332.6h0.6v0.6h-0.6zM332.0 330.8h0.6v0.6h-0.6zM337.4 328.6h0.6v0.6h-0.6zM339.7 330.7h0.6v0.6h-0.6zM342.2 329.9h0.6v0.6h-0.6zM323.3 331.1h0.6v0.6h-0.6zM337.4 335.9h0.6v0.6h-0.6zM321.3 327.8h0.6v0.6h-0.6zM333.9 335.1h0.6v0.6h-0.6zM333.6 329.8h0.6v0.6h-0.6zM339.6 331.1h0.6v0.6h-0.6zM327.7 332.7h0.6v0.6h-0.6zM320.4 322.6h0.6v0.6h-0.6zM328.2 333.0h0.6v0.6h-0.6zM330.6 332.6h0.6v0.6h-0.6zM327.6 334.1h0.6v0.6h-0.6zM327.0 335.6h0.6v0.6h-0.6zM326.4 333.2h0.6v0.6h-0.6zM320.1 331.2h0.6v0.6h-0.6zM330.5 331.2h0.6v0.6h-0.6zM342.4 331.5h0.6v0.6h-0.6zM337.9 332.3h0.6v0.6h-0.6zM337.8 328.1h0.6v0.6h-0.6zM322.0 333.5h0.6v0.6h-0.6zM317.3 331.4h0.6v0.6h-0.6zM332.0 331.5h0.6v0.6h-0.6zM330.6 332.6h0.6v0.6h-0.6zM323.4 331.8h0.6v0.6h-0.6zM320.6 328.7h0.6v0.6h-0.6zM309.2 329.3h0.6v0.6h-0.6zM307.9 329.7h0.6v0.6h-0.6zM328.4 327.0h0.6v0.6h-0.6zM326.7 331.5h0.6v0.6h-0.6zM322.5 327.3h0.6v0.6h-0.6zM324.8 331.8h0.6v0.6h-0.6zM335.5 337.5h0.6v0.6h-0.6zM305.0 330.6h0.6v0.6h-0.6zM330.7 328.6h0.6v0.6h-0.6zM329.1 337.7h0.6v0.6h-0.6zM327.0 335.1h0.6v0.6h-0.6zM337.4 329.6h0.6v0.6h-0.6zM342.7 325.5h0.6v0.6h-0.6zM324.0 328.1h0.6v0.6h-0.6zM328.2 330.8h0.6v0.6h-0.6zM338.3 329.2h0.6v0.6h-0.6zM346.8 325.9h0.6v0.6h-0.6zM327.8 339.6h0.6v0.6h-0.6zM324.9 332.6h0.6v0.6h-0.6zM320.4 341.3h0.6v0.6h-0.6zM335.6 329.8h0.6v0.6h-0.6zM305.6 330.1h0.6v0.6h-0.6zM334.2 324.1h0.6v0.6h-0.6zM320.7 332.1h0.6v0.6h-0.6zM309.4 325.1h0.6v0.6h-0.6zM330.1 334.5h0.6v0.6h-0.6zM338.5 329.0h0.6v0.6h-0.6zM331.7 324.9h0.6v0.6h-0.6zM310.2 331.5h0.6v0.6h-0.6zM322.0 326.9h0.6v0.6h-0.6zM306.2 328.7h0.6v0.6h-0.6zM350.1 325.0h0.6v0.6h-0.6zM314.7 333.7h0.6v0.6h-0.6zM305.7 327.3h0.6v0.6h-0.6zM326.5 334.3h0.6v0.6h-0.6zM324.9 336.6h0.6v0.6h-0.6zM325.7 330.1h0.6v0.6h-0.6zM330.7 331.9h0.6v0.6h-0.6zM310.2 326.5h0.6v0.6h-0.6zM323.5 331.5h0.6v0.6h-0.6zM313.1 327.4h0.6v0.6h-0.6zM318.0 331.2h0.6v0.6h-0.6zM321.3 332.3h0.6v0.6h-0.6zM330.3 327.6h0.6v0.6h-0.6zM323.1 326.2h0.6v0.6h-0.6zM327.0 333.3h0.6v0.6h-0.6zM315.8 324.0h0.6v0.6h-0.6zM331.6 329.8h0.6v0.6h-0.6zM325.6 332.0h0.6v0.6h-0.6zM329.9 333.8h0.6v0.6h-0.6zM321.5 322.8h0.6v0.6h-0.6zM320.9 329.2h0.6v0.6h-0.6zM321.6 331.6h0.6v0.6h-0.6zM323.1 334.7h0.6v0.6h-0.6zM319.3 330.1h0.6v0.6h-0.6zM321.8 337.4h0.6v0.6h-0.6zM316.0 326.6h0.6v0.6h-0.6zM321.8 332.9h0.6v0.6h-0.6zM326.2 329.9h0.6v0.6h-0.6zM310.8 322.7h0.6v0.6h-0.6zM323.8 329.6h0.6v0.6h-0.6zM344.8 332.7h0.6v0.6h-0.6zM330.4 334.0h0.6v0.6h-0.6zM316.7 325.9h0.6v0.6h-0.6zM321.8 335.3h0.6v0.6h-0.6zM336.7 329.1h0.6v0.6h-0.6zM312.5 332.9h0.6v0.6h-0.6zM337.9 327.4h0.6v0.6h-0.6zM343.3 328.8h0.6v0.6h-0.6zM334.1 330.2h0.6v0.6h-0.6zM322.6 328.3h0.6v0.6h-0.6zM333.3 333.0h0.6v0.6h-0.6zM334.7 330.0h0.6v0.6h-0.6zM316.5 337.3h0.6v0.6h-0.6zM344.4 330.8h0.6v0.6h-0.6zM313.4 334.9h0.6v0.6h-0.6zM327.4 330.8h0.6v0.6h-0.6zM335.1 332.2h0.6v0.6h-0.6zM326.8 337.3h0.6v0.6h-0.6zM305.6 331.6h0.6v0.6h-0.6zM315.4 330.2h0.6v0.6h-0.6zM324.1 331.3h0.6v0.6h-0.6zM351.1 330.4h0.6v0.6h-0.6zM335.6 333.1h0.6v0.6h-0.6zM329.3 329.0h0.6v0.6h-0.6zM332.8 331.8h0.6v0.6h-0.6zM341.4 334.1h0.6v0.6h-0.6zM318.9 320.2h0.6v0.6h-0.6zM342.2 333.0h0.6v0.6h-0.6zM328.0 328.5h0.6v0.6h-0.6zM352.8 336.4h0.6v0.6h-0.6zM327.1 329.3h0.6v0.6h-0.6zM332.0 335.4h0.6v0.6h-0.6zM331.4 334.0h0.6v0.6h-0.6zM328.8 331.9h0.6v0.6h-0.6zM312.3 330.2h0.6v0.6h-0.6zM326.6 330.3h0.6v0.6h-0.6zM323.3 331.4h0.6v0.6h-0.6zM319.8 329.5h0.6v0.6h-0.6zM311.4 337.6h0.6v0.6h-0.6zM316.6 325.9h0.6v0.6h-0.6zM320.3 328.8h0.6v0.6h-0.6zM314.8 321.6h0.6v0.6h-0.6zM343.6 334.9h0.6v0.6h-0.6zM321.8 332.2h0.6v0.6h-0.6zM314.3 324.4h0.6v0.6h-0.6zM329.5 332.6h0.6v0.6h-0.6zM318.6 330.1h0.6v0.6h-0.6zM337.4 331.7h0.6v0.6h-0.6zM327.9 332.6h0.6v0.6h-0.6zM303.6 325.0h0.6v0.6h-0.6zM312.2 330.6h0.6v0.6h-0.6zM319.5 323.8h0.6v0.6h-0.6zM335.7 330.4h0.6v0.6h-0.6zM336.4 337.9h0.6v0.6h-0.6zM308.3 325.2h0.6v0.6h-0.6zM337.5 335.9h0.6v0.6h-0.6zM330.2 331.9h0.6v0.6h-0.6zM333.4 333.1h0.6v0.6h-0.6zM312.0 332.3h0.6v0.6h-0.6zM336.8 329.7h0.6v0.6h-0.6zM316.1 328.3h0.6v0.6h-0.6zM319.5 332.0h0.6v0.6h-0.6zM334.4 331.0h0.6v0.6h-0.6zM323.0 324.3h0.6v0.6h-0.6zM321.5 326.9h0.6v0.6h-0.6zM319.9 331.4h0.6v0.6h-0.6zM327.2 342.4h0.6v0.6h-0.6zM316.6 328.2h0.6v0.6h-0.6zM313.6 329.0h0.6v0.6h-0.6zM322.7 333.7h0.6v0.6h-0.6zM304.6 332.5h0.6v0.6h-0.6zM333.1 329.1h0.6v0.6h-0.6zM318.5 330.8h0.6v0.6h-0.6zM331.7 330.3h0.6v0.6h-0.6zM324.3 330.5h0.6v0.6h-0.6zM314.1 330.8h0.6v0.6h-0.6zM332.3 331.0h0.6v0.6h-0.6zM313.5 329.9h0.6v0.6h-0.6zM324.7 331.5h0.6v0.6h-0.6zM321.3 333.1h0.6v0.6h-0.6zM337.7 333.9h0.6v0.6h-0.6zM328.3 334.7h0.6v0.6h-0.6zM325.6 329.9h0.6v0.6h-0.6zM310.4 329.7h0.6v0.6h-0.6zM339.4 328.0h0.6v0.6h-0.6zM334.7 326.7h0.6v0.6h-0.6zM328.9 336.8h0.6v0.6h-0.6zM326.7 326.6h0.6v0.6h-0.6zM329.1 330.2h0.6v0.6h-0.6zM334.7 329.2h0.6v0.6h-0.6zM307.2 327.9h0.6v0.6h-0.6zM332.2 334.3h0.6v0.6h-0.6zM329.0 330.7h0.6v0.6h-0.6zM333.5 330.2h0.6v0.6h-0.6zM321.0 331.0h0.6v0.6h-0.6zM338.0 329.5h0.6v0.6h-0.6zM331.5 328.6h0.6v0.6h-0.6zM317.9 330.7h0.6v0.6h-0.6zM311.6 326.9h0.6v0.6h-0.6zM313.1 327.8h0.6v0.6h-0.6zM315.6 337.8h0.6v0.6h-0.6zM332.6 331.1h0.6v0.6h-0.6zM311.8 321.8h0.6v0.6h-0.6zM330.9 328.7h0.6v0.6h-0.6zM337.4 329.8h0.6v0.6h-0.6zM311.8 327.6h0.6v0.6h-0.6zM309.5 324.9h0.6v0.6h-0.6zM333.8 329.1h0.6v0.6h-0.6zM333.6 329.0h0.6v0.6h-0.6zM323.5 328.5h0.6v0.6h-0.6zM320.1 328.0h0.6v0.6h-0.6zM342.2 331.2h0.6v0.6h-0.6zM304.4 335.0h0.6v0.6h-0.6zM339.4 334.9h0.6v0.6h-0.6zM324.8 329.9h0.6v0.6h-0.6zM320.7 330.6h0.6v0.6h-0.6zM331.0 330.8h0.6v0.6h-0.6zM317.1 326.8h0.6v0.6h-0.6zM343.8 337.1h0.6v0.6h-0.6zM312.5 327.7h0.6v0.6h-0.6zM325.4 332.4h0.6v0.6h-0.6zM324.6 331.2h0.6v0.6h-0.6zM329.7 334.5h0.6v0.6h-0.6zM311.5 333.4h0.6v0.6h-0.6zM330.6 332.5h0.6v0.6h-0.6zM309.5 328.9h0.6v0.6h-0.6zM322.9 332.5h0.6v0.6h-0.6zM333.3 333.2h0.6v0.6h-0.6zM311.5 333.9h0.6v0.6h-0.6zM326.5 333.6h0.6v0.6h-0.6zM325.9 328.2h0.6v0.6h-0.6zM354.4 334.2h0.6v0.6h-0.6zM334.3 329.4h0.6v0.6h-0.6zM323.3 334.1h0.6v0.6h-0.6zM330.5 336.5h0.6v0.6h-0.6zM339.2 327.6h0.6v0.6h-0.6zM308.8 333.5h0.6v0.6h-0.6zM332.5 330.0h0.6v0.6h-0.6zM322.8 328.5h0.6v0.6h-0.6zM345.5 331.0h0.6v0.6h-0.6zM310.6 332.7h0.6v0.6h-0.6zM324.9 331.6h0.6v0.6h-0.6zM321.7 330.2h0.6v0.6h-0.6zM305.2 331.2h0.6v0.6h-0.6zM318.4 328.9h0.6v0.6h-0.6zM329.1 334.9h0.6v0.6h-0.6zM302.3 328.8h0.6v0.6h-0.6zM331.7 334.2h0.6v0.6h-0.6zM315.8 331.0h0.6v0.6h-0.6zM330.1 333.8h0.6v0.6h-0.6zM319.1 329.5h0.6v0.6h-0.6zM320.0 334.0h0.6v0.6h-0.6zM337.8 329.7h0.6v0.6h-0.6zM324.3 331.2h0.6v0.6h-0.6zM316.0 329.6h0.6v0.6h-0.6zM335.2 333.5h0.6v0.6h-0.6zM318.5 328.0h0.6v0.6h-0.6zM324.8 325.6h0.6v0.6h-0.6zM329.2 331.1h0.6v0.6h-0.6zM311.3 329.0h0.6v0.6h-0.6zM318.6 329.3h0.6v0.6h-0.6zM316.0 334.5h0.6v0.6h-0.6zM315.1 332.5h0.6v0.6h-0.6zM327.8 335.3h0.6v0.6h-0.6zM325.2 330.5h0.6v0.6h-0.6zM326.9 324.4h0.6v0.6h-0.6zM352.2 331.2h0.6v0.6h-0.6zM322.5 326.7h0.6v0.6h-0.6zM324.0 335.7h0.6v0.6h-0.6zM317.5 331.5h0.6v0.6h-0.6zM337.0 334.2h0.6v0.6h-0.6zM321.7 324.6h0.6v0.6h-0.6zM330.2 332.6h0.6v0.6h-0.6zM322.3 328.9h0.6v0.6h-0.6zM345.3 326.4h0.6v0.6h-0.6zM320.3 328.3h0.6v0.6h-0.6zM308.8 327.4h0.6v0.6h-0.6zM316.9 334.1h0.6v0.6h-0.6zM306.9 325.1h0.6v0.6h-0.6zM328.9 325.7h0.6v0.6h-0.6zM303.9 327.4h0.6v0.6h-0.6zM312.7 326.7h0.6v0.6h-0.6zM324.0 331.9h0.6v0.6h-0.6zM318.8 329.3h0.6v0.6h-0.6zM333.7 330.4h0.6v0.6h-0.6zM333.9 329.0h0.6v0.6h-0.6zM330.9 334.9h0.6v0.6h-0.6zM310.1 339.4h0.6v0.6h-0.6zM322.3 329.2h0.6v0.6h-0.6zM323.9 331.9h0.6v0.6h-0.6zM312.5 330.0h0.6v0.6h-0.6zM319.2 334.8h0.6v0.6h-0.6zM306.8 331.6h0.6v0.6h-0.6zM322.5 327.9h0.6v0.6h-0.6zM327.3 329.8h0.6v0.6h-0.6zM326.2 331.3h0.6v0.6h-0.6zM339.0 329.9h0.6v0.6h-0.6zM344.6 322.8h0.6v0.6h-0.6zM345.6 335.5h0.6v0.6h-0.6zM342.9 332.1h0.6v0.6h-0.6zM329.1 327.4h0.6v0.6h-0.6zM340.6 327.6h0.6v0.6h-0.6zM317.1 330.1h0.6v0.6h-0.6zM328.3 331.8h0.6v0.6h-0.6zM313.1 328.8h0.6v0.6h-0.6zM331.0 334.6h0.6v0.6h-0.6zM334.1 332.3h0.6v0.6h-0.6zM323.0 328.6h0.6v0.6h-0.6zM320.2 329.9h0.6v0.6h-0.6zM331.7 329.2h0.6v0.6h-0.6zM348.5 328.5h0.6v0.6h-0.6zM334.8 330.3h0.6v0.6h-0.6zM324.3 329.2h0.6v0.6h-0.6zM342.7 330.5h0.6v0.6h-0.6zM331.8 331.2h0.6v0.6h-0.6zM333.9 332.9h0.6v0.6h-0.6zM344.0 329.1h0.6v0.6h-0.6zM316.5 335.5h0.6v0.6h-0.6zM339.7 331.5h0.6v0.6h-0.6zM322.6 331.2h0.6v0.6h-0.6zM340.2 328.8h0.6v0.6h-0.6zM341.7 331.2h0.6v0.6h-0.6zM321.9 329.1h0.6v0.6h-0.6zM302.8 330.4h0.6v0.6h-0.6zM311.5 328.0h0.6v0.6h-0.6zM315.9 330.8h0.6v0.6h-0.6zM333.7 331.1h0.6v0.6h-0.6zM327.8 332.0h0.6v0.6h-0.6zM343.3 333.3h0.6v0.6h-0.6zM343.0 331.2h0.6v0.6h-0.6zM329.8 328.7h0.6v0.6h-0.6zM332.4 328.1h0.6v0.6h-0.6zM331.1 328.8h0.6v0.6h-0.6zM321.7 334.2h0.6v0.6h-0.6zM327.3 333.2h0.6v0.6h-0.6zM323.5 324.4h0.6v0.6h-0.6zM342.0 330.8h0.6v0.6h-0.6zM318.5 333.2h0.6v0.6h-0.6zM313.5 327.5h0.6v0.6h-0.6zM338.5 329.0h0.6v0.6h-0.6zM338.2 330.2h0.6v0.6h-0.6zM323.5 330.6h0.6v0.6h-0.6zM320.2 333.7h0.6v0.6h-0.6zM337.8 331.4h0.6v0.6h-0.6zM332.4 332.6h0.6v0.6h-0.6zM344.5 326.4h0.6v0.6h-0.6zM336.9 334.1h0.6v0.6h-0.6zM322.4 330.4h0.6v0.6h-0.6zM321.8 334.3h0.6v0.6h-0.6zM313.2 331.8h0.6v0.6h-0.6zM339.8 333.1h0.6v0.6h-0.6z" fill="#a8501f" opacity="0.75"/>
<path d="M324.3 329.8h0.5v0.5h-0.5zM349.6 329.3h0.5v0.5h-0.5zM305.8 329.4h0.5v0.5h-0.5zM307.8 333.6h0.5v0.5h-0.5zM317.4 337.2h0.5v0.5h-0.5zM330.5 324.9h0.5v0.5h-0.5zM319.8 328.4h0.5v0.5h-0.5zM317.7 338.9h0.5v0.5h-0.5zM315.6 333.7h0.5v0.5h-0.5zM322.1 335.6h0.5v0.5h-0.5zM309.8 322.3h0.5v0.5h-0.5zM339.1 341.8h0.5v0.5h-0.5zM309.9 329.4h0.5v0.5h-0.5zM324.1 327.1h0.5v0.5h-0.5zM347.1 334.7h0.5v0.5h-0.5zM309.8 329.9h0.5v0.5h-0.5zM353.2 330.9h0.5v0.5h-0.5zM323.9 327.7h0.5v0.5h-0.5zM334.6 330.2h0.5v0.5h-0.5zM346.3 329.6h0.5v0.5h-0.5zM308.3 333.6h0.5v0.5h-0.5zM336.1 334.9h0.5v0.5h-0.5zM322.8 329.8h0.5v0.5h-0.5zM338.2 354.8h0.5v0.5h-0.5zM319.0 331.0h0.5v0.5h-0.5zM324.2 335.6h0.5v0.5h-0.5zM331.6 336.2h0.5v0.5h-0.5zM357.8 333.8h0.5v0.5h-0.5zM326.9 334.8h0.5v0.5h-0.5zM365.3 334.0h0.5v0.5h-0.5zM358.0 342.1h0.5v0.5h-0.5zM315.9 333.9h0.5v0.5h-0.5zM352.8 335.2h0.5v0.5h-0.5zM333.3 345.5h0.5v0.5h-0.5zM336.3 345.7h0.5v0.5h-0.5zM316.7 341.1h0.5v0.5h-0.5zM324.9 318.7h0.5v0.5h-0.5zM318.8 329.3h0.5v0.5h-0.5zM330.7 337.3h0.5v0.5h-0.5zM342.4 337.0h0.5v0.5h-0.5zM319.0 342.1h0.5v0.5h-0.5zM350.8 335.0h0.5v0.5h-0.5zM322.7 332.0h0.5v0.5h-0.5zM328.6 328.8h0.5v0.5h-0.5zM331.9 329.3h0.5v0.5h-0.5zM342.3 330.3h0.5v0.5h-0.5zM339.4 335.6h0.5v0.5h-0.5zM334.1 336.3h0.5v0.5h-0.5zM314.2 346.2h0.5v0.5h-0.5zM320.4 336.3h0.5v0.5h-0.5zM332.3 330.7h0.5v0.5h-0.5zM358.9 341.7h0.5v0.5h-0.5zM327.1 335.9h0.5v0.5h-0.5zM341.9 342.9h0.5v0.5h-0.5zM348.0 333.5h0.5v0.5h-0.5zM328.3 326.2h0.5v0.5h-0.5zM335.5 338.3h0.5v0.5h-0.5zM325.2 336.3h0.5v0.5h-0.5zM334.1 330.7h0.5v0.5h-0.5zM311.8 337.7h0.5v0.5h-0.5zM371.9 339.7h0.5v0.5h-0.5zM315.1 325.7h0.5v0.5h-0.5zM335.5 337.1h0.5v0.5h-0.5zM357.2 321.6h0.5v0.5h-0.5zM361.2 336.6h0.5v0.5h-0.5zM333.8 335.4h0.5v0.5h-0.5zM326.3 331.0h0.5v0.5h-0.5zM349.4 324.8h0.5v0.5h-0.5zM329.7 336.1h0.5v0.5h-0.5zM305.6 329.9h0.5v0.5h-0.5zM356.0 337.3h0.5v0.5h-0.5zM342.7 338.1h0.5v0.5h-0.5zM335.2 335.4h0.5v0.5h-0.5zM319.0 330.8h0.5v0.5h-0.5zM361.9 328.7h0.5v0.5h-0.5zM329.8 325.7h0.5v0.5h-0.5zM323.7 328.0h0.5v0.5h-0.5zM312.2 332.7h0.5v0.5h-0.5zM316.5 334.8h0.5v0.5h-0.5zM361.9 321.1h0.5v0.5h-0.5zM330.2 321.0h0.5v0.5h-0.5zM329.7 335.0h0.5v0.5h-0.5zM334.6 340.2h0.5v0.5h-0.5zM335.2 323.5h0.5v0.5h-0.5zM356.3 329.8h0.5v0.5h-0.5zM330.2 334.8h0.5v0.5h-0.5zM317.8 332.4h0.5v0.5h-0.5zM356.5 325.6h0.5v0.5h-0.5zM305.5 328.2h0.5v0.5h-0.5zM329.8 325.6h0.5v0.5h-0.5zM338.8 326.1h0.5v0.5h-0.5zM341.0 333.5h0.5v0.5h-0.5zM335.1 325.7h0.5v0.5h-0.5zM328.1 335.5h0.5v0.5h-0.5zM304.5 324.7h0.5v0.5h-0.5zM346.3 345.8h0.5v0.5h-0.5zM342.5 333.6h0.5v0.5h-0.5zM314.8 329.3h0.5v0.5h-0.5zM327.7 335.2h0.5v0.5h-0.5zM326.6 346.8h0.5v0.5h-0.5zM354.1 322.4h0.5v0.5h-0.5zM313.2 331.4h0.5v0.5h-0.5zM347.4 336.7h0.5v0.5h-0.5zM353.1 338.3h0.5v0.5h-0.5zM372.4 341.2h0.5v0.5h-0.5zM338.5 342.4h0.5v0.5h-0.5zM325.1 329.3h0.5v0.5h-0.5zM315.6 333.1h0.5v0.5h-0.5zM338.5 339.0h0.5v0.5h-0.5zM354.7 338.7h0.5v0.5h-0.5zM351.7 333.4h0.5v0.5h-0.5zM316.2 335.9h0.5v0.5h-0.5zM347.4 342.1h0.5v0.5h-0.5zM329.5 330.2h0.5v0.5h-0.5zM325.9 334.6h0.5v0.5h-0.5zM331.2 331.9h0.5v0.5h-0.5zM336.1 331.8h0.5v0.5h-0.5zM337.6 330.1h0.5v0.5h-0.5zM307.4 329.1h0.5v0.5h-0.5zM362.5 331.1h0.5v0.5h-0.5zM345.9 342.0h0.5v0.5h-0.5zM323.1 333.8h0.5v0.5h-0.5zM356.4 336.3h0.5v0.5h-0.5zM320.0 332.7h0.5v0.5h-0.5zM336.7 331.1h0.5v0.5h-0.5zM327.4 327.9h0.5v0.5h-0.5zM341.0 335.0h0.5v0.5h-0.5zM337.7 330.7h0.5v0.5h-0.5zM340.0 332.0h0.5v0.5h-0.5zM336.8 332.6h0.5v0.5h-0.5zM321.9 325.9h0.5v0.5h-0.5zM302.9 322.6h0.5v0.5h-0.5zM337.7 352.4h0.5v0.5h-0.5zM306.1 326.1h0.5v0.5h-0.5zM330.0 353.5h0.5v0.5h-0.5zM329.3 326.1h0.5v0.5h-0.5zM337.6 345.6h0.5v0.5h-0.5zM352.3 328.1h0.5v0.5h-0.5zM330.6 329.3h0.5v0.5h-0.5zM344.9 325.8h0.5v0.5h-0.5zM336.8 334.7h0.5v0.5h-0.5zM340.8 336.3h0.5v0.5h-0.5zM335.3 323.0h0.5v0.5h-0.5zM327.3 327.2h0.5v0.5h-0.5zM340.6 332.4h0.5v0.5h-0.5zM333.9 339.6h0.5v0.5h-0.5zM329.4 342.6h0.5v0.5h-0.5zM346.1 325.7h0.5v0.5h-0.5zM322.0 339.2h0.5v0.5h-0.5zM323.4 339.2h0.5v0.5h-0.5zM323.1 331.5h0.5v0.5h-0.5zM349.2 325.4h0.5v0.5h-0.5zM333.4 330.5h0.5v0.5h-0.5zM333.8 343.1h0.5v0.5h-0.5zM340.5 325.9h0.5v0.5h-0.5zM347.6 331.8h0.5v0.5h-0.5zM334.0 339.9h0.5v0.5h-0.5zM326.6 338.1h0.5v0.5h-0.5zM335.3 328.1h0.5v0.5h-0.5zM327.7 324.8h0.5v0.5h-0.5zM350.8 335.6h0.5v0.5h-0.5zM348.0 328.0h0.5v0.5h-0.5zM346.1 327.3h0.5v0.5h-0.5zM336.5 333.3h0.5v0.5h-0.5zM322.4 334.0h0.5v0.5h-0.5zM333.0 328.1h0.5v0.5h-0.5zM320.8 324.5h0.5v0.5h-0.5zM353.8 335.8h0.5v0.5h-0.5zM325.8 336.5h0.5v0.5h-0.5zM318.8 325.1h0.5v0.5h-0.5zM336.9 342.7h0.5v0.5h-0.5zM336.7 334.3h0.5v0.5h-0.5zM360.6 326.5h0.5v0.5h-0.5zM331.5 325.2h0.5v0.5h-0.5zM312.7 329.9h0.5v0.5h-0.5zM371.5 331.0h0.5v0.5h-0.5zM322.0 333.7h0.5v0.5h-0.5zM315.9 330.1h0.5v0.5h-0.5zM346.2 321.6h0.5v0.5h-0.5zM327.3 330.9h0.5v0.5h-0.5zM323.9 331.6h0.5v0.5h-0.5zM303.5 328.0h0.5v0.5h-0.5zM324.2 326.3h0.5v0.5h-0.5zM351.1 346.3h0.5v0.5h-0.5zM345.2 329.1h0.5v0.5h-0.5zM354.4 337.9h0.5v0.5h-0.5zM318.7 335.4h0.5v0.5h-0.5zM322.5 335.5h0.5v0.5h-0.5zM346.1 341.0h0.5v0.5h-0.5zM315.3 330.8h0.5v0.5h-0.5zM332.7 325.9h0.5v0.5h-0.5zM338.3 337.6h0.5v0.5h-0.5zM310.2 327.9h0.5v0.5h-0.5zM315.0 324.1h0.5v0.5h-0.5zM314.3 339.5h0.5v0.5h-0.5zM321.6 329.8h0.5v0.5h-0.5zM347.3 340.3h0.5v0.5h-0.5zM355.5 322.9h0.5v0.5h-0.5zM344.9 323.9h0.5v0.5h-0.5zM322.1 329.7h0.5v0.5h-0.5zM321.9 343.6h0.5v0.5h-0.5zM328.7 339.6h0.5v0.5h-0.5zM329.2 332.4h0.5v0.5h-0.5zM339.9 336.3h0.5v0.5h-0.5zM340.9 323.6h0.5v0.5h-0.5zM339.9 335.6h0.5v0.5h-0.5zM341.6 333.5h0.5v0.5h-0.5zM339.2 326.0h0.5v0.5h-0.5zM350.7 327.5h0.5v0.5h-0.5zM353.8 340.8h0.5v0.5h-0.5zM331.1 331.2h0.5v0.5h-0.5zM344.5 332.3h0.5v0.5h-0.5zM312.9 333.0h0.5v0.5h-0.5zM312.8 328.7h0.5v0.5h-0.5zM360.2 340.2h0.5v0.5h-0.5zM324.9 332.0h0.5v0.5h-0.5zM321.7 332.0h0.5v0.5h-0.5zM308.6 334.9h0.5v0.5h-0.5zM332.5 329.5h0.5v0.5h-0.5zM320.8 347.4h0.5v0.5h-0.5zM325.2 329.6h0.5v0.5h-0.5zM323.0 329.3h0.5v0.5h-0.5zM352.5 338.8h0.5v0.5h-0.5zM338.5 335.7h0.5v0.5h-0.5zM315.1 317.4h0.5v0.5h-0.5zM355.7 339.3h0.5v0.5h-0.5zM335.3 334.9h0.5v0.5h-0.5zM335.2 333.4h0.5v0.5h-0.5zM329.0 319.7h0.5v0.5h-0.5zM341.0 334.1h0.5v0.5h-0.5zM347.4 336.2h0.5v0.5h-0.5zM327.1 336.1h0.5v0.5h-0.5zM335.2 330.7h0.5v0.5h-0.5zM326.2 330.0h0.5v0.5h-0.5zM327.5 330.0h0.5v0.5h-0.5zM346.2 351.3h0.5v0.5h-0.5zM329.6 339.4h0.5v0.5h-0.5zM302.2 311.5h0.5v0.5h-0.5zM324.5 331.4h0.5v0.5h-0.5zM320.9 324.1h0.5v0.5h-0.5zM318.7 328.8h0.5v0.5h-0.5zM334.6 331.3h0.5v0.5h-0.5zM313.1 329.2h0.5v0.5h-0.5zM356.6 330.0h0.5v0.5h-0.5zM332.5 339.0h0.5v0.5h-0.5zM319.5 328.6h0.5v0.5h-0.5zM377.5 344.2h0.5v0.5h-0.5zM323.5 333.2h0.5v0.5h-0.5zM333.5 334.0h0.5v0.5h-0.5zM339.6 331.9h0.5v0.5h-0.5zM335.1 325.3h0.5v0.5h-0.5zM326.1 341.3h0.5v0.5h-0.5zM336.1 329.5h0.5v0.5h-0.5zM333.7 339.3h0.5v0.5h-0.5zM305.3 323.3h0.5v0.5h-0.5zM321.7 329.5h0.5v0.5h-0.5zM330.9 329.5h0.5v0.5h-0.5zM333.7 333.7h0.5v0.5h-0.5zM313.7 327.7h0.5v0.5h-0.5zM312.1 332.9h0.5v0.5h-0.5zM335.8 337.2h0.5v0.5h-0.5zM318.3 328.7h0.5v0.5h-0.5zM306.1 332.8h0.5v0.5h-0.5zM349.0 337.1h0.5v0.5h-0.5zM341.9 335.2h0.5v0.5h-0.5zM337.4 339.0h0.5v0.5h-0.5zM351.1 346.5h0.5v0.5h-0.5zM327.3 337.5h0.5v0.5h-0.5zM345.6 336.7h0.5v0.5h-0.5zM336.9 326.0h0.5v0.5h-0.5zM349.8 329.4h0.5v0.5h-0.5zM322.0 327.1h0.5v0.5h-0.5zM341.4 328.2h0.5v0.5h-0.5zM339.0 336.9h0.5v0.5h-0.5zM333.8 331.2h0.5v0.5h-0.5zM340.8 341.4h0.5v0.5h-0.5zM325.2 326.3h0.5v0.5h-0.5zM322.9 327.1h0.5v0.5h-0.5zM328.3 331.8h0.5v0.5h-0.5zM319.3 329.4h0.5v0.5h-0.5zM315.7 332.9h0.5v0.5h-0.5zM346.4 323.7h0.5v0.5h-0.5zM334.8 342.1h0.5v0.5h-0.5zM327.0 337.9h0.5v0.5h-0.5zM337.4 328.1h0.5v0.5h-0.5zM348.1 330.8h0.5v0.5h-0.5zM337.8 331.2h0.5v0.5h-0.5zM328.5 333.6h0.5v0.5h-0.5zM353.9 325.1h0.5v0.5h-0.5zM314.2 332.0h0.5v0.5h-0.5zM347.6 333.3h0.5v0.5h-0.5zM328.7 335.8h0.5v0.5h-0.5zM357.5 329.9h0.5v0.5h-0.5zM306.7 329.1h0.5v0.5h-0.5zM344.8 326.4h0.5v0.5h-0.5zM349.4 340.0h0.5v0.5h-0.5zM345.0 329.2h0.5v0.5h-0.5zM311.1 335.0h0.5v0.5h-0.5zM335.8 337.3h0.5v0.5h-0.5zM312.1 314.0h0.5v0.5h-0.5z" fill="#c8784c" opacity="0.6"/>
<path d="M340.5 330.5h0.5v0.5h-0.5zM342.1 334.7h0.5v0.5h-0.5zM355.8 343.8h0.5v0.5h-0.5zM352.7 330.8h0.5v0.5h-0.5zM358.1 347.3h0.5v0.5h-0.5zM348.3 339.2h0.5v0.5h-0.5zM348.0 341.8h0.5v0.5h-0.5zM355.7 340.2h0.5v0.5h-0.5zM359.1 349.3h0.5v0.5h-0.5zM356.5 343.5h0.5v0.5h-0.5zM351.0 337.3h0.5v0.5h-0.5zM351.2 337.2h0.5v0.5h-0.5zM346.1 336.2h0.5v0.5h-0.5zM352.9 335.6h0.5v0.5h-0.5zM346.1 335.9h0.5v0.5h-0.5zM340.1 332.8h0.5v0.5h-0.5zM350.4 329.5h0.5v0.5h-0.5zM345.4 337.2h0.5v0.5h-0.5zM352.4 342.5h0.5v0.5h-0.5zM340.8 333.6h0.5v0.5h-0.5zM355.5 343.4h0.5v0.5h-0.5zM358.9 344.1h0.5v0.5h-0.5zM343.7 329.2h0.5v0.5h-0.5zM346.3 334.3h0.5v0.5h-0.5zM349.3 334.8h0.5v0.5h-0.5zM343.1 333.5h0.5v0.5h-0.5zM361.0 343.7h0.5v0.5h-0.5zM339.6 331.2h0.5v0.5h-0.5zM362.4 341.9h0.5v0.5h-0.5zM356.5 337.3h0.5v0.5h-0.5zM347.5 336.8h0.5v0.5h-0.5zM345.8 344.7h0.5v0.5h-0.5zM351.2 344.4h0.5v0.5h-0.5zM351.4 339.9h0.5v0.5h-0.5zM344.3 339.8h0.5v0.5h-0.5zM354.8 341.2h0.5v0.5h-0.5zM354.1 342.7h0.5v0.5h-0.5zM351.7 337.0h0.5v0.5h-0.5zM352.6 344.0h0.5v0.5h-0.5zM340.0 336.4h0.5v0.5h-0.5zM342.5 333.4h0.5v0.5h-0.5zM350.6 348.0h0.5v0.5h-0.5zM350.3 336.7h0.5v0.5h-0.5zM349.4 333.3h0.5v0.5h-0.5zM346.4 334.3h0.5v0.5h-0.5zM348.1 340.7h0.5v0.5h-0.5zM353.1 340.5h0.5v0.5h-0.5zM351.7 340.0h0.5v0.5h-0.5zM346.5 342.3h0.5v0.5h-0.5zM358.4 344.0h0.5v0.5h-0.5zM353.0 340.5h0.5v0.5h-0.5zM345.1 337.9h0.5v0.5h-0.5zM345.9 337.2h0.5v0.5h-0.5zM352.0 334.2h0.5v0.5h-0.5zM341.2 328.3h0.5v0.5h-0.5zM351.3 336.0h0.5v0.5h-0.5zM342.6 336.4h0.5v0.5h-0.5zM362.2 340.9h0.5v0.5h-0.5zM358.9 341.1h0.5v0.5h-0.5zM341.3 334.4h0.5v0.5h-0.5zM344.1 335.6h0.5v0.5h-0.5zM339.3 338.4h0.5v0.5h-0.5zM339.0 335.1h0.5v0.5h-0.5zM339.8 328.5h0.5v0.5h-0.5zM344.7 329.0h0.5v0.5h-0.5zM345.8 332.5h0.5v0.5h-0.5zM352.9 341.6h0.5v0.5h-0.5zM353.7 340.0h0.5v0.5h-0.5zM338.4 331.3h0.5v0.5h-0.5zM349.5 334.0h0.5v0.5h-0.5zM340.8 329.1h0.5v0.5h-0.5zM354.6 339.0h0.5v0.5h-0.5zM355.4 342.0h0.5v0.5h-0.5zM342.8 337.7h0.5v0.5h-0.5zM341.9 332.7h0.5v0.5h-0.5zM344.5 335.2h0.5v0.5h-0.5zM348.3 332.1h0.5v0.5h-0.5zM350.0 341.6h0.5v0.5h-0.5zM360.1 345.7h0.5v0.5h-0.5zM350.2 337.8h0.5v0.5h-0.5zM352.3 340.1h0.5v0.5h-0.5zM357.1 341.2h0.5v0.5h-0.5zM345.5 339.0h0.5v0.5h-0.5zM354.2 342.0h0.5v0.5h-0.5zM349.8 343.8h0.5v0.5h-0.5zM352.8 338.4h0.5v0.5h-0.5zM355.4 346.5h0.5v0.5h-0.5zM346.2 337.4h0.5v0.5h-0.5zM343.1 339.7h0.5v0.5h-0.5zM344.6 338.3h0.5v0.5h-0.5zM349.9 338.2h0.5v0.5h-0.5zM351.3 333.8h0.5v0.5h-0.5zM344.1 336.6h0.5v0.5h-0.5zM342.0 333.1h0.5v0.5h-0.5zM358.3 346.5h0.5v0.5h-0.5zM349.7 335.7h0.5v0.5h-0.5zM345.9 336.7h0.5v0.5h-0.5zM354.1 344.9h0.5v0.5h-0.5zM342.4 335.0h0.5v0.5h-0.5zM348.1 337.8h0.5v0.5h-0.5zM349.9 340.6h0.5v0.5h-0.5zM360.3 345.3h0.5v0.5h-0.5zM348.2 337.0h0.5v0.5h-0.5zM348.0 336.0h0.5v0.5h-0.5zM351.0 334.8h0.5v0.5h-0.5zM350.1 343.4h0.5v0.5h-0.5zM359.0 350.9h0.5v0.5h-0.5zM346.8 337.3h0.5v0.5h-0.5zM345.0 337.4h0.5v0.5h-0.5zM359.0 342.8h0.5v0.5h-0.5zM354.8 347.0h0.5v0.5h-0.5zM346.9 332.8h0.5v0.5h-0.5zM352.8 336.8h0.5v0.5h-0.5zM349.0 335.6h0.5v0.5h-0.5zM351.0 341.7h0.5v0.5h-0.5zM348.4 334.4h0.5v0.5h-0.5zM341.9 335.9h0.5v0.5h-0.5zM356.7 338.7h0.5v0.5h-0.5zM344.4 325.0h0.5v0.5h-0.5zM357.7 341.6h0.5v0.5h-0.5zM350.5 335.9h0.5v0.5h-0.5zM355.5 339.6h0.5v0.5h-0.5zM349.6 338.8h0.5v0.5h-0.5zM342.1 332.5h0.5v0.5h-0.5zM354.7 341.0h0.5v0.5h-0.5zM341.3 338.1h0.5v0.5h-0.5zM339.8 331.2h0.5v0.5h-0.5zM343.2 338.4h0.5v0.5h-0.5zM356.4 341.3h0.5v0.5h-0.5zM344.2 330.1h0.5v0.5h-0.5zM358.0 343.3h0.5v0.5h-0.5zM347.9 340.3h0.5v0.5h-0.5zM349.8 331.1h0.5v0.5h-0.5zM351.5 334.6h0.5v0.5h-0.5zM352.8 332.2h0.5v0.5h-0.5zM351.9 345.5h0.5v0.5h-0.5zM353.5 345.6h0.5v0.5h-0.5zM344.8 337.7h0.5v0.5h-0.5zM345.2 333.3h0.5v0.5h-0.5zM353.9 343.2h0.5v0.5h-0.5zM353.3 343.4h0.5v0.5h-0.5zM343.0 338.6h0.5v0.5h-0.5zM351.0 343.0h0.5v0.5h-0.5zM353.7 342.2h0.5v0.5h-0.5zM355.9 338.9h0.5v0.5h-0.5zM349.4 333.9h0.5v0.5h-0.5zM343.9 335.7h0.5v0.5h-0.5zM356.4 348.2h0.5v0.5h-0.5zM355.0 338.2h0.5v0.5h-0.5zM348.8 336.3h0.5v0.5h-0.5zM335.1 331.6h0.5v0.5h-0.5zM339.4 335.4h0.5v0.5h-0.5zM344.2 338.0h0.5v0.5h-0.5zM344.7 336.2h0.5v0.5h-0.5zM359.9 344.2h0.5v0.5h-0.5zM350.8 340.4h0.5v0.5h-0.5zM344.7 335.0h0.5v0.5h-0.5zM358.6 348.1h0.5v0.5h-0.5zM360.0 346.5h0.5v0.5h-0.5zM348.4 341.0h0.5v0.5h-0.5zM354.6 339.2h0.5v0.5h-0.5zM336.8 336.8h0.5v0.5h-0.5zM350.8 338.9h0.5v0.5h-0.5zM343.0 337.3h0.5v0.5h-0.5zM353.2 340.5h0.5v0.5h-0.5zM345.6 328.5h0.5v0.5h-0.5zM357.8 347.2h0.5v0.5h-0.5zM340.5 331.2h0.5v0.5h-0.5zM358.7 341.0h0.5v0.5h-0.5zM360.5 340.0h0.5v0.5h-0.5zM350.8 339.2h0.5v0.5h-0.5zM355.8 344.1h0.5v0.5h-0.5zM345.4 335.6h0.5v0.5h-0.5zM350.5 345.0h0.5v0.5h-0.5zM342.4 335.2h0.5v0.5h-0.5zM348.7 334.4h0.5v0.5h-0.5zM355.8 350.8h0.5v0.5h-0.5zM360.0 344.1h0.5v0.5h-0.5zM344.2 334.8h0.5v0.5h-0.5zM357.2 342.9h0.5v0.5h-0.5z" fill="#cc7a58" opacity="0.7"/>
<path d="M321.0 360.8h0.5v0.5h-0.5zM306.2 360.5h0.5v0.5h-0.5zM350.0 346.1h0.5v0.5h-0.5zM323.4 361.2h0.5v0.5h-0.5zM318.7 364.8h0.5v0.5h-0.5zM351.8 343.6h0.5v0.5h-0.5zM326.6 341.0h0.5v0.5h-0.5zM330.8 349.4h0.5v0.5h-0.5zM350.7 360.7h0.5v0.5h-0.5zM351.6 363.6h0.5v0.5h-0.5zM343.6 349.0h0.5v0.5h-0.5zM335.9 339.8h0.5v0.5h-0.5zM320.7 367.3h0.5v0.5h-0.5zM351.0 341.9h0.5v0.5h-0.5zM327.7 349.8h0.5v0.5h-0.5zM333.8 356.2h0.5v0.5h-0.5zM316.5 365.9h0.5v0.5h-0.5zM325.6 362.4h0.5v0.5h-0.5zM338.7 369.3h0.5v0.5h-0.5zM328.7 356.0h0.5v0.5h-0.5zM341.1 343.8h0.5v0.5h-0.5zM306.2 363.6h0.5v0.5h-0.5zM337.3 361.5h0.5v0.5h-0.5zM342.4 342.8h0.5v0.5h-0.5zM346.1 357.8h0.5v0.5h-0.5zM349.3 354.9h0.5v0.5h-0.5zM345.5 337.9h0.5v0.5h-0.5zM311.9 354.8h0.5v0.5h-0.5zM336.0 349.1h0.5v0.5h-0.5zM307.5 366.1h0.5v0.5h-0.5zM307.4 366.2h0.5v0.5h-0.5zM315.2 360.0h0.5v0.5h-0.5zM332.5 344.0h0.5v0.5h-0.5zM319.8 344.2h0.5v0.5h-0.5zM329.6 345.4h0.5v0.5h-0.5zM330.1 345.6h0.5v0.5h-0.5zM309.8 359.7h0.5v0.5h-0.5zM316.6 368.3h0.5v0.5h-0.5zM323.4 344.9h0.5v0.5h-0.5zM338.5 366.6h0.5v0.5h-0.5zM321.8 360.9h0.5v0.5h-0.5zM319.9 369.8h0.5v0.5h-0.5zM318.4 337.2h0.5v0.5h-0.5zM304.2 354.5h0.5v0.5h-0.5zM334.0 345.7h0.5v0.5h-0.5zM323.9 349.9h0.5v0.5h-0.5zM321.4 342.4h0.5v0.5h-0.5zM330.1 358.7h0.5v0.5h-0.5zM305.3 366.0h0.5v0.5h-0.5zM316.5 352.2h0.5v0.5h-0.5zM314.5 358.9h0.5v0.5h-0.5zM323.5 355.8h0.5v0.5h-0.5zM323.6 353.3h0.5v0.5h-0.5zM308.2 369.4h0.5v0.5h-0.5zM324.4 347.3h0.5v0.5h-0.5zM344.6 346.0h0.5v0.5h-0.5zM342.0 350.4h0.5v0.5h-0.5zM309.6 355.5h0.5v0.5h-0.5zM317.5 342.8h0.5v0.5h-0.5zM351.5 367.9h0.5v0.5h-0.5zM326.6 363.5h0.5v0.5h-0.5zM336.2 346.3h0.5v0.5h-0.5zM310.2 355.8h0.5v0.5h-0.5zM313.2 361.7h0.5v0.5h-0.5zM332.6 343.5h0.5v0.5h-0.5zM341.3 368.9h0.5v0.5h-0.5zM327.0 369.0h0.5v0.5h-0.5zM325.6 336.6h0.5v0.5h-0.5zM326.2 348.0h0.5v0.5h-0.5zM348.0 353.8h0.5v0.5h-0.5zM350.1 341.5h0.5v0.5h-0.5zM322.4 336.5h0.5v0.5h-0.5zM306.5 360.2h0.5v0.5h-0.5zM305.6 343.6h0.5v0.5h-0.5zM324.8 367.3h0.5v0.5h-0.5zM315.3 336.2h0.5v0.5h-0.5zM337.7 359.7h0.5v0.5h-0.5zM310.7 367.6h0.5v0.5h-0.5zM345.5 367.8h0.5v0.5h-0.5zM343.5 354.6h0.5v0.5h-0.5zM337.7 340.2h0.5v0.5h-0.5zM334.9 348.1h0.5v0.5h-0.5zM320.1 346.6h0.5v0.5h-0.5zM307.9 363.6h0.5v0.5h-0.5zM340.7 336.3h0.5v0.5h-0.5zM328.6 336.8h0.5v0.5h-0.5zM330.2 341.7h0.5v0.5h-0.5zM350.1 346.8h0.5v0.5h-0.5zM329.1 344.9h0.5v0.5h-0.5zM347.4 336.3h0.5v0.5h-0.5zM318.5 343.7h0.5v0.5h-0.5zM339.8 348.6h0.5v0.5h-0.5zM345.4 347.1h0.5v0.5h-0.5zM310.0 351.5h0.5v0.5h-0.5zM308.1 341.2h0.5v0.5h-0.5zM329.1 355.5h0.5v0.5h-0.5zM314.3 342.1h0.5v0.5h-0.5zM329.0 351.1h0.5v0.5h-0.5zM327.1 358.8h0.5v0.5h-0.5zM310.8 336.4h0.5v0.5h-0.5zM307.1 363.0h0.5v0.5h-0.5zM337.7 341.2h0.5v0.5h-0.5zM319.9 346.5h0.5v0.5h-0.5zM348.3 350.0h0.5v0.5h-0.5zM338.3 338.9h0.5v0.5h-0.5zM306.0 343.7h0.5v0.5h-0.5zM334.8 351.2h0.5v0.5h-0.5zM345.9 364.0h0.5v0.5h-0.5zM335.9 369.9h0.5v0.5h-0.5zM350.1 366.0h0.5v0.5h-0.5z" fill="#d8a088" opacity="0.6"/>
<rect x="352.5" y="343.5" width="20.2" height="22.3" fill="#fff6f6" stroke="#e05060" stroke-width="0.8"/>
<ellipse cx="362" cy="350.5" rx="6.5" ry="6.5" fill="#f0a0a8" opacity="0.9" filter="url(#b15)"/>
<path d="M365.0 352.4h0.6v0.6h-0.6zM364.9 354.9h0.6v0.6h-0.6zM360.5 349.9h0.6v0.6h-0.6zM365.4 352.4h0.6v0.6h-0.6zM359.5 346.8h0.6v0.6h-0.6zM357.1 351.1h0.6v0.6h-0.6zM360.1 351.4h0.6v0.6h-0.6zM362.7 349.1h0.6v0.6h-0.6zM362.6 352.8h0.6v0.6h-0.6zM358.0 346.5h0.6v0.6h-0.6zM365.4 353.2h0.6v0.6h-0.6zM357.2 346.9h0.6v0.6h-0.6zM367.0 353.2h0.6v0.6h-0.6zM361.6 354.4h0.6v0.6h-0.6zM366.8 356.1h0.6v0.6h-0.6zM357.3 344.4h0.6v0.6h-0.6zM360.3 349.8h0.6v0.6h-0.6zM360.8 351.1h0.6v0.6h-0.6zM367.2 354.7h0.6v0.6h-0.6zM365.5 350.0h0.6v0.6h-0.6zM367.7 352.0h0.6v0.6h-0.6zM362.9 349.9h0.6v0.6h-0.6zM355.7 359.3h0.6v0.6h-0.6zM362.0 353.9h0.6v0.6h-0.6zM369.9 349.2h0.6v0.6h-0.6zM358.1 354.4h0.6v0.6h-0.6zM362.9 345.9h0.6v0.6h-0.6zM365.4 350.1h0.6v0.6h-0.6zM358.6 351.7h0.6v0.6h-0.6zM358.5 354.2h0.6v0.6h-0.6zM369.7 351.4h0.6v0.6h-0.6zM362.8 349.7h0.6v0.6h-0.6zM365.0 350.1h0.6v0.6h-0.6zM365.6 356.1h0.6v0.6h-0.6zM365.0 345.9h0.6v0.6h-0.6zM364.4 348.9h0.6v0.6h-0.6zM363.1 354.2h0.6v0.6h-0.6zM359.8 350.9h0.6v0.6h-0.6zM367.1 346.4h0.6v0.6h-0.6zM361.4 353.1h0.6v0.6h-0.6zM361.3 354.4h0.6v0.6h-0.6zM363.4 349.4h0.6v0.6h-0.6zM363.1 354.1h0.6v0.6h-0.6zM365.7 348.5h0.6v0.6h-0.6zM358.7 351.1h0.6v0.6h-0.6zM364.8 349.8h0.6v0.6h-0.6zM365.9 348.5h0.6v0.6h-0.6zM365.4 345.3h0.6v0.6h-0.6zM355.7 346.6h0.6v0.6h-0.6zM364.5 351.8h0.6v0.6h-0.6zM355.5 350.6h0.6v0.6h-0.6zM364.4 357.2h0.6v0.6h-0.6zM364.8 352.2h0.6v0.6h-0.6zM356.6 351.6h0.6v0.6h-0.6zM355.3 348.8h0.6v0.6h-0.6zM360.8 345.9h0.6v0.6h-0.6zM358.6 349.4h0.6v0.6h-0.6zM364.1 347.3h0.6v0.6h-0.6zM363.1 353.1h0.6v0.6h-0.6zM362.0 358.2h0.6v0.6h-0.6zM361.0 346.9h0.6v0.6h-0.6zM355.5 354.6h0.6v0.6h-0.6zM364.4 349.2h0.6v0.6h-0.6zM363.1 349.5h0.6v0.6h-0.6zM365.1 350.0h0.6v0.6h-0.6zM362.8 349.7h0.6v0.6h-0.6zM363.9 344.7h0.6v0.6h-0.6zM363.4 352.7h0.6v0.6h-0.6zM368.6 346.8h0.6v0.6h-0.6zM362.6 354.1h0.6v0.6h-0.6zM359.7 347.5h0.6v0.6h-0.6zM363.6 358.8h0.6v0.6h-0.6zM365.8 354.1h0.6v0.6h-0.6zM358.7 352.8h0.6v0.6h-0.6zM366.0 344.6h0.6v0.6h-0.6zM362.1 349.2h0.6v0.6h-0.6zM364.5 350.0h0.6v0.6h-0.6zM354.9 347.7h0.6v0.6h-0.6zM364.3 351.8h0.6v0.6h-0.6zM362.8 355.8h0.6v0.6h-0.6zM356.7 352.8h0.6v0.6h-0.6zM359.5 352.4h0.6v0.6h-0.6zM358.4 355.4h0.6v0.6h-0.6zM361.7 355.3h0.6v0.6h-0.6zM363.2 353.8h0.6v0.6h-0.6zM360.7 350.9h0.6v0.6h-0.6zM360.8 353.9h0.6v0.6h-0.6zM360.1 354.7h0.6v0.6h-0.6zM367.5 344.8h0.6v0.6h-0.6zM361.5 352.3h0.6v0.6h-0.6zM368.2 354.9h0.6v0.6h-0.6zM365.0 347.5h0.6v0.6h-0.6zM362.7 351.7h0.6v0.6h-0.6zM357.2 354.5h0.6v0.6h-0.6zM365.2 352.5h0.6v0.6h-0.6zM364.1 351.5h0.6v0.6h-0.6zM357.2 347.8h0.6v0.6h-0.6zM364.9 348.6h0.6v0.6h-0.6zM362.1 351.6h0.6v0.6h-0.6zM362.4 351.1h0.6v0.6h-0.6zM363.7 350.0h0.6v0.6h-0.6zM358.2 348.9h0.6v0.6h-0.6zM365.4 347.1h0.6v0.6h-0.6zM363.7 351.3h0.6v0.6h-0.6zM362.0 346.7h0.6v0.6h-0.6zM359.9 354.0h0.6v0.6h-0.6zM359.4 351.5h0.6v0.6h-0.6zM362.5 350.9h0.6v0.6h-0.6zM365.4 349.4h0.6v0.6h-0.6zM361.1 347.2h0.6v0.6h-0.6zM362.2 350.2h0.6v0.6h-0.6zM358.9 357.0h0.6v0.6h-0.6zM359.5 349.4h0.6v0.6h-0.6zM357.7 350.7h0.6v0.6h-0.6zM363.3 354.6h0.6v0.6h-0.6zM365.4 347.9h0.6v0.6h-0.6zM367.6 349.6h0.6v0.6h-0.6zM367.4 357.3h0.6v0.6h-0.6zM360.7 345.4h0.6v0.6h-0.6zM363.9 356.1h0.6v0.6h-0.6zM363.4 354.7h0.6v0.6h-0.6zM364.1 353.8h0.6v0.6h-0.6zM366.6 348.8h0.6v0.6h-0.6zM357.2 349.5h0.6v0.6h-0.6zM359.3 345.0h0.6v0.6h-0.6zM361.5 353.0h0.6v0.6h-0.6zM364.8 346.2h0.6v0.6h-0.6zM360.7 355.7h0.6v0.6h-0.6zM365.9 351.5h0.6v0.6h-0.6zM364.0 351.6h0.6v0.6h-0.6zM357.2 350.8h0.6v0.6h-0.6zM363.6 349.5h0.6v0.6h-0.6zM364.8 353.7h0.6v0.6h-0.6zM362.2 349.0h0.6v0.6h-0.6zM358.0 354.8h0.6v0.6h-0.6zM360.1 351.4h0.6v0.6h-0.6zM367.3 353.3h0.6v0.6h-0.6zM357.7 349.6h0.6v0.6h-0.6zM359.3 352.5h0.6v0.6h-0.6zM363.2 349.1h0.6v0.6h-0.6zM362.6 345.1h0.6v0.6h-0.6zM359.4 349.3h0.6v0.6h-0.6zM364.8 348.7h0.6v0.6h-0.6zM361.5 351.4h0.6v0.6h-0.6zM367.1 344.7h0.6v0.6h-0.6zM363.9 350.8h0.6v0.6h-0.6zM361.8 351.1h0.6v0.6h-0.6zM355.2 350.1h0.6v0.6h-0.6zM361.2 344.8h0.6v0.6h-0.6zM365.0 349.5h0.6v0.6h-0.6zM360.9 353.2h0.6v0.6h-0.6zM358.9 347.0h0.6v0.6h-0.6zM364.9 353.7h0.6v0.6h-0.6zM369.0 348.1h0.6v0.6h-0.6zM357.9 350.5h0.6v0.6h-0.6zM361.2 347.2h0.6v0.6h-0.6zM358.6 347.1h0.6v0.6h-0.6zM360.8 355.0h0.6v0.6h-0.6zM364.2 355.8h0.6v0.6h-0.6zM364.9 353.2h0.6v0.6h-0.6zM366.1 351.9h0.6v0.6h-0.6zM367.3 354.8h0.6v0.6h-0.6zM368.3 350.9h0.6v0.6h-0.6zM359.4 360.7h0.6v0.6h-0.6zM361.1 352.2h0.6v0.6h-0.6zM360.7 347.1h0.6v0.6h-0.6zM363.5 345.3h0.6v0.6h-0.6zM361.5 356.0h0.6v0.6h-0.6zM362.5 353.5h0.6v0.6h-0.6zM364.2 351.6h0.6v0.6h-0.6zM362.4 352.6h0.6v0.6h-0.6zM358.7 352.5h0.6v0.6h-0.6zM358.3 346.8h0.6v0.6h-0.6zM360.0 344.3h0.6v0.6h-0.6zM355.2 351.6h0.6v0.6h-0.6zM363.8 352.8h0.6v0.6h-0.6zM369.7 350.7h0.6v0.6h-0.6zM364.6 346.8h0.6v0.6h-0.6zM364.5 345.2h0.6v0.6h-0.6zM368.8 345.9h0.6v0.6h-0.6zM360.6 353.2h0.6v0.6h-0.6zM354.4 355.7h0.6v0.6h-0.6zM358.7 350.8h0.6v0.6h-0.6zM365.4 350.7h0.6v0.6h-0.6zM365.3 347.9h0.6v0.6h-0.6zM367.2 347.2h0.6v0.6h-0.6zM359.0 350.1h0.6v0.6h-0.6zM367.9 347.0h0.6v0.6h-0.6zM361.9 348.5h0.6v0.6h-0.6zM358.8 344.5h0.6v0.6h-0.6zM364.1 353.0h0.6v0.6h-0.6zM359.4 351.0h0.6v0.6h-0.6zM363.6 351.6h0.6v0.6h-0.6zM361.4 350.2h0.6v0.6h-0.6zM363.0 345.5h0.6v0.6h-0.6zM361.5 353.4h0.6v0.6h-0.6zM360.1 355.6h0.6v0.6h-0.6zM361.2 345.3h0.6v0.6h-0.6zM361.0 344.3h0.6v0.6h-0.6zM362.1 349.0h0.6v0.6h-0.6zM361.0 351.8h0.6v0.6h-0.6zM363.0 347.6h0.6v0.6h-0.6zM364.8 348.1h0.6v0.6h-0.6zM365.1 355.7h0.6v0.6h-0.6zM363.3 353.9h0.6v0.6h-0.6zM357.4 352.4h0.6v0.6h-0.6zM356.9 349.3h0.6v0.6h-0.6zM359.3 346.7h0.6v0.6h-0.6zM358.8 350.1h0.6v0.6h-0.6zM364.2 345.1h0.6v0.6h-0.6zM356.8 352.0h0.6v0.6h-0.6zM365.0 346.6h0.6v0.6h-0.6zM363.2 346.7h0.6v0.6h-0.6zM365.7 357.4h0.6v0.6h-0.6zM353.5 346.3h0.6v0.6h-0.6zM359.8 348.0h0.6v0.6h-0.6zM367.4 356.7h0.6v0.6h-0.6zM362.0 352.7h0.6v0.6h-0.6zM356.5 348.7h0.6v0.6h-0.6zM361.0 349.4h0.6v0.6h-0.6zM358.4 359.1h0.6v0.6h-0.6zM356.0 350.3h0.6v0.6h-0.6zM364.5 352.1h0.6v0.6h-0.6zM368.8 351.5h0.6v0.6h-0.6zM364.5 350.9h0.6v0.6h-0.6zM360.7 355.0h0.6v0.6h-0.6zM365.1 352.7h0.6v0.6h-0.6zM364.0 353.1h0.6v0.6h-0.6zM361.0 351.8h0.6v0.6h-0.6zM362.3 348.9h0.6v0.6h-0.6zM364.2 359.1h0.6v0.6h-0.6zM355.0 356.1h0.6v0.6h-0.6zM360.5 355.1h0.6v0.6h-0.6zM358.5 349.2h0.6v0.6h-0.6zM365.5 349.7h0.6v0.6h-0.6zM363.2 344.9h0.6v0.6h-0.6zM358.0 357.1h0.6v0.6h-0.6zM362.5 349.6h0.6v0.6h-0.6zM357.2 345.6h0.6v0.6h-0.6zM358.4 349.8h0.6v0.6h-0.6zM361.6 347.4h0.6v0.6h-0.6zM359.7 350.5h0.6v0.6h-0.6zM366.0 344.1h0.6v0.6h-0.6zM357.1 354.8h0.6v0.6h-0.6zM357.1 348.3h0.6v0.6h-0.6zM362.4 357.7h0.6v0.6h-0.6zM361.7 354.6h0.6v0.6h-0.6zM362.5 346.6h0.6v0.6h-0.6zM364.8 356.3h0.6v0.6h-0.6zM361.3 353.5h0.6v0.6h-0.6zM358.4 356.3h0.6v0.6h-0.6zM359.8 346.6h0.6v0.6h-0.6zM364.3 358.5h0.6v0.6h-0.6zM357.1 349.2h0.6v0.6h-0.6zM363.6 347.6h0.6v0.6h-0.6zM356.6 351.4h0.6v0.6h-0.6zM365.5 350.4h0.6v0.6h-0.6zM358.3 348.7h0.6v0.6h-0.6zM355.3 349.8h0.6v0.6h-0.6zM366.2 354.7h0.6v0.6h-0.6zM361.7 351.8h0.6v0.6h-0.6zM360.2 350.6h0.6v0.6h-0.6zM359.9 350.7h0.6v0.6h-0.6zM360.2 350.8h0.6v0.6h-0.6zM364.4 349.9h0.6v0.6h-0.6zM357.5 352.1h0.6v0.6h-0.6zM361.2 347.9h0.6v0.6h-0.6zM363.9 346.5h0.6v0.6h-0.6zM365.2 352.4h0.6v0.6h-0.6zM359.6 347.0h0.6v0.6h-0.6zM361.6 346.2h0.6v0.6h-0.6zM362.5 348.5h0.6v0.6h-0.6zM358.2 352.7h0.6v0.6h-0.6zM360.3 351.9h0.6v0.6h-0.6zM360.5 348.8h0.6v0.6h-0.6zM363.8 354.1h0.6v0.6h-0.6zM365.4 349.9h0.6v0.6h-0.6zM367.1 348.6h0.6v0.6h-0.6zM357.0 346.3h0.6v0.6h-0.6zM355.9 351.4h0.6v0.6h-0.6zM362.1 349.9h0.6v0.6h-0.6zM362.8 349.5h0.6v0.6h-0.6zM361.1 348.7h0.6v0.6h-0.6zM362.1 345.2h0.6v0.6h-0.6zM366.4 356.6h0.6v0.6h-0.6zM362.1 359.7h0.6v0.6h-0.6zM358.7 353.8h0.6v0.6h-0.6zM356.4 352.6h0.6v0.6h-0.6zM359.4 354.3h0.6v0.6h-0.6zM362.4 354.0h0.6v0.6h-0.6zM364.1 352.2h0.6v0.6h-0.6zM361.1 356.8h0.6v0.6h-0.6zM363.2 352.1h0.6v0.6h-0.6zM366.9 348.9h0.6v0.6h-0.6zM368.0 354.6h0.6v0.6h-0.6zM366.2 348.7h0.6v0.6h-0.6zM362.3 350.5h0.6v0.6h-0.6zM365.3 352.7h0.6v0.6h-0.6zM355.7 347.2h0.6v0.6h-0.6zM363.2 350.7h0.6v0.6h-0.6z" fill="#e02a3c" opacity="0.75"/>
<path d="M431.6 376.3 L432.1 364.2 L432.6 352.1 L433.1 340.0 L433.8 322.1 L434.5 304.2 L435.1 322.1 L435.6 340.0 L436.2 358.1 L436.8 376.3" fill="none" stroke="#2a7ab8" stroke-width="0.9" stroke-linejoin="round" opacity="1.0"/>
<path d="M433.2 376.3 L433.3 376.3 L433.5 376.0 L434.2 373.3 L434.2 373.3 L435.6 368.6 L435.0 370.6 L435.0 370.6 L436.3 364.8 L435.8 367.9 L435.2 369.8 L437.6 356.4 L437.7 356.0 L435.7 367.9 L438.7 349.1 L436.7 362.2 L438.4 351.1 L437.1 359.7 L439.4 343.2 L439.8 340.0 L440.0 338.3 L440.5 334.2 L439.2 345.7 L440.4 334.9 L441.8 322.3 L440.5 334.0 L442.6 314.3 L441.8 321.7 L441.2 327.2 L440.8 330.8 L443.1 310.2 L442.5 315.9 L442.7 313.8 L442.9 311.9 L444.6 307.6 L442.9 311.7 L443.7 307.0 L443.8 306.5 L444.1 305.7 L446.6 318.1 L444.2 305.6 L445.9 314.0 L447.0 320.6 L446.6 318.3 L448.0 327.0 L447.9 326.4 L448.1 328.1 L447.4 323.5 L446.5 317.4 L447.3 323.0 L448.7 331.6 L448.1 327.9 L449.9 339.5 L450.8 344.5 L448.4 330.2 L448.5 330.5 L450.8 344.6 L450.4 342.1 L451.0 346.2 L451.5 349.0 L450.0 340.0 L450.7 344.0 L451.9 350.8 L453.2 356.6 L452.9 355.2 L454.0 360.0 L452.3 352.8 L452.6 353.9 L455.1 363.9 L454.8 362.9 L454.0 360.4 L454.1 360.5 L454.9 363.1 L455.1 363.9 L455.2 364.1 L456.3 367.3 L456.8 368.7 L457.2 370.0 L456.1 366.7 L457.3 370.2 L457.9 372.0 L457.4 370.6 L458.1 372.1 L458.3 372.3 L458.6 372.7 L459.0 373.0 L459.1 373.2 L459.6 373.6 L459.7 373.7 L459.9 373.9 L460.5 374.5 L460.7 374.7 L460.9 374.9 L461.2 375.2 L461.7 375.6 L461.9 375.8 L462.2 376.1" fill="none" stroke="#e05a70" stroke-width="2.2" stroke-linejoin="round" opacity="0.6"/>
<path d="M433.2 375.6 L433.3 375.6 L433.5 374.2 L434.2 372.9 L434.2 372.4 L435.6 370.2 L435.0 370.1 L435.0 370.7 L436.3 368.4 L435.8 367.4 L435.2 363.0 L437.6 362.1 L437.7 359.1 L435.7 359.9 L438.7 357.6 L436.7 353.9 L438.4 354.3 L437.1 350.8 L439.4 347.4 L439.8 344.8 L440.0 341.7 L440.5 342.3 L439.2 343.1 L440.4 340.2 L441.8 333.1 L440.5 328.7 L442.6 326.4 L441.8 325.9 L441.2 318.2 L440.8 317.6 L443.1 320.5 L442.5 312.6 L442.7 309.7 L442.9 307.5 L444.6 307.8 L442.9 302.8 L443.7 304.0 L443.8 306.8 L444.1 306.6 L446.6 309.9 L444.2 312.5 L445.9 312.7 L447.0 315.7 L446.6 316.9 L448.0 318.7 L447.9 319.3 L448.1 323.4 L447.4 325.5 L446.5 326.4 L447.3 328.2 L448.7 328.2 L448.1 332.2 L449.9 333.8 L450.8 337.1 L448.4 335.6 L448.5 337.6 L450.8 342.6 L450.4 341.0 L451.0 344.2 L451.5 346.5 L450.0 352.2 L450.7 348.6 L451.9 349.5 L453.2 348.9 L452.9 351.9 L454.0 357.2 L452.3 355.0 L452.6 359.0 L455.1 357.8 L454.8 362.3 L454.0 361.7 L454.1 363.1 L454.9 363.6 L455.1 361.4 L455.2 366.4 L456.3 367.2 L456.8 363.9 L457.2 368.9 L456.1 369.8 L457.3 369.3 L457.9 370.5 L457.4 371.2 L458.1 372.0 L458.3 372.3 L458.6 372.4 L459.0 372.5 L459.1 372.7 L459.6 373.4 L459.7 374.4 L459.9 374.2 L460.5 374.5 L460.7 374.4 L460.9 374.4 L461.2 373.7 L461.7 375.0 L461.9 375.6 L462.2 375.6" fill="none" stroke="#c8143a" stroke-width="0.75" stroke-linejoin="miter" stroke-miterlimit="2" opacity="1.0"/>
<line x1="251.8" y1="59.9" x2="261.2" y2="59.9" stroke="#111" stroke-width="1.7"/>
<path d="M267.2 59.9 L257.9 56.0 L260.2 59.9 L257.9 63.8 Z" fill="#111"/>
<line x1="384.9" y1="59.8" x2="395" y2="59.8" stroke="#111" stroke-width="1.7"/>
<path d="M401 59.8 L391.7 55.9 L394 59.8 L391.7 63.699999999999996 Z" fill="#111"/>
<text x="408.20" y="59.00" font-size="8.6" text-anchor="middle" fill="#1a1a1a" font-weight="bold" textLength="14" lengthAdjust="spacingAndGlyphs" transform="rotate(-90 408.20 59.00)" >Count</text>
<line x1="251.8" y1="199.9" x2="261.2" y2="199.9" stroke="#111" stroke-width="1.7"/>
<path d="M267.2 199.9 L257.9 196.0 L260.2 199.9 L257.9 203.8 Z" fill="#111"/>
<line x1="384.9" y1="199.8" x2="395" y2="199.8" stroke="#111" stroke-width="1.7"/>
<path d="M401 199.8 L391.7 195.9 L394 199.8 L391.7 203.70000000000002 Z" fill="#111"/>
<text x="408.20" y="199.00" font-size="8.6" text-anchor="middle" fill="#1a1a1a" font-weight="bold" textLength="14" lengthAdjust="spacingAndGlyphs" transform="rotate(-90 408.20 199.00)" >Count</text>
<line x1="251.8" y1="339.9" x2="261.2" y2="339.9" stroke="#111" stroke-width="1.7"/>
<path d="M267.2 339.9 L257.9 336.0 L260.2 339.9 L257.9 343.79999999999995 Z" fill="#111"/>
<line x1="384.9" y1="339.8" x2="395" y2="339.8" stroke="#111" stroke-width="1.7"/>
<path d="M401 339.8 L391.7 335.90000000000003 L394 339.8 L391.7 343.7 Z" fill="#111"/>
<text x="408.20" y="339.00" font-size="8.6" text-anchor="middle" fill="#1a1a1a" font-weight="bold" textLength="14" lengthAdjust="spacingAndGlyphs" transform="rotate(-90 408.20 339.00)" >Count</text>
<rect x="169.5" y="23.5" width="78" height="73" fill="none" stroke="#111" stroke-width="1.1"/>
<rect x="169.5" y="163.5" width="81" height="73" fill="none" stroke="#111" stroke-width="1.1"/>
<rect x="169.5" y="304.5" width="80.30000000000001" height="71" fill="none" stroke="#111" stroke-width="1.1"/>
<rect x="301.5" y="23.5" width="81" height="73" fill="none" stroke="#111" stroke-width="1.1"/>
<rect x="301.5" y="163.5" width="81" height="73" fill="none" stroke="#111" stroke-width="1.1"/>
<rect x="301.5" y="304.5" width="80" height="71" fill="none" stroke="#111" stroke-width="1.1"/>
<rect x="429.5" y="22.5" width="84" height="74" fill="none" stroke="#111" stroke-width="1.1"/>
<rect x="429.5" y="162.5" width="84" height="74" fill="none" stroke="#111" stroke-width="1.1"/>
<rect x="429.5" y="302.5" width="84" height="73" fill="none" stroke="#111" stroke-width="1.1"/>
<line x1="166.4" y1="26.5" x2="169.5" y2="26.5" stroke="#111" stroke-width="1"/>
<line x1="166.4" y1="43.5" x2="169.5" y2="43.5" stroke="#111" stroke-width="1"/>
<line x1="166.4" y1="61.5" x2="169.5" y2="61.5" stroke="#111" stroke-width="1"/>
<line x1="166.4" y1="78.5" x2="169.5" y2="78.5" stroke="#111" stroke-width="1"/>
<line x1="166.4" y1="96.5" x2="169.5" y2="96.5" stroke="#111" stroke-width="1"/>
<line x1="167.5" y1="30.5" x2="169.5" y2="30.5" stroke="#333" stroke-width="0.8"/>
<line x1="167.5" y1="34.5" x2="169.5" y2="34.5" stroke="#333" stroke-width="0.8"/>
<line x1="167.5" y1="39.5" x2="169.5" y2="39.5" stroke="#333" stroke-width="0.8"/>
<line x1="167.5" y1="47.5" x2="169.5" y2="47.5" stroke="#333" stroke-width="0.8"/>
<line x1="167.5" y1="52.5" x2="169.5" y2="52.5" stroke="#333" stroke-width="0.8"/>
<line x1="167.5" y1="56.5" x2="169.5" y2="56.5" stroke="#333" stroke-width="0.8"/>
<line x1="167.5" y1="65.5" x2="169.5" y2="65.5" stroke="#333" stroke-width="0.8"/>
<line x1="167.5" y1="69.5" x2="169.5" y2="69.5" stroke="#333" stroke-width="0.8"/>
<line x1="167.5" y1="74.5" x2="169.5" y2="74.5" stroke="#333" stroke-width="0.8"/>
<line x1="167.5" y1="82.5" x2="169.5" y2="82.5" stroke="#333" stroke-width="0.8"/>
<line x1="167.5" y1="87.5" x2="169.5" y2="87.5" stroke="#333" stroke-width="0.8"/>
<line x1="167.5" y1="91.5" x2="169.5" y2="91.5" stroke="#333" stroke-width="0.8"/>
<text x="163.30" y="28.20" font-size="6.2" text-anchor="end" fill="#000" >202144</text>
<text x="163.30" y="45.70" font-size="6.2" text-anchor="end" fill="#000" >195702</text>
<text x="163.30" y="63.20" font-size="6.2" text-anchor="end" fill="#000" >129260</text>
<text x="163.30" y="80.70" font-size="6.2" text-anchor="end" fill="#000" >62818</text>
<text x="163.30" y="98.20" font-size="6.2" text-anchor="end" fill="#000" >-3624</text>
<text x="136.83" y="59.90" font-size="8.7" text-anchor="middle" fill="#1a1a1a" font-weight="bold" textLength="15.6" lengthAdjust="spacingAndGlyphs" transform="rotate(-90 136.83 59.90)" >SSC-A</text>
<line x1="166.4" y1="166.5" x2="169.5" y2="166.5" stroke="#111" stroke-width="1"/>
<line x1="166.4" y1="183.5" x2="169.5" y2="183.5" stroke="#111" stroke-width="1"/>
<line x1="166.4" y1="201.5" x2="169.5" y2="201.5" stroke="#111" stroke-width="1"/>
<line x1="166.4" y1="218.5" x2="169.5" y2="218.5" stroke="#111" stroke-width="1"/>
<line x1="166.4" y1="236.5" x2="169.5" y2="236.5" stroke="#111" stroke-width="1"/>
<line x1="167.5" y1="170.5" x2="169.5" y2="170.5" stroke="#333" stroke-width="0.8"/>
<line x1="167.5" y1="174.5" x2="169.5" y2="174.5" stroke="#333" stroke-width="0.8"/>
<line x1="167.5" y1="179.5" x2="169.5" y2="179.5" stroke="#333" stroke-width="0.8"/>
<line x1="167.5" y1="187.5" x2="169.5" y2="187.5" stroke="#333" stroke-width="0.8"/>
<line x1="167.5" y1="192.5" x2="169.5" y2="192.5" stroke="#333" stroke-width="0.8"/>
<line x1="167.5" y1="196.5" x2="169.5" y2="196.5" stroke="#333" stroke-width="0.8"/>
<line x1="167.5" y1="205.5" x2="169.5" y2="205.5" stroke="#333" stroke-width="0.8"/>
<line x1="167.5" y1="209.5" x2="169.5" y2="209.5" stroke="#333" stroke-width="0.8"/>
<line x1="167.5" y1="214.5" x2="169.5" y2="214.5" stroke="#333" stroke-width="0.8"/>
<line x1="167.5" y1="222.5" x2="169.5" y2="222.5" stroke="#333" stroke-width="0.8"/>
<line x1="167.5" y1="227.5" x2="169.5" y2="227.5" stroke="#333" stroke-width="0.8"/>
<line x1="167.5" y1="231.5" x2="169.5" y2="231.5" stroke="#333" stroke-width="0.8"/>
<text x="163.30" y="168.20" font-size="6.2" text-anchor="end" fill="#000" >202144</text>
<text x="163.30" y="185.70" font-size="6.2" text-anchor="end" fill="#000" >196504</text>
<text x="163.30" y="203.20" font-size="6.2" text-anchor="end" fill="#000" >130864</text>
<text x="163.30" y="220.70" font-size="6.2" text-anchor="end" fill="#000" >65224</text>
<text x="163.30" y="238.20" font-size="6.2" text-anchor="end" fill="#000" >-416</text>
<text x="136.83" y="199.90" font-size="8.7" text-anchor="middle" fill="#1a1a1a" font-weight="bold" textLength="15.6" lengthAdjust="spacingAndGlyphs" transform="rotate(-90 136.83 199.90)" >SSC-A</text>
<line x1="178.5" y1="96.5" x2="178.5" y2="99.1" stroke="#111" stroke-width="1"/>
<line x1="189.5" y1="96.5" x2="189.5" y2="99.1" stroke="#111" stroke-width="1"/>
<line x1="200.5" y1="96.5" x2="200.5" y2="99.1" stroke="#111" stroke-width="1"/>
<line x1="222.5" y1="96.5" x2="222.5" y2="99.1" stroke="#111" stroke-width="1"/>
<line x1="240.5" y1="96.5" x2="240.5" y2="99.1" stroke="#111" stroke-width="1"/>
<line x1="206.5" y1="96.5" x2="206.5" y2="98.0" stroke="#333" stroke-width="0.8"/>
<line x1="210.5" y1="96.5" x2="210.5" y2="98.0" stroke="#333" stroke-width="0.8"/>
<line x1="213.5" y1="96.5" x2="213.5" y2="98.0" stroke="#333" stroke-width="0.8"/>
<line x1="215.5" y1="96.5" x2="215.5" y2="98.0" stroke="#333" stroke-width="0.8"/>
<line x1="217.5" y1="96.5" x2="217.5" y2="98.0" stroke="#333" stroke-width="0.8"/>
<line x1="218.5" y1="96.5" x2="218.5" y2="98.0" stroke="#333" stroke-width="0.8"/>
<line x1="219.5" y1="96.5" x2="219.5" y2="98.0" stroke="#333" stroke-width="0.8"/>
<line x1="220.5" y1="96.5" x2="220.5" y2="98.0" stroke="#333" stroke-width="0.8"/>
<line x1="227.5" y1="96.5" x2="227.5" y2="98.0" stroke="#333" stroke-width="0.8"/>
<line x1="230.5" y1="96.5" x2="230.5" y2="98.0" stroke="#333" stroke-width="0.8"/>
<line x1="233.5" y1="96.5" x2="233.5" y2="98.0" stroke="#333" stroke-width="0.8"/>
<line x1="234.5" y1="96.5" x2="234.5" y2="98.0" stroke="#333" stroke-width="0.8"/>
<line x1="236.5" y1="96.5" x2="236.5" y2="98.0" stroke="#333" stroke-width="0.8"/>
<line x1="237.5" y1="96.5" x2="237.5" y2="98.0" stroke="#333" stroke-width="0.8"/>
<line x1="238.5" y1="96.5" x2="238.5" y2="98.0" stroke="#333" stroke-width="0.8"/>
<line x1="239.5" y1="96.5" x2="239.5" y2="98.0" stroke="#333" stroke-width="0.8"/>
<text x="181.30" y="105.20" font-size="6.4" text-anchor="end" fill="#000" transform="rotate(-45 181.30 105.20)" >&#8722;10<tspan font-size="4.2" dy="-2.3">3</tspan></text>
<text x="192.30" y="105.20" font-size="6.4" text-anchor="end" fill="#000" transform="rotate(-45 192.30 105.20)" >&#8722;10<tspan font-size="4.2" dy="-2.3">2</tspan></text>
<text x="203.30" y="105.20" font-size="6.4" text-anchor="end" fill="#000" transform="rotate(-45 203.30 105.20)" >10<tspan font-size="4.2" dy="-2.3">3</tspan></text>
<text x="225.30" y="105.20" font-size="6.4" text-anchor="end" fill="#000" transform="rotate(-45 225.30 105.20)" >10<tspan font-size="4.2" dy="-2.3">4</tspan></text>
<text x="243.80" y="105.20" font-size="6.4" text-anchor="end" fill="#000" transform="rotate(-45 243.80 105.20)" >10<tspan font-size="4.2" dy="-2.3">5</tspan></text>
<text x="208.30" y="129.90" font-size="8.6" text-anchor="middle" fill="#1a1a1a" font-weight="bold" textLength="27.7" lengthAdjust="spacingAndGlyphs" >CD45 V500</text>
<line x1="178.5" y1="236.5" x2="178.5" y2="239.1" stroke="#111" stroke-width="1"/>
<line x1="186.5" y1="236.5" x2="186.5" y2="239.1" stroke="#111" stroke-width="1"/>
<line x1="205.5" y1="236.5" x2="205.5" y2="239.1" stroke="#111" stroke-width="1"/>
<line x1="224.5" y1="236.5" x2="224.5" y2="239.1" stroke="#111" stroke-width="1"/>
<line x1="243.5" y1="236.5" x2="243.5" y2="239.1" stroke="#111" stroke-width="1"/>
<line x1="211.5" y1="236.5" x2="211.5" y2="238.0" stroke="#333" stroke-width="0.8"/>
<line x1="214.5" y1="236.5" x2="214.5" y2="238.0" stroke="#333" stroke-width="0.8"/>
<line x1="217.5" y1="236.5" x2="217.5" y2="238.0" stroke="#333" stroke-width="0.8"/>
<line x1="218.5" y1="236.5" x2="218.5" y2="238.0" stroke="#333" stroke-width="0.8"/>
<line x1="220.5" y1="236.5" x2="220.5" y2="238.0" stroke="#333" stroke-width="0.8"/>
<line x1="221.5" y1="236.5" x2="221.5" y2="238.0" stroke="#333" stroke-width="0.8"/>
<line x1="222.5" y1="236.5" x2="222.5" y2="238.0" stroke="#333" stroke-width="0.8"/>
<line x1="223.5" y1="236.5" x2="223.5" y2="238.0" stroke="#333" stroke-width="0.8"/>
<line x1="230.5" y1="236.5" x2="230.5" y2="238.0" stroke="#333" stroke-width="0.8"/>
<line x1="233.5" y1="236.5" x2="233.5" y2="238.0" stroke="#333" stroke-width="0.8"/>
<line x1="236.5" y1="236.5" x2="236.5" y2="238.0" stroke="#333" stroke-width="0.8"/>
<line x1="237.5" y1="236.5" x2="237.5" y2="238.0" stroke="#333" stroke-width="0.8"/>
<line x1="239.5" y1="236.5" x2="239.5" y2="238.0" stroke="#333" stroke-width="0.8"/>
<line x1="240.5" y1="236.5" x2="240.5" y2="238.0" stroke="#333" stroke-width="0.8"/>
<line x1="241.5" y1="236.5" x2="241.5" y2="238.0" stroke="#333" stroke-width="0.8"/>
<line x1="242.5" y1="236.5" x2="242.5" y2="238.0" stroke="#333" stroke-width="0.8"/>
<text x="181.30" y="245.20" font-size="6.4" text-anchor="end" fill="#000" transform="rotate(-45 181.30 245.20)" >&#8722;10<tspan font-size="4.2" dy="-2.3">2</tspan></text>
<text x="189.30" y="245.20" font-size="6.4" text-anchor="end" fill="#000" transform="rotate(-45 189.30 245.20)" >10<tspan font-size="4.2" dy="-2.3">2</tspan></text>
<text x="209.00" y="245.20" font-size="6.4" text-anchor="end" fill="#000" transform="rotate(-45 209.00 245.20)" >10<tspan font-size="4.2" dy="-2.3">3</tspan></text>
<text x="228.00" y="245.20" font-size="6.4" text-anchor="end" fill="#000" transform="rotate(-45 228.00 245.20)" >10<tspan font-size="4.2" dy="-2.3">4</tspan></text>
<text x="247.00" y="245.20" font-size="6.4" text-anchor="end" fill="#000" transform="rotate(-45 247.00 245.20)" >10<tspan font-size="4.2" dy="-2.3">5</tspan></text>
<text x="208.50" y="269.30" font-size="8.6" text-anchor="middle" fill="#1a1a1a" font-weight="bold" textLength="27.3" lengthAdjust="spacingAndGlyphs" >CD64 PE-A</text>
<line x1="166.4" y1="312.5" x2="169.5" y2="312.5" stroke="#111" stroke-width="1"/>
<line x1="166.4" y1="328.5" x2="169.5" y2="328.5" stroke="#111" stroke-width="1"/>
<line x1="166.4" y1="344.5" x2="169.5" y2="344.5" stroke="#111" stroke-width="1"/>
<line x1="166.4" y1="364.5" x2="169.5" y2="364.5" stroke="#111" stroke-width="1"/>
<line x1="167.5" y1="323.5" x2="169.5" y2="323.5" stroke="#333" stroke-width="0.8"/>
<line x1="167.5" y1="320.5" x2="169.5" y2="320.5" stroke="#333" stroke-width="0.8"/>
<line x1="167.5" y1="318.5" x2="169.5" y2="318.5" stroke="#333" stroke-width="0.8"/>
<line x1="167.5" y1="317.5" x2="169.5" y2="317.5" stroke="#333" stroke-width="0.8"/>
<line x1="167.5" y1="315.5" x2="169.5" y2="315.5" stroke="#333" stroke-width="0.8"/>
<line x1="167.5" y1="314.5" x2="169.5" y2="314.5" stroke="#333" stroke-width="0.8"/>
<line x1="167.5" y1="313.5" x2="169.5" y2="313.5" stroke="#333" stroke-width="0.8"/>
<line x1="167.5" y1="312.5" x2="169.5" y2="312.5" stroke="#333" stroke-width="0.8"/>
<line x1="167.5" y1="339.5" x2="169.5" y2="339.5" stroke="#333" stroke-width="0.8"/>
<line x1="167.5" y1="336.5" x2="169.5" y2="336.5" stroke="#333" stroke-width="0.8"/>
<line x1="167.5" y1="334.5" x2="169.5" y2="334.5" stroke="#333" stroke-width="0.8"/>
<line x1="167.5" y1="333.5" x2="169.5" y2="333.5" stroke="#333" stroke-width="0.8"/>
<line x1="167.5" y1="331.5" x2="169.5" y2="331.5" stroke="#333" stroke-width="0.8"/>
<line x1="167.5" y1="330.5" x2="169.5" y2="330.5" stroke="#333" stroke-width="0.8"/>
<line x1="167.5" y1="329.5" x2="169.5" y2="329.5" stroke="#333" stroke-width="0.8"/>
<line x1="167.5" y1="329.5" x2="169.5" y2="329.5" stroke="#333" stroke-width="0.8"/>
<text x="164.00" y="314.40" font-size="6.2" text-anchor="end" fill="#000" >10<tspan font-size="4.2" dy="-2.3">5</tspan></text>
<text x="164.00" y="330.50" font-size="6.2" text-anchor="end" fill="#000" >10<tspan font-size="4.2" dy="-2.3">4</tspan></text>
<text x="164.00" y="347.00" font-size="6.2" text-anchor="end" fill="#000" >10<tspan font-size="4.2" dy="-2.3">3</tspan></text>
<text x="164.00" y="366.30" font-size="6.2" text-anchor="end" fill="#000" >&#8722;10<tspan font-size="4.2" dy="-2.3">2</tspan></text>
<text x="135.78" y="339.60" font-size="6.6" text-anchor="middle" fill="#1a1a1a" font-weight="bold" textLength="43" lengthAdjust="spacingAndGlyphs" transform="rotate(-90 135.78 339.60)" >CD71 APC-Cy7-A</text>
<line x1="177.5" y1="375.5" x2="177.5" y2="378.1" stroke="#111" stroke-width="1"/>
<line x1="188.5" y1="375.5" x2="188.5" y2="378.1" stroke="#111" stroke-width="1"/>
<line x1="200.5" y1="375.5" x2="200.5" y2="378.1" stroke="#111" stroke-width="1"/>
<line x1="223.5" y1="375.5" x2="223.5" y2="378.1" stroke="#111" stroke-width="1"/>
<line x1="241.5" y1="375.5" x2="241.5" y2="378.1" stroke="#111" stroke-width="1"/>
<line x1="207.5" y1="375.5" x2="207.5" y2="377.0" stroke="#333" stroke-width="0.8"/>
<line x1="211.5" y1="375.5" x2="211.5" y2="377.0" stroke="#333" stroke-width="0.8"/>
<line x1="213.5" y1="375.5" x2="213.5" y2="377.0" stroke="#333" stroke-width="0.8"/>
<line x1="216.5" y1="375.5" x2="216.5" y2="377.0" stroke="#333" stroke-width="0.8"/>
<line x1="217.5" y1="375.5" x2="217.5" y2="377.0" stroke="#333" stroke-width="0.8"/>
<line x1="219.5" y1="375.5" x2="219.5" y2="377.0" stroke="#333" stroke-width="0.8"/>
<line x1="220.5" y1="375.5" x2="220.5" y2="377.0" stroke="#333" stroke-width="0.8"/>
<line x1="222.5" y1="375.5" x2="222.5" y2="377.0" stroke="#333" stroke-width="0.8"/>
<line x1="228.5" y1="375.5" x2="228.5" y2="377.0" stroke="#333" stroke-width="0.8"/>
<line x1="231.5" y1="375.5" x2="231.5" y2="377.0" stroke="#333" stroke-width="0.8"/>
<line x1="234.5" y1="375.5" x2="234.5" y2="377.0" stroke="#333" stroke-width="0.8"/>
<line x1="235.5" y1="375.5" x2="235.5" y2="377.0" stroke="#333" stroke-width="0.8"/>
<line x1="237.5" y1="375.5" x2="237.5" y2="377.0" stroke="#333" stroke-width="0.8"/>
<line x1="238.5" y1="375.5" x2="238.5" y2="377.0" stroke="#333" stroke-width="0.8"/>
<line x1="239.5" y1="375.5" x2="239.5" y2="377.0" stroke="#333" stroke-width="0.8"/>
<line x1="240.5" y1="375.5" x2="240.5" y2="377.0" stroke="#333" stroke-width="0.8"/>
<text x="180.60" y="384.20" font-size="6.4" text-anchor="end" fill="#000" transform="rotate(-45 180.60 384.20)" >&#8722;10<tspan font-size="4.2" dy="-2.3">3</tspan></text>
<text x="191.80" y="384.20" font-size="6.4" text-anchor="end" fill="#000" transform="rotate(-45 191.80 384.20)" >&#8722;10<tspan font-size="4.2" dy="-2.3">2</tspan></text>
<text x="203.40" y="384.20" font-size="6.4" text-anchor="end" fill="#000" transform="rotate(-45 203.40 384.20)" >10<tspan font-size="4.2" dy="-2.3">2</tspan></text>
<text x="226.40" y="384.20" font-size="6.4" text-anchor="end" fill="#000" transform="rotate(-45 226.40 384.20)" >10<tspan font-size="4.2" dy="-2.3">4</tspan></text>
<text x="244.60" y="384.20" font-size="6.4" text-anchor="end" fill="#000" transform="rotate(-45 244.60 384.20)" >10<tspan font-size="4.2" dy="-2.3">5</tspan></text>
<text x="209.80" y="410.30" font-size="8.6" text-anchor="middle" fill="#1a1a1a" font-weight="bold" textLength="27.7" lengthAdjust="spacingAndGlyphs" >CD45 V500</text>
<line x1="298.4" y1="32.5" x2="301.5" y2="32.5" stroke="#111" stroke-width="1"/>
<line x1="298.4" y1="48.5" x2="301.5" y2="48.5" stroke="#111" stroke-width="1"/>
<line x1="298.4" y1="65.5" x2="301.5" y2="65.5" stroke="#111" stroke-width="1"/>
<line x1="298.4" y1="80.5" x2="301.5" y2="80.5" stroke="#111" stroke-width="1"/>
<line x1="298.4" y1="87.5" x2="301.5" y2="87.5" stroke="#111" stroke-width="1"/>
<line x1="299.5" y1="43.5" x2="301.5" y2="43.5" stroke="#333" stroke-width="0.8"/>
<line x1="299.5" y1="40.5" x2="301.5" y2="40.5" stroke="#333" stroke-width="0.8"/>
<line x1="299.5" y1="38.5" x2="301.5" y2="38.5" stroke="#333" stroke-width="0.8"/>
<line x1="299.5" y1="37.5" x2="301.5" y2="37.5" stroke="#333" stroke-width="0.8"/>
<line x1="299.5" y1="36.5" x2="301.5" y2="36.5" stroke="#333" stroke-width="0.8"/>
<line x1="299.5" y1="34.5" x2="301.5" y2="34.5" stroke="#333" stroke-width="0.8"/>
<line x1="299.5" y1="34.5" x2="301.5" y2="34.5" stroke="#333" stroke-width="0.8"/>
<line x1="299.5" y1="33.5" x2="301.5" y2="33.5" stroke="#333" stroke-width="0.8"/>
<line x1="299.5" y1="60.5" x2="301.5" y2="60.5" stroke="#333" stroke-width="0.8"/>
<line x1="299.5" y1="57.5" x2="301.5" y2="57.5" stroke="#333" stroke-width="0.8"/>
<line x1="299.5" y1="55.5" x2="301.5" y2="55.5" stroke="#333" stroke-width="0.8"/>
<line x1="299.5" y1="53.5" x2="301.5" y2="53.5" stroke="#333" stroke-width="0.8"/>
<line x1="299.5" y1="52.5" x2="301.5" y2="52.5" stroke="#333" stroke-width="0.8"/>
<line x1="299.5" y1="51.5" x2="301.5" y2="51.5" stroke="#333" stroke-width="0.8"/>
<line x1="299.5" y1="50.5" x2="301.5" y2="50.5" stroke="#333" stroke-width="0.8"/>
<line x1="299.5" y1="49.5" x2="301.5" y2="49.5" stroke="#333" stroke-width="0.8"/>
<line x1="299.5" y1="76.5" x2="301.5" y2="76.5" stroke="#333" stroke-width="0.8"/>
<line x1="299.5" y1="73.5" x2="301.5" y2="73.5" stroke="#333" stroke-width="0.8"/>
<line x1="299.5" y1="71.5" x2="301.5" y2="71.5" stroke="#333" stroke-width="0.8"/>
<line x1="299.5" y1="70.5" x2="301.5" y2="70.5" stroke="#333" stroke-width="0.8"/>
<line x1="299.5" y1="68.5" x2="301.5" y2="68.5" stroke="#333" stroke-width="0.8"/>
<line x1="299.5" y1="67.5" x2="301.5" y2="67.5" stroke="#333" stroke-width="0.8"/>
<line x1="299.5" y1="67.5" x2="301.5" y2="67.5" stroke="#333" stroke-width="0.8"/>
<line x1="299.5" y1="66.5" x2="301.5" y2="66.5" stroke="#333" stroke-width="0.8"/>
<text x="295.30" y="34.70" font-size="6.2" text-anchor="end" fill="#000" >10<tspan font-size="4.2" dy="-2.3">5</tspan></text>
<text x="295.30" y="50.60" font-size="6.2" text-anchor="end" fill="#000" >10<tspan font-size="4.2" dy="-2.3">4</tspan></text>
<text x="295.30" y="67.90" font-size="6.2" text-anchor="end" fill="#000" >10<tspan font-size="4.2" dy="-2.3">3</tspan></text>
<text x="295.30" y="82.70" font-size="6.2" text-anchor="end" fill="#000" >10<tspan font-size="4.2" dy="-2.3">2</tspan></text>
<text x="295.30" y="89.90" font-size="6.2" text-anchor="end" fill="#000" >&#8722;10<tspan font-size="4.2" dy="-2.3">2</tspan></text>
<text x="276.58" y="59.50" font-size="6.6" text-anchor="middle" fill="#1a1a1a" font-weight="bold" textLength="27" lengthAdjust="spacingAndGlyphs" transform="rotate(-90 276.58 59.50)" >CD13 PE-A</text>
<line x1="314.5" y1="96.5" x2="314.5" y2="99.1" stroke="#111" stroke-width="1"/>
<line x1="335.5" y1="96.5" x2="335.5" y2="99.1" stroke="#111" stroke-width="1"/>
<line x1="355.5" y1="96.5" x2="355.5" y2="99.1" stroke="#111" stroke-width="1"/>
<line x1="374.5" y1="96.5" x2="374.5" y2="99.1" stroke="#111" stroke-width="1"/>
<line x1="320.5" y1="96.5" x2="320.5" y2="98.0" stroke="#333" stroke-width="0.8"/>
<line x1="324.5" y1="96.5" x2="324.5" y2="98.0" stroke="#333" stroke-width="0.8"/>
<line x1="326.5" y1="96.5" x2="326.5" y2="98.0" stroke="#333" stroke-width="0.8"/>
<line x1="328.5" y1="96.5" x2="328.5" y2="98.0" stroke="#333" stroke-width="0.8"/>
<line x1="330.5" y1="96.5" x2="330.5" y2="98.0" stroke="#333" stroke-width="0.8"/>
<line x1="331.5" y1="96.5" x2="331.5" y2="98.0" stroke="#333" stroke-width="0.8"/>
<line x1="332.5" y1="96.5" x2="332.5" y2="98.0" stroke="#333" stroke-width="0.8"/>
<line x1="334.5" y1="96.5" x2="334.5" y2="98.0" stroke="#333" stroke-width="0.8"/>
<line x1="341.5" y1="96.5" x2="341.5" y2="98.0" stroke="#333" stroke-width="0.8"/>
<line x1="344.5" y1="96.5" x2="344.5" y2="98.0" stroke="#333" stroke-width="0.8"/>
<line x1="347.5" y1="96.5" x2="347.5" y2="98.0" stroke="#333" stroke-width="0.8"/>
<line x1="349.5" y1="96.5" x2="349.5" y2="98.0" stroke="#333" stroke-width="0.8"/>
<line x1="350.5" y1="96.5" x2="350.5" y2="98.0" stroke="#333" stroke-width="0.8"/>
<line x1="352.5" y1="96.5" x2="352.5" y2="98.0" stroke="#333" stroke-width="0.8"/>
<line x1="353.5" y1="96.5" x2="353.5" y2="98.0" stroke="#333" stroke-width="0.8"/>
<line x1="354.5" y1="96.5" x2="354.5" y2="98.0" stroke="#333" stroke-width="0.8"/>
<line x1="361.5" y1="96.5" x2="361.5" y2="98.0" stroke="#333" stroke-width="0.8"/>
<line x1="364.5" y1="96.5" x2="364.5" y2="98.0" stroke="#333" stroke-width="0.8"/>
<line x1="366.5" y1="96.5" x2="366.5" y2="98.0" stroke="#333" stroke-width="0.8"/>
<line x1="368.5" y1="96.5" x2="368.5" y2="98.0" stroke="#333" stroke-width="0.8"/>
<line x1="370.5" y1="96.5" x2="370.5" y2="98.0" stroke="#333" stroke-width="0.8"/>
<line x1="371.5" y1="96.5" x2="371.5" y2="98.0" stroke="#333" stroke-width="0.8"/>
<line x1="372.5" y1="96.5" x2="372.5" y2="98.0" stroke="#333" stroke-width="0.8"/>
<line x1="373.5" y1="96.5" x2="373.5" y2="98.0" stroke="#333" stroke-width="0.8"/>
<text x="317.30" y="105.20" font-size="6.4" text-anchor="end" fill="#000" transform="rotate(-45 317.30 105.20)" >&#8722;10<tspan font-size="4.2" dy="-2.3">2</tspan></text>
<text x="338.30" y="105.20" font-size="6.4" text-anchor="end" fill="#000" transform="rotate(-45 338.30 105.20)" >10<tspan font-size="4.2" dy="-2.3">2</tspan></text>
<text x="358.60" y="105.20" font-size="6.4" text-anchor="end" fill="#000" transform="rotate(-45 358.60 105.20)" >10<tspan font-size="4.2" dy="-2.3">4</tspan></text>
<text x="377.80" y="105.20" font-size="6.4" text-anchor="end" fill="#000" transform="rotate(-45 377.80 105.20)" >10<tspan font-size="4.2" dy="-2.3">5</tspan></text>
<text x="341.60" y="130.20" font-size="8.6" text-anchor="middle" fill="#1a1a1a" font-weight="bold" textLength="33" lengthAdjust="spacingAndGlyphs" >CD11b APC-A</text>
<line x1="298.4" y1="173.5" x2="301.5" y2="173.5" stroke="#111" stroke-width="1"/>
<line x1="298.4" y1="189.5" x2="301.5" y2="189.5" stroke="#111" stroke-width="1"/>
<line x1="298.4" y1="206.5" x2="301.5" y2="206.5" stroke="#111" stroke-width="1"/>
<line x1="298.4" y1="222.5" x2="301.5" y2="222.5" stroke="#111" stroke-width="1"/>
<line x1="298.4" y1="229.5" x2="301.5" y2="229.5" stroke="#111" stroke-width="1"/>
<line x1="299.5" y1="184.5" x2="301.5" y2="184.5" stroke="#333" stroke-width="0.8"/>
<line x1="299.5" y1="181.5" x2="301.5" y2="181.5" stroke="#333" stroke-width="0.8"/>
<line x1="299.5" y1="179.5" x2="301.5" y2="179.5" stroke="#333" stroke-width="0.8"/>
<line x1="299.5" y1="178.5" x2="301.5" y2="178.5" stroke="#333" stroke-width="0.8"/>
<line x1="299.5" y1="176.5" x2="301.5" y2="176.5" stroke="#333" stroke-width="0.8"/>
<line x1="299.5" y1="175.5" x2="301.5" y2="175.5" stroke="#333" stroke-width="0.8"/>
<line x1="299.5" y1="174.5" x2="301.5" y2="174.5" stroke="#333" stroke-width="0.8"/>
<line x1="299.5" y1="174.5" x2="301.5" y2="174.5" stroke="#333" stroke-width="0.8"/>
<line x1="299.5" y1="200.5" x2="301.5" y2="200.5" stroke="#333" stroke-width="0.8"/>
<line x1="299.5" y1="197.5" x2="301.5" y2="197.5" stroke="#333" stroke-width="0.8"/>
<line x1="299.5" y1="195.5" x2="301.5" y2="195.5" stroke="#333" stroke-width="0.8"/>
<line x1="299.5" y1="194.5" x2="301.5" y2="194.5" stroke="#333" stroke-width="0.8"/>
<line x1="299.5" y1="192.5" x2="301.5" y2="192.5" stroke="#333" stroke-width="0.8"/>
<line x1="299.5" y1="191.5" x2="301.5" y2="191.5" stroke="#333" stroke-width="0.8"/>
<line x1="299.5" y1="190.5" x2="301.5" y2="190.5" stroke="#333" stroke-width="0.8"/>
<line x1="299.5" y1="189.5" x2="301.5" y2="189.5" stroke="#333" stroke-width="0.8"/>
<line x1="299.5" y1="217.5" x2="301.5" y2="217.5" stroke="#333" stroke-width="0.8"/>
<line x1="299.5" y1="214.5" x2="301.5" y2="214.5" stroke="#333" stroke-width="0.8"/>
<line x1="299.5" y1="212.5" x2="301.5" y2="212.5" stroke="#333" stroke-width="0.8"/>
<line x1="299.5" y1="210.5" x2="301.5" y2="210.5" stroke="#333" stroke-width="0.8"/>
<line x1="299.5" y1="209.5" x2="301.5" y2="209.5" stroke="#333" stroke-width="0.8"/>
<line x1="299.5" y1="208.5" x2="301.5" y2="208.5" stroke="#333" stroke-width="0.8"/>
<line x1="299.5" y1="207.5" x2="301.5" y2="207.5" stroke="#333" stroke-width="0.8"/>
<line x1="299.5" y1="206.5" x2="301.5" y2="206.5" stroke="#333" stroke-width="0.8"/>
<text x="295.30" y="175.50" font-size="6.2" text-anchor="end" fill="#000" >10<tspan font-size="4.2" dy="-2.3">5</tspan></text>
<text x="295.30" y="191.20" font-size="6.2" text-anchor="end" fill="#000" >10<tspan font-size="4.2" dy="-2.3">4</tspan></text>
<text x="295.30" y="208.20" font-size="6.2" text-anchor="end" fill="#000" >10<tspan font-size="4.2" dy="-2.3">3</tspan></text>
<text x="295.30" y="224.30" font-size="6.2" text-anchor="end" fill="#000" >10<tspan font-size="4.2" dy="-2.3">2</tspan></text>
<text x="295.30" y="231.40" font-size="6.2" text-anchor="end" fill="#000" >&#8722;10<tspan font-size="4.2" dy="-2.3">2</tspan></text>
<text x="277.58" y="199.40" font-size="6.6" text-anchor="middle" fill="#1a1a1a" font-weight="bold" textLength="41.5" lengthAdjust="spacingAndGlyphs" transform="rotate(-90 277.58 199.40)" >CD14 APC-Cy7-A</text>
<line x1="308.5" y1="236.5" x2="308.5" y2="239.1" stroke="#111" stroke-width="1"/>
<line x1="316.5" y1="236.5" x2="316.5" y2="239.1" stroke="#111" stroke-width="1"/>
<line x1="334.5" y1="236.5" x2="334.5" y2="239.1" stroke="#111" stroke-width="1"/>
<line x1="353.5" y1="236.5" x2="353.5" y2="239.1" stroke="#111" stroke-width="1"/>
<line x1="372.5" y1="236.5" x2="372.5" y2="239.1" stroke="#111" stroke-width="1"/>
<line x1="340.5" y1="236.5" x2="340.5" y2="238.0" stroke="#333" stroke-width="0.8"/>
<line x1="343.5" y1="236.5" x2="343.5" y2="238.0" stroke="#333" stroke-width="0.8"/>
<line x1="346.5" y1="236.5" x2="346.5" y2="238.0" stroke="#333" stroke-width="0.8"/>
<line x1="347.5" y1="236.5" x2="347.5" y2="238.0" stroke="#333" stroke-width="0.8"/>
<line x1="349.5" y1="236.5" x2="349.5" y2="238.0" stroke="#333" stroke-width="0.8"/>
<line x1="350.5" y1="236.5" x2="350.5" y2="238.0" stroke="#333" stroke-width="0.8"/>
<line x1="352.5" y1="236.5" x2="352.5" y2="238.0" stroke="#333" stroke-width="0.8"/>
<line x1="353.5" y1="236.5" x2="353.5" y2="238.0" stroke="#333" stroke-width="0.8"/>
<line x1="359.5" y1="236.5" x2="359.5" y2="238.0" stroke="#333" stroke-width="0.8"/>
<line x1="362.5" y1="236.5" x2="362.5" y2="238.0" stroke="#333" stroke-width="0.8"/>
<line x1="365.5" y1="236.5" x2="365.5" y2="238.0" stroke="#333" stroke-width="0.8"/>
<line x1="367.5" y1="236.5" x2="367.5" y2="238.0" stroke="#333" stroke-width="0.8"/>
<line x1="368.5" y1="236.5" x2="368.5" y2="238.0" stroke="#333" stroke-width="0.8"/>
<line x1="369.5" y1="236.5" x2="369.5" y2="238.0" stroke="#333" stroke-width="0.8"/>
<line x1="370.5" y1="236.5" x2="370.5" y2="238.0" stroke="#333" stroke-width="0.8"/>
<line x1="371.5" y1="236.5" x2="371.5" y2="238.0" stroke="#333" stroke-width="0.8"/>
<text x="311.50" y="245.20" font-size="6.4" text-anchor="end" fill="#000" transform="rotate(-45 311.50 245.20)" >&#8722;10<tspan font-size="4.2" dy="-2.3">2</tspan></text>
<text x="319.30" y="245.20" font-size="6.4" text-anchor="end" fill="#000" transform="rotate(-45 319.30 245.20)" >10<tspan font-size="4.2" dy="-2.3">2</tspan></text>
<text x="337.60" y="245.20" font-size="6.4" text-anchor="end" fill="#000" transform="rotate(-45 337.60 245.20)" >10<tspan font-size="4.2" dy="-2.3">3</tspan></text>
<text x="357.20" y="245.20" font-size="6.4" text-anchor="end" fill="#000" transform="rotate(-45 357.20 245.20)" >10<tspan font-size="4.2" dy="-2.3">4</tspan></text>
<text x="376.00" y="245.20" font-size="6.4" text-anchor="end" fill="#000" transform="rotate(-45 376.00 245.20)" >10<tspan font-size="4.2" dy="-2.3">5</tspan></text>
<text x="341.60" y="269.30" font-size="8.6" text-anchor="middle" fill="#1a1a1a" font-weight="bold" textLength="27.4" lengthAdjust="spacingAndGlyphs" >CD64 PE-A</text>
<line x1="298.4" y1="312.5" x2="301.5" y2="312.5" stroke="#111" stroke-width="1"/>
<line x1="298.4" y1="328.5" x2="301.5" y2="328.5" stroke="#111" stroke-width="1"/>
<line x1="298.4" y1="345.5" x2="301.5" y2="345.5" stroke="#111" stroke-width="1"/>
<line x1="298.4" y1="360.5" x2="301.5" y2="360.5" stroke="#111" stroke-width="1"/>
<line x1="299.5" y1="323.5" x2="301.5" y2="323.5" stroke="#333" stroke-width="0.8"/>
<line x1="299.5" y1="320.5" x2="301.5" y2="320.5" stroke="#333" stroke-width="0.8"/>
<line x1="299.5" y1="318.5" x2="301.5" y2="318.5" stroke="#333" stroke-width="0.8"/>
<line x1="299.5" y1="317.5" x2="301.5" y2="317.5" stroke="#333" stroke-width="0.8"/>
<line x1="299.5" y1="315.5" x2="301.5" y2="315.5" stroke="#333" stroke-width="0.8"/>
<line x1="299.5" y1="314.5" x2="301.5" y2="314.5" stroke="#333" stroke-width="0.8"/>
<line x1="299.5" y1="313.5" x2="301.5" y2="313.5" stroke="#333" stroke-width="0.8"/>
<line x1="299.5" y1="312.5" x2="301.5" y2="312.5" stroke="#333" stroke-width="0.8"/>
<line x1="299.5" y1="340.5" x2="301.5" y2="340.5" stroke="#333" stroke-width="0.8"/>
<line x1="299.5" y1="337.5" x2="301.5" y2="337.5" stroke="#333" stroke-width="0.8"/>
<line x1="299.5" y1="335.5" x2="301.5" y2="335.5" stroke="#333" stroke-width="0.8"/>
<line x1="299.5" y1="333.5" x2="301.5" y2="333.5" stroke="#333" stroke-width="0.8"/>
<line x1="299.5" y1="332.5" x2="301.5" y2="332.5" stroke="#333" stroke-width="0.8"/>
<line x1="299.5" y1="331.5" x2="301.5" y2="331.5" stroke="#333" stroke-width="0.8"/>
<line x1="299.5" y1="330.5" x2="301.5" y2="330.5" stroke="#333" stroke-width="0.8"/>
<line x1="299.5" y1="329.5" x2="301.5" y2="329.5" stroke="#333" stroke-width="0.8"/>
<line x1="299.5" y1="348.5" x2="301.5" y2="348.5" stroke="#333" stroke-width="0.8"/>
<line x1="299.5" y1="350.5" x2="301.5" y2="350.5" stroke="#333" stroke-width="0.8"/>
<line x1="299.5" y1="352.5" x2="301.5" y2="352.5" stroke="#333" stroke-width="0.8"/>
<line x1="299.5" y1="354.5" x2="301.5" y2="354.5" stroke="#333" stroke-width="0.8"/>
<line x1="299.5" y1="356.5" x2="301.5" y2="356.5" stroke="#333" stroke-width="0.8"/>
<line x1="299.5" y1="359.5" x2="301.5" y2="359.5" stroke="#333" stroke-width="0.8"/>
<line x1="299.5" y1="361.5" x2="301.5" y2="361.5" stroke="#333" stroke-width="0.8"/>
<line x1="299.5" y1="363.5" x2="301.5" y2="363.5" stroke="#333" stroke-width="0.8"/>
<line x1="299.5" y1="365.5" x2="301.5" y2="365.5" stroke="#333" stroke-width="0.8"/>
<line x1="299.5" y1="367.5" x2="301.5" y2="367.5" stroke="#333" stroke-width="0.8"/>
<line x1="299.5" y1="370.5" x2="301.5" y2="370.5" stroke="#333" stroke-width="0.8"/>
<line x1="299.5" y1="372.5" x2="301.5" y2="372.5" stroke="#333" stroke-width="0.8"/>
<text x="295.30" y="314.40" font-size="6.2" text-anchor="end" fill="#000" >10<tspan font-size="4.2" dy="-2.3">5</tspan></text>
<text x="295.30" y="330.60" font-size="6.2" text-anchor="end" fill="#000" >10<tspan font-size="4.2" dy="-2.3">4</tspan></text>
<text x="295.30" y="348.00" font-size="6.2" text-anchor="end" fill="#000" >10<tspan font-size="4.2" dy="-2.3">3</tspan></text>
<text x="295.30" y="362.70" font-size="6.2" text-anchor="end" fill="#000" >&#8722;10<tspan font-size="4.2" dy="-2.3">2</tspan></text>
<text x="276.58" y="340.90" font-size="6.6" text-anchor="middle" fill="#1a1a1a" font-weight="bold" textLength="25.3" lengthAdjust="spacingAndGlyphs" transform="rotate(-90 276.58 340.90)" >GlyA PE-A</text>
<line x1="309.5" y1="375.5" x2="309.5" y2="378.1" stroke="#111" stroke-width="1"/>
<line x1="314.5" y1="375.5" x2="314.5" y2="378.1" stroke="#111" stroke-width="1"/>
<line x1="337.5" y1="375.5" x2="337.5" y2="378.1" stroke="#111" stroke-width="1"/>
<line x1="356.5" y1="375.5" x2="356.5" y2="378.1" stroke="#111" stroke-width="1"/>
<line x1="375.5" y1="375.5" x2="375.5" y2="378.1" stroke="#111" stroke-width="1"/>
<line x1="342.5" y1="375.5" x2="342.5" y2="377.0" stroke="#333" stroke-width="0.8"/>
<line x1="346.5" y1="375.5" x2="346.5" y2="377.0" stroke="#333" stroke-width="0.8"/>
<line x1="348.5" y1="375.5" x2="348.5" y2="377.0" stroke="#333" stroke-width="0.8"/>
<line x1="350.5" y1="375.5" x2="350.5" y2="377.0" stroke="#333" stroke-width="0.8"/>
<line x1="351.5" y1="375.5" x2="351.5" y2="377.0" stroke="#333" stroke-width="0.8"/>
<line x1="353.5" y1="375.5" x2="353.5" y2="377.0" stroke="#333" stroke-width="0.8"/>
<line x1="354.5" y1="375.5" x2="354.5" y2="377.0" stroke="#333" stroke-width="0.8"/>
<line x1="355.5" y1="375.5" x2="355.5" y2="377.0" stroke="#333" stroke-width="0.8"/>
<line x1="361.5" y1="375.5" x2="361.5" y2="377.0" stroke="#333" stroke-width="0.8"/>
<line x1="365.5" y1="375.5" x2="365.5" y2="377.0" stroke="#333" stroke-width="0.8"/>
<line x1="367.5" y1="375.5" x2="367.5" y2="377.0" stroke="#333" stroke-width="0.8"/>
<line x1="369.5" y1="375.5" x2="369.5" y2="377.0" stroke="#333" stroke-width="0.8"/>
<line x1="370.5" y1="375.5" x2="370.5" y2="377.0" stroke="#333" stroke-width="0.8"/>
<line x1="372.5" y1="375.5" x2="372.5" y2="377.0" stroke="#333" stroke-width="0.8"/>
<line x1="373.5" y1="375.5" x2="373.5" y2="377.0" stroke="#333" stroke-width="0.8"/>
<line x1="374.5" y1="375.5" x2="374.5" y2="377.0" stroke="#333" stroke-width="0.8"/>
<text x="312.90" y="384.20" font-size="6.4" text-anchor="end" fill="#000" transform="rotate(-45 312.90 384.20)" >&#8722;10<tspan font-size="4.2" dy="-2.3">3</tspan></text>
<text x="318.00" y="384.20" font-size="6.4" text-anchor="end" fill="#000" transform="rotate(-45 318.00 384.20)" >0</text>
<text x="340.30" y="384.20" font-size="6.4" text-anchor="end" fill="#000" transform="rotate(-45 340.30 384.20)" >10<tspan font-size="4.2" dy="-2.3">3</tspan></text>
<text x="359.50" y="384.20" font-size="6.4" text-anchor="end" fill="#000" transform="rotate(-45 359.50 384.20)" >10<tspan font-size="4.2" dy="-2.3">4</tspan></text>
<text x="378.40" y="384.20" font-size="6.4" text-anchor="end" fill="#000" transform="rotate(-45 378.40 384.20)" >10<tspan font-size="4.2" dy="-2.3">5</tspan></text>
<text x="341.20" y="411.10" font-size="8.6" text-anchor="middle" fill="#1a1a1a" font-weight="bold" textLength="41" lengthAdjust="spacingAndGlyphs" >CD105 PE-Cy7-A</text>
<line x1="426.4" y1="25.5" x2="429.5" y2="25.5" stroke="#111" stroke-width="1"/>
<line x1="426.4" y1="43.5" x2="429.5" y2="43.5" stroke="#111" stroke-width="1"/>
<line x1="426.4" y1="60.5" x2="429.5" y2="60.5" stroke="#111" stroke-width="1"/>
<line x1="426.4" y1="78.5" x2="429.5" y2="78.5" stroke="#111" stroke-width="1"/>
<line x1="426.4" y1="96.5" x2="429.5" y2="96.5" stroke="#111" stroke-width="1"/>
<line x1="427.5" y1="29.5" x2="429.5" y2="29.5" stroke="#333" stroke-width="0.8"/>
<line x1="427.5" y1="34.5" x2="429.5" y2="34.5" stroke="#333" stroke-width="0.8"/>
<line x1="427.5" y1="38.5" x2="429.5" y2="38.5" stroke="#333" stroke-width="0.8"/>
<line x1="427.5" y1="47.5" x2="429.5" y2="47.5" stroke="#333" stroke-width="0.8"/>
<line x1="427.5" y1="51.5" x2="429.5" y2="51.5" stroke="#333" stroke-width="0.8"/>
<line x1="427.5" y1="56.5" x2="429.5" y2="56.5" stroke="#333" stroke-width="0.8"/>
<line x1="427.5" y1="65.5" x2="429.5" y2="65.5" stroke="#333" stroke-width="0.8"/>
<line x1="427.5" y1="69.5" x2="429.5" y2="69.5" stroke="#333" stroke-width="0.8"/>
<line x1="427.5" y1="74.5" x2="429.5" y2="74.5" stroke="#333" stroke-width="0.8"/>
<line x1="427.5" y1="83.5" x2="429.5" y2="83.5" stroke="#333" stroke-width="0.8"/>
<line x1="427.5" y1="87.5" x2="429.5" y2="87.5" stroke="#333" stroke-width="0.8"/>
<line x1="427.5" y1="91.5" x2="429.5" y2="91.5" stroke="#333" stroke-width="0.8"/>
<text x="423.20" y="27.40" font-size="6.2" text-anchor="end" fill="#000" >49</text>
<text x="423.20" y="45.20" font-size="6.2" text-anchor="end" fill="#000" >37</text>
<text x="423.20" y="63.00" font-size="6.2" text-anchor="end" fill="#000" >25</text>
<text x="423.20" y="81.10" font-size="6.2" text-anchor="end" fill="#000" >12</text>
<text x="423.20" y="98.50" font-size="6.2" text-anchor="end" fill="#000" >0</text>
<line x1="429.5" y1="96.5" x2="429.5" y2="99.1" stroke="#111" stroke-width="1"/>
<line x1="450.5" y1="96.5" x2="450.5" y2="99.1" stroke="#111" stroke-width="1"/>
<line x1="471.5" y1="96.5" x2="471.5" y2="99.1" stroke="#111" stroke-width="1"/>
<line x1="492.5" y1="96.5" x2="492.5" y2="99.1" stroke="#111" stroke-width="1"/>
<line x1="510.5" y1="96.5" x2="510.5" y2="99.1" stroke="#111" stroke-width="1"/>
<line x1="434.5" y1="96.5" x2="434.5" y2="98.0" stroke="#333" stroke-width="0.8"/>
<line x1="440.5" y1="96.5" x2="440.5" y2="98.0" stroke="#333" stroke-width="0.8"/>
<line x1="445.5" y1="96.5" x2="445.5" y2="98.0" stroke="#333" stroke-width="0.8"/>
<line x1="455.5" y1="96.5" x2="455.5" y2="98.0" stroke="#333" stroke-width="0.8"/>
<line x1="461.5" y1="96.5" x2="461.5" y2="98.0" stroke="#333" stroke-width="0.8"/>
<line x1="466.5" y1="96.5" x2="466.5" y2="98.0" stroke="#333" stroke-width="0.8"/>
<line x1="476.5" y1="96.5" x2="476.5" y2="98.0" stroke="#333" stroke-width="0.8"/>
<line x1="482.5" y1="96.5" x2="482.5" y2="98.0" stroke="#333" stroke-width="0.8"/>
<line x1="487.5" y1="96.5" x2="487.5" y2="98.0" stroke="#333" stroke-width="0.8"/>
<line x1="497.5" y1="96.5" x2="497.5" y2="98.0" stroke="#333" stroke-width="0.8"/>
<line x1="501.5" y1="96.5" x2="501.5" y2="98.0" stroke="#333" stroke-width="0.8"/>
<line x1="505.5" y1="96.5" x2="505.5" y2="98.0" stroke="#333" stroke-width="0.8"/>
<text x="431.60" y="103.60" font-size="6.8" text-anchor="end" fill="#000" transform="rotate(-45 431.60 103.60)" >-3624</text>
<text x="452.80" y="103.60" font-size="6.8" text-anchor="end" fill="#000" transform="rotate(-45 452.80 103.60)" >62818</text>
<text x="473.50" y="103.60" font-size="6.8" text-anchor="end" fill="#000" transform="rotate(-45 473.50 103.60)" >129260</text>
<text x="494.70" y="103.60" font-size="6.8" text-anchor="end" fill="#000" transform="rotate(-45 494.70 103.60)" >195702</text>
<text x="512.40" y="103.60" font-size="6.8" text-anchor="end" fill="#000" transform="rotate(-45 512.40 103.60)" >262</text>
<text x="471.80" y="129.90" font-size="8.9" text-anchor="middle" fill="#1a1a1a" font-weight="bold" textLength="15.8" lengthAdjust="spacingAndGlyphs" >SSC-A</text>
<line x1="426.4" y1="165.5" x2="429.5" y2="165.5" stroke="#111" stroke-width="1"/>
<line x1="426.4" y1="183.5" x2="429.5" y2="183.5" stroke="#111" stroke-width="1"/>
<line x1="426.4" y1="200.5" x2="429.5" y2="200.5" stroke="#111" stroke-width="1"/>
<line x1="426.4" y1="218.5" x2="429.5" y2="218.5" stroke="#111" stroke-width="1"/>
<line x1="426.4" y1="236.5" x2="429.5" y2="236.5" stroke="#111" stroke-width="1"/>
<line x1="427.5" y1="169.5" x2="429.5" y2="169.5" stroke="#333" stroke-width="0.8"/>
<line x1="427.5" y1="174.5" x2="429.5" y2="174.5" stroke="#333" stroke-width="0.8"/>
<line x1="427.5" y1="178.5" x2="429.5" y2="178.5" stroke="#333" stroke-width="0.8"/>
<line x1="427.5" y1="187.5" x2="429.5" y2="187.5" stroke="#333" stroke-width="0.8"/>
<line x1="427.5" y1="191.5" x2="429.5" y2="191.5" stroke="#333" stroke-width="0.8"/>
<line x1="427.5" y1="196.5" x2="429.5" y2="196.5" stroke="#333" stroke-width="0.8"/>
<line x1="427.5" y1="205.5" x2="429.5" y2="205.5" stroke="#333" stroke-width="0.8"/>
<line x1="427.5" y1="209.5" x2="429.5" y2="209.5" stroke="#333" stroke-width="0.8"/>
<line x1="427.5" y1="214.5" x2="429.5" y2="214.5" stroke="#333" stroke-width="0.8"/>
<line x1="427.5" y1="223.5" x2="429.5" y2="223.5" stroke="#333" stroke-width="0.8"/>
<line x1="427.5" y1="227.5" x2="429.5" y2="227.5" stroke="#333" stroke-width="0.8"/>
<line x1="427.5" y1="231.5" x2="429.5" y2="231.5" stroke="#333" stroke-width="0.8"/>
<text x="423.20" y="167.40" font-size="6.2" text-anchor="end" fill="#000" >397</text>
<text x="423.20" y="185.20" font-size="6.2" text-anchor="end" fill="#000" >298</text>
<text x="423.20" y="203.00" font-size="6.2" text-anchor="end" fill="#000" >199</text>
<text x="423.20" y="221.10" font-size="6.2" text-anchor="end" fill="#000" >99</text>
<text x="423.20" y="238.50" font-size="6.2" text-anchor="end" fill="#000" >0</text>
<line x1="429.5" y1="236.5" x2="429.5" y2="239.1" stroke="#111" stroke-width="1"/>
<line x1="450.5" y1="236.5" x2="450.5" y2="239.1" stroke="#111" stroke-width="1"/>
<line x1="471.5" y1="236.5" x2="471.5" y2="239.1" stroke="#111" stroke-width="1"/>
<line x1="492.5" y1="236.5" x2="492.5" y2="239.1" stroke="#111" stroke-width="1"/>
<line x1="510.5" y1="236.5" x2="510.5" y2="239.1" stroke="#111" stroke-width="1"/>
<line x1="434.5" y1="236.5" x2="434.5" y2="238.0" stroke="#333" stroke-width="0.8"/>
<line x1="440.5" y1="236.5" x2="440.5" y2="238.0" stroke="#333" stroke-width="0.8"/>
<line x1="445.5" y1="236.5" x2="445.5" y2="238.0" stroke="#333" stroke-width="0.8"/>
<line x1="455.5" y1="236.5" x2="455.5" y2="238.0" stroke="#333" stroke-width="0.8"/>
<line x1="461.5" y1="236.5" x2="461.5" y2="238.0" stroke="#333" stroke-width="0.8"/>
<line x1="466.5" y1="236.5" x2="466.5" y2="238.0" stroke="#333" stroke-width="0.8"/>
<line x1="476.5" y1="236.5" x2="476.5" y2="238.0" stroke="#333" stroke-width="0.8"/>
<line x1="482.5" y1="236.5" x2="482.5" y2="238.0" stroke="#333" stroke-width="0.8"/>
<line x1="487.5" y1="236.5" x2="487.5" y2="238.0" stroke="#333" stroke-width="0.8"/>
<line x1="497.5" y1="236.5" x2="497.5" y2="238.0" stroke="#333" stroke-width="0.8"/>
<line x1="501.5" y1="236.5" x2="501.5" y2="238.0" stroke="#333" stroke-width="0.8"/>
<line x1="505.5" y1="236.5" x2="505.5" y2="238.0" stroke="#333" stroke-width="0.8"/>
<text x="431.60" y="243.60" font-size="6.8" text-anchor="end" fill="#000" transform="rotate(-45 431.60 243.60)" >&#8722;623</text>
<text x="452.80" y="243.60" font-size="6.8" text-anchor="end" fill="#000" transform="rotate(-45 452.80 243.60)" >65068</text>
<text x="473.50" y="243.60" font-size="6.8" text-anchor="end" fill="#000" transform="rotate(-45 473.50 243.60)" >130760</text>
<text x="494.70" y="243.60" font-size="6.8" text-anchor="end" fill="#000" transform="rotate(-45 494.70 243.60)" >196452</text>
<text x="512.40" y="243.60" font-size="6.8" text-anchor="end" fill="#000" transform="rotate(-45 512.40 243.60)" >262</text>
<text x="471.80" y="269.90" font-size="8.9" text-anchor="middle" fill="#1a1a1a" font-weight="bold" textLength="15.8" lengthAdjust="spacingAndGlyphs" >SSC-A</text>
<line x1="426.4" y1="305.5" x2="429.5" y2="305.5" stroke="#111" stroke-width="1"/>
<line x1="426.4" y1="323.5" x2="429.5" y2="323.5" stroke="#111" stroke-width="1"/>
<line x1="426.4" y1="340.5" x2="429.5" y2="340.5" stroke="#111" stroke-width="1"/>
<line x1="426.4" y1="358.5" x2="429.5" y2="358.5" stroke="#111" stroke-width="1"/>
<line x1="426.4" y1="376.5" x2="429.5" y2="376.5" stroke="#111" stroke-width="1"/>
<line x1="427.5" y1="309.5" x2="429.5" y2="309.5" stroke="#333" stroke-width="0.8"/>
<line x1="427.5" y1="314.5" x2="429.5" y2="314.5" stroke="#333" stroke-width="0.8"/>
<line x1="427.5" y1="318.5" x2="429.5" y2="318.5" stroke="#333" stroke-width="0.8"/>
<line x1="427.5" y1="327.5" x2="429.5" y2="327.5" stroke="#333" stroke-width="0.8"/>
<line x1="427.5" y1="331.5" x2="429.5" y2="331.5" stroke="#333" stroke-width="0.8"/>
<line x1="427.5" y1="336.5" x2="429.5" y2="336.5" stroke="#333" stroke-width="0.8"/>
<line x1="427.5" y1="345.5" x2="429.5" y2="345.5" stroke="#333" stroke-width="0.8"/>
<line x1="427.5" y1="349.5" x2="429.5" y2="349.5" stroke="#333" stroke-width="0.8"/>
<line x1="427.5" y1="354.5" x2="429.5" y2="354.5" stroke="#333" stroke-width="0.8"/>
<line x1="427.5" y1="363.5" x2="429.5" y2="363.5" stroke="#333" stroke-width="0.8"/>
<line x1="427.5" y1="367.5" x2="429.5" y2="367.5" stroke="#333" stroke-width="0.8"/>
<line x1="427.5" y1="371.5" x2="429.5" y2="371.5" stroke="#333" stroke-width="0.8"/>
<text x="423.20" y="307.40" font-size="6.2" text-anchor="end" fill="#000" >389</text>
<text x="423.20" y="325.20" font-size="6.2" text-anchor="end" fill="#000" >292</text>
<text x="423.20" y="343.00" font-size="6.2" text-anchor="end" fill="#000" >195</text>
<text x="423.20" y="361.10" font-size="6.2" text-anchor="end" fill="#000" >97</text>
<text x="423.20" y="378.50" font-size="6.2" text-anchor="end" fill="#000" >0</text>
<line x1="429.5" y1="375.5" x2="429.5" y2="378.1" stroke="#111" stroke-width="1"/>
<line x1="450.5" y1="375.5" x2="450.5" y2="378.1" stroke="#111" stroke-width="1"/>
<line x1="471.5" y1="375.5" x2="471.5" y2="378.1" stroke="#111" stroke-width="1"/>
<line x1="492.5" y1="375.5" x2="492.5" y2="378.1" stroke="#111" stroke-width="1"/>
<line x1="510.5" y1="375.5" x2="510.5" y2="378.1" stroke="#111" stroke-width="1"/>
<line x1="434.5" y1="375.5" x2="434.5" y2="377.0" stroke="#333" stroke-width="0.8"/>
<line x1="440.5" y1="375.5" x2="440.5" y2="377.0" stroke="#333" stroke-width="0.8"/>
<line x1="445.5" y1="375.5" x2="445.5" y2="377.0" stroke="#333" stroke-width="0.8"/>
<line x1="455.5" y1="375.5" x2="455.5" y2="377.0" stroke="#333" stroke-width="0.8"/>
<line x1="461.5" y1="375.5" x2="461.5" y2="377.0" stroke="#333" stroke-width="0.8"/>
<line x1="466.5" y1="375.5" x2="466.5" y2="377.0" stroke="#333" stroke-width="0.8"/>
<line x1="476.5" y1="375.5" x2="476.5" y2="377.0" stroke="#333" stroke-width="0.8"/>
<line x1="482.5" y1="375.5" x2="482.5" y2="377.0" stroke="#333" stroke-width="0.8"/>
<line x1="487.5" y1="375.5" x2="487.5" y2="377.0" stroke="#333" stroke-width="0.8"/>
<line x1="497.5" y1="375.5" x2="497.5" y2="377.0" stroke="#333" stroke-width="0.8"/>
<line x1="501.5" y1="375.5" x2="501.5" y2="377.0" stroke="#333" stroke-width="0.8"/>
<line x1="505.5" y1="375.5" x2="505.5" y2="377.0" stroke="#333" stroke-width="0.8"/>
<text x="431.60" y="382.60" font-size="6.8" text-anchor="end" fill="#000" transform="rotate(-45 431.60 382.60)" >&#8722;785</text>
<text x="452.80" y="382.60" font-size="6.8" text-anchor="end" fill="#000" transform="rotate(-45 452.80 382.60)" >64947</text>
<text x="473.50" y="382.60" font-size="6.8" text-anchor="end" fill="#000" transform="rotate(-45 473.50 382.60)" >130679</text>
<text x="494.70" y="382.60" font-size="6.8" text-anchor="end" fill="#000" transform="rotate(-45 494.70 382.60)" >196412</text>
<text x="512.40" y="382.60" font-size="6.8" text-anchor="end" fill="#000" transform="rotate(-45 512.40 382.60)" >262</text>
<text x="471.80" y="409.90" font-size="8.9" text-anchor="middle" fill="#1a1a1a" font-weight="bold" textLength="15.8" lengthAdjust="spacingAndGlyphs" >SSC-A</text>
</svg></body></html>
